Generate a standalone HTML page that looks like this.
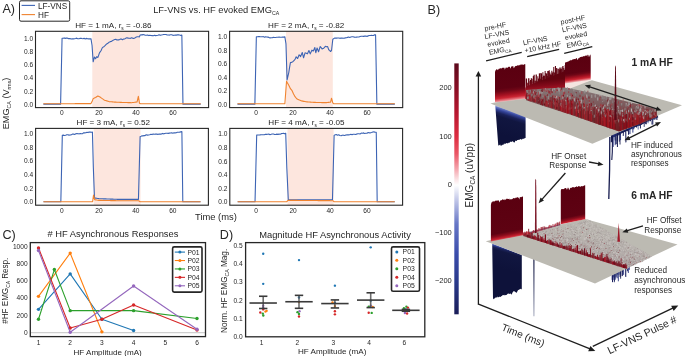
<!DOCTYPE html>
<html><head><meta charset="utf-8"><style>
html,body{margin:0;padding:0;background:#fff;width:685px;height:356px;overflow:hidden}
svg{display:block;font-family:"Liberation Sans",sans-serif;will-change:transform;filter:blur(0.3px)}
</style></head><body>
<svg width="685" height="356" viewBox="0 0 685 356">
<text x="2.4" y="12.9" font-size="12.6" fill="#262626">A)</text>
<rect x="19.5" y="0.8" width="50.2" height="20.4" rx="1.5" fill="#fff" stroke="#262626" stroke-width="1"/>
<line x1="21.6" y1="5.4" x2="35" y2="5.4" stroke="#3d64b4" stroke-width="1.1"/>
<line x1="21.6" y1="14.6" x2="35" y2="14.6" stroke="#f0832f" stroke-width="1.1"/>
<text x="38" y="9.4" font-size="8.2" fill="#262626">LF-VNS</text>
<text x="38" y="17.9" font-size="8.2" fill="#262626">HF</text>
<text x="153.2" y="12.8" font-size="9.3" fill="#262626">LF-VNS vs. HF evoked EMG<tspan font-size="5.2" dy="2.6">CA</tspan></text>
<rect x="92.3" y="31.3" width="47.7" height="76.3" fill="#fde6de"/>
<polyline points="43.37,104.13 44.44,104.13 45.52,104.13 46.6,104.13 47.67,104.13 48.75,104.13 49.82,104.13 50.9,104.13 51.98,104.13 53.05,104.13 54.13,104.13 55.21,104.13 56.28,104.13 57.36,104.13 58.43,104.13 59.51,104.13 60.59,104.13 62.07,38.18 63.14,38.31 64.21,37.92 65.29,38.38 66.36,38.01 67.44,38.15 68.67,38.61 69.9,38.47 71.14,39.06 72.25,38.68 73.36,38.9 74.47,38.82 75.58,38.49 76.69,38.11 77.75,38.71 78.81,38.68 79.87,38.41 80.92,38.2 81.98,38.54 83.04,38.73 84.1,38.32 85.24,39.03 86.38,38.37 87.52,38.79 88.66,38.89 89.81,38.89 90.95,38.71 92.06,45.51 93.17,61.78 94.47,56.95 95.58,58.67 96.69,56.66 97.8,57.44 98.63,55.33 99.46,52.85 101.13,50.51 102.24,47.84 103.35,46.93 104.18,46.46 105.02,45.69 106.68,43.97 107.89,43.3 109.09,42.13 110.2,41.65 111.31,41.45 112.42,40.63 113.53,40.11 114.64,39.51 115.76,39.3 116.87,39.97 117.98,39.76 119.09,39.88 120.2,39.09 121.31,39.05 122.42,39.75 123.62,39.03 124.83,38.93 125.94,38.07 127.05,37.64 128.16,38.15 129.27,38.27 130.38,38.35 131.49,37.69 132.6,38.13 133.71,38.5 134.82,38.04 135.94,37.18 137.14,36.74 138.34,36.75 139.45,36.86 140.01,35.31 141.04,34.83 142.08,34.9 143.12,34.66 144.15,34.82 145.19,35.26 146.35,35.23 147.51,35.04 148.66,35.59 149.82,35.29 150.98,35.56 152.13,35.64 153.29,35.73 154.45,35.21 155.61,35.63 156.76,35.46 157.92,35.26 159.08,34.8 160.23,35.34 161.39,34.97 162.55,34.81 163.71,34.47 164.86,34.56 166.02,34.56 167.18,35.06 168.33,35 169.49,35.08 170.65,34.71 171.8,34.7 172.96,35.37 174.07,35.28 175.18,35.17 176.29,35.11 177.4,34.85 178.52,34.7 179.63,35.06 180.74,35.38 181.85,35.16 182.96,104.13 184.07,104.13 185.18,104.13 186.29,104.13 187.4,104.13 188.51,104.13 189.62,104.13 190.73,104.13 191.85,104.13 192.96,104.13 194.07,104.13 195.18,104.13 196.29,104.13 197.4,104.13 198.51,104.13 199.62,104.13 200.73,104.13" fill="none" stroke="#3d64b4" stroke-width="1.1" stroke-linejoin="round"/>
<polyline points="43.37,103.8 44.47,103.8 45.58,103.8 46.69,103.79 47.79,103.79 48.9,103.78 50.01,103.78 51.11,103.77 52.22,103.77 53.33,103.76 54.43,103.76 55.54,103.75 56.65,103.75 57.75,103.75 58.86,103.74 59.97,103.74 61.07,103.73 62.18,103.73 63.29,103.72 64.39,103.72 65.5,103.71 66.6,103.71 67.71,103.7 68.82,103.7 69.92,103.7 71.03,103.69 72.14,103.69 73.24,103.68 74.35,103.68 75.46,103.67 76.56,103.67 77.67,103.66 78.78,103.66 79.88,103.65 80.99,103.65 82.1,103.64 83.2,103.64 84.31,103.64 85.42,103.63 86.52,103.63 87.63,103.62 88.73,103.62 89.84,103.61 90.95,103.61 92.06,101.58 93.17,98.64 94.37,98.08 95.58,97.52 96.69,96.74 97.8,95.95 98.91,96.51 100.02,97.06 101.13,97.85 102.24,98.64 103.35,99.42 104.46,100.21 105.62,100.55 106.78,100.89 107.93,101.24 109.09,101.58 110.2,101.69 111.31,101.81 112.42,101.92 113.53,102.04 114.64,102.09 115.76,102.14 116.87,102.19 117.98,102.23 119.09,102.28 120.2,102.33 121.31,102.38 122.42,102.43 123.55,102.46 124.69,102.5 125.82,102.53 126.96,102.56 128.09,102.59 129.22,102.63 130.36,102.66 131.49,102.69 132.6,102.56 133.71,102.43 134.82,102.3 135.94,102.17 137.05,102.04 138.34,96.41 139.45,103.15 140.56,103.74 141.68,103.74 142.79,103.74 143.91,103.74 145.02,103.74 146.13,103.75 147.25,103.75 148.36,103.75 149.48,103.75 150.59,103.75 151.71,103.75 152.82,103.75 153.93,103.75 155.05,103.75 156.16,103.76 157.28,103.76 158.39,103.76 159.51,103.76 160.62,103.76 161.73,103.76 162.85,103.76 163.96,103.76 165.08,103.77 166.19,103.77 167.3,103.77 168.42,103.77 169.53,103.77 170.65,103.77 171.76,103.77 172.88,103.77 173.99,103.78 175.1,103.78 176.22,103.78 177.33,103.78 178.45,103.78 179.56,103.78 180.68,103.78 181.79,103.78 182.9,103.79 184.02,103.79 185.13,103.79 186.25,103.79 187.36,103.79 188.48,103.79 189.59,103.79 190.7,103.79 191.82,103.79 192.93,103.8 194.05,103.8 195.16,103.8 196.27,103.8 197.39,103.8 198.5,103.8 199.62,103.8 200.73,103.8" fill="none" stroke="#f0832f" stroke-width="1.1" stroke-linejoin="round"/>
<rect x="35.5" y="31.3" width="173.1" height="76.3" fill="none" stroke="#262626" stroke-width="1.1"/>
<text x="33.1" y="106.63" font-size="6.6" text-anchor="end" fill="#262626">0.0</text>
<text x="33.1" y="93.54" font-size="6.6" text-anchor="end" fill="#262626">0.2</text>
<text x="33.1" y="80.46" font-size="6.6" text-anchor="end" fill="#262626">0.4</text>
<text x="33.1" y="67.37" font-size="6.6" text-anchor="end" fill="#262626">0.6</text>
<text x="33.1" y="54.28" font-size="6.6" text-anchor="end" fill="#262626">0.8</text>
<text x="33.1" y="41.19" font-size="6.6" text-anchor="end" fill="#262626">1.0</text>
<text x="61.88" y="115.2" font-size="6.6" text-anchor="middle" fill="#262626">0</text>
<text x="98.91" y="115.2" font-size="6.6" text-anchor="middle" fill="#262626">20</text>
<text x="135.94" y="115.2" font-size="6.6" text-anchor="middle" fill="#262626">40</text>
<text x="172.96" y="115.2" font-size="6.6" text-anchor="middle" fill="#262626">60</text>
<text x="113.35" y="27.9" font-size="8.1" text-anchor="middle" fill="#262626">HF = 1 mA, r<tspan font-size="4.8" dy="1.6">s</tspan><tspan dy="-1.6"> = -0.86</tspan></text>
<rect x="286" y="31.3" width="46.8" height="76.3" fill="#fde6de"/>
<polyline points="237.47,104.13 238.56,104.13 239.64,104.13 240.73,104.13 241.82,104.13 242.91,104.13 243.99,104.13 245.08,104.13 246.17,104.13 247.26,104.13 248.34,104.13 249.43,104.13 250.52,104.13 251.61,104.13 252.7,104.13 253.78,104.13 254.87,104.13 256.35,36.89 257.52,36.73 258.7,36.42 259.87,36.63 261.04,36.78 262.21,36.69 263.39,36.65 264.5,37.32 265.61,36.8 266.72,37.07 267.83,37.16 268.94,37.39 270.05,37.89 271.16,37.71 272.27,37.78 273.38,37.19 274.49,37.48 275.65,37.43 276.8,37.27 277.95,37.26 279.1,37.07 280.25,37.26 281.41,37.26 282.56,37.09 283.71,37.09 284.86,36.83 285.97,43.91 287.08,79.96 288.75,72.75 289.58,67.4 290.42,62.56 291.62,62.36 292.82,61.7 293.93,60.52 295.04,59.39 296.16,56.82 297.64,58.53 299.12,54.77 300.6,56.55 302.26,52.49 303.56,57.8 305.04,52.8 306.25,53.18 307.45,53.81 308.93,50.46 310.23,53.9 311.89,50.17 313.37,51.04 314.85,47.54 315.78,52.77 317.08,48 318.56,51.78 319.39,49.12 320.22,46.5 321.15,47.71 322.07,48.95 323.74,48.23 325.41,46.32 326.52,46.82 327.63,46.67 328.74,49.76 329.66,50.37 330.59,51.54 331.52,50.48 332.81,39.23 334.48,38.15 335.56,38.17 336.64,38.13 337.73,38.03 338.81,38.01 339.89,38.35 340.97,38.03 342.05,38.08 343.14,38.26 344.22,38.17 345.3,37.89 346.38,37.82 347.47,37.39 348.55,37.09 349.71,37.42 350.86,36.94 352.02,36.81 353.18,36.76 354.33,37.15 355.49,37.18 356.65,37.09 357.81,37.03 358.96,36.94 360.12,36.52 361.28,36.21 362.43,36.18 363.59,36.38 364.75,36.16 365.9,35.96 367.06,36.45 368.17,35.85 369.28,35.51 370.39,35.48 371.5,35.37 372.62,35.46 373.6,35.48 374.59,34.76 375.58,34.9 376.87,104.13 378,104.13 379.12,104.13 380.24,104.13 381.36,104.13 382.49,104.13 383.61,104.13 384.73,104.13 385.85,104.13 386.98,104.13 388.1,104.13 389.22,104.13 390.34,104.13 391.46,104.13 392.59,104.13 393.71,104.13 394.83,104.13" fill="none" stroke="#3d64b4" stroke-width="1.1" stroke-linejoin="round"/>
<polyline points="237.47,103.8 238.57,103.8 239.67,103.8 240.77,103.8 241.88,103.8 242.98,103.8 244.08,103.8 245.18,103.8 246.29,103.8 247.39,103.8 248.49,103.8 249.59,103.8 250.69,103.8 251.8,103.8 252.9,103.8 254,103.8 255.1,103.8 256.21,103.8 257.31,103.8 258.41,103.8 259.51,103.8 260.61,103.8 261.72,103.8 262.82,103.8 263.92,103.8 265.02,103.8 266.13,103.8 267.23,103.8 268.33,103.8 269.43,103.8 270.53,103.8 271.64,103.8 272.74,103.8 273.84,103.8 274.94,103.8 276.04,103.8 277.15,103.8 278.25,103.8 279.35,103.8 280.45,103.8 281.56,103.8 282.66,103.8 283.76,103.8 284.86,103.8 285.7,92.52 286.53,81.24 287.45,82.92 288.38,84.6 289.4,86.62 290.42,88.64 292.08,90.66 293.56,94.03 295.04,96.72 296.71,98.74 298.1,99.42 299.49,100.09 300.6,100.5 301.71,100.9 302.77,101.12 303.84,101.34 304.9,101.56 305.97,101.77 307.08,101.87 308.19,101.96 309.3,102.06 310.41,102.15 311.52,102.25 312.71,102.3 313.89,102.35 315.08,102.41 316.26,102.46 317.45,102.52 318.56,102.53 319.67,102.55 320.78,102.57 321.89,102.58 323,102.6 324.11,102.62 325.22,102.63 326.33,102.65 327.4,102.52 328.46,102.38 329.53,102.25 330.59,102.11 331.52,98.21 332.81,102.78 333.74,103.8 334.85,103.8 335.96,103.8 337.07,103.8 338.18,103.8 339.29,103.8 340.4,103.8 341.51,103.8 342.62,103.8 343.73,103.8 344.85,103.8 345.96,103.8 347.07,103.8 348.18,103.8 349.29,103.8 350.4,103.8 351.51,103.8 352.62,103.8 353.73,103.8 354.84,103.8 355.95,103.8 357.06,103.8 358.18,103.8 359.29,103.8 360.4,103.8 361.51,103.8 362.62,103.8 363.73,103.8 364.84,103.8 365.95,103.8 367.06,103.8 368.17,103.8 369.28,103.8 370.39,103.8 371.5,103.8 372.62,103.8 373.73,103.8 374.84,103.8 375.95,103.8 377.06,103.8 378.17,103.8 379.28,103.8 380.39,103.8 381.5,103.8 382.61,103.8 383.72,103.8 384.83,103.8 385.95,103.8 387.06,103.8 388.17,103.8 389.28,103.8 390.39,103.8 391.5,103.8 392.61,103.8 393.72,103.8 394.83,103.8" fill="none" stroke="#f0832f" stroke-width="1.1" stroke-linejoin="round"/>
<rect x="229.6" y="31.3" width="173.1" height="76.3" fill="none" stroke="#262626" stroke-width="1.1"/>
<text x="227.2" y="106.63" font-size="6.6" text-anchor="end" fill="#262626">0.0</text>
<text x="227.2" y="93.16" font-size="6.6" text-anchor="end" fill="#262626">0.2</text>
<text x="227.2" y="79.69" font-size="6.6" text-anchor="end" fill="#262626">0.4</text>
<text x="227.2" y="66.23" font-size="6.6" text-anchor="end" fill="#262626">0.6</text>
<text x="227.2" y="52.76" font-size="6.6" text-anchor="end" fill="#262626">0.8</text>
<text x="227.2" y="39.29" font-size="6.6" text-anchor="end" fill="#262626">1.0</text>
<text x="255.98" y="115.2" font-size="6.6" text-anchor="middle" fill="#262626">0</text>
<text x="293.01" y="115.2" font-size="6.6" text-anchor="middle" fill="#262626">20</text>
<text x="330.04" y="115.2" font-size="6.6" text-anchor="middle" fill="#262626">40</text>
<text x="367.06" y="115.2" font-size="6.6" text-anchor="middle" fill="#262626">60</text>
<text x="306.2" y="27.9" font-size="8.1" text-anchor="middle" fill="#262626">HF = 2 mA, r<tspan font-size="4.8" dy="1.6">s</tspan><tspan dy="-1.6"> = -0.82</tspan></text>
<rect x="93.7" y="128.4" width="46.8" height="76.8" fill="#fde6de"/>
<polyline points="43.45,201.72 44.54,201.72 45.63,201.72 46.71,201.72 47.8,201.72 48.88,201.72 49.97,201.72 51.05,201.72 52.14,201.72 53.23,201.72 54.31,201.72 55.4,201.72 56.48,201.72 57.57,201.72 58.66,201.72 59.74,201.72 60.83,201.72 62.31,135.38 63.41,135.11 64.52,135.45 65.63,135.32 66.74,134.75 67.85,134.8 68.96,135.13 70.07,135.03 71.18,134.89 72.33,134.14 73.49,134.1 74.64,134.51 75.8,133.82 76.95,133.57 78.11,133.71 79.26,133.83 80.42,133.54 81.51,133.73 82.6,133.68 83.69,132.75 84.79,132.86 85.88,132.81 86.97,132.33 88.06,132.59 89.15,132.09 90.25,131.97 91.34,132.33 92.43,132.15 93.35,167.65 94.46,197.98 95.57,198.15 96.68,198.32 97.79,198.49 98.9,198.66 100.05,198.7 101.21,198.74 102.36,198.79 103.52,198.83 104.67,198.87 105.83,198.91 106.98,198.96 108.14,199 109.29,199.04 110.45,199.08 111.6,199.13 112.76,199.17 113.91,199.21 115.07,199.25 116.22,199.3 117.38,199.34 118.53,199.34 119.69,199.34 120.84,199.34 122,199.34 123.16,199.34 124.31,199.34 125.47,199.34 126.62,199.34 127.7,199.34 128.77,199.34 129.85,199.34 130.92,199.34 132,199.34 133.07,199.34 134.15,199.34 135.22,199.34 136.3,199.34 137.37,199.34 138.45,199.34 140.11,136.47 141.11,136.31 142.11,135.83 143.11,135.89 144.1,135.55 145.1,135.58 146.26,134.82 147.41,135.15 148.57,134.93 149.72,134.7 150.88,134.31 152.03,134.58 153.19,134.05 154.34,134.26 155.5,134.15 156.65,134.07 157.81,134.4 158.96,133.97 160.12,134.09 161.27,134.16 162.43,133.42 163.58,133.85 164.74,133.52 165.89,133.22 167.05,133.28 168.2,133.38 169.36,133.14 170.51,133.02 171.67,132.75 172.82,133.22 173.96,132.73 175.09,132.86 176.22,132.72 177.35,132.2 178.48,132.3 179.62,132.13 180.75,131.85 181.88,131.61 182.8,201.72 183.91,201.72 185.02,201.72 186.13,201.72 187.24,201.72 188.35,201.72 189.46,201.72 190.57,201.72 191.67,201.72 192.78,201.72 193.89,201.72 195,201.72 196.11,201.72 197.22,201.72 198.33,201.72 199.44,201.72 200.55,201.72" fill="none" stroke="#3d64b4" stroke-width="1.1" stroke-linejoin="round"/>
<polyline points="43.45,201.72 44.57,201.72 45.69,201.72 46.81,201.72 47.92,201.72 49.04,201.72 50.16,201.72 51.28,201.72 52.39,201.72 53.51,201.72 54.63,201.72 55.74,201.72 56.86,201.72 57.98,201.72 59.1,201.72 60.21,201.72 61.33,201.72 62.45,201.72 63.57,201.72 64.68,201.72 65.8,201.72 66.92,201.72 68.03,201.72 69.15,201.72 70.27,201.72 71.39,201.72 72.5,201.72 73.62,201.72 74.74,201.72 75.86,201.72 76.97,201.72 78.09,201.72 79.21,201.72 80.32,201.72 81.44,201.72 82.56,201.72 83.68,201.72 84.79,201.72 85.91,201.72 87.03,201.72 88.15,201.72 89.26,201.72 90.38,201.72 91.5,201.72 92.61,201.72 93.54,195.11 94.65,199.68 95.71,199.85 96.77,200.02 97.84,200.19 98.9,200.36 99.99,200.38 101.07,200.4 102.16,200.42 103.25,200.44 104.33,200.46 105.42,200.48 106.51,200.5 107.6,200.52 108.68,200.54 109.77,200.56 110.86,200.58 111.94,200.6 113.03,200.62 114.12,200.64 115.21,200.66 116.29,200.68 117.38,200.7 118.5,200.7 119.62,200.7 120.74,200.7 121.85,200.7 122.97,200.7 124.09,200.7 125.21,200.7 126.33,200.7 127.45,200.7 128.57,200.7 129.68,200.7 130.8,200.7 131.92,200.7 133.04,200.7 134.16,200.7 135.28,200.7 136.4,200.7 137.51,200.7 138.63,200.7 140.11,201.72 141.21,201.72 142.31,201.72 143.41,201.72 144.51,201.72 145.61,201.72 146.7,201.72 147.8,201.72 148.9,201.72 150,201.72 151.1,201.72 152.2,201.72 153.3,201.72 154.4,201.72 155.49,201.72 156.59,201.72 157.69,201.72 158.79,201.72 159.89,201.72 160.99,201.72 162.09,201.72 163.19,201.72 164.29,201.72 165.38,201.72 166.48,201.72 167.58,201.72 168.68,201.72 169.78,201.72 170.88,201.72 171.98,201.72 173.08,201.72 174.17,201.72 175.27,201.72 176.37,201.72 177.47,201.72 178.57,201.72 179.67,201.72 180.77,201.72 181.87,201.72 182.96,201.72 184.06,201.72 185.16,201.72 186.26,201.72 187.36,201.72 188.46,201.72 189.56,201.72 190.66,201.72 191.76,201.72 192.85,201.72 193.95,201.72 195.05,201.72 196.15,201.72 197.25,201.72 198.35,201.72 199.45,201.72 200.55,201.72" fill="none" stroke="#f0832f" stroke-width="1.1" stroke-linejoin="round"/>
<rect x="35.6" y="128.4" width="172.8" height="76.8" fill="none" stroke="#262626" stroke-width="1.1"/>
<text x="33.2" y="204.22" font-size="6.6" text-anchor="end" fill="#262626">0.0</text>
<text x="33.2" y="190.6" font-size="6.6" text-anchor="end" fill="#262626">0.2</text>
<text x="33.2" y="176.97" font-size="6.6" text-anchor="end" fill="#262626">0.4</text>
<text x="33.2" y="163.34" font-size="6.6" text-anchor="end" fill="#262626">0.6</text>
<text x="33.2" y="149.71" font-size="6.6" text-anchor="end" fill="#262626">0.8</text>
<text x="33.2" y="136.08" font-size="6.6" text-anchor="end" fill="#262626">1.0</text>
<text x="61.94" y="212.8" font-size="6.6" text-anchor="middle" fill="#262626">0</text>
<text x="98.9" y="212.8" font-size="6.6" text-anchor="middle" fill="#262626">20</text>
<text x="135.86" y="212.8" font-size="6.6" text-anchor="middle" fill="#262626">40</text>
<text x="172.82" y="212.8" font-size="6.6" text-anchor="middle" fill="#262626">60</text>
<text x="113.3" y="125" font-size="8.1" text-anchor="middle" fill="#262626">HF = 3 mA, r<tspan font-size="4.8" dy="1.6">s</tspan><tspan dy="-1.6"> = 0.52</tspan></text>
<rect x="287.5" y="128.4" width="46.1" height="76.8" fill="#fde6de"/>
<polyline points="237.65,201.71 238.74,201.71 239.83,201.71 240.91,201.71 242,201.71 243.08,201.71 244.17,201.71 245.25,201.71 246.34,201.71 247.43,201.71 248.51,201.71 249.6,201.71 250.68,201.71 251.77,201.71 252.86,201.71 253.94,201.71 255.03,201.71 255.86,168.39 256.69,135.12 257.78,134.93 258.86,134.95 259.95,134.89 261.03,134.68 262.12,134.82 263.2,134.69 264.29,134.68 265.38,134.24 266.53,134.4 267.69,134.21 268.84,134.12 270,134.63 271.15,134.34 272.31,133.99 273.46,134.03 274.62,134.56 275.73,134.49 276.83,134.15 277.94,134.37 279.05,134.15 280.16,134.2 281.27,133.64 282.38,133.46 283.49,133.29 284.6,133.81 285.71,133.27 286.81,167.82 288.29,199.68 289.37,199.68 290.45,199.68 291.53,199.68 292.62,199.68 293.7,199.68 294.78,199.68 295.86,199.68 296.94,199.68 298.02,199.68 299.1,199.68 300.18,199.68 301.26,199.68 302.34,199.68 303.43,199.68 304.51,199.68 305.6,199.68 306.69,199.68 307.77,199.68 308.86,199.68 309.95,199.68 311.04,199.68 312.12,199.68 313.21,199.68 314.3,199.68 315.38,199.68 316.47,199.68 317.56,199.68 318.65,199.68 319.73,199.68 320.82,199.68 321.98,199.68 323.15,199.68 324.31,199.68 325.48,199.68 326.64,199.68 327.81,199.68 328.97,199.68 330.13,199.68 331.3,199.68 332.46,199.68 333.3,167.25 334.13,135.37 335.24,134.72 336.34,134.61 337.45,135.17 338.69,134.84 339.92,135.57 341.15,135.76 342.21,135.19 343.26,135.15 344.32,135.54 345.37,135.15 346.43,134.92 347.49,134.9 348.54,134.85 349.7,134.67 350.85,134.25 352.01,134.74 353.16,134.22 354.32,134.23 355.47,134.49 356.63,134.15 357.78,133.82 358.94,133.79 360.09,134.02 361.25,133.15 362.4,133.18 363.56,132.91 364.71,133.48 365.87,133.23 367.02,133.28 368.18,132.55 369.33,132.84 370.49,132.83 371.64,132.46 372.8,131.94 373.95,131.89 375.11,132.21 376.26,132.18 377.19,201.71 378.29,201.71 379.38,201.71 380.48,201.71 381.58,201.71 382.67,201.71 383.77,201.71 384.87,201.71 385.97,201.71 387.06,201.71 388.16,201.71 389.26,201.71 390.36,201.71 391.45,201.71 392.55,201.71 393.65,201.71 394.75,201.71" fill="none" stroke="#3d64b4" stroke-width="1.1" stroke-linejoin="round"/>
<polyline points="237.65,201.71 238.77,201.71 239.89,201.71 241.01,201.71 242.12,201.71 243.24,201.71 244.36,201.71 245.48,201.71 246.59,201.71 247.71,201.71 248.83,201.71 249.94,201.71 251.06,201.71 252.18,201.71 253.3,201.71 254.41,201.71 255.53,201.71 256.65,201.71 257.77,201.71 258.88,201.71 260,201.71 261.12,201.71 262.23,201.71 263.35,201.71 264.47,201.71 265.59,201.71 266.7,201.71 267.82,201.71 268.94,201.71 270.06,201.71 271.17,201.71 272.29,201.71 273.41,201.71 274.52,201.71 275.64,201.71 276.76,201.71 277.88,201.71 278.99,201.71 280.11,201.71 281.23,201.71 282.35,201.71 283.46,201.71 284.58,201.71 285.7,201.71 286.81,201.71 287.92,200.35 289.05,200.36 290.17,200.37 291.29,200.38 292.41,200.39 293.54,200.4 294.66,200.4 295.78,200.41 296.91,200.42 298.03,200.43 299.15,200.44 300.27,200.45 301.4,200.46 302.52,200.46 303.64,200.47 304.76,200.48 305.89,200.49 307.01,200.5 308.13,200.51 309.26,200.51 310.38,200.52 311.5,200.53 312.62,200.54 313.75,200.55 314.87,200.56 315.99,200.57 317.11,200.57 318.24,200.58 319.36,200.59 320.48,200.6 321.61,200.61 322.73,200.62 323.85,200.62 324.97,200.63 326.1,200.64 327.22,200.65 328.34,200.66 329.46,200.67 330.59,200.68 331.71,200.68 332.83,200.69 334.13,201.71 335.23,201.71 336.33,201.71 337.43,201.71 338.54,201.71 339.64,201.71 340.74,201.71 341.84,201.71 342.94,201.71 344.05,201.71 345.15,201.71 346.25,201.71 347.35,201.71 348.45,201.71 349.56,201.71 350.66,201.71 351.76,201.71 352.86,201.71 353.97,201.71 355.07,201.71 356.17,201.71 357.27,201.71 358.37,201.71 359.48,201.71 360.58,201.71 361.68,201.71 362.78,201.71 363.89,201.71 364.99,201.71 366.09,201.71 367.19,201.71 368.29,201.71 369.4,201.71 370.5,201.71 371.6,201.71 372.7,201.71 373.8,201.71 374.91,201.71 376.01,201.71 377.11,201.71 378.21,201.71 379.32,201.71 380.42,201.71 381.52,201.71 382.62,201.71 383.72,201.71 384.83,201.71 385.93,201.71 387.03,201.71 388.13,201.71 389.23,201.71 390.34,201.71 391.44,201.71 392.54,201.71 393.64,201.71 394.75,201.71" fill="none" stroke="#f0832f" stroke-width="1.1" stroke-linejoin="round"/>
<rect x="229.8" y="128.4" width="172.8" height="76.8" fill="none" stroke="#262626" stroke-width="1.1"/>
<text x="227.4" y="204.21" font-size="6.6" text-anchor="end" fill="#262626">0.0</text>
<text x="227.4" y="190.65" font-size="6.6" text-anchor="end" fill="#262626">0.2</text>
<text x="227.4" y="177.1" font-size="6.6" text-anchor="end" fill="#262626">0.4</text>
<text x="227.4" y="163.54" font-size="6.6" text-anchor="end" fill="#262626">0.6</text>
<text x="227.4" y="149.98" font-size="6.6" text-anchor="end" fill="#262626">0.8</text>
<text x="227.4" y="136.42" font-size="6.6" text-anchor="end" fill="#262626">1.0</text>
<text x="256.14" y="212.8" font-size="6.6" text-anchor="middle" fill="#262626">0</text>
<text x="293.1" y="212.8" font-size="6.6" text-anchor="middle" fill="#262626">20</text>
<text x="330.06" y="212.8" font-size="6.6" text-anchor="middle" fill="#262626">40</text>
<text x="367.02" y="212.8" font-size="6.6" text-anchor="middle" fill="#262626">60</text>
<text x="306.4" y="125" font-size="8.1" text-anchor="middle" fill="#262626">HF = 4 mA, r<tspan font-size="4.8" dy="1.6">s</tspan><tspan dy="-1.6"> = -0.05</tspan></text>
<text x="195" y="219.9" font-size="9.4" fill="#262626">Time (ms)</text>
<text transform="translate(9.0,129.2) rotate(-90)" font-size="8.6" fill="#262626" textLength="51.6" lengthAdjust="spacingAndGlyphs">EMG<tspan font-size="5" dy="2">CA</tspan><tspan dy="-2"> (V</tspan><tspan font-size="5" dy="2">rms</tspan><tspan dy="-2">)</tspan></text>
<text x="2.5" y="238.5" font-size="12.6" fill="#262626">C)</text>
<text x="47.5" y="236.7" font-size="9.35" fill="#262626"># HF Asynchronous Responses</text>
<line x1="30.3" y1="332.7" x2="205.5" y2="332.7" stroke="#cfcfcf" stroke-width="1.2"/>
<polyline points="38.5,309.34 70.2,273.88 101.9,319.29 133.6,330.54" fill="none" stroke="#1f77b4" stroke-width="1.1" stroke-linejoin="round"/>
<circle cx="38.5" cy="309.34" r="1.7" fill="#1f77b4"/>
<circle cx="70.2" cy="273.88" r="1.7" fill="#1f77b4"/>
<circle cx="101.9" cy="319.29" r="1.7" fill="#1f77b4"/>
<circle cx="133.6" cy="330.54" r="1.7" fill="#1f77b4"/>
<polyline points="38.5,296.37 70.2,253.12 101.9,331.83" fill="none" stroke="#ff7f0e" stroke-width="1.1" stroke-linejoin="round"/>
<circle cx="38.5" cy="296.37" r="1.7" fill="#ff7f0e"/>
<circle cx="70.2" cy="253.12" r="1.7" fill="#ff7f0e"/>
<circle cx="101.9" cy="331.83" r="1.7" fill="#ff7f0e"/>
<polyline points="38.5,319.29 54.35,269.56 70.2,310.64 133.6,310.64 197,318.43" fill="none" stroke="#2ca02c" stroke-width="1.1" stroke-linejoin="round"/>
<circle cx="38.5" cy="319.29" r="1.7" fill="#2ca02c"/>
<circle cx="54.35" cy="269.56" r="1.7" fill="#2ca02c"/>
<circle cx="70.2" cy="310.64" r="1.7" fill="#2ca02c"/>
<circle cx="133.6" cy="310.64" r="1.7" fill="#2ca02c"/>
<circle cx="197" cy="318.43" r="1.7" fill="#2ca02c"/>
<polyline points="38.5,247.93 70.2,327.94 101.9,319.29 133.6,305.02 197,330.1" fill="none" stroke="#d62728" stroke-width="1.1" stroke-linejoin="round"/>
<circle cx="38.5" cy="247.93" r="1.7" fill="#d62728"/>
<circle cx="70.2" cy="327.94" r="1.7" fill="#d62728"/>
<circle cx="101.9" cy="319.29" r="1.7" fill="#d62728"/>
<circle cx="133.6" cy="305.02" r="1.7" fill="#d62728"/>
<circle cx="197" cy="330.1" r="1.7" fill="#d62728"/>
<polyline points="38.5,250.52 70.2,332.27 133.6,285.99 197,329.24" fill="none" stroke="#9467bd" stroke-width="1.1" stroke-linejoin="round"/>
<circle cx="38.5" cy="250.52" r="1.7" fill="#9467bd"/>
<circle cx="70.2" cy="332.27" r="1.7" fill="#9467bd"/>
<circle cx="133.6" cy="285.99" r="1.7" fill="#9467bd"/>
<circle cx="197" cy="329.24" r="1.7" fill="#9467bd"/>
<rect x="30.3" y="242.6" width="175.2" height="94" fill="none" stroke="#262626" stroke-width="1.3"/>
<text x="27.6" y="335" font-size="6.6" text-anchor="end" fill="#262626">0</text>
<text x="27.6" y="317.7" font-size="6.6" text-anchor="end" fill="#262626">200</text>
<text x="27.6" y="300.4" font-size="6.6" text-anchor="end" fill="#262626">400</text>
<text x="27.6" y="283.1" font-size="6.6" text-anchor="end" fill="#262626">600</text>
<text x="27.6" y="265.8" font-size="6.6" text-anchor="end" fill="#262626">800</text>
<text x="27.6" y="248.5" font-size="6.6" text-anchor="end" fill="#262626">1000</text>
<text x="38.5" y="344.6" font-size="6.6" text-anchor="middle" fill="#262626">1</text>
<text x="70.2" y="344.6" font-size="6.6" text-anchor="middle" fill="#262626">2</text>
<text x="101.9" y="344.6" font-size="6.6" text-anchor="middle" fill="#262626">3</text>
<text x="133.6" y="344.6" font-size="6.6" text-anchor="middle" fill="#262626">4</text>
<text x="165.3" y="344.6" font-size="6.6" text-anchor="middle" fill="#262626">5</text>
<text x="197" y="344.6" font-size="6.6" text-anchor="middle" fill="#262626">6</text>
<text x="73.4" y="354.6" font-size="8.1" fill="#262626">HF Amplitude (mA)</text>
<text transform="translate(8.0,323.7) rotate(-90)" font-size="8.2" fill="#262626" textLength="66" lengthAdjust="spacingAndGlyphs">#HF EMG<tspan font-size="5" dy="1.8">CA</tspan><tspan dy="-1.8"> Resp.</tspan></text>
<rect x="172.6" y="246.9" width="29.4" height="45.2" rx="1.6" fill="#fff" stroke="#262626" stroke-width="1.6"/>
<line x1="174.8" y1="252.1" x2="185" y2="252.1" stroke="#1f77b4" stroke-width="1.1"/>
<circle cx="179.9" cy="252.1" r="1.5" fill="#1f77b4"/>
<text x="187.4" y="254.5" font-size="6.8" fill="#262626">P01</text>
<line x1="174.8" y1="260.52" x2="185" y2="260.52" stroke="#ff7f0e" stroke-width="1.1"/>
<circle cx="179.9" cy="260.52" r="1.5" fill="#ff7f0e"/>
<text x="187.4" y="262.92" font-size="6.8" fill="#262626">P02</text>
<line x1="174.8" y1="268.94" x2="185" y2="268.94" stroke="#2ca02c" stroke-width="1.1"/>
<circle cx="179.9" cy="268.94" r="1.5" fill="#2ca02c"/>
<text x="187.4" y="271.34" font-size="6.8" fill="#262626">P03</text>
<line x1="174.8" y1="277.36" x2="185" y2="277.36" stroke="#d62728" stroke-width="1.1"/>
<circle cx="179.9" cy="277.36" r="1.5" fill="#d62728"/>
<text x="187.4" y="279.76" font-size="6.8" fill="#262626">P04</text>
<line x1="174.8" y1="285.78" x2="185" y2="285.78" stroke="#9467bd" stroke-width="1.1"/>
<circle cx="179.9" cy="285.78" r="1.5" fill="#9467bd"/>
<text x="187.4" y="288.18" font-size="6.8" fill="#262626">P05</text>
<text x="219.8" y="239.2" font-size="12.6" fill="#262626">D)</text>
<text x="259.2" y="237.8" font-size="9.35" fill="#262626">Magnitude HF Asynchronous Activity</text>
<text x="242.6" y="339.1" font-size="6.6" text-anchor="end" fill="#262626">0.0</text>
<text x="242.6" y="320.84" font-size="6.6" text-anchor="end" fill="#262626">0.1</text>
<text x="242.6" y="302.58" font-size="6.6" text-anchor="end" fill="#262626">0.2</text>
<text x="242.6" y="284.32" font-size="6.6" text-anchor="end" fill="#262626">0.3</text>
<text x="242.6" y="266.06" font-size="6.6" text-anchor="end" fill="#262626">0.4</text>
<text x="242.6" y="247.8" font-size="6.6" text-anchor="end" fill="#262626">0.5</text>
<text x="261.6" y="344.6" font-size="6.6" text-anchor="middle" fill="#262626">1</text>
<text x="297.4" y="344.6" font-size="6.6" text-anchor="middle" fill="#262626">2</text>
<text x="333.3" y="344.6" font-size="6.6" text-anchor="middle" fill="#262626">3</text>
<text x="369.1" y="344.6" font-size="6.6" text-anchor="middle" fill="#262626">4</text>
<text x="404.3" y="344.6" font-size="6.6" text-anchor="middle" fill="#262626">6</text>
<text x="298" y="354.4" font-size="8.1" fill="#262626">HF Amplitude (mA)</text>
<text transform="translate(226.9,332.9) rotate(-90)" font-size="8.2" fill="#262626">Norm. HF EMG<tspan font-size="5.2" dy="1.8">CA</tspan><tspan dy="-1.8"> Mag.</tspan></text>
<circle cx="263.2" cy="253.72" r="1.2" fill="#1f77b4"/>
<circle cx="263.2" cy="283.85" r="1.2" fill="#1f77b4"/>
<circle cx="263.2" cy="305.76" r="1.2" fill="#9467bd"/>
<circle cx="263.2" cy="307.58" r="1.2" fill="#9467bd"/>
<circle cx="263.2" cy="309.41" r="1.2" fill="#d62728"/>
<circle cx="260.3" cy="312.51" r="1.2" fill="#d62728"/>
<circle cx="265.5" cy="311.6" r="1.2" fill="#ff7f0e"/>
<circle cx="266.6" cy="310.87" r="1.2" fill="#ff7f0e"/>
<circle cx="262.8" cy="313.61" r="1.2" fill="#2ca02c"/>
<circle cx="263.3" cy="315.44" r="1.2" fill="#2ca02c"/>
<circle cx="299" cy="260.11" r="1.2" fill="#1f77b4"/>
<circle cx="299" cy="297.54" r="1.2" fill="#1f77b4"/>
<circle cx="299" cy="302.11" r="1.2" fill="#ff7f0e"/>
<circle cx="299.5" cy="311.24" r="1.2" fill="#9467bd"/>
<circle cx="297.5" cy="312.15" r="1.2" fill="#2ca02c"/>
<circle cx="299" cy="313.98" r="1.2" fill="#2ca02c"/>
<circle cx="299" cy="316.53" r="1.2" fill="#d62728"/>
<circle cx="334.9" cy="285.67" r="1.2" fill="#1f77b4"/>
<circle cx="334.9" cy="302.84" r="1.2" fill="#1f77b4"/>
<circle cx="332.5" cy="302.47" r="1.2" fill="#ff7f0e"/>
<circle cx="334.9" cy="306.12" r="1.2" fill="#ff7f0e"/>
<circle cx="334.9" cy="311.24" r="1.2" fill="#d62728"/>
<circle cx="334.9" cy="314.34" r="1.2" fill="#d62728"/>
<circle cx="370.7" cy="247.33" r="1.2" fill="#1f77b4"/>
<circle cx="370.7" cy="300.65" r="1.2" fill="#1f77b4"/>
<circle cx="370.7" cy="305.76" r="1.2" fill="#9467bd"/>
<circle cx="368.7" cy="306.67" r="1.2" fill="#2ca02c"/>
<circle cx="372.7" cy="307.04" r="1.2" fill="#ff7f0e"/>
<circle cx="368.7" cy="312.7" r="1.2" fill="#d62728"/>
<circle cx="371.7" cy="312.88" r="1.2" fill="#2ca02c"/>
<circle cx="406.4" cy="306.67" r="1.2" fill="#2ca02c"/>
<circle cx="403.9" cy="308.13" r="1.2" fill="#2ca02c"/>
<circle cx="407.9" cy="307.58" r="1.2" fill="#d62728"/>
<circle cx="405.9" cy="309.41" r="1.2" fill="#1f77b4"/>
<circle cx="404.9" cy="311.24" r="1.2" fill="#ff7f0e"/>
<circle cx="407.4" cy="310.14" r="1.2" fill="#9467bd"/>
<circle cx="404.9" cy="313.06" r="1.2" fill="#9467bd"/>
<circle cx="407.1" cy="313.43" r="1.2" fill="#d62728"/>
<line x1="263.2" y1="296.26" x2="263.2" y2="308.5" stroke="#555" stroke-width="1.6" stroke-opacity="0.85"/>
<line x1="259" y1="296.26" x2="267.4" y2="296.26" stroke="#3a3a3a" stroke-width="1.6"/>
<line x1="259" y1="308.5" x2="267.4" y2="308.5" stroke="#3a3a3a" stroke-width="1.6"/>
<line x1="249.5" y1="303.02" x2="276.9" y2="303.02" stroke="#3a3a3a" stroke-width="1.6"/>
<line x1="299" y1="295.35" x2="299" y2="308.31" stroke="#555" stroke-width="1.6" stroke-opacity="0.85"/>
<line x1="294.8" y1="295.35" x2="303.2" y2="295.35" stroke="#3a3a3a" stroke-width="1.6"/>
<line x1="294.8" y1="308.31" x2="303.2" y2="308.31" stroke="#3a3a3a" stroke-width="1.6"/>
<line x1="285.3" y1="301.74" x2="312.7" y2="301.74" stroke="#3a3a3a" stroke-width="1.6"/>
<line x1="334.9" y1="299.91" x2="334.9" y2="307.95" stroke="#555" stroke-width="1.6" stroke-opacity="0.85"/>
<line x1="330.7" y1="299.91" x2="339.1" y2="299.91" stroke="#3a3a3a" stroke-width="1.6"/>
<line x1="330.7" y1="307.95" x2="339.1" y2="307.95" stroke="#3a3a3a" stroke-width="1.6"/>
<line x1="321.2" y1="303.57" x2="348.6" y2="303.57" stroke="#3a3a3a" stroke-width="1.6"/>
<line x1="370.7" y1="292.79" x2="370.7" y2="307.58" stroke="#555" stroke-width="1.6" stroke-opacity="0.85"/>
<line x1="366.5" y1="292.79" x2="374.9" y2="292.79" stroke="#3a3a3a" stroke-width="1.6"/>
<line x1="366.5" y1="307.58" x2="374.9" y2="307.58" stroke="#3a3a3a" stroke-width="1.6"/>
<line x1="357" y1="300.1" x2="384.4" y2="300.1" stroke="#3a3a3a" stroke-width="1.6"/>
<line x1="405.9" y1="309.41" x2="405.9" y2="311.24" stroke="#555" stroke-width="1.6" stroke-opacity="0.85"/>
<line x1="401.7" y1="309.41" x2="410.1" y2="309.41" stroke="#3a3a3a" stroke-width="1.6"/>
<line x1="401.7" y1="311.24" x2="410.1" y2="311.24" stroke="#3a3a3a" stroke-width="1.6"/>
<line x1="392.2" y1="310.32" x2="419.6" y2="310.32" stroke="#3a3a3a" stroke-width="1.6"/>
<rect x="245.6" y="242.6" width="179.2" height="94.2" fill="none" stroke="#262626" stroke-width="1.3"/>
<rect x="391.5" y="246.9" width="28" height="44.4" rx="1.6" fill="#fff" stroke="#262626" stroke-width="1.6"/>
<circle cx="396.8" cy="251.9" r="1.5" fill="#1f77b4"/>
<text x="402.6" y="254.3" font-size="6.8" fill="#262626">P01</text>
<circle cx="396.8" cy="260.37" r="1.5" fill="#ff7f0e"/>
<text x="402.6" y="262.77" font-size="6.8" fill="#262626">P02</text>
<circle cx="396.8" cy="268.84" r="1.5" fill="#2ca02c"/>
<text x="402.6" y="271.24" font-size="6.8" fill="#262626">P03</text>
<circle cx="396.8" cy="277.31" r="1.5" fill="#d62728"/>
<text x="402.6" y="279.71" font-size="6.8" fill="#262626">P04</text>
<circle cx="396.8" cy="285.78" r="1.5" fill="#9467bd"/>
<text x="402.6" y="288.18" font-size="6.8" fill="#262626">P05</text>
<defs>
<linearGradient id="cbar" x1="0" y1="0" x2="0" y2="1">
<stop offset="0" stop-color="#5c0a1c"/><stop offset="0.1" stop-color="#8a0e24"/>
<stop offset="0.2" stop-color="#b81830"/><stop offset="0.29" stop-color="#dc2c40"/>
<stop offset="0.36" stop-color="#ea5666"/><stop offset="0.42" stop-color="#f4a4ac"/>
<stop offset="0.465" stop-color="#fbe6e8"/><stop offset="0.485" stop-color="#ffffff"/><stop offset="0.54" stop-color="#c6cbea"/>
<stop offset="0.64" stop-color="#6676c6"/><stop offset="0.76" stop-color="#3a4cab"/>
<stop offset="0.88" stop-color="#283888"/><stop offset="1" stop-color="#1a1d58"/>
</linearGradient>
<linearGradient id="gw1" gradientUnits="userSpaceOnUse" x1="510" y1="66" x2="514.3" y2="101"><stop offset="0" stop-color="#5a0010"/><stop offset="0.6" stop-color="#5e0112"/><stop offset="0.68" stop-color="#6e0616"/><stop offset="0.8" stop-color="#a81222"/><stop offset="0.88" stop-color="#cc2634"/><stop offset="0.95" stop-color="#e88088"/><stop offset="1" stop-color="#f4e4e0"/></linearGradient>
<linearGradient id="gw2" gradientUnits="userSpaceOnUse" x1="578" y1="57.5" x2="581.5" y2="81.5"><stop offset="0" stop-color="#5a0010"/><stop offset="0.6" stop-color="#5e0112"/><stop offset="0.68" stop-color="#6e0616"/><stop offset="0.8" stop-color="#a81222"/><stop offset="0.88" stop-color="#cc2634"/><stop offset="0.95" stop-color="#e88088"/><stop offset="1" stop-color="#f4e4e0"/></linearGradient>
<linearGradient id="gw3" gradientUnits="userSpaceOnUse" x1="507" y1="198.5" x2="514.7" y2="238.5"><stop offset="0" stop-color="#5a0010"/><stop offset="0.8" stop-color="#5e0212"/><stop offset="0.87" stop-color="#8a0c1c"/><stop offset="0.93" stop-color="#c41e2e"/><stop offset="0.97" stop-color="#e06068"/><stop offset="1" stop-color="#eed0cc"/></linearGradient>
<linearGradient id="gw4" gradientUnits="userSpaceOnUse" x1="573" y1="187" x2="580.2" y2="222"><stop offset="0" stop-color="#5a0010"/><stop offset="0.8" stop-color="#5e0212"/><stop offset="0.87" stop-color="#8a0c1c"/><stop offset="0.93" stop-color="#c41e2e"/><stop offset="0.97" stop-color="#e06068"/><stop offset="1" stop-color="#eed0cc"/></linearGradient>
<linearGradient id="gb1" gradientUnits="userSpaceOnUse" x1="507" y1="109" x2="499" y2="134"><stop offset="0" stop-color="#c8cce8"/><stop offset="0.05" stop-color="#6474c0"/><stop offset="0.13" stop-color="#34449a"/><stop offset="0.24" stop-color="#1a2158"/><stop offset="0.36" stop-color="#111640"/><stop offset="1" stop-color="#0e123a"/></linearGradient>
<linearGradient id="gb2" gradientUnits="userSpaceOnUse" x1="506" y1="247" x2="500" y2="268"><stop offset="0" stop-color="#c8cce8"/><stop offset="0.03" stop-color="#6474c0"/><stop offset="0.08" stop-color="#34449a"/><stop offset="0.15" stop-color="#1a2158"/><stop offset="0.25" stop-color="#111640"/><stop offset="1" stop-color="#0e123a"/></linearGradient>
<linearGradient id="ghf1" gradientUnits="userSpaceOnUse" x1="545" y1="66" x2="548" y2="97"><stop offset="0" stop-color="#5a0010"/><stop offset="0.45" stop-color="#62030f"/><stop offset="0.62" stop-color="#820a1a"/><stop offset="0.8" stop-color="#b41626"/><stop offset="1" stop-color="#c42434"/></linearGradient>
<linearGradient id="ghfbg" gradientUnits="userSpaceOnUse" x1="545" y1="70" x2="548" y2="97"><stop offset="0" stop-color="#a04050"/><stop offset="0.5" stop-color="#a82838"/><stop offset="1" stop-color="#c03040"/></linearGradient>
</defs>
<text x="427.6" y="13.9" font-size="12.6" fill="#262626">B)</text>
<rect x="454.3" y="63.4" width="4.4" height="250.9" fill="url(#cbar)"/>
<text x="451.8" y="90.1" font-size="7.5" text-anchor="end" fill="#262626">200</text>
<text x="451.8" y="138.7" font-size="7.5" text-anchor="end" fill="#262626">100</text>
<text x="451.8" y="187.3" font-size="7.5" text-anchor="end" fill="#262626">0</text>
<text x="451.8" y="235.4" font-size="7.5" text-anchor="end" fill="#262626">−100</text>
<text x="451.8" y="283.4" font-size="7.5" text-anchor="end" fill="#262626">−200</text>
<text transform="translate(472.6,207.4) rotate(-90)" font-size="10" fill="#262626">EMG<tspan font-size="6.4" dy="2.4">CA</tspan><tspan dy="-2.4"> (uVpp)</tspan></text>
<line x1="478.4" y1="304.3" x2="478.4" y2="75" stroke="#1e1e1e" stroke-width="1.3"/>
<polygon points="478.4,71 481.2,76.5 475.6,76.5" fill="#1e1e1e"/>
<line x1="477.9" y1="303.8" x2="590.67" y2="349.22" stroke="#1e1e1e" stroke-width="1.3"/>
<polygon points="595.3,351.1 588.19,351.35 590.36,345.97" fill="#1e1e1e"/>
<line x1="592.8" y1="346.4" x2="673.79" y2="307.66" stroke="#1e1e1e" stroke-width="1.3"/>
<polygon points="678.3,305.5 673.69,310.92 671.18,305.69" fill="#1e1e1e"/>
<text transform="translate(500.8,330.0) rotate(22)" font-size="10.2" fill="#262626">Time (ms)</text>
<text transform="translate(609.6,354.2) rotate(-25.4)" font-size="10.5" fill="#262626">LF-VNS Pulse #</text>
<g transform="translate(495.8,28.8) rotate(-11)" font-size="7.0" fill="#262626" text-anchor="middle"><text x="0" y="0">pre-HF</text><text x="0" y="8.1">LF-VNS</text><text x="0" y="16.2">evoked</text><text x="0" y="24.3">EMG<tspan font-size="4.6" dy="1.6">CA</tspan></text></g>
<g transform="translate(523.5,45.3) rotate(-11)" font-size="7.0" fill="#262626"><text x="0" y="0">LF-VNS</text><text x="0" y="7.9">+10 kHz HF</text></g>
<g transform="translate(573.3,22) rotate(-11)" font-size="7.0" fill="#262626" text-anchor="middle"><text x="0" y="0">post-HF</text><text x="0" y="8.1">LF-VNS</text><text x="0" y="16.2">evoked</text><text x="0" y="24.3">EMG<tspan font-size="4.6" dy="1.6">CA</tspan></text></g>
<line x1="486.1" y1="60.8" x2="521.7" y2="52.4" stroke="#1e1e1e" stroke-width="1.3"/>
<line x1="527.2" y1="56.6" x2="559.1" y2="49.4" stroke="#1e1e1e" stroke-width="1.3"/>
<line x1="564.2" y1="53.4" x2="592.3" y2="46.6" stroke="#1e1e1e" stroke-width="1.3"/>
<polygon points="495.2,104.5 525.6,116.5 525.6,137.97 524.76,138.05 524.16,138.84 523.37,138.87 522.65,138.74 521.8,139.72 521.11,139.17 520.49,139.09 519.6,139.77 518.99,139.79 517.99,140 517.38,139.94 516.48,141.09 515.88,140.99 515.29,140.4 514.74,142.58 513.65,142.31 512.67,141.11 511.93,141.9 510.87,141.47 509.85,142.32 508.83,143.16 508.3,142.49 507.62,143.58 506.5,143.04 505.73,143.57 504.84,144.32 504.08,143.3 503.44,145.1 502.95,144.47 502.06,145.26 501.55,145.13 501.01,146.36 500.13,144.57 499.27,145.22 498.2,145.48 498.2,144.8" fill="url(#gb1)"/>
<polygon points="611,134.7 657.5,114.71 657.5,116.91 611,138.2" fill="#1a2058"/>
<line x1="619.83" y1="130.91" x2="620.06" y2="144.51" stroke="#151a4e" stroke-width="0.8685828895789431"/>
<line x1="615.83" y1="132.63" x2="615.68" y2="144.26" stroke="#283480" stroke-width="0.8173741385938949"/>
<line x1="619.16" y1="131.19" x2="619.37" y2="141.67" stroke="#151a4e" stroke-width="0.812087757028342"/>
<line x1="653.66" y1="116.36" x2="653.52" y2="117.9" stroke="#283480" stroke-width="0.7996256114854084"/>
<line x1="613.17" y1="133.77" x2="612.92" y2="136.6" stroke="#181e58" stroke-width="1.056376091987925"/>
<line x1="656.59" y1="115.1" x2="656.64" y2="118.33" stroke="#181e58" stroke-width="0.9359502525182979"/>
<line x1="653.95" y1="116.23" x2="653.83" y2="118.63" stroke="#151a4e" stroke-width="0.7085036712836406"/>
<line x1="640.58" y1="121.98" x2="640.47" y2="125.31" stroke="#151a4e" stroke-width="0.7301051600369535"/>
<line x1="636.39" y1="123.78" x2="636.54" y2="127.53" stroke="#181e58" stroke-width="1.0173066704373936"/>
<line x1="653.55" y1="116.41" x2="653.79" y2="119.62" stroke="#283480" stroke-width="1.0776957386449935"/>
<line x1="612.41" y1="134.1" x2="612.34" y2="135.63" stroke="#151a4e" stroke-width="0.943546760297564"/>
<line x1="614.73" y1="133.1" x2="614.87" y2="137.08" stroke="#283480" stroke-width="1.0737005941123907"/>
<line x1="643.28" y1="120.82" x2="643.3" y2="123.48" stroke="#151a4e" stroke-width="0.8240939962902226"/>
<line x1="615.08" y1="132.95" x2="615.18" y2="145.19" stroke="#283480" stroke-width="0.8023320880425526"/>
<line x1="611.53" y1="134.48" x2="611.77" y2="141.83" stroke="#283480" stroke-width="0.8993244167915788"/>
<line x1="622.23" y1="129.87" x2="622.41" y2="132" stroke="#181e58" stroke-width="1.0521075672334113"/>
<line x1="628.88" y1="127.02" x2="628.66" y2="129.31" stroke="#283480" stroke-width="0.840298056116985"/>
<line x1="652.65" y1="116.79" x2="652.94" y2="118.45" stroke="#181e58" stroke-width="0.7451317502577586"/>
<line x1="632.92" y1="125.28" x2="632.85" y2="132.6" stroke="#283480" stroke-width="0.968858919487511"/>
<line x1="644.31" y1="120.38" x2="644.2" y2="126.88" stroke="#151a4e" stroke-width="0.8112494852329166"/>
<line x1="639.25" y1="122.55" x2="639.16" y2="124.76" stroke="#151a4e" stroke-width="0.9563942168232238"/>
<line x1="629.84" y1="126.6" x2="629.7" y2="130.02" stroke="#181e58" stroke-width="1.0187389255969006"/>
<line x1="656.76" y1="115.03" x2="656.78" y2="116.8" stroke="#1c2260" stroke-width="1.083384260767604"/>
<line x1="642.83" y1="121.02" x2="642.64" y2="123.7" stroke="#151a4e" stroke-width="1.0020203842884288"/>
<line x1="635.87" y1="124.01" x2="636.04" y2="126.07" stroke="#181e58" stroke-width="0.8574064846299941"/>
<line x1="647.82" y1="118.87" x2="648.08" y2="123.22" stroke="#283480" stroke-width="0.751963968427488"/>
<line x1="632.09" y1="125.63" x2="632.02" y2="129.41" stroke="#1c2260" stroke-width="0.8854830930425742"/>
<line x1="641.29" y1="121.68" x2="641.48" y2="124.98" stroke="#151a4e" stroke-width="0.7853186316558477"/>
<line x1="652.85" y1="116.71" x2="652.87" y2="124.62" stroke="#1c2260" stroke-width="0.8047532615363291"/>
<line x1="644.4" y1="120.34" x2="644.12" y2="123.1" stroke="#1c2260" stroke-width="0.9201207709950717"/>
<line x1="646.72" y1="119.34" x2="646.91" y2="120.91" stroke="#151a4e" stroke-width="0.8715737217660542"/>
<line x1="612.63" y1="134" x2="612.61" y2="137.22" stroke="#283480" stroke-width="1.0782989587781988"/>
<line x1="633.91" y1="124.85" x2="633.74" y2="129.2" stroke="#1c2260" stroke-width="1.032463877585063"/>
<line x1="637.11" y1="123.47" x2="637.36" y2="126.26" stroke="#1c2260" stroke-width="0.8246790250280459"/>
<line x1="628.73" y1="127.08" x2="628.55" y2="134.68" stroke="#181e58" stroke-width="1.0873761461517573"/>
<line x1="635.38" y1="124.22" x2="635.4" y2="126.22" stroke="#151a4e" stroke-width="0.9420910995514101"/>
<line x1="612.29" y1="134.15" x2="612.47" y2="140.21" stroke="#151a4e" stroke-width="0.8964161786235035"/>
<line x1="643.13" y1="120.89" x2="643.08" y2="123.73" stroke="#283480" stroke-width="0.8076855160185022"/>
<line x1="633" y1="125.24" x2="633.19" y2="127.83" stroke="#283480" stroke-width="0.9099927136815031"/>
<line x1="616.05" y1="132.53" x2="616.34" y2="144.15" stroke="#151a4e" stroke-width="0.7776426409349712"/>
<line x1="621.57" y1="130.16" x2="621.64" y2="132.46" stroke="#151a4e" stroke-width="0.899870564731639"/>
<line x1="638.07" y1="123.06" x2="638.2" y2="129.55" stroke="#283480" stroke-width="0.7093000035754924"/>
<line x1="640.43" y1="122.05" x2="640.46" y2="128.51" stroke="#181e58" stroke-width="0.9118476069455486"/>
<line x1="650.58" y1="117.68" x2="650.42" y2="121.32" stroke="#1c2260" stroke-width="1.061071011963889"/>
<line x1="625.69" y1="128.39" x2="625.92" y2="142.37" stroke="#181e58" stroke-width="1.0555883533935173"/>
<line x1="617.16" y1="132.05" x2="617.43" y2="134.52" stroke="#181e58" stroke-width="0.780258331903156"/>
<line x1="640.2" y1="122.15" x2="640.24" y2="123.89" stroke="#1c2260" stroke-width="1.0645491892724457"/>
<line x1="656.03" y1="115.34" x2="656.18" y2="118.1" stroke="#181e58" stroke-width="1.0211374910788302"/>
<line x1="633.42" y1="125.06" x2="633.48" y2="128.47" stroke="#283480" stroke-width="0.7586219286607835"/>
<line x1="619.58" y1="131.01" x2="619.84" y2="134.61" stroke="#151a4e" stroke-width="0.9319115074334893"/>
<line x1="617.25" y1="132.01" x2="617.21" y2="141.14" stroke="#1c2260" stroke-width="0.872032499939457"/>
<line x1="638.94" y1="122.69" x2="639.15" y2="125.94" stroke="#181e58" stroke-width="0.8631823404251068"/>
<line x1="627.72" y1="127.51" x2="627.48" y2="131.32" stroke="#151a4e" stroke-width="0.8294786867296249"/>
<line x1="614.94" y1="133.01" x2="615.21" y2="140.51" stroke="#181e58" stroke-width="0.9017154711026396"/>
<line x1="656.69" y1="115.05" x2="656.94" y2="120.09" stroke="#181e58" stroke-width="1.0258566884213558"/>
<line x1="629.86" y1="126.59" x2="629.98" y2="134.11" stroke="#283480" stroke-width="1.0060916548417496"/>
<line x1="629.87" y1="126.59" x2="629.77" y2="128.27" stroke="#283480" stroke-width="0.7403452754336434"/>
<line x1="652.29" y1="116.95" x2="652.02" y2="124.56" stroke="#1c2260" stroke-width="1.0778702734751238"/>
<line x1="641.97" y1="121.38" x2="642.02" y2="124.53" stroke="#151a4e" stroke-width="0.8558376297792736"/>
<line x1="657.49" y1="114.71" x2="657.65" y2="117.96" stroke="#151a4e" stroke-width="0.7459074575167787"/>
<line x1="616.02" y1="132.54" x2="616.18" y2="135.15" stroke="#283480" stroke-width="0.7043120923592122"/>
<line x1="623.02" y1="129.53" x2="622.97" y2="131.88" stroke="#151a4e" stroke-width="0.9552050395141363"/>
<line x1="648.64" y1="118.52" x2="648.8" y2="121.51" stroke="#151a4e" stroke-width="0.8545692143742853"/>
<line x1="654.65" y1="115.93" x2="654.86" y2="119.86" stroke="#151a4e" stroke-width="0.8718313245334428"/>
<line x1="634" y1="124.81" x2="633.88" y2="127.31" stroke="#1c2260" stroke-width="0.8932970513555751"/>
<line x1="623.54" y1="129.31" x2="623.26" y2="135.96" stroke="#181e58" stroke-width="0.9343231858097732"/>
<line x1="640.43" y1="122.05" x2="640.17" y2="125.26" stroke="#1c2260" stroke-width="0.9993452471428248"/>
<line x1="613.33" y1="133.7" x2="613.29" y2="146.94" stroke="#283480" stroke-width="0.8003691434060576"/>
<line x1="646.13" y1="119.6" x2="646.32" y2="121.34" stroke="#283480" stroke-width="0.7577458202207707"/>
<line x1="655.64" y1="115.51" x2="655.37" y2="118.77" stroke="#283480" stroke-width="0.8822754744230654"/>
<line x1="620.47" y1="130.63" x2="620.57" y2="140.17" stroke="#283480" stroke-width="0.9404203929368538"/>
<line x1="640.74" y1="121.91" x2="640.89" y2="124.32" stroke="#181e58" stroke-width="1.0810539969507726"/>
<line x1="645.14" y1="120.02" x2="645.38" y2="121.8" stroke="#1c2260" stroke-width="0.8099020876631493"/>
<line x1="639.36" y1="122.51" x2="639.17" y2="125.76" stroke="#1c2260" stroke-width="1.0013398386223198"/>
<line x1="619.83" y1="130.91" x2="620.05" y2="134.86" stroke="#151a4e" stroke-width="0.9513638080978002"/>
<line x1="611.44" y1="134.51" x2="611.31" y2="142.29" stroke="#151a4e" stroke-width="1.0651545514949563"/>
<line x1="618.48" y1="131.49" x2="618.39" y2="135.44" stroke="#1c2260" stroke-width="0.8374802097511462"/>
<line x1="645.63" y1="119.81" x2="645.41" y2="124.11" stroke="#181e58" stroke-width="0.8777354521285305"/>
<line x1="645.75" y1="119.76" x2="645.54" y2="121.64" stroke="#1c2260" stroke-width="0.8163542704242869"/>
<line x1="646.29" y1="119.53" x2="646.39" y2="124.26" stroke="#151a4e" stroke-width="0.8848064985131567"/>
<polyline points="609.8,137 609.6,170 608.8,199" fill="none" stroke="#151a4e" stroke-width="1.3"/>
<polyline points="612.5,136 612.3,152 611.8,160" fill="none" stroke="#151a4e" stroke-width="1.1"/>
<polyline points="617.5,133.5 617.4,147" fill="none" stroke="#151a4e" stroke-width="1"/>
<polygon points="490.4,103.5 592,80.3 682,105.3 592.4,143.7" fill="#bcbab2"/>
<polygon points="495,102.6 495,72 495.6,70.2 496.5,69.19 497.16,69.22 497.84,70.37 498.77,68.68 499.47,68.75 500.38,67.94 500.99,68.66 501.65,68.17 502.46,67.66 503.43,67.7 504.39,67.86 504.86,69.76 505.61,67.74 506.24,67.14 506.99,68.16 507.89,67.36 508.34,66.5 508.77,67.25 509.52,66.48 510.12,67.46 510.56,68.85 511.21,66.67 512.14,66.06 512.76,66.52 513.26,66.05 513.72,68.14 514.69,66.9 515.16,65.7 515.59,66.22 516.53,66 517.04,65.58 517.64,65.18 518.21,65.68 519.04,64.84 519.98,65.41 520.41,64.82 521,64.37 521.75,64.73 522.46,64.42 523.1,64.87 523.87,64.78 524.77,64.07 525.3,64.19 525.3,98.8" fill="url(#gw1)"/>
<polygon points="525.3,98.8 525.3,90 527,86.31 530,85.11 540,81.08 550,77.05 560,73.02 565,71 565,88.5" fill="url(#ghf1)"/>
<line x1="525.8" y1="98.87" x2="525.8" y2="87.51" stroke="url(#ghf1)" stroke-width="1.0997127497557806"/>
<line x1="526.39" y1="98.71" x2="526.39" y2="78.5" stroke="url(#ghf1)" stroke-width="1.3880143796190105"/>
<line x1="527.2" y1="98.5" x2="527.2" y2="82.65" stroke="url(#ghf1)" stroke-width="0.9289687613306687"/>
<line x1="528.07" y1="98.27" x2="528.07" y2="83.13" stroke="url(#ghf1)" stroke-width="1.3526144130958637"/>
<line x1="528.75" y1="98.09" x2="528.75" y2="78.33" stroke="url(#ghf1)" stroke-width="1.3374142071503787"/>
<line x1="529.42" y1="97.91" x2="529.42" y2="86.28" stroke="url(#ghf1)" stroke-width="1.3050040897582669"/>
<line x1="529.97" y1="97.76" x2="529.97" y2="81.31" stroke="url(#ghf1)" stroke-width="1.157968256378831"/>
<line x1="530.49" y1="97.63" x2="530.49" y2="79.91" stroke="url(#ghf1)" stroke-width="1.002151225587048"/>
<line x1="531.36" y1="97.4" x2="531.36" y2="78.36" stroke="url(#ghf1)" stroke-width="1.2074315962065862"/>
<line x1="532.07" y1="97.21" x2="532.07" y2="81.5" stroke="url(#ghf1)" stroke-width="0.9414294598828779"/>
<line x1="532.87" y1="97" x2="532.87" y2="78.75" stroke="url(#ghf1)" stroke-width="0.9095156758625866"/>
<line x1="533.45" y1="96.85" x2="533.45" y2="76.07" stroke="url(#ghf1)" stroke-width="1.2907088630882133"/>
<line x1="534.12" y1="96.67" x2="534.12" y2="74.7" stroke="url(#ghf1)" stroke-width="1.1470915621427875"/>
<line x1="535" y1="96.43" x2="535" y2="80.84" stroke="url(#ghf1)" stroke-width="1.1027306932062846"/>
<line x1="535.72" y1="96.24" x2="535.72" y2="80.78" stroke="url(#ghf1)" stroke-width="0.933520182072034"/>
<line x1="536.25" y1="96.1" x2="536.25" y2="74.57" stroke="url(#ghf1)" stroke-width="1.237929325035806"/>
<line x1="537.05" y1="95.89" x2="537.05" y2="80.98" stroke="url(#ghf1)" stroke-width="1.3318394824010384"/>
<line x1="537.84" y1="95.68" x2="537.84" y2="76.27" stroke="url(#ghf1)" stroke-width="0.9566623600501113"/>
<line x1="538.65" y1="95.47" x2="538.65" y2="78.61" stroke="url(#ghf1)" stroke-width="1.2596147008490939"/>
<line x1="539.51" y1="95.24" x2="539.51" y2="73.34" stroke="url(#ghf1)" stroke-width="1.3687248115977928"/>
<line x1="540.31" y1="95.03" x2="540.31" y2="78.63" stroke="url(#ghf1)" stroke-width="1.177791714916709"/>
<line x1="540.84" y1="94.89" x2="540.84" y2="73.06" stroke="url(#ghf1)" stroke-width="0.9547919546417818"/>
<line x1="541.46" y1="94.72" x2="541.46" y2="73.4" stroke="url(#ghf1)" stroke-width="1.2201631431715878"/>
<line x1="542.14" y1="94.55" x2="542.14" y2="77" stroke="url(#ghf1)" stroke-width="0.9657196368191219"/>
<line x1="542.9" y1="94.35" x2="542.9" y2="72.16" stroke="url(#ghf1)" stroke-width="0.9182382123057534"/>
<line x1="543.58" y1="94.16" x2="543.58" y2="75.72" stroke="url(#ghf1)" stroke-width="1.393707102254436"/>
<line x1="544.25" y1="93.99" x2="544.25" y2="75.76" stroke="url(#ghf1)" stroke-width="1.311628646504181"/>
<line x1="545.13" y1="93.76" x2="545.13" y2="70.98" stroke="url(#ghf1)" stroke-width="0.9739867904078512"/>
<line x1="545.9" y1="93.55" x2="545.9" y2="73.08" stroke="url(#ghf1)" stroke-width="1.2115133755483682"/>
<line x1="546.69" y1="93.34" x2="546.69" y2="73.67" stroke="url(#ghf1)" stroke-width="1.294377696475651"/>
<line x1="547.29" y1="93.18" x2="547.29" y2="76.04" stroke="url(#ghf1)" stroke-width="1.0303571847491542"/>
<line x1="547.87" y1="93.03" x2="547.87" y2="71.05" stroke="url(#ghf1)" stroke-width="1.178601565873669"/>
<line x1="548.45" y1="92.88" x2="548.45" y2="71" stroke="url(#ghf1)" stroke-width="0.9513316005894438"/>
<line x1="549.23" y1="92.67" x2="549.23" y2="70.13" stroke="url(#ghf1)" stroke-width="1.049242663935772"/>
<line x1="549.83" y1="92.51" x2="549.83" y2="72.4" stroke="url(#ghf1)" stroke-width="1.1870779026799694"/>
<line x1="550.41" y1="92.36" x2="550.41" y2="74.42" stroke="url(#ghf1)" stroke-width="1.2534112827313049"/>
<line x1="551.28" y1="92.13" x2="551.28" y2="74.8" stroke="url(#ghf1)" stroke-width="1.288307165664577"/>
<line x1="551.84" y1="91.98" x2="551.84" y2="70.65" stroke="url(#ghf1)" stroke-width="1.0667890188440108"/>
<line x1="552.37" y1="91.84" x2="552.37" y2="73.2" stroke="url(#ghf1)" stroke-width="1.341491641566258"/>
<line x1="553.05" y1="91.66" x2="553.05" y2="71.92" stroke="url(#ghf1)" stroke-width="1.1846621481456816"/>
<line x1="553.77" y1="91.47" x2="553.77" y2="66.97" stroke="url(#ghf1)" stroke-width="0.9842673328121415"/>
<line x1="554.57" y1="91.26" x2="554.57" y2="72.48" stroke="url(#ghf1)" stroke-width="0.9728196469048148"/>
<line x1="555.44" y1="91.03" x2="555.44" y2="65.88" stroke="url(#ghf1)" stroke-width="1.081816928985944"/>
<line x1="556.25" y1="90.82" x2="556.25" y2="68.07" stroke="url(#ghf1)" stroke-width="1.198790967270198"/>
<line x1="557.07" y1="90.6" x2="557.07" y2="68.38" stroke="url(#ghf1)" stroke-width="1.2913576527945925"/>
<line x1="557.94" y1="90.37" x2="557.94" y2="75.62" stroke="url(#ghf1)" stroke-width="1.3236804944935405"/>
<line x1="558.81" y1="90.14" x2="558.81" y2="68.8" stroke="url(#ghf1)" stroke-width="1.2816629723323476"/>
<line x1="559.37" y1="89.99" x2="559.37" y2="69.79" stroke="url(#ghf1)" stroke-width="0.959138143694093"/>
<line x1="560.03" y1="89.81" x2="560.03" y2="67.58" stroke="url(#ghf1)" stroke-width="1.3658534874472683"/>
<line x1="560.55" y1="89.68" x2="560.55" y2="69.28" stroke="url(#ghf1)" stroke-width="1.2937541922358693"/>
<line x1="561.21" y1="89.5" x2="561.21" y2="68.74" stroke="url(#ghf1)" stroke-width="1.3483488635115424"/>
<line x1="562.08" y1="89.27" x2="562.08" y2="67.13" stroke="url(#ghf1)" stroke-width="1.040783516637196"/>
<line x1="562.93" y1="89.05" x2="562.93" y2="66.08" stroke="url(#ghf1)" stroke-width="1.2451413303949699"/>
<line x1="563.76" y1="88.83" x2="563.76" y2="68.01" stroke="url(#ghf1)" stroke-width="1.0651821901090486"/>
<line x1="564.47" y1="88.64" x2="564.47" y2="69.69" stroke="url(#ghf1)" stroke-width="1.0480228927939492"/>
<line x1="565.22" y1="88.44" x2="565.22" y2="64.94" stroke="url(#ghf1)" stroke-width="1.0609550593491102"/>
<polygon points="565,90.5 565,62.5 565.5,62.48 566.06,62.25 566.97,62.05 567.44,61.82 568.23,61.57 569.21,61.01 569.84,60.6 570.35,60.54 570.84,59.82 571.33,60.48 572.01,59.69 572.44,59.44 573.11,59.6 573.92,59.06 574.59,58.94 575.09,59.25 576.01,58.4 576.81,58.01 577.71,60.36 578.53,58 579.08,58.23 579.86,57.35 580.82,57.03 581.73,56.82 582.59,56.64 583.49,56.08 584.06,56.51 584.65,55.88 585.36,55.51 586.33,56 586.87,55.08 587.55,54.82 588.02,57.18 588.74,54.81 589.25,55.22 589.77,56.89 590.27,54.83 590.7,54.38 590.7,80.6" fill="url(#gw2)"/>
<linearGradient id="gband" x1="0" y1="0" x2="0" y2="1"><stop offset="0" stop-color="#867a7a"/><stop offset="0.5" stop-color="#7a5052"/><stop offset="1" stop-color="#7a2228"/></linearGradient>
<polygon points="526,90 545,88.5 565,87.5 590,92.5 620,99.8 645,106 657,109.5 657,117 640,124 619,131.5 600,125 570,114.5 545,106.5 526,100.2" fill="url(#gband)"/>
<line x1="526.5" y1="93.62" x2="526.5" y2="99.3" stroke="#700814" stroke-width="0.6719580264807551"/>
<line x1="526.36" y1="94.07" x2="526.36" y2="96.28" stroke="#7a1a24" stroke-width="0.7127813414237948"/>
<line x1="526.58" y1="91.87" x2="526.58" y2="94.79" stroke="#9a3a42" stroke-width="0.7448443520309896"/>
<line x1="526.73" y1="93.07" x2="526.73" y2="96.04" stroke="#7a1a24" stroke-width="0.7943753756871212"/>
<line x1="527.34" y1="94.85" x2="527.34" y2="99.95" stroke="#a81018" stroke-width="0.7045347274402778"/>
<line x1="527.4" y1="91.1" x2="527.4" y2="94.28" stroke="#8a2a32" stroke-width="0.7720148662479364"/>
<line x1="527.59" y1="90.66" x2="527.59" y2="92.92" stroke="#8a8484" stroke-width="0.9892553784338998"/>
<line x1="527.67" y1="96.72" x2="527.67" y2="99.15" stroke="#a49e9e" stroke-width="0.9172952460631432"/>
<line x1="528.34" y1="95.05" x2="528.34" y2="100.8" stroke="#9a0c1a" stroke-width="0.7701439232895333"/>
<line x1="528.55" y1="95.47" x2="528.55" y2="97.71" stroke="#7a1a24" stroke-width="0.960027032555829"/>
<line x1="528.07" y1="93.82" x2="528.07" y2="96.54" stroke="#9a3a42" stroke-width="1.0323701459046757"/>
<line x1="528.31" y1="96.28" x2="528.31" y2="99.03" stroke="#8a8484" stroke-width="0.9815058528498892"/>
<line x1="529.42" y1="94.54" x2="529.42" y2="100.43" stroke="#b01420" stroke-width="0.9944745157198333"/>
<line x1="529.02" y1="90.49" x2="529.02" y2="92.52" stroke="#8a2a32" stroke-width="0.9102328215287557"/>
<line x1="529.36" y1="90" x2="529.36" y2="91.19" stroke="#a8484e" stroke-width="0.7137071510549008"/>
<line x1="529.26" y1="98.4" x2="529.26" y2="99.69" stroke="#9a3a42" stroke-width="1.0421444751074382"/>
<line x1="530.23" y1="94.36" x2="530.23" y2="101.33" stroke="#9a0c1a" stroke-width="0.7348183660102279"/>
<line x1="529.96" y1="98.44" x2="529.96" y2="100.9" stroke="#8a2a32" stroke-width="1.0978953244045928"/>
<line x1="530.2" y1="96.11" x2="530.2" y2="98.09" stroke="#9a3a42" stroke-width="1.0372190988460788"/>
<line x1="530.16" y1="92.71" x2="530.16" y2="94.32" stroke="#9a3a42" stroke-width="1.0173111216710518"/>
<line x1="531.23" y1="96.87" x2="531.23" y2="101.45" stroke="#b01420" stroke-width="0.787084513186214"/>
<line x1="531.52" y1="92.02" x2="531.52" y2="93.53" stroke="#9a3a42" stroke-width="0.8531842750882453"/>
<line x1="531.59" y1="89.69" x2="531.59" y2="92.24" stroke="#7a1a24" stroke-width="0.907561153715994"/>
<line x1="531.05" y1="96.3" x2="531.05" y2="98.2" stroke="#9a3a42" stroke-width="0.7614075354578325"/>
<line x1="532.3" y1="96.28" x2="532.3" y2="101.37" stroke="#6a2024" stroke-width="0.9357320812555281"/>
<line x1="532.26" y1="90.08" x2="532.26" y2="93.22" stroke="#a8484e" stroke-width="0.8525489548601202"/>
<line x1="532.14" y1="91.48" x2="532.14" y2="94" stroke="#8a2a32" stroke-width="0.8953705222631203"/>
<line x1="531.92" y1="90.78" x2="531.92" y2="92.56" stroke="#9a3a42" stroke-width="0.8696214272934882"/>
<line x1="533.17" y1="94.93" x2="533.17" y2="101.73" stroke="#9a0c1a" stroke-width="0.7255445859595547"/>
<line x1="533.44" y1="93.53" x2="533.44" y2="95.86" stroke="#9a3a42" stroke-width="0.8797485780874184"/>
<line x1="532.95" y1="90.21" x2="532.95" y2="91.94" stroke="#7a1a24" stroke-width="0.8379826414922122"/>
<line x1="533.37" y1="91.05" x2="533.37" y2="93.25" stroke="#a49e9e" stroke-width="0.7045452559255589"/>
<line x1="534.15" y1="99.13" x2="534.15" y2="102.11" stroke="#700814" stroke-width="0.9676288302330671"/>
<line x1="534.52" y1="91.02" x2="534.52" y2="94.19" stroke="#8a2a32" stroke-width="0.7938401573398959"/>
<line x1="533.85" y1="95.53" x2="533.85" y2="97.77" stroke="#8a8484" stroke-width="0.8959647219877126"/>
<line x1="533.93" y1="98.76" x2="533.93" y2="102.08" stroke="#7a1a24" stroke-width="0.7807670786238378"/>
<line x1="535.14" y1="96.61" x2="535.14" y2="102.37" stroke="#b01420" stroke-width="0.6372190348588694"/>
<line x1="535.12" y1="92.4" x2="535.12" y2="94.04" stroke="#9a3a42" stroke-width="1.0411735342538044"/>
<line x1="534.83" y1="92.02" x2="534.83" y2="95.3" stroke="#a8484e" stroke-width="1.0649680686126999"/>
<line x1="535.11" y1="91.62" x2="535.11" y2="93.43" stroke="#7a1a24" stroke-width="0.801350254035805"/>
<line x1="535.75" y1="96.67" x2="535.75" y2="102.36" stroke="#b01420" stroke-width="0.7189246125873874"/>
<line x1="535.65" y1="97.78" x2="535.65" y2="99.64" stroke="#a8484e" stroke-width="1.059078926928716"/>
<line x1="535.96" y1="88.87" x2="535.96" y2="91.44" stroke="#9a3a42" stroke-width="0.9483255313124055"/>
<line x1="535.4" y1="93.19" x2="535.4" y2="95.35" stroke="#7a1a24" stroke-width="0.8798267942126891"/>
<line x1="536.83" y1="97.09" x2="536.83" y2="102.83" stroke="#6a2024" stroke-width="0.8028307893063378"/>
<line x1="536.55" y1="92.03" x2="536.55" y2="93.51" stroke="#8a2a32" stroke-width="0.7913984127585656"/>
<line x1="537.17" y1="96.38" x2="537.17" y2="99.83" stroke="#8a2a32" stroke-width="0.701398859141275"/>
<line x1="536.93" y1="94.82" x2="536.93" y2="97.22" stroke="#8a2a32" stroke-width="1.0324394991728856"/>
<line x1="537.91" y1="96.86" x2="537.91" y2="103.73" stroke="#700814" stroke-width="0.725342961566463"/>
<line x1="538.29" y1="96.95" x2="538.29" y2="100.01" stroke="#9a3a42" stroke-width="0.7637877980859987"/>
<line x1="537.81" y1="95.81" x2="537.81" y2="97.52" stroke="#7a1a24" stroke-width="0.9995865096688992"/>
<line x1="537.8" y1="94.75" x2="537.8" y2="97.52" stroke="#9a3a42" stroke-width="1.066974200349283"/>
<line x1="538.88" y1="101.2" x2="538.88" y2="103.28" stroke="#700814" stroke-width="0.9542458585047044"/>
<line x1="538.52" y1="92.05" x2="538.52" y2="94.61" stroke="#a8484e" stroke-width="0.8650825109178675"/>
<line x1="538.89" y1="94.18" x2="538.89" y2="97.17" stroke="#a8484e" stroke-width="0.8569101460365762"/>
<line x1="538.63" y1="97.08" x2="538.63" y2="100.22" stroke="#7a1a24" stroke-width="0.7819373781761867"/>
<line x1="539.77" y1="95.49" x2="539.77" y2="103.58" stroke="#6a2024" stroke-width="0.8827700320648166"/>
<line x1="539.47" y1="96.02" x2="539.47" y2="97.96" stroke="#9a3a42" stroke-width="0.9677440175174371"/>
<line x1="539.74" y1="91.05" x2="539.74" y2="93.79" stroke="#a49e9e" stroke-width="1.016304543526269"/>
<line x1="539.7" y1="99.88" x2="539.7" y2="102.46" stroke="#7a1a24" stroke-width="0.8586870085795604"/>
<line x1="540.83" y1="102.58" x2="540.83" y2="105.06" stroke="#6a2024" stroke-width="0.9989375356387811"/>
<line x1="541.02" y1="99.36" x2="541.02" y2="102.85" stroke="#7a1a24" stroke-width="0.7480582100289322"/>
<line x1="541.12" y1="92.32" x2="541.12" y2="93.74" stroke="#bab4b4" stroke-width="0.7269518950855751"/>
<line x1="540.61" y1="93.73" x2="540.61" y2="96.54" stroke="#7a1a24" stroke-width="0.8632744424503234"/>
<line x1="541.5" y1="99.35" x2="541.5" y2="104.53" stroke="#880a16" stroke-width="0.8183793016752314"/>
<line x1="541.77" y1="98.55" x2="541.77" y2="100.94" stroke="#9a3a42" stroke-width="1.058671591434993"/>
<line x1="541.36" y1="99.62" x2="541.36" y2="100.66" stroke="#9a3a42" stroke-width="0.9263680475021466"/>
<line x1="541.36" y1="89.85" x2="541.36" y2="91.05" stroke="#7a1a24" stroke-width="0.7804400067503591"/>
<line x1="542.38" y1="99.36" x2="542.38" y2="105.45" stroke="#700814" stroke-width="0.9570585809964104"/>
<line x1="542.25" y1="92.05" x2="542.25" y2="93.4" stroke="#969090" stroke-width="1.0156248337096119"/>
<line x1="542.31" y1="101.29" x2="542.31" y2="104.3" stroke="#8a2a32" stroke-width="0.858375214211252"/>
<line x1="542.2" y1="88.64" x2="542.2" y2="91.99" stroke="#7a1a24" stroke-width="1.045838809757177"/>
<line x1="543.48" y1="98.55" x2="543.48" y2="104.99" stroke="#6a2024" stroke-width="0.6187961076970349"/>
<line x1="543.62" y1="99.67" x2="543.62" y2="101.34" stroke="#8a2a32" stroke-width="0.7095965437697285"/>
<line x1="543.08" y1="95.48" x2="543.08" y2="97" stroke="#8a8484" stroke-width="1.0837055187359963"/>
<line x1="543.71" y1="87.9" x2="543.71" y2="90.74" stroke="#9a3a42" stroke-width="0.8597082713483223"/>
<line x1="544.48" y1="102.13" x2="544.48" y2="105.41" stroke="#700814" stroke-width="0.9744550018023823"/>
<line x1="544.28" y1="94.51" x2="544.28" y2="97.79" stroke="#a8484e" stroke-width="0.7093979120537232"/>
<line x1="544.66" y1="95.86" x2="544.66" y2="98.12" stroke="#a8484e" stroke-width="0.8107300991140536"/>
<line x1="544.36" y1="101.77" x2="544.36" y2="103.47" stroke="#a8484e" stroke-width="1.0620588500896733"/>
<line x1="545.24" y1="95.67" x2="545.24" y2="106.17" stroke="#6a2024" stroke-width="0.6720335221628514"/>
<line x1="545.38" y1="88.26" x2="545.38" y2="89.71" stroke="#b0aaaa" stroke-width="0.7423291658032323"/>
<line x1="544.86" y1="89.65" x2="544.86" y2="91.65" stroke="#a8484e" stroke-width="0.7208847892384315"/>
<line x1="544.86" y1="88.95" x2="544.86" y2="90.39" stroke="#9a3a42" stroke-width="0.7266018800560639"/>
<line x1="546.13" y1="100.22" x2="546.13" y2="106.48" stroke="#a81018" stroke-width="0.985066288526932"/>
<line x1="546.38" y1="90.76" x2="546.38" y2="91.93" stroke="#9a3a42" stroke-width="0.8560420571198666"/>
<line x1="546.15" y1="101.09" x2="546.15" y2="102.12" stroke="#7a1a24" stroke-width="0.99208111058094"/>
<line x1="545.9" y1="97.28" x2="545.9" y2="99.83" stroke="#8a2a32" stroke-width="1.0550524545892015"/>
<line x1="547.16" y1="100.88" x2="547.16" y2="106.59" stroke="#b01420" stroke-width="0.9699249747816847"/>
<line x1="547.11" y1="89.28" x2="547.11" y2="91.45" stroke="#a8484e" stroke-width="1.0346423428793075"/>
<line x1="547.17" y1="94.99" x2="547.17" y2="96.08" stroke="#8a2a32" stroke-width="0.9509327246298516"/>
<line x1="547.51" y1="94.17" x2="547.51" y2="95.55" stroke="#8a2a32" stroke-width="0.8874734858517007"/>
<line x1="548.26" y1="102.15" x2="548.26" y2="107.17" stroke="#6a2024" stroke-width="0.7875765978974633"/>
<line x1="548.46" y1="95.85" x2="548.46" y2="99.1" stroke="#969090" stroke-width="0.7444209821048985"/>
<line x1="548.52" y1="90.25" x2="548.52" y2="93.24" stroke="#9a3a42" stroke-width="0.9046409316413875"/>
<line x1="548.43" y1="102.64" x2="548.43" y2="104.27" stroke="#a49e9e" stroke-width="1.0228677581214087"/>
<line x1="549.08" y1="100.36" x2="549.08" y2="106.77" stroke="#880a16" stroke-width="0.7956248381126539"/>
<line x1="549.13" y1="102.33" x2="549.13" y2="105.3" stroke="#8a2a32" stroke-width="0.8963011648559345"/>
<line x1="549.3" y1="91.09" x2="549.3" y2="93.47" stroke="#8a2a32" stroke-width="1.0622758211664043"/>
<line x1="548.83" y1="99.76" x2="548.83" y2="101.59" stroke="#7a1a24" stroke-width="1.0715413103872167"/>
<line x1="550.16" y1="97.4" x2="550.16" y2="107.81" stroke="#a81018" stroke-width="0.6726814169120087"/>
<line x1="550.48" y1="93.44" x2="550.48" y2="94.62" stroke="#a8484e" stroke-width="1.0951450575857529"/>
<line x1="550.21" y1="90.54" x2="550.21" y2="94.03" stroke="#9a3a42" stroke-width="0.8512869209509147"/>
<line x1="550.29" y1="100.25" x2="550.29" y2="101.77" stroke="#7a1a24" stroke-width="0.7838333701511426"/>
<line x1="551.15" y1="97.03" x2="551.15" y2="107.77" stroke="#700814" stroke-width="0.6516415604300322"/>
<line x1="550.99" y1="89.06" x2="550.99" y2="90.08" stroke="#7a1a24" stroke-width="0.7276091447223882"/>
<line x1="551.36" y1="90.51" x2="551.36" y2="92.01" stroke="#7a1a24" stroke-width="0.7285805750823867"/>
<line x1="550.97" y1="91.49" x2="550.97" y2="92.83" stroke="#a8484e" stroke-width="0.7494317082812032"/>
<line x1="551.79" y1="100.61" x2="551.79" y2="108.17" stroke="#a81018" stroke-width="0.8317074659990058"/>
<line x1="552.15" y1="91.81" x2="552.15" y2="93.01" stroke="#7a1a24" stroke-width="0.9593396617619063"/>
<line x1="551.99" y1="90.84" x2="551.99" y2="93.34" stroke="#9a3a42" stroke-width="0.8793637622584642"/>
<line x1="551.86" y1="88.19" x2="551.86" y2="90.83" stroke="#7a1a24" stroke-width="0.8070584842352736"/>
<line x1="552.72" y1="95.55" x2="552.72" y2="108.24" stroke="#700814" stroke-width="0.7646119426930925"/>
<line x1="552.63" y1="89.28" x2="552.63" y2="90.97" stroke="#7a1a24" stroke-width="0.7408275122061875"/>
<line x1="552.76" y1="101.76" x2="552.76" y2="103.01" stroke="#8a2a32" stroke-width="1.05860738220583"/>
<line x1="552.35" y1="88.55" x2="552.35" y2="91.02" stroke="#b0aaaa" stroke-width="0.9789215723987544"/>
<line x1="553.82" y1="104.17" x2="553.82" y2="108.27" stroke="#6a2024" stroke-width="0.853198999630524"/>
<line x1="553.82" y1="94.98" x2="553.82" y2="97.18" stroke="#a8484e" stroke-width="0.9607682693169767"/>
<line x1="554.21" y1="88.03" x2="554.21" y2="90.02" stroke="#a49e9e" stroke-width="1.0314678675828979"/>
<line x1="553.47" y1="98.05" x2="553.47" y2="100.21" stroke="#8a2a32" stroke-width="0.8605159425444832"/>
<line x1="554.75" y1="97.93" x2="554.75" y2="108.43" stroke="#880a16" stroke-width="0.7989376228150936"/>
<line x1="554.94" y1="101.29" x2="554.94" y2="102.49" stroke="#8a2a32" stroke-width="0.7667405455063016"/>
<line x1="554.88" y1="98.15" x2="554.88" y2="101.57" stroke="#7a1a24" stroke-width="0.8895025038004147"/>
<line x1="554.36" y1="102.21" x2="554.36" y2="105.36" stroke="#9a3a42" stroke-width="1.0778142059811393"/>
<line x1="555.79" y1="95.92" x2="555.79" y2="109.53" stroke="#b01420" stroke-width="0.8244332389046801"/>
<line x1="555.64" y1="104.01" x2="555.64" y2="106.27" stroke="#8a2a32" stroke-width="0.7498362811438414"/>
<line x1="555.8" y1="96.85" x2="555.8" y2="98.62" stroke="#a49e9e" stroke-width="0.8411052250190879"/>
<line x1="555.44" y1="91.19" x2="555.44" y2="92.73" stroke="#a8484e" stroke-width="0.8806758289640982"/>
<line x1="556.67" y1="100.85" x2="556.67" y2="109.21" stroke="#700814" stroke-width="0.9238697643581288"/>
<line x1="556.69" y1="95.8" x2="556.69" y2="97.81" stroke="#bab4b4" stroke-width="0.9448816864592726"/>
<line x1="556.93" y1="102.22" x2="556.93" y2="103.8" stroke="#a8484e" stroke-width="1.0188525313688341"/>
<line x1="556.4" y1="88.76" x2="556.4" y2="91.08" stroke="#a8484e" stroke-width="0.7114150983242876"/>
<line x1="557.33" y1="99.17" x2="557.33" y2="109.29" stroke="#6a2024" stroke-width="0.9050024832715688"/>
<line x1="556.99" y1="100.75" x2="556.99" y2="102.41" stroke="#7a1a24" stroke-width="0.7446992297683722"/>
<line x1="557.09" y1="103.34" x2="557.09" y2="106.82" stroke="#a8484e" stroke-width="0.9240410654140953"/>
<line x1="557.24" y1="89.24" x2="557.24" y2="90.99" stroke="#8a2a32" stroke-width="0.9957303631298762"/>
<line x1="558.06" y1="100.04" x2="558.06" y2="110.16" stroke="#a81018" stroke-width="0.7538626204683756"/>
<line x1="557.7" y1="98.55" x2="557.7" y2="101.64" stroke="#8a2a32" stroke-width="0.7246945386029949"/>
<line x1="558.31" y1="96.35" x2="558.31" y2="99.03" stroke="#a8484e" stroke-width="0.9852476846335276"/>
<line x1="558.07" y1="87.3" x2="558.07" y2="89.61" stroke="#969090" stroke-width="0.9932541460065818"/>
<line x1="558.84" y1="102.76" x2="558.84" y2="110.8" stroke="#6a2024" stroke-width="0.8373447130835658"/>
<line x1="559.12" y1="104.42" x2="559.12" y2="105.95" stroke="#7a1a24" stroke-width="1.0050630855245424"/>
<line x1="558.86" y1="87.69" x2="558.86" y2="90.57" stroke="#a49e9e" stroke-width="0.7212177898162071"/>
<line x1="559.09" y1="88.37" x2="559.09" y2="91.73" stroke="#b0aaaa" stroke-width="0.958884140432036"/>
<line x1="559.63" y1="97.01" x2="559.63" y2="110.5" stroke="#700814" stroke-width="0.6341851574083709"/>
<line x1="559.26" y1="105.03" x2="559.26" y2="106.4" stroke="#7a1a24" stroke-width="0.7623592400202216"/>
<line x1="559.27" y1="91.95" x2="559.27" y2="94.51" stroke="#8a8484" stroke-width="0.9208361450985217"/>
<line x1="559.72" y1="103.97" x2="559.72" y2="106.67" stroke="#8a2a32" stroke-width="0.7846052008266154"/>
<line x1="560.5" y1="105.81" x2="560.5" y2="110.89" stroke="#9a0c1a" stroke-width="0.8718576479715652"/>
<line x1="560.24" y1="105.22" x2="560.24" y2="106.43" stroke="#8a2a32" stroke-width="0.9741358988033528"/>
<line x1="560.75" y1="89.2" x2="560.75" y2="91.31" stroke="#a8484e" stroke-width="1.0589125714739869"/>
<line x1="560.64" y1="100.36" x2="560.64" y2="102.73" stroke="#7a1a24" stroke-width="0.7452948114365016"/>
<line x1="561.16" y1="99.8" x2="561.16" y2="110.53" stroke="#b01420" stroke-width="0.6455508468218655"/>
<line x1="561.19" y1="103.14" x2="561.19" y2="106.24" stroke="#b0aaaa" stroke-width="0.7493441288324415"/>
<line x1="561.48" y1="103.25" x2="561.48" y2="106.58" stroke="#8a2a32" stroke-width="0.7801163306068347"/>
<line x1="561.32" y1="99.98" x2="561.32" y2="101.95" stroke="#a8484e" stroke-width="1.0114348694137298"/>
<line x1="561.82" y1="105.13" x2="561.82" y2="111.68" stroke="#b01420" stroke-width="0.7296292281214134"/>
<line x1="561.72" y1="86.73" x2="561.72" y2="89.74" stroke="#7a1a24" stroke-width="0.9734969895737049"/>
<line x1="561.7" y1="95.22" x2="561.7" y2="97.68" stroke="#a8484e" stroke-width="0.8921903333182228"/>
<line x1="561.6" y1="105.45" x2="561.6" y2="107.1" stroke="#a8484e" stroke-width="0.99216374579316"/>
<line x1="562.7" y1="99.36" x2="562.7" y2="112.09" stroke="#9a0c1a" stroke-width="0.7510286725855756"/>
<line x1="562.75" y1="100.46" x2="562.75" y2="103.9" stroke="#8a2a32" stroke-width="1.063853059801503"/>
<line x1="562.45" y1="95.34" x2="562.45" y2="97.89" stroke="#9a3a42" stroke-width="0.9717741111116092"/>
<line x1="562.76" y1="96.22" x2="562.76" y2="98.6" stroke="#b0aaaa" stroke-width="0.8332142665671548"/>
<line x1="563.38" y1="108.05" x2="563.38" y2="111.46" stroke="#9a0c1a" stroke-width="0.6390718467445916"/>
<line x1="563.67" y1="101.9" x2="563.67" y2="104.74" stroke="#9a3a42" stroke-width="0.8376691374802816"/>
<line x1="563.7" y1="89.58" x2="563.7" y2="92.89" stroke="#969090" stroke-width="0.9757112631930596"/>
<line x1="563.47" y1="93.56" x2="563.47" y2="96.64" stroke="#7a1a24" stroke-width="1.0927922435543551"/>
<line x1="564.04" y1="100.8" x2="564.04" y2="112.38" stroke="#9a0c1a" stroke-width="0.8671078899295239"/>
<line x1="564.02" y1="92.04" x2="564.02" y2="93.72" stroke="#7a1a24" stroke-width="0.8140193694639835"/>
<line x1="563.76" y1="91.86" x2="563.76" y2="95.01" stroke="#a8484e" stroke-width="1.0418945793238361"/>
<line x1="564.06" y1="98.5" x2="564.06" y2="101.15" stroke="#9a3a42" stroke-width="1.0677066075481176"/>
<line x1="565.02" y1="99.7" x2="565.02" y2="112.84" stroke="#9a0c1a" stroke-width="0.8607291483500092"/>
<line x1="564.9" y1="97.26" x2="564.9" y2="98.8" stroke="#7a1a24" stroke-width="0.9560277119447155"/>
<line x1="564.68" y1="91.74" x2="564.68" y2="94.11" stroke="#9a3a42" stroke-width="0.9299382774248471"/>
<line x1="565.34" y1="105.07" x2="565.34" y2="106.32" stroke="#7a1a24" stroke-width="0.9261726735863502"/>
<line x1="565.68" y1="109.15" x2="565.68" y2="112.75" stroke="#880a16" stroke-width="0.6245732037699225"/>
<line x1="565.61" y1="99.95" x2="565.61" y2="101.3" stroke="#a49e9e" stroke-width="1.0608024498377304"/>
<line x1="565.63" y1="106.22" x2="565.63" y2="108.92" stroke="#8a2a32" stroke-width="0.7344250158271332"/>
<line x1="565.99" y1="100.52" x2="565.99" y2="101.78" stroke="#9a3a42" stroke-width="0.7558052405294645"/>
<line x1="566.38" y1="105.59" x2="566.38" y2="113.31" stroke="#b01420" stroke-width="0.6356189672198719"/>
<line x1="566.54" y1="104.89" x2="566.54" y2="108.24" stroke="#9a3a42" stroke-width="1.09041008514529"/>
<line x1="566.73" y1="105.93" x2="566.73" y2="106.98" stroke="#a8484e" stroke-width="0.8958761149509321"/>
<line x1="566.73" y1="98.58" x2="566.73" y2="99.79" stroke="#7a1a24" stroke-width="0.9076984887037552"/>
<line x1="567.46" y1="97.39" x2="567.46" y2="113.55" stroke="#9a0c1a" stroke-width="0.9828648566821787"/>
<line x1="567.61" y1="87.2" x2="567.61" y2="89.5" stroke="#969090" stroke-width="0.93203026880821"/>
<line x1="567.36" y1="102.28" x2="567.36" y2="105.67" stroke="#8a2a32" stroke-width="0.7864726483088732"/>
<line x1="567.33" y1="94.84" x2="567.33" y2="96.7" stroke="#b0aaaa" stroke-width="0.7059803602055252"/>
<line x1="568.44" y1="100.61" x2="568.44" y2="113.3" stroke="#b01420" stroke-width="0.8891497383576057"/>
<line x1="568.79" y1="97.66" x2="568.79" y2="99.7" stroke="#9a3a42" stroke-width="0.7803237800299143"/>
<line x1="568.67" y1="91.26" x2="568.67" y2="93.1" stroke="#9a3a42" stroke-width="0.795300384396614"/>
<line x1="568.5" y1="100.41" x2="568.5" y2="101.47" stroke="#7a1a24" stroke-width="0.8243366695410509"/>
<line x1="569.08" y1="103.97" x2="569.08" y2="113.32" stroke="#880a16" stroke-width="0.8696511001421634"/>
<line x1="569.22" y1="103.39" x2="569.22" y2="105.65" stroke="#8a2a32" stroke-width="0.8766442782218403"/>
<line x1="568.97" y1="87.95" x2="568.97" y2="89.84" stroke="#9a3a42" stroke-width="1.0644015016351993"/>
<line x1="569.01" y1="107.53" x2="569.01" y2="110.21" stroke="#9a3a42" stroke-width="0.793003941590062"/>
<line x1="570.17" y1="100.34" x2="570.17" y2="113.47" stroke="#b01420" stroke-width="0.8373193143127677"/>
<line x1="569.81" y1="102.67" x2="569.81" y2="103.75" stroke="#8a2a32" stroke-width="1.0816869558844164"/>
<line x1="569.94" y1="96.08" x2="569.94" y2="99.27" stroke="#a49e9e" stroke-width="1.0841960049453756"/>
<line x1="569.89" y1="106.63" x2="569.89" y2="109.41" stroke="#9a3a42" stroke-width="1.0782407940709313"/>
<line x1="570.87" y1="99.59" x2="570.87" y2="113.99" stroke="#6a2024" stroke-width="0.9542557536043598"/>
<line x1="571.21" y1="101.34" x2="571.21" y2="102.7" stroke="#8a2a32" stroke-width="1.0482882591237268"/>
<line x1="570.57" y1="107.93" x2="570.57" y2="109.73" stroke="#8a2a32" stroke-width="0.9329835299336375"/>
<line x1="571.08" y1="93.09" x2="571.08" y2="95.41" stroke="#a8484e" stroke-width="1.0788506749037987"/>
<line x1="571.51" y1="100.9" x2="571.51" y2="114.94" stroke="#9a0c1a" stroke-width="0.9902112715264514"/>
<line x1="571.24" y1="107.09" x2="571.24" y2="108.92" stroke="#9a3a42" stroke-width="0.9273746463800491"/>
<line x1="571.39" y1="93.67" x2="571.39" y2="97.16" stroke="#a8484e" stroke-width="0.8953839047701533"/>
<line x1="571.89" y1="88.31" x2="571.89" y2="89.37" stroke="#8a8484" stroke-width="1.0050808447134987"/>
<line x1="572.31" y1="98.87" x2="572.31" y2="115.11" stroke="#880a16" stroke-width="0.7604769043218691"/>
<line x1="572.09" y1="104.98" x2="572.09" y2="107.98" stroke="#8a2a32" stroke-width="0.8996705043679356"/>
<line x1="572.18" y1="101.4" x2="572.18" y2="102.82" stroke="#9a3a42" stroke-width="1.0887645812080635"/>
<line x1="572.46" y1="94.74" x2="572.46" y2="96.37" stroke="#7a1a24" stroke-width="0.9971475402030414"/>
<line x1="572.99" y1="100.26" x2="572.99" y2="114.85" stroke="#b01420" stroke-width="0.7667849136281593"/>
<line x1="573.35" y1="99.2" x2="573.35" y2="101.43" stroke="#7a1a24" stroke-width="0.9710632441516309"/>
<line x1="572.97" y1="100.93" x2="572.97" y2="103.34" stroke="#9a3a42" stroke-width="1.0677633443136618"/>
<line x1="572.78" y1="103.97" x2="572.78" y2="106.43" stroke="#7a1a24" stroke-width="0.7630451133908805"/>
<line x1="574.07" y1="102.41" x2="574.07" y2="115.81" stroke="#6a2024" stroke-width="0.601281381687835"/>
<line x1="574.19" y1="98.19" x2="574.19" y2="100.9" stroke="#bab4b4" stroke-width="0.9650987490907307"/>
<line x1="573.71" y1="96.52" x2="573.71" y2="98.32" stroke="#a8484e" stroke-width="0.9556734844499567"/>
<line x1="573.89" y1="89.3" x2="573.89" y2="91.4" stroke="#a49e9e" stroke-width="0.7338499524600529"/>
<line x1="575.07" y1="102.02" x2="575.07" y2="115.28" stroke="#700814" stroke-width="0.7018590128269933"/>
<line x1="574.95" y1="107.5" x2="574.95" y2="108.65" stroke="#a8484e" stroke-width="0.7289854690130825"/>
<line x1="575.34" y1="106.57" x2="575.34" y2="108.83" stroke="#b0aaaa" stroke-width="0.8369933424184336"/>
<line x1="575.31" y1="92.38" x2="575.31" y2="95.83" stroke="#8a8484" stroke-width="1.0668430183170463"/>
<line x1="576.01" y1="109.84" x2="576.01" y2="115.75" stroke="#9a0c1a" stroke-width="0.9205108966856852"/>
<line x1="576.18" y1="92.15" x2="576.18" y2="93.26" stroke="#7a1a24" stroke-width="1.02347903258461"/>
<line x1="576.24" y1="108.93" x2="576.24" y2="111.46" stroke="#a8484e" stroke-width="1.0644188177580023"/>
<line x1="576.39" y1="108.43" x2="576.39" y2="109.82" stroke="#8a2a32" stroke-width="0.8038715123599274"/>
<line x1="576.75" y1="104.57" x2="576.75" y2="116.56" stroke="#b01420" stroke-width="0.8776963316644699"/>
<line x1="576.95" y1="104.88" x2="576.95" y2="107.56" stroke="#9a3a42" stroke-width="0.874474265777255"/>
<line x1="576.81" y1="97.31" x2="576.81" y2="100.67" stroke="#8a2a32" stroke-width="0.9556488332879648"/>
<line x1="576.39" y1="99.13" x2="576.39" y2="102.34" stroke="#7a1a24" stroke-width="0.8999614620079393"/>
<line x1="577.84" y1="102.72" x2="577.84" y2="116.5" stroke="#700814" stroke-width="0.8777796481647995"/>
<line x1="578" y1="99.92" x2="578" y2="100.99" stroke="#b0aaaa" stroke-width="0.8067486336418448"/>
<line x1="578.19" y1="105.49" x2="578.19" y2="108.77" stroke="#b0aaaa" stroke-width="0.8162160203840104"/>
<line x1="578.06" y1="109.41" x2="578.06" y2="111.24" stroke="#a8484e" stroke-width="0.8117188460156379"/>
<line x1="578.7" y1="106.46" x2="578.7" y2="117.5" stroke="#6a2024" stroke-width="0.8141830088205981"/>
<line x1="578.54" y1="99.21" x2="578.54" y2="102.54" stroke="#9a3a42" stroke-width="0.8456968135873201"/>
<line x1="578.35" y1="98.36" x2="578.35" y2="100.25" stroke="#7a1a24" stroke-width="0.9107652779217658"/>
<line x1="578.48" y1="109.6" x2="578.48" y2="112.9" stroke="#a8484e" stroke-width="1.0158627822217587"/>
<line x1="579.76" y1="101.15" x2="579.76" y2="117.4" stroke="#a81018" stroke-width="0.8742544335601877"/>
<line x1="579.83" y1="105.83" x2="579.83" y2="107.88" stroke="#7a1a24" stroke-width="0.7048959956399222"/>
<line x1="579.86" y1="91" x2="579.86" y2="92.46" stroke="#a49e9e" stroke-width="1.087582282044209"/>
<line x1="579.58" y1="106.37" x2="579.58" y2="109.37" stroke="#7a1a24" stroke-width="0.7165976157962471"/>
<line x1="580.39" y1="101.06" x2="580.39" y2="116.97" stroke="#a81018" stroke-width="0.6775380222639068"/>
<line x1="579.99" y1="94.77" x2="579.99" y2="96.93" stroke="#8a2a32" stroke-width="0.9459980590272067"/>
<line x1="580.45" y1="108.35" x2="580.45" y2="111.21" stroke="#a8484e" stroke-width="0.8612087721076522"/>
<line x1="580.03" y1="103.52" x2="580.03" y2="106.3" stroke="#a8484e" stroke-width="0.751428181663817"/>
<line x1="581.02" y1="106.93" x2="581.02" y2="118.34" stroke="#700814" stroke-width="0.8971958827703967"/>
<line x1="581.38" y1="105.48" x2="581.38" y2="108.61" stroke="#9a3a42" stroke-width="0.8946605026324939"/>
<line x1="580.89" y1="102.32" x2="580.89" y2="103.38" stroke="#a49e9e" stroke-width="1.0341155346204867"/>
<line x1="581.32" y1="105.27" x2="581.32" y2="106.75" stroke="#a8484e" stroke-width="0.7135537558534645"/>
<line x1="581.67" y1="104.26" x2="581.67" y2="118.33" stroke="#6a2024" stroke-width="0.7747410184285248"/>
<line x1="581.28" y1="99.5" x2="581.28" y2="102.68" stroke="#bab4b4" stroke-width="0.9488137506626582"/>
<line x1="581.79" y1="91.42" x2="581.79" y2="94.12" stroke="#a8484e" stroke-width="0.9018097131740517"/>
<line x1="581.86" y1="107.22" x2="581.86" y2="108.96" stroke="#8a2a32" stroke-width="0.9896015542870167"/>
<line x1="582.74" y1="109.97" x2="582.74" y2="118.16" stroke="#a81018" stroke-width="0.6850809802216528"/>
<line x1="582.77" y1="96.32" x2="582.77" y2="99.77" stroke="#8a2a32" stroke-width="0.8366789089538922"/>
<line x1="582.62" y1="105.54" x2="582.62" y2="107.61" stroke="#8a8484" stroke-width="0.7361285585568104"/>
<line x1="583.14" y1="98.13" x2="583.14" y2="99.62" stroke="#7a1a24" stroke-width="1.0650994224358565"/>
<line x1="583.37" y1="109.14" x2="583.37" y2="118.19" stroke="#6a2024" stroke-width="0.7565002532797631"/>
<line x1="583.57" y1="103" x2="583.57" y2="105.45" stroke="#7a1a24" stroke-width="0.8006264545208529"/>
<line x1="583.76" y1="105.57" x2="583.76" y2="106.92" stroke="#9a3a42" stroke-width="1.0122612851399402"/>
<line x1="583.19" y1="97.05" x2="583.19" y2="99.47" stroke="#8a2a32" stroke-width="0.9113203315532862"/>
<line x1="584.22" y1="103.54" x2="584.22" y2="118.73" stroke="#a81018" stroke-width="0.865309460423348"/>
<line x1="584.36" y1="96.44" x2="584.36" y2="97.69" stroke="#a8484e" stroke-width="0.7192814512859641"/>
<line x1="584.27" y1="100.35" x2="584.27" y2="103.74" stroke="#a8484e" stroke-width="0.8410522444027543"/>
<line x1="584.25" y1="107.02" x2="584.25" y2="108.44" stroke="#b0aaaa" stroke-width="0.8453783387793018"/>
<line x1="584.93" y1="111.33" x2="584.93" y2="119.55" stroke="#b01420" stroke-width="0.8149308547784415"/>
<line x1="584.64" y1="90.62" x2="584.64" y2="92.4" stroke="#8a8484" stroke-width="1.0490485275816734"/>
<line x1="584.55" y1="111.16" x2="584.55" y2="114.44" stroke="#9a3a42" stroke-width="0.9548024827065081"/>
<line x1="584.92" y1="90.68" x2="584.92" y2="93.42" stroke="#a49e9e" stroke-width="0.711236058668953"/>
<line x1="585.94" y1="113.82" x2="585.94" y2="119.82" stroke="#6a2024" stroke-width="0.7449256023743487"/>
<line x1="586.21" y1="97.57" x2="586.21" y2="100.33" stroke="#9a3a42" stroke-width="0.7110579056795256"/>
<line x1="586.02" y1="111.1" x2="586.02" y2="114.57" stroke="#7a1a24" stroke-width="0.7893609331511938"/>
<line x1="586.05" y1="95.33" x2="586.05" y2="98.63" stroke="#9a3a42" stroke-width="1.015185819387579"/>
<line x1="586.98" y1="104.39" x2="586.98" y2="120.22" stroke="#b01420" stroke-width="0.8708042286748005"/>
<line x1="586.75" y1="94.38" x2="586.75" y2="97.59" stroke="#b0aaaa" stroke-width="1.0489108587921994"/>
<line x1="586.97" y1="95.64" x2="586.97" y2="98.31" stroke="#969090" stroke-width="1.0400457194319344"/>
<line x1="586.65" y1="107.49" x2="586.65" y2="108.6" stroke="#8a2a32" stroke-width="0.8412332497885455"/>
<line x1="588.07" y1="110.78" x2="588.07" y2="119.79" stroke="#700814" stroke-width="0.9172055485899588"/>
<line x1="588.11" y1="100.27" x2="588.11" y2="101.38" stroke="#9a3a42" stroke-width="0.761072280095514"/>
<line x1="587.85" y1="106.27" x2="587.85" y2="107.32" stroke="#b0aaaa" stroke-width="0.7998613696098328"/>
<line x1="587.88" y1="90.76" x2="587.88" y2="91.8" stroke="#7a1a24" stroke-width="0.824161611248479"/>
<line x1="588.97" y1="106.26" x2="588.97" y2="121" stroke="#700814" stroke-width="0.7876325985116105"/>
<line x1="589.21" y1="102.66" x2="589.21" y2="104.77" stroke="#bab4b4" stroke-width="0.9871905460967825"/>
<line x1="588.97" y1="96.49" x2="588.97" y2="98.66" stroke="#7a1a24" stroke-width="0.911566378400668"/>
<line x1="588.8" y1="103.15" x2="588.8" y2="104.89" stroke="#9a3a42" stroke-width="0.8566553236003374"/>
<line x1="589.89" y1="103.19" x2="589.89" y2="120.91" stroke="#b01420" stroke-width="0.6765029351934564"/>
<line x1="590.04" y1="111.17" x2="590.04" y2="114.03" stroke="#a8484e" stroke-width="0.8818507674053575"/>
<line x1="589.55" y1="100.24" x2="589.55" y2="101.86" stroke="#9a3a42" stroke-width="1.0884001533266179"/>
<line x1="589.52" y1="103.63" x2="589.52" y2="105.35" stroke="#7a1a24" stroke-width="0.8427090495537198"/>
<line x1="590.97" y1="110.66" x2="590.97" y2="121.7" stroke="#880a16" stroke-width="0.9194273334429115"/>
<line x1="591.02" y1="107.92" x2="591.02" y2="111.27" stroke="#a8484e" stroke-width="0.8742046403632532"/>
<line x1="590.62" y1="109.03" x2="590.62" y2="111.89" stroke="#9a3a42" stroke-width="0.796904914600208"/>
<line x1="591.36" y1="102.91" x2="591.36" y2="106.21" stroke="#7a1a24" stroke-width="0.9458511204059347"/>
<line x1="591.57" y1="113.61" x2="591.57" y2="120.94" stroke="#b01420" stroke-width="0.6291111923538728"/>
<line x1="591.96" y1="109.2" x2="591.96" y2="110.66" stroke="#8a2a32" stroke-width="0.7753011489344426"/>
<line x1="591.22" y1="110.01" x2="591.22" y2="111.1" stroke="#969090" stroke-width="1.019148652898145"/>
<line x1="591.77" y1="94.7" x2="591.77" y2="97.92" stroke="#a49e9e" stroke-width="0.9579858868064136"/>
<line x1="592.67" y1="115.19" x2="592.67" y2="121.35" stroke="#6a2024" stroke-width="0.6737735757815214"/>
<line x1="592.96" y1="106.56" x2="592.96" y2="108.32" stroke="#8a2a32" stroke-width="1.0515804643143665"/>
<line x1="592.6" y1="107.07" x2="592.6" y2="109.7" stroke="#9a3a42" stroke-width="0.7140794641969492"/>
<line x1="592.81" y1="105.53" x2="592.81" y2="106.69" stroke="#969090" stroke-width="0.7745891263932845"/>
<line x1="593.39" y1="107.86" x2="593.39" y2="121.67" stroke="#6a2024" stroke-width="0.6480430423609745"/>
<line x1="593.73" y1="106.74" x2="593.73" y2="108.54" stroke="#a8484e" stroke-width="0.7028303088512451"/>
<line x1="593.41" y1="101.5" x2="593.41" y2="102.62" stroke="#8a2a32" stroke-width="0.7111701171391108"/>
<line x1="593.3" y1="114.94" x2="593.3" y2="118.3" stroke="#7a1a24" stroke-width="0.9573357937178237"/>
<line x1="594.29" y1="106.86" x2="594.29" y2="122.99" stroke="#6a2024" stroke-width="0.9063299853927922"/>
<line x1="594.28" y1="105.39" x2="594.28" y2="106.49" stroke="#969090" stroke-width="0.9170485909721506"/>
<line x1="594.26" y1="114.71" x2="594.26" y2="117.82" stroke="#8a8484" stroke-width="0.9478500913849137"/>
<line x1="594.17" y1="109.65" x2="594.17" y2="110.81" stroke="#8a2a32" stroke-width="0.8107085828850157"/>
<line x1="595.2" y1="117.35" x2="595.2" y2="123.03" stroke="#6a2024" stroke-width="0.7523898427039243"/>
<line x1="595.28" y1="94.33" x2="595.28" y2="97.62" stroke="#b0aaaa" stroke-width="0.7149504202383314"/>
<line x1="595.16" y1="94.95" x2="595.16" y2="97.04" stroke="#969090" stroke-width="0.7294658262740432"/>
<line x1="595.43" y1="104.64" x2="595.43" y2="106.66" stroke="#bab4b4" stroke-width="0.8512690978292599"/>
<line x1="596.17" y1="105.81" x2="596.17" y2="123.65" stroke="#9a0c1a" stroke-width="0.6159023969997556"/>
<line x1="596.52" y1="107.11" x2="596.52" y2="109.17" stroke="#b0aaaa" stroke-width="1.0154950844872923"/>
<line x1="596.52" y1="112.73" x2="596.52" y2="114.06" stroke="#7a1a24" stroke-width="0.8533704930544908"/>
<line x1="596.5" y1="109.32" x2="596.5" y2="110.42" stroke="#8a2a32" stroke-width="0.813802231243138"/>
<line x1="596.92" y1="115.75" x2="596.92" y2="122.98" stroke="#6a2024" stroke-width="0.8934094069145697"/>
<line x1="597.13" y1="107.99" x2="597.13" y2="109.27" stroke="#7a1a24" stroke-width="1.0919013891241356"/>
<line x1="596.99" y1="110.31" x2="596.99" y2="113" stroke="#7a1a24" stroke-width="0.9307678189812122"/>
<line x1="597.32" y1="113.64" x2="597.32" y2="116.74" stroke="#7a1a24" stroke-width="0.9623399384903472"/>
<line x1="598" y1="107.04" x2="598" y2="123.81" stroke="#b01420" stroke-width="0.6359510187256912"/>
<line x1="598.1" y1="111.51" x2="598.1" y2="113.21" stroke="#a8484e" stroke-width="0.8291311173296472"/>
<line x1="598.13" y1="107.45" x2="598.13" y2="110.6" stroke="#8a8484" stroke-width="0.7120740093665066"/>
<line x1="597.75" y1="97.42" x2="597.75" y2="100.54" stroke="#bab4b4" stroke-width="0.7794769477257778"/>
<line x1="598.88" y1="110.22" x2="598.88" y2="124.61" stroke="#700814" stroke-width="0.8750496238528388"/>
<line x1="599.27" y1="108.19" x2="599.27" y2="110.78" stroke="#a8484e" stroke-width="0.7260995162464521"/>
<line x1="598.62" y1="110.32" x2="598.62" y2="112.47" stroke="#8a8484" stroke-width="0.8896719572999423"/>
<line x1="598.79" y1="109.27" x2="598.79" y2="111.05" stroke="#bab4b4" stroke-width="0.9966619634074552"/>
<line x1="599.71" y1="115.67" x2="599.71" y2="124.72" stroke="#6a2024" stroke-width="0.9867026476815233"/>
<line x1="599.86" y1="98.24" x2="599.86" y2="100.29" stroke="#9a3a42" stroke-width="1.037826797912299"/>
<line x1="600.08" y1="106.47" x2="600.08" y2="107.61" stroke="#b0aaaa" stroke-width="0.7393436668316983"/>
<line x1="599.85" y1="94.22" x2="599.85" y2="96.59" stroke="#b0aaaa" stroke-width="1.042468118180264"/>
<line x1="600.49" y1="107.29" x2="600.49" y2="124.4" stroke="#700814" stroke-width="0.7904124594609783"/>
<line x1="600.22" y1="95.98" x2="600.22" y2="97.85" stroke="#8a2a32" stroke-width="0.7372761058909423"/>
<line x1="600.39" y1="110.43" x2="600.39" y2="113.05" stroke="#8a2a32" stroke-width="0.8485478695750202"/>
<line x1="600.78" y1="103.81" x2="600.78" y2="106.51" stroke="#9a3a42" stroke-width="1.089952136059685"/>
<line x1="601.24" y1="117.49" x2="601.24" y2="124.66" stroke="#a81018" stroke-width="0.6845480114542357"/>
<line x1="601.32" y1="104.38" x2="601.32" y2="106.66" stroke="#a8484e" stroke-width="0.9041661061828625"/>
<line x1="601.13" y1="95.14" x2="601.13" y2="96.39" stroke="#bab4b4" stroke-width="1.0835647815249314"/>
<line x1="601.24" y1="111.33" x2="601.24" y2="114.34" stroke="#bab4b4" stroke-width="0.8578090279126946"/>
<line x1="602.3" y1="113.43" x2="602.3" y2="125.31" stroke="#a81018" stroke-width="0.9419141571442788"/>
<line x1="602.32" y1="95.93" x2="602.32" y2="99.34" stroke="#8a8484" stroke-width="1.081253847928831"/>
<line x1="602.38" y1="104.74" x2="602.38" y2="107.65" stroke="#8a2a32" stroke-width="0.8777996022990786"/>
<line x1="602.48" y1="101.13" x2="602.48" y2="102.14" stroke="#969090" stroke-width="0.7675220682708581"/>
<line x1="602.97" y1="108.75" x2="602.97" y2="125.88" stroke="#6a2024" stroke-width="0.8934854032528656"/>
<line x1="602.92" y1="107.9" x2="602.92" y2="110.41" stroke="#b0aaaa" stroke-width="0.7203629382887506"/>
<line x1="602.91" y1="116.86" x2="602.91" y2="118.05" stroke="#9a3a42" stroke-width="0.9211182804023548"/>
<line x1="603.29" y1="117.84" x2="603.29" y2="120.81" stroke="#a8484e" stroke-width="0.7825937236204985"/>
<line x1="603.59" y1="115.63" x2="603.59" y2="125.66" stroke="#9a0c1a" stroke-width="0.7227447686101938"/>
<line x1="603.53" y1="104.46" x2="603.53" y2="105.85" stroke="#8a2a32" stroke-width="0.8831267256082581"/>
<line x1="603.91" y1="98.68" x2="603.91" y2="101.67" stroke="#8a8484" stroke-width="0.7162977749601669"/>
<line x1="603.6" y1="106.55" x2="603.6" y2="108.92" stroke="#bab4b4" stroke-width="0.8134068854117618"/>
<line x1="604.28" y1="114.53" x2="604.28" y2="125.41" stroke="#b01420" stroke-width="0.8974949635939165"/>
<line x1="604.57" y1="112.97" x2="604.57" y2="116.31" stroke="#8a8484" stroke-width="0.7895659937368411"/>
<line x1="604.01" y1="95.98" x2="604.01" y2="99.04" stroke="#969090" stroke-width="0.8985186393451228"/>
<line x1="603.94" y1="110.17" x2="603.94" y2="111.73" stroke="#b0aaaa" stroke-width="0.9426240551636467"/>
<line x1="605" y1="108.22" x2="605" y2="126.1" stroke="#b01420" stroke-width="0.8453077166641563"/>
<line x1="604.93" y1="113.45" x2="604.93" y2="116.07" stroke="#a8484e" stroke-width="0.8497443881962681"/>
<line x1="604.88" y1="104.66" x2="604.88" y2="106.54" stroke="#b0aaaa" stroke-width="1.0387135275254216"/>
<line x1="604.91" y1="114.17" x2="604.91" y2="116.78" stroke="#7a1a24" stroke-width="0.800494877649781"/>
<line x1="605.76" y1="108.6" x2="605.76" y2="126.01" stroke="#9a0c1a" stroke-width="0.836651827032331"/>
<line x1="605.79" y1="110.4" x2="605.79" y2="113.34" stroke="#8a2a32" stroke-width="0.8958538062151764"/>
<line x1="606.11" y1="97.12" x2="606.11" y2="100.12" stroke="#8a8484" stroke-width="1.0730524284378884"/>
<line x1="605.38" y1="114.56" x2="605.38" y2="117.15" stroke="#8a8484" stroke-width="1.0210257613027793"/>
<line x1="606.52" y1="110.21" x2="606.52" y2="127.09" stroke="#700814" stroke-width="0.6330999308590712"/>
<line x1="606.48" y1="113.38" x2="606.48" y2="115.88" stroke="#9a3a42" stroke-width="0.8277499864059935"/>
<line x1="606.33" y1="95.84" x2="606.33" y2="97.17" stroke="#b0aaaa" stroke-width="0.9488545296267655"/>
<line x1="606.22" y1="113.58" x2="606.22" y2="116.6" stroke="#8a2a32" stroke-width="0.7360645835884162"/>
<line x1="607.4" y1="109.01" x2="607.4" y2="127.42" stroke="#a81018" stroke-width="0.8467553053984195"/>
<line x1="607.72" y1="102.57" x2="607.72" y2="105.96" stroke="#b0aaaa" stroke-width="1.0031708969281936"/>
<line x1="607.54" y1="111.1" x2="607.54" y2="112.5" stroke="#7a1a24" stroke-width="0.9120183374622959"/>
<line x1="607.07" y1="105.38" x2="607.07" y2="106.74" stroke="#a8484e" stroke-width="0.7188700016188131"/>
<line x1="608.08" y1="122.5" x2="608.08" y2="127.39" stroke="#a81018" stroke-width="0.6560534818927756"/>
<line x1="607.76" y1="99.53" x2="607.76" y2="101.36" stroke="#7a1a24" stroke-width="0.8675028562579824"/>
<line x1="607.74" y1="107.51" x2="607.74" y2="109.18" stroke="#969090" stroke-width="1.0075023581600988"/>
<line x1="607.94" y1="109.95" x2="607.94" y2="112.58" stroke="#a8484e" stroke-width="0.8712005658816556"/>
<line x1="608.7" y1="108.79" x2="608.7" y2="127.42" stroke="#b01420" stroke-width="0.6550184655081709"/>
<line x1="608.69" y1="100.39" x2="608.69" y2="103.79" stroke="#bab4b4" stroke-width="0.7854687059980228"/>
<line x1="608.96" y1="111.61" x2="608.96" y2="115.06" stroke="#a8484e" stroke-width="0.7712486705272338"/>
<line x1="608.82" y1="114.21" x2="608.82" y2="116.12" stroke="#9a3a42" stroke-width="0.8710215009190385"/>
<line x1="609.76" y1="109.58" x2="609.76" y2="128.33" stroke="#880a16" stroke-width="0.9632363955752341"/>
<line x1="609.98" y1="98.01" x2="609.98" y2="100.1" stroke="#bab4b4" stroke-width="0.8827423185922754"/>
<line x1="609.76" y1="107.37" x2="609.76" y2="110.75" stroke="#8a8484" stroke-width="1.0503767500114038"/>
<line x1="609.39" y1="119.88" x2="609.39" y2="121.84" stroke="#9a3a42" stroke-width="0.8437075165766194"/>
<line x1="610.37" y1="109.57" x2="610.37" y2="128.04" stroke="#880a16" stroke-width="0.9350054930172648"/>
<line x1="610.06" y1="96.65" x2="610.06" y2="99.62" stroke="#b0aaaa" stroke-width="0.7235545682620047"/>
<line x1="610.11" y1="112.98" x2="610.11" y2="114.24" stroke="#7a1a24" stroke-width="0.7060637099864274"/>
<line x1="610.13" y1="114.94" x2="610.13" y2="116.88" stroke="#a49e9e" stroke-width="0.8880310170915465"/>
<line x1="611.02" y1="121.62" x2="611.02" y2="128.72" stroke="#a81018" stroke-width="0.7420371535095736"/>
<line x1="611.36" y1="107.81" x2="611.36" y2="108.97" stroke="#7a1a24" stroke-width="0.819171335104097"/>
<line x1="610.75" y1="104.61" x2="610.75" y2="108.09" stroke="#8a2a32" stroke-width="0.7802226571138642"/>
<line x1="611.34" y1="116.11" x2="611.34" y2="117.3" stroke="#b0aaaa" stroke-width="0.9348929902336898"/>
<line x1="611.78" y1="110.1" x2="611.78" y2="128.53" stroke="#b01420" stroke-width="0.6134518386442425"/>
<line x1="611.7" y1="103.63" x2="611.7" y2="104.82" stroke="#a8484e" stroke-width="1.0424696231472745"/>
<line x1="611.96" y1="106.62" x2="611.96" y2="108.47" stroke="#8a8484" stroke-width="0.7909847334023798"/>
<line x1="611.59" y1="97.81" x2="611.59" y2="99.54" stroke="#8a8484" stroke-width="1.0700381027609827"/>
<line x1="612.65" y1="114.75" x2="612.65" y2="128.78" stroke="#700814" stroke-width="0.7342834102557925"/>
<line x1="612.74" y1="108.76" x2="612.74" y2="109.78" stroke="#b0aaaa" stroke-width="1.0033282884895944"/>
<line x1="612.72" y1="100.38" x2="612.72" y2="103.22" stroke="#8a8484" stroke-width="0.7114041666992754"/>
<line x1="612.27" y1="96.63" x2="612.27" y2="97.89" stroke="#969090" stroke-width="1.014137029153826"/>
<line x1="613.52" y1="116.96" x2="613.52" y2="129.21" stroke="#9a0c1a" stroke-width="0.8012572776985718"/>
<line x1="613.66" y1="116.56" x2="613.66" y2="118.71" stroke="#9a3a42" stroke-width="0.9133561190883319"/>
<line x1="613.79" y1="111.2" x2="613.79" y2="114.27" stroke="#8a2a32" stroke-width="0.9148080038975707"/>
<line x1="613.23" y1="110.69" x2="613.23" y2="111.71" stroke="#a8484e" stroke-width="0.932360756887854"/>
<line x1="614.57" y1="113.76" x2="614.57" y2="128.91" stroke="#a81018" stroke-width="0.6449950567943038"/>
<line x1="614.18" y1="112.88" x2="614.18" y2="114.44" stroke="#a8484e" stroke-width="0.9933561455567487"/>
<line x1="614.94" y1="119.06" x2="614.94" y2="121.08" stroke="#7a1a24" stroke-width="0.884656345043953"/>
<line x1="614.2" y1="120.36" x2="614.2" y2="122.55" stroke="#8a2a32" stroke-width="0.8352694129071937"/>
<line x1="615.23" y1="123.66" x2="615.23" y2="129.09" stroke="#700814" stroke-width="0.9226614250112362"/>
<line x1="614.91" y1="100.23" x2="614.91" y2="102.07" stroke="#bab4b4" stroke-width="0.8641240701527375"/>
<line x1="615.07" y1="109" x2="615.07" y2="110.05" stroke="#bab4b4" stroke-width="0.994287141881514"/>
<line x1="614.98" y1="118.71" x2="614.98" y2="121.99" stroke="#9a3a42" stroke-width="0.8928838688323172"/>
<line x1="616.18" y1="120.35" x2="616.18" y2="130.18" stroke="#6a2024" stroke-width="0.6077555392072056"/>
<line x1="616.3" y1="99.59" x2="616.3" y2="100.84" stroke="#a49e9e" stroke-width="0.747343271334585"/>
<line x1="616.13" y1="99.34" x2="616.13" y2="101.04" stroke="#8a2a32" stroke-width="1.0625284216303181"/>
<line x1="616.39" y1="111.99" x2="616.39" y2="114.27" stroke="#b0aaaa" stroke-width="0.8085182605854406"/>
<line x1="617.04" y1="120.71" x2="617.04" y2="130.44" stroke="#6a2024" stroke-width="0.654513001879242"/>
<line x1="616.82" y1="104.03" x2="616.82" y2="107.43" stroke="#9a3a42" stroke-width="1.0800147445122128"/>
<line x1="617.09" y1="120.99" x2="617.09" y2="122.18" stroke="#7a1a24" stroke-width="0.9926972387277546"/>
<line x1="616.95" y1="118.72" x2="616.95" y2="121" stroke="#8a2a32" stroke-width="1.0005774929759597"/>
<line x1="617.66" y1="119.67" x2="617.66" y2="130.22" stroke="#6a2024" stroke-width="0.6797450621875941"/>
<line x1="617.78" y1="105.71" x2="617.78" y2="106.88" stroke="#a49e9e" stroke-width="1.060026149090476"/>
<line x1="618.02" y1="116.05" x2="618.02" y2="117.43" stroke="#a8484e" stroke-width="0.876898418905072"/>
<line x1="617.27" y1="118.56" x2="617.27" y2="120.56" stroke="#9a3a42" stroke-width="0.7979444558483081"/>
<line x1="618.38" y1="114.09" x2="618.38" y2="130.79" stroke="#6a2024" stroke-width="0.8363605377466659"/>
<line x1="618.56" y1="101.23" x2="618.56" y2="103.76" stroke="#9a3a42" stroke-width="0.841709572324771"/>
<line x1="618.66" y1="106.46" x2="618.66" y2="108.84" stroke="#a49e9e" stroke-width="0.7210325857040196"/>
<line x1="618.74" y1="109.72" x2="618.74" y2="112.75" stroke="#a49e9e" stroke-width="1.0960169031071116"/>
<line x1="619.21" y1="110.98" x2="619.21" y2="130.69" stroke="#6a2024" stroke-width="0.6679786558838334"/>
<line x1="618.81" y1="119.32" x2="618.81" y2="122.4" stroke="#a49e9e" stroke-width="0.9498784765346795"/>
<line x1="619.42" y1="123.1" x2="619.42" y2="126.57" stroke="#8a2a32" stroke-width="0.8849172022945684"/>
<line x1="619.25" y1="120.85" x2="619.25" y2="124.15" stroke="#8a2a32" stroke-width="0.7242386966715173"/>
<line x1="620.09" y1="115.72" x2="620.09" y2="131.03" stroke="#700814" stroke-width="0.8303048053547855"/>
<line x1="620.17" y1="116.89" x2="620.17" y2="118.94" stroke="#8a2a32" stroke-width="1.0208221466711918"/>
<line x1="620.15" y1="106.76" x2="620.15" y2="108.51" stroke="#9a3a42" stroke-width="0.8297796488232975"/>
<line x1="619.96" y1="111.36" x2="619.96" y2="114.5" stroke="#b0aaaa" stroke-width="0.9445784576715086"/>
<line x1="621.04" y1="116.3" x2="621.04" y2="130.28" stroke="#9a0c1a" stroke-width="0.9808113331062941"/>
<line x1="621.33" y1="117.59" x2="621.33" y2="120.44" stroke="#9a3a42" stroke-width="0.7221031139691152"/>
<line x1="621.3" y1="101.73" x2="621.3" y2="103" stroke="#9a3a42" stroke-width="0.8753134060045531"/>
<line x1="621.05" y1="109.91" x2="621.05" y2="111.58" stroke="#b0aaaa" stroke-width="1.0923808617600987"/>
<line x1="621.83" y1="111.89" x2="621.83" y2="129.69" stroke="#9a0c1a" stroke-width="0.6380672193114131"/>
<line x1="621.69" y1="102.87" x2="621.69" y2="105.53" stroke="#8a8484" stroke-width="1.0621266471210964"/>
<line x1="622.15" y1="122.71" x2="622.15" y2="124.6" stroke="#7a1a24" stroke-width="0.9401272940092495"/>
<line x1="621.61" y1="118.34" x2="621.61" y2="121.15" stroke="#9a3a42" stroke-width="0.9339138120449101"/>
<line x1="622.85" y1="112.82" x2="622.85" y2="129.11" stroke="#6a2024" stroke-width="0.7985088433541229"/>
<line x1="622.48" y1="109.6" x2="622.48" y2="111.92" stroke="#b0aaaa" stroke-width="1.0701509996277536"/>
<line x1="623.01" y1="115.09" x2="623.01" y2="116.92" stroke="#969090" stroke-width="1.0086233491928143"/>
<line x1="623.11" y1="112.74" x2="623.11" y2="115.9" stroke="#bab4b4" stroke-width="0.9752608683373092"/>
<line x1="623.59" y1="112.15" x2="623.59" y2="129.39" stroke="#880a16" stroke-width="0.6761221793857343"/>
<line x1="623.24" y1="99.27" x2="623.24" y2="100.67" stroke="#a8484e" stroke-width="0.7196850946720607"/>
<line x1="623.41" y1="113.52" x2="623.41" y2="114.73" stroke="#7a1a24" stroke-width="0.7072332774018761"/>
<line x1="623.53" y1="119.01" x2="623.53" y2="120.93" stroke="#bab4b4" stroke-width="1.0804699983619568"/>
<line x1="624.35" y1="122.8" x2="624.35" y2="128.95" stroke="#700814" stroke-width="0.7853498757767612"/>
<line x1="624.14" y1="107.61" x2="624.14" y2="108.92" stroke="#8a2a32" stroke-width="0.8289425244544146"/>
<line x1="624.14" y1="118.98" x2="624.14" y2="120.37" stroke="#9a3a42" stroke-width="1.0868608012687726"/>
<line x1="623.99" y1="120.48" x2="623.99" y2="122.4" stroke="#a8484e" stroke-width="1.064010847258943"/>
<line x1="624.98" y1="115.13" x2="624.98" y2="129.31" stroke="#9a0c1a" stroke-width="0.9471867444582617"/>
<line x1="624.77" y1="119.26" x2="624.77" y2="122.4" stroke="#8a8484" stroke-width="0.790184104730052"/>
<line x1="624.94" y1="107.76" x2="624.94" y2="110.78" stroke="#969090" stroke-width="0.8049883766180822"/>
<line x1="625.24" y1="118.26" x2="625.24" y2="119.92" stroke="#8a8484" stroke-width="0.9178119437517291"/>
<line x1="625.77" y1="114.34" x2="625.77" y2="128.54" stroke="#880a16" stroke-width="0.8777996465136224"/>
<line x1="626.05" y1="104.82" x2="626.05" y2="106.38" stroke="#8a8484" stroke-width="1.095326534180705"/>
<line x1="625.79" y1="111.19" x2="625.79" y2="112.32" stroke="#a49e9e" stroke-width="0.9524559850965196"/>
<line x1="625.51" y1="110.15" x2="625.51" y2="112.96" stroke="#9a3a42" stroke-width="1.0767446922101345"/>
<line x1="626.47" y1="111.06" x2="626.47" y2="128.68" stroke="#700814" stroke-width="0.7385531032191505"/>
<line x1="626.17" y1="118.63" x2="626.17" y2="121.23" stroke="#a8484e" stroke-width="0.7547587581975038"/>
<line x1="626.18" y1="102.97" x2="626.18" y2="104.73" stroke="#bab4b4" stroke-width="0.7575645577901928"/>
<line x1="626.62" y1="110.81" x2="626.62" y2="113.83" stroke="#969090" stroke-width="0.8953452792364693"/>
<line x1="627.53" y1="122.22" x2="627.53" y2="127.46" stroke="#880a16" stroke-width="0.7268270175021019"/>
<line x1="627.51" y1="104.65" x2="627.51" y2="108.11" stroke="#8a8484" stroke-width="0.8158197589924809"/>
<line x1="627.74" y1="109.57" x2="627.74" y2="112.77" stroke="#7a1a24" stroke-width="1.0694701757529312"/>
<line x1="627.92" y1="106.15" x2="627.92" y2="109.37" stroke="#8a2a32" stroke-width="0.9280354961925645"/>
<line x1="628.44" y1="118.36" x2="628.44" y2="127.49" stroke="#9a0c1a" stroke-width="0.7846224367395466"/>
<line x1="628.63" y1="102.26" x2="628.63" y2="105.4" stroke="#969090" stroke-width="0.8829557731889037"/>
<line x1="628.5" y1="109.84" x2="628.5" y2="111.86" stroke="#a49e9e" stroke-width="0.758072843193272"/>
<line x1="628.45" y1="110.21" x2="628.45" y2="112.84" stroke="#a49e9e" stroke-width="0.7433925215519954"/>
<line x1="629.09" y1="112.1" x2="629.09" y2="127.81" stroke="#a81018" stroke-width="0.8213921060575531"/>
<line x1="629.16" y1="104.06" x2="629.16" y2="106.68" stroke="#bab4b4" stroke-width="0.9530053721217447"/>
<line x1="628.77" y1="101.76" x2="628.77" y2="104.63" stroke="#8a8484" stroke-width="0.7543182062838477"/>
<line x1="629.14" y1="102.14" x2="629.14" y2="104.16" stroke="#969090" stroke-width="1.0723029896979739"/>
<line x1="629.8" y1="113.73" x2="629.8" y2="127.62" stroke="#700814" stroke-width="0.6371051424963284"/>
<line x1="629.68" y1="117.79" x2="629.68" y2="119.65" stroke="#a49e9e" stroke-width="0.7743404525951539"/>
<line x1="629.98" y1="105.03" x2="629.98" y2="107.43" stroke="#7a1a24" stroke-width="0.8050881825672604"/>
<line x1="630.11" y1="104.97" x2="630.11" y2="106.83" stroke="#9a3a42" stroke-width="1.0816636668343405"/>
<line x1="630.69" y1="114.36" x2="630.69" y2="126.55" stroke="#9a0c1a" stroke-width="0.8935847852031572"/>
<line x1="630.48" y1="116.55" x2="630.48" y2="117.8" stroke="#9a3a42" stroke-width="1.0106653054713535"/>
<line x1="630.44" y1="104.03" x2="630.44" y2="107.25" stroke="#7a1a24" stroke-width="0.7004259044785062"/>
<line x1="630.77" y1="113.7" x2="630.77" y2="117.04" stroke="#9a3a42" stroke-width="0.9490004516600721"/>
<line x1="631.58" y1="115.13" x2="631.58" y2="126.55" stroke="#b01420" stroke-width="0.7135589100333913"/>
<line x1="631.76" y1="120.72" x2="631.76" y2="122.29" stroke="#9a3a42" stroke-width="0.711091870793199"/>
<line x1="631.42" y1="108.6" x2="631.42" y2="111.82" stroke="#bab4b4" stroke-width="1.0281672255784913"/>
<line x1="631.66" y1="102.14" x2="631.66" y2="103.87" stroke="#bab4b4" stroke-width="0.9301944954384695"/>
<line x1="632.34" y1="112.49" x2="632.34" y2="125.61" stroke="#700814" stroke-width="0.8298857670917124"/>
<line x1="632.7" y1="111.57" x2="632.7" y2="114.1" stroke="#969090" stroke-width="0.9775793887017759"/>
<line x1="632.09" y1="114.7" x2="632.09" y2="115.9" stroke="#8a2a32" stroke-width="0.9094127586973196"/>
<line x1="632.31" y1="104.95" x2="632.31" y2="106.3" stroke="#a8484e" stroke-width="0.9026811196326208"/>
<line x1="633.2" y1="117.39" x2="633.2" y2="126.1" stroke="#700814" stroke-width="0.8341806320310081"/>
<line x1="633.03" y1="120.12" x2="633.03" y2="122.05" stroke="#9a3a42" stroke-width="0.8729600593234668"/>
<line x1="633.08" y1="115.63" x2="633.08" y2="117" stroke="#9a3a42" stroke-width="0.9016021713479512"/>
<line x1="633.11" y1="111.6" x2="633.11" y2="112.81" stroke="#969090" stroke-width="0.7069442758470853"/>
<line x1="634.09" y1="119.48" x2="634.09" y2="125.37" stroke="#a81018" stroke-width="0.9971037111939607"/>
<line x1="634.23" y1="111.03" x2="634.23" y2="113.43" stroke="#7a1a24" stroke-width="0.7362233604794134"/>
<line x1="634.08" y1="114.47" x2="634.08" y2="117.29" stroke="#a8484e" stroke-width="0.9977110390852302"/>
<line x1="633.83" y1="109.3" x2="633.83" y2="112.52" stroke="#7a1a24" stroke-width="0.7708884471974405"/>
<line x1="635.05" y1="113.21" x2="635.05" y2="125.15" stroke="#9a0c1a" stroke-width="0.6355035711863087"/>
<line x1="635.38" y1="117.7" x2="635.38" y2="119.82" stroke="#969090" stroke-width="0.9550720208445167"/>
<line x1="634.94" y1="110.6" x2="634.94" y2="112.32" stroke="#b0aaaa" stroke-width="1.0141053858819276"/>
<line x1="635.28" y1="113.33" x2="635.28" y2="115.83" stroke="#8a2a32" stroke-width="0.8293496226919442"/>
<line x1="636.13" y1="117.82" x2="636.13" y2="125.06" stroke="#b01420" stroke-width="0.8059148784499092"/>
<line x1="636.12" y1="112.9" x2="636.12" y2="114.62" stroke="#9a3a42" stroke-width="0.7637628628108113"/>
<line x1="636.01" y1="106.72" x2="636.01" y2="109.94" stroke="#8a8484" stroke-width="0.8864746648669717"/>
<line x1="635.92" y1="113.74" x2="635.92" y2="117.18" stroke="#9a3a42" stroke-width="0.918562393508386"/>
<line x1="636.89" y1="114.07" x2="636.89" y2="124.25" stroke="#a81018" stroke-width="0.7987077465169274"/>
<line x1="636.8" y1="119.71" x2="636.8" y2="123.21" stroke="#7a1a24" stroke-width="0.8574402910501061"/>
<line x1="636.84" y1="110.08" x2="636.84" y2="111.66" stroke="#bab4b4" stroke-width="0.7608502201522257"/>
<line x1="636.51" y1="106.22" x2="636.51" y2="107.35" stroke="#a49e9e" stroke-width="1.0273822364445286"/>
<line x1="637.63" y1="111.71" x2="637.63" y2="124.63" stroke="#a81018" stroke-width="0.6421229894272836"/>
<line x1="637.24" y1="110.77" x2="637.24" y2="111.9" stroke="#7a1a24" stroke-width="0.8260553523118708"/>
<line x1="637.7" y1="111.26" x2="637.7" y2="114.54" stroke="#9a3a42" stroke-width="0.9693053382596708"/>
<line x1="637.81" y1="107.11" x2="637.81" y2="109.14" stroke="#8a8484" stroke-width="0.8710695042696107"/>
<line x1="638.34" y1="113.04" x2="638.34" y2="123.69" stroke="#a81018" stroke-width="0.7093615956076181"/>
<line x1="637.99" y1="112.85" x2="637.99" y2="114.68" stroke="#969090" stroke-width="0.859070180915801"/>
<line x1="638.15" y1="104.99" x2="638.15" y2="108.19" stroke="#bab4b4" stroke-width="0.7128791938226803"/>
<line x1="638.35" y1="107.24" x2="638.35" y2="108.69" stroke="#969090" stroke-width="0.7339649043770289"/>
<line x1="639.27" y1="112.48" x2="639.27" y2="124.22" stroke="#700814" stroke-width="0.6174480335190937"/>
<line x1="639.13" y1="104.06" x2="639.13" y2="106.21" stroke="#a8484e" stroke-width="1.0452130645357702"/>
<line x1="639.03" y1="112.32" x2="639.03" y2="115.2" stroke="#bab4b4" stroke-width="0.871999641614038"/>
<line x1="639.55" y1="111.92" x2="639.55" y2="113.13" stroke="#a49e9e" stroke-width="0.7891522025602197"/>
<line x1="640.18" y1="113.92" x2="640.18" y2="123.92" stroke="#9a0c1a" stroke-width="0.7733135817061538"/>
<line x1="639.99" y1="116.33" x2="639.99" y2="117.35" stroke="#a8484e" stroke-width="1.0931444448213727"/>
<line x1="640.33" y1="107.88" x2="640.33" y2="109.68" stroke="#b0aaaa" stroke-width="0.9100509310882178"/>
<line x1="639.78" y1="109.3" x2="639.78" y2="111.51" stroke="#b0aaaa" stroke-width="0.9047524774940827"/>
<line x1="640.85" y1="118.35" x2="640.85" y2="123.34" stroke="#a81018" stroke-width="0.6070353068346719"/>
<line x1="640.79" y1="108.81" x2="640.79" y2="111.77" stroke="#bab4b4" stroke-width="0.9204390725916579"/>
<line x1="641.06" y1="105.61" x2="641.06" y2="107.68" stroke="#b0aaaa" stroke-width="0.9382617279289387"/>
<line x1="640.96" y1="105.21" x2="640.96" y2="106.51" stroke="#bab4b4" stroke-width="0.7886289740968461"/>
<line x1="641.52" y1="111.75" x2="641.52" y2="122.29" stroke="#9a0c1a" stroke-width="0.7471539936305136"/>
<line x1="641.15" y1="104.41" x2="641.15" y2="107.33" stroke="#9a3a42" stroke-width="0.7269997967804013"/>
<line x1="641.49" y1="107.63" x2="641.49" y2="108.67" stroke="#9a3a42" stroke-width="0.9278929162133597"/>
<line x1="641.17" y1="106.93" x2="641.17" y2="108.4" stroke="#969090" stroke-width="0.9097732895264757"/>
<line x1="642.41" y1="115.6" x2="642.41" y2="122.24" stroke="#b01420" stroke-width="0.8314717312025222"/>
<line x1="642.31" y1="111.23" x2="642.31" y2="112.73" stroke="#bab4b4" stroke-width="0.7333517218465074"/>
<line x1="642.48" y1="116.67" x2="642.48" y2="117.84" stroke="#9a3a42" stroke-width="0.8150093294625969"/>
<line x1="642.5" y1="113.46" x2="642.5" y2="115.54" stroke="#8a8484" stroke-width="0.7957777564890985"/>
<line x1="643.17" y1="117.52" x2="643.17" y2="121.63" stroke="#9a0c1a" stroke-width="0.7869603553823981"/>
<line x1="643.27" y1="111.64" x2="643.27" y2="114.53" stroke="#bab4b4" stroke-width="1.0070829020542529"/>
<line x1="643.12" y1="115.79" x2="643.12" y2="117.91" stroke="#a8484e" stroke-width="0.9605740794042763"/>
<line x1="642.95" y1="108.99" x2="642.95" y2="112" stroke="#a8484e" stroke-width="0.8716250847701759"/>
<line x1="643.91" y1="118.31" x2="643.91" y2="121.61" stroke="#b01420" stroke-width="0.9804880076227219"/>
<line x1="644.14" y1="106.72" x2="644.14" y2="108.42" stroke="#8a2a32" stroke-width="0.7076821644739935"/>
<line x1="643.78" y1="116.63" x2="643.78" y2="119.24" stroke="#b0aaaa" stroke-width="0.9092981571666431"/>
<line x1="644.11" y1="113.15" x2="644.11" y2="114.72" stroke="#8a2a32" stroke-width="0.8332485223328784"/>
<line x1="644.88" y1="116.89" x2="644.88" y2="120.88" stroke="#a81018" stroke-width="0.702620517513092"/>
<line x1="645" y1="105.92" x2="645" y2="108.39" stroke="#bab4b4" stroke-width="0.8918054340387027"/>
<line x1="645.17" y1="110.03" x2="645.17" y2="111.48" stroke="#bab4b4" stroke-width="0.8168693087967794"/>
<line x1="645.02" y1="112.24" x2="645.02" y2="113.35" stroke="#7a1a24" stroke-width="1.0777178744752305"/>
<line x1="645.71" y1="113.2" x2="645.71" y2="120.73" stroke="#6a2024" stroke-width="0.6541173543173684"/>
<line x1="645.69" y1="112.83" x2="645.69" y2="114.99" stroke="#bab4b4" stroke-width="0.8407826678502316"/>
<line x1="645.46" y1="112.61" x2="645.46" y2="114.58" stroke="#b0aaaa" stroke-width="0.9559734211126036"/>
<line x1="645.8" y1="111.05" x2="645.8" y2="113.7" stroke="#9a3a42" stroke-width="0.8144774189018071"/>
<line x1="646.76" y1="114.22" x2="646.76" y2="120.2" stroke="#880a16" stroke-width="0.6781821577309484"/>
<line x1="646.94" y1="110.87" x2="646.94" y2="112.26" stroke="#a49e9e" stroke-width="0.8541629653230299"/>
<line x1="646.55" y1="110.23" x2="646.55" y2="111.62" stroke="#b0aaaa" stroke-width="0.9642146500749456"/>
<line x1="646.93" y1="109.19" x2="646.93" y2="111.26" stroke="#7a1a24" stroke-width="1.0898242807594258"/>
<line x1="647.8" y1="116.64" x2="647.8" y2="119.78" stroke="#a81018" stroke-width="0.972131423512012"/>
<line x1="647.42" y1="110.74" x2="647.42" y2="113.15" stroke="#a49e9e" stroke-width="0.8599894363349158"/>
<line x1="647.46" y1="110.14" x2="647.46" y2="112.19" stroke="#a8484e" stroke-width="0.8939954391861349"/>
<line x1="648.15" y1="115.53" x2="648.15" y2="117.33" stroke="#9a3a42" stroke-width="0.97489964847892"/>
<line x1="648.48" y1="115.63" x2="648.48" y2="119.61" stroke="#880a16" stroke-width="0.7086975858442602"/>
<line x1="648.34" y1="109.69" x2="648.34" y2="110.84" stroke="#7a1a24" stroke-width="0.9966195513904803"/>
<line x1="648.58" y1="113.44" x2="648.58" y2="116.39" stroke="#7a1a24" stroke-width="1.0289579561088225"/>
<line x1="648.58" y1="114.04" x2="648.58" y2="115.98" stroke="#8a2a32" stroke-width="0.7932550584739955"/>
<line x1="649.29" y1="116.27" x2="649.29" y2="119.73" stroke="#6a2024" stroke-width="0.809796433910722"/>
<line x1="649.62" y1="114.44" x2="649.62" y2="116.65" stroke="#a49e9e" stroke-width="0.9131771956088485"/>
<line x1="649.51" y1="113.6" x2="649.51" y2="115.86" stroke="#8a8484" stroke-width="0.9093360641862805"/>
<line x1="649.2" y1="110.47" x2="649.2" y2="113.54" stroke="#a49e9e" stroke-width="0.7423741807181534"/>
<line x1="650.1" y1="115.14" x2="650.1" y2="119.65" stroke="#700814" stroke-width="0.7822120187743195"/>
<line x1="650.14" y1="115.24" x2="650.14" y2="118.07" stroke="#8a8484" stroke-width="0.9405368511328052"/>
<line x1="650.06" y1="111.59" x2="650.06" y2="114.29" stroke="#8a8484" stroke-width="0.7168006360760489"/>
<line x1="650.09" y1="109.78" x2="650.09" y2="111.49" stroke="#8a8484" stroke-width="1.0125835457905132"/>
<line x1="650.96" y1="113.56" x2="650.96" y2="119.02" stroke="#700814" stroke-width="0.7462897689952046"/>
<line x1="651" y1="113.74" x2="651" y2="117.1" stroke="#b0aaaa" stroke-width="0.9157649928428758"/>
<line x1="651.2" y1="113.56" x2="651.2" y2="116.13" stroke="#8a8484" stroke-width="0.7389021773717779"/>
<line x1="651.22" y1="115.64" x2="651.22" y2="117.86" stroke="#969090" stroke-width="0.7931314454260886"/>
<line x1="651.98" y1="115.78" x2="651.98" y2="118.18" stroke="#b01420" stroke-width="0.6664385943867357"/>
<line x1="652.17" y1="111.69" x2="652.17" y2="114.62" stroke="#7a1a24" stroke-width="1.0873422048895895"/>
<line x1="651.6" y1="110.91" x2="651.6" y2="113.08" stroke="#8a8484" stroke-width="0.8085931923977497"/>
<line x1="651.99" y1="112.4" x2="651.99" y2="115.13" stroke="#8a2a32" stroke-width="0.7316749032765079"/>
<line x1="652.91" y1="116.76" x2="652.91" y2="117.95" stroke="#a81018" stroke-width="0.7150776192872255"/>
<line x1="652.67" y1="108.19" x2="652.67" y2="111.18" stroke="#7a1a24" stroke-width="0.9062956659691542"/>
<line x1="653.03" y1="108.11" x2="653.03" y2="109.56" stroke="#8a8484" stroke-width="1.0807524058483535"/>
<line x1="652.68" y1="109.3" x2="652.68" y2="111.44" stroke="#8a8484" stroke-width="0.8975208139012611"/>
<line x1="653.95" y1="113.51" x2="653.95" y2="117.17" stroke="#700814" stroke-width="0.8665474391328125"/>
<line x1="654.29" y1="110.07" x2="654.29" y2="111.43" stroke="#a8484e" stroke-width="0.7477195997508842"/>
<line x1="654.31" y1="112.32" x2="654.31" y2="114.03" stroke="#7a1a24" stroke-width="0.7342589043019696"/>
<line x1="654.14" y1="113.42" x2="654.14" y2="114.86" stroke="#969090" stroke-width="1.019098769672866"/>
<line x1="654.86" y1="114.89" x2="654.86" y2="117.79" stroke="#9a0c1a" stroke-width="0.8915640882638511"/>
<line x1="654.79" y1="112.49" x2="654.79" y2="115.63" stroke="#a8484e" stroke-width="0.9518922618019744"/>
<line x1="655.02" y1="110.08" x2="655.02" y2="111.6" stroke="#8a8484" stroke-width="1.0003154470947426"/>
<line x1="655.24" y1="108.5" x2="655.24" y2="111.6" stroke="#b0aaaa" stroke-width="0.9956819539094277"/>
<line x1="655.65" y1="113.01" x2="655.65" y2="117.03" stroke="#880a16" stroke-width="0.6305019690310344"/>
<line x1="655.7" y1="114.46" x2="655.7" y2="115.67" stroke="#8a2a32" stroke-width="0.9960504107164663"/>
<line x1="655.65" y1="113.07" x2="655.65" y2="116.52" stroke="#a8484e" stroke-width="0.8847267252558342"/>
<line x1="655.72" y1="111.7" x2="655.72" y2="115.05" stroke="#7a1a24" stroke-width="0.8086300684171498"/>
<polygon points="614.3,120 615.1,67 615.5,65.2 615.9,67 616.7,120" fill="#5a0a18"/>
<polygon points="492.2,243.5 521.8,255 521.8,288.76 521.13,289.4 520.51,288.84 519.95,288.95 518.86,289.96 518.33,289.74 517.49,291.02 516.68,292.97 515.62,291.72 515.08,292.39 514.38,290.94 513.49,291.36 512.39,292.87 511.67,294.83 510.63,293.51 509.93,293.81 508.86,293.91 508.32,293.25 507.44,293.9 506.45,295.11 505.63,295.09 504.77,295.38 504.13,294.84 503.22,295.28 502.43,295.31 501.75,296.07 501.23,296.31 500.36,296.9 499.87,297.1 499.2,296.44 498.68,297.5 497.72,296.56 497.03,297.87 496.32,297.27 495.56,297.44 494.59,298.38 493.5,298.8 493,299.41 493,298.4" fill="url(#gb2)"/>
<line x1="614.53" y1="273.66" x2="614.53" y2="281.23" stroke="#1c2260" stroke-width="0.7049326854969753"/>
<line x1="620.63" y1="270.78" x2="620.63" y2="278.73" stroke="#151a4e" stroke-width="0.8693485517100913"/>
<line x1="618.35" y1="271.85" x2="618.35" y2="281.31" stroke="#283480" stroke-width="0.8763052022367523"/>
<line x1="618.95" y1="271.57" x2="618.95" y2="274.73" stroke="#283480" stroke-width="0.9056644539732159"/>
<line x1="613.26" y1="274.26" x2="613.26" y2="277.37" stroke="#283480" stroke-width="0.9803104059040704"/>
<line x1="622.54" y1="269.87" x2="622.54" y2="275.83" stroke="#1c2260" stroke-width="0.8570347508868494"/>
<line x1="628.36" y1="267.12" x2="628.36" y2="272.97" stroke="#283480" stroke-width="0.8795474235530863"/>
<line x1="615.11" y1="273.39" x2="615.11" y2="277.71" stroke="#283480" stroke-width="0.7146842005699926"/>
<line x1="623.59" y1="269.38" x2="623.59" y2="274.82" stroke="#283480" stroke-width="0.8642477540667114"/>
<line x1="613.31" y1="274.24" x2="613.31" y2="279.89" stroke="#283480" stroke-width="0.7747255697349947"/>
<line x1="615.21" y1="273.34" x2="615.21" y2="279.72" stroke="#283480" stroke-width="0.9519952033251654"/>
<line x1="622.33" y1="269.97" x2="622.33" y2="271.98" stroke="#151a4e" stroke-width="0.7957626300996755"/>
<line x1="612.5" y1="274.62" x2="612.5" y2="282.18" stroke="#1c2260" stroke-width="1.0224750986732876"/>
<line x1="627.39" y1="267.58" x2="627.39" y2="271.28" stroke="#1c2260" stroke-width="0.9723876345158636"/>
<line x1="622.1" y1="270.08" x2="622.1" y2="276.13" stroke="#1c2260" stroke-width="0.9212299881673681"/>
<line x1="616.21" y1="272.87" x2="616.21" y2="276.78" stroke="#151a4e" stroke-width="0.8016561927124526"/>
<line x1="617.12" y1="272.44" x2="617.12" y2="278.17" stroke="#283480" stroke-width="1.0506288741422742"/>
<line x1="629.26" y1="266.69" x2="629.26" y2="269.86" stroke="#283480" stroke-width="0.9495721745133152"/>
<line x1="612.1" y1="274.81" x2="612.1" y2="279.88" stroke="#1c2260" stroke-width="0.7722528884085819"/>
<line x1="625.85" y1="268.31" x2="625.85" y2="277.01" stroke="#1c2260" stroke-width="0.7069238782076639"/>
<line x1="620.07" y1="271.04" x2="620.07" y2="276.9" stroke="#151a4e" stroke-width="0.9932585535176051"/>
<line x1="620.42" y1="270.88" x2="620.42" y2="274.48" stroke="#1c2260" stroke-width="0.8413497594446344"/>
<line x1="625.55" y1="268.45" x2="625.55" y2="276.67" stroke="#1c2260" stroke-width="0.7565098277934623"/>
<line x1="614.32" y1="273.76" x2="614.32" y2="282.22" stroke="#1c2260" stroke-width="0.8709189686586245"/>
<line x1="617.26" y1="272.37" x2="617.26" y2="274.62" stroke="#1c2260" stroke-width="0.8990401440757563"/>
<linearGradient id="gsp" gradientUnits="userSpaceOnUse" x1="0" y1="258" x2="0" y2="316"><stop offset="0" stop-color="#262a52"/><stop offset="0.5" stop-color="#6a6e8c"/><stop offset="1" stop-color="#b8bccc"/></linearGradient>
<line x1="533.9" y1="255" x2="533.9" y2="316.2" stroke="url(#gsp)" stroke-width="1.3"/>
<polygon points="485.7,241.2 585.2,219 677.5,244.4 595,283.4" fill="#bcbab2"/>
<linearGradient id="glb" gradientUnits="userSpaceOnUse" x1="600" y1="237" x2="596" y2="262"><stop offset="0" stop-color="#bab6b0"/><stop offset="0.6" stop-color="#b2aaa8"/><stop offset="1" stop-color="#a89c9c"/></linearGradient>
<polygon points="523.3,235.6 588,219.6 652,256.4 626.3,268.3" fill="url(#glb)"/>
<rect x="626.44" y="254.46" width="0.8" height="0.8" fill="#ccc6c4"/>
<rect x="624.33" y="250.87" width="0.8" height="0.8" fill="#9c9290"/>
<rect x="587.5" y="245.35" width="0.8" height="0.8" fill="#a89e9c"/>
<rect x="588.99" y="247.64" width="0.8" height="0.8" fill="#a89e9c"/>
<rect x="565.46" y="243.45" width="0.8" height="0.8" fill="#ccc6c4"/>
<rect x="606.65" y="233.35" width="0.8" height="0.8" fill="#cac6c2"/>
<rect x="570.41" y="228.98" width="0.8" height="0.8" fill="#9c9290"/>
<rect x="598.49" y="252.61" width="0.8" height="0.8" fill="#968a8a"/>
<rect x="629.07" y="253.74" width="0.8" height="0.8" fill="#c8c2c0"/>
<rect x="625.96" y="267.44" width="0.8" height="0.8" fill="#b8b0ae"/>
<rect x="621.8" y="242.85" width="0.8" height="0.8" fill="#b4aeaa"/>
<rect x="621.1" y="242.65" width="0.8" height="0.8" fill="#a89e9c"/>
<rect x="586.08" y="236.03" width="0.8" height="0.8" fill="#968a8a"/>
<rect x="562.85" y="243.33" width="0.8" height="0.8" fill="#968a8a"/>
<rect x="633.77" y="247.38" width="0.8" height="0.8" fill="#c8c2c0"/>
<rect x="629.33" y="263.31" width="0.8" height="0.8" fill="#c0b8b6"/>
<rect x="543.71" y="239.12" width="0.8" height="0.8" fill="#c8c2c0"/>
<rect x="613.59" y="263.52" width="0.8" height="0.8" fill="#8e5a5e"/>
<rect x="581.42" y="222.49" width="0.8" height="0.8" fill="#c0b8b6"/>
<rect x="592.17" y="226.44" width="0.8" height="0.8" fill="#c4beba"/>
<rect x="636.84" y="249.69" width="0.8" height="0.8" fill="#ccc6c4"/>
<rect x="542.16" y="233" width="0.8" height="0.8" fill="#b4aeac"/>
<rect x="577.17" y="233.23" width="0.8" height="0.8" fill="#c8c2c0"/>
<rect x="540.99" y="234.74" width="0.8" height="0.8" fill="#b4aeac"/>
<rect x="570.82" y="227.89" width="0.8" height="0.8" fill="#d2ccca"/>
<rect x="607.51" y="242.72" width="0.8" height="0.8" fill="#b4aeaa"/>
<rect x="625.5" y="265.19" width="0.8" height="0.8" fill="#7e3a40"/>
<rect x="579.06" y="222.61" width="0.8" height="0.8" fill="#b4aeac"/>
<rect x="552.36" y="235.57" width="0.8" height="0.8" fill="#8e5a5e"/>
<rect x="636.15" y="263.3" width="0.8" height="0.8" fill="#c4beba"/>
<rect x="585.3" y="223.23" width="0.8" height="0.8" fill="#aca6a2"/>
<rect x="626.99" y="244.64" width="0.8" height="0.8" fill="#cac6c2"/>
<rect x="585.91" y="248.7" width="0.8" height="0.8" fill="#8e5a5e"/>
<rect x="567.16" y="235.49" width="0.8" height="0.8" fill="#b8b0ae"/>
<rect x="598.79" y="242.84" width="0.8" height="0.8" fill="#aca6a2"/>
<rect x="581.24" y="246.64" width="0.8" height="0.8" fill="#c8c2c0"/>
<rect x="571.29" y="240.1" width="0.8" height="0.8" fill="#aca6a2"/>
<rect x="542.5" y="233.15" width="0.8" height="0.8" fill="#d2ccca"/>
<rect x="627.67" y="246.34" width="0.8" height="0.8" fill="#b4aeaa"/>
<rect x="560.57" y="226.78" width="0.8" height="0.8" fill="#c8c2c0"/>
<rect x="526.84" y="235.73" width="0.8" height="0.8" fill="#a89e9c"/>
<rect x="588.35" y="237.13" width="0.8" height="0.8" fill="#b4aeaa"/>
<rect x="568.55" y="248.2" width="0.8" height="0.8" fill="#968a8a"/>
<rect x="579.06" y="246.84" width="0.8" height="0.8" fill="#c0b8b6"/>
<rect x="611.93" y="255.07" width="0.8" height="0.8" fill="#b8b0ae"/>
<rect x="595.51" y="247.27" width="0.8" height="0.8" fill="#cac6c2"/>
<rect x="643.17" y="251.37" width="0.8" height="0.8" fill="#a89e9c"/>
<rect x="587.95" y="255.12" width="0.8" height="0.8" fill="#968a8a"/>
<rect x="592.38" y="256.94" width="0.8" height="0.8" fill="#9c9290"/>
<rect x="578.64" y="250.66" width="0.8" height="0.8" fill="#a89e9c"/>
<rect x="605.97" y="236.24" width="0.8" height="0.8" fill="#cac6c2"/>
<rect x="624.87" y="249.91" width="0.8" height="0.8" fill="#a49a98"/>
<rect x="623.24" y="256.28" width="0.8" height="0.8" fill="#cac6c2"/>
<rect x="632.39" y="249.44" width="0.8" height="0.8" fill="#b4aeac"/>
<rect x="607.7" y="249.19" width="0.8" height="0.8" fill="#a49a98"/>
<rect x="609.96" y="237.65" width="0.8" height="0.8" fill="#968a8a"/>
<rect x="586.95" y="251.04" width="0.8" height="0.8" fill="#d2ccca"/>
<rect x="603.72" y="242.03" width="0.8" height="0.8" fill="#ccc6c4"/>
<rect x="618.24" y="251.76" width="0.8" height="0.8" fill="#c0b8b6"/>
<rect x="636.22" y="249.1" width="0.8" height="0.8" fill="#b4aeaa"/>
<rect x="604.07" y="255.82" width="0.8" height="0.8" fill="#cac6c2"/>
<rect x="628.14" y="252.01" width="0.8" height="0.8" fill="#aca6a2"/>
<rect x="643.56" y="257.28" width="0.8" height="0.8" fill="#aca6a2"/>
<rect x="613.33" y="252.66" width="0.8" height="0.8" fill="#ccc6c4"/>
<rect x="566.62" y="235.75" width="0.8" height="0.8" fill="#b4aeac"/>
<rect x="649.11" y="257.15" width="0.8" height="0.8" fill="#a49a98"/>
<rect x="602.49" y="258.53" width="0.8" height="0.8" fill="#c8c2c0"/>
<rect x="621.56" y="263.73" width="0.8" height="0.8" fill="#a89e9c"/>
<rect x="593.34" y="248.51" width="0.8" height="0.8" fill="#a49a98"/>
<rect x="630.31" y="260.05" width="0.8" height="0.8" fill="#cac6c2"/>
<rect x="606.55" y="248.94" width="0.8" height="0.8" fill="#b4aeac"/>
<rect x="543.48" y="233.77" width="0.8" height="0.8" fill="#c0b8b6"/>
<rect x="575.78" y="227.21" width="0.8" height="0.8" fill="#968a8a"/>
<rect x="611.27" y="243.96" width="0.8" height="0.8" fill="#b4aeaa"/>
<rect x="591.53" y="238.15" width="0.8" height="0.8" fill="#cac6c2"/>
<rect x="562.56" y="235.16" width="0.8" height="0.8" fill="#a49a98"/>
<rect x="616.63" y="241.3" width="0.8" height="0.8" fill="#b4aeaa"/>
<rect x="622.76" y="240.15" width="0.8" height="0.8" fill="#b4aeac"/>
<rect x="612.11" y="252.02" width="0.8" height="0.8" fill="#968a8a"/>
<rect x="590.2" y="254.61" width="0.8" height="0.8" fill="#c0b8b6"/>
<rect x="601.93" y="251.61" width="0.8" height="0.8" fill="#cac6c2"/>
<rect x="567.13" y="228.22" width="0.8" height="0.8" fill="#968a8a"/>
<rect x="617.16" y="265.38" width="0.8" height="0.8" fill="#9a4a50"/>
<rect x="585.13" y="228.83" width="0.8" height="0.8" fill="#c0b8b6"/>
<rect x="589.93" y="226.98" width="0.8" height="0.8" fill="#cac6c2"/>
<rect x="612.12" y="246.32" width="0.8" height="0.8" fill="#cac6c2"/>
<rect x="559.84" y="228.43" width="0.8" height="0.8" fill="#b4aeac"/>
<rect x="611.71" y="260.79" width="0.8" height="0.8" fill="#968a8a"/>
<rect x="567.33" y="240.26" width="0.8" height="0.8" fill="#c8c2c0"/>
<rect x="614.41" y="239.3" width="0.8" height="0.8" fill="#b4aeaa"/>
<rect x="607.07" y="257.18" width="0.8" height="0.8" fill="#8e5a5e"/>
<rect x="623.52" y="256.98" width="0.8" height="0.8" fill="#aca6a2"/>
<rect x="564.39" y="229.73" width="0.8" height="0.8" fill="#c4beba"/>
<rect x="648.38" y="254.74" width="0.8" height="0.8" fill="#b8b0ae"/>
<rect x="539.49" y="231.8" width="0.8" height="0.8" fill="#a49a98"/>
<rect x="647.7" y="255.98" width="0.8" height="0.8" fill="#9c9290"/>
<rect x="645.12" y="255.29" width="0.8" height="0.8" fill="#a89e9c"/>
<rect x="594.48" y="241.25" width="0.8" height="0.8" fill="#a89e9c"/>
<rect x="582.84" y="233.11" width="0.8" height="0.8" fill="#ccc6c4"/>
<rect x="640.89" y="256.94" width="0.8" height="0.8" fill="#c4beba"/>
<rect x="572.79" y="248.84" width="0.8" height="0.8" fill="#8e5a5e"/>
<rect x="572.11" y="241.6" width="0.8" height="0.8" fill="#a89e9c"/>
<rect x="620.35" y="263.96" width="0.8" height="0.8" fill="#a49a98"/>
<rect x="648.09" y="257.58" width="0.8" height="0.8" fill="#9c9290"/>
<rect x="598.26" y="257.7" width="0.8" height="0.8" fill="#a89e9c"/>
<rect x="641.21" y="257.34" width="0.8" height="0.8" fill="#b4aeaa"/>
<rect x="634.79" y="253.95" width="0.8" height="0.8" fill="#b4aeaa"/>
<rect x="635.42" y="263.65" width="0.8" height="0.8" fill="#b8b0ae"/>
<rect x="603.56" y="242.77" width="0.8" height="0.8" fill="#aca6a2"/>
<rect x="616.03" y="251.3" width="0.8" height="0.8" fill="#a49a98"/>
<rect x="636.73" y="250.01" width="0.8" height="0.8" fill="#c4beba"/>
<rect x="610.64" y="262" width="0.8" height="0.8" fill="#a89e9c"/>
<rect x="587.24" y="237.44" width="0.8" height="0.8" fill="#6e2a30"/>
<rect x="610.58" y="240.54" width="0.8" height="0.8" fill="#b4aeaa"/>
<rect x="531.99" y="237.33" width="0.8" height="0.8" fill="#ccc6c4"/>
<rect x="581.53" y="242.37" width="0.8" height="0.8" fill="#b8b0ae"/>
<rect x="616.92" y="250.92" width="0.8" height="0.8" fill="#c8c2c0"/>
<rect x="571.22" y="228.97" width="0.8" height="0.8" fill="#ccc6c4"/>
<rect x="609.63" y="252.89" width="0.8" height="0.8" fill="#a49a98"/>
<rect x="551.09" y="239.82" width="0.8" height="0.8" fill="#a49a98"/>
<rect x="605.18" y="248.9" width="0.8" height="0.8" fill="#d2ccca"/>
<rect x="617.93" y="253.46" width="0.8" height="0.8" fill="#d2ccca"/>
<rect x="618.34" y="261.14" width="0.8" height="0.8" fill="#b8b0ae"/>
<rect x="605.25" y="260.96" width="0.8" height="0.8" fill="#968a8a"/>
<rect x="615.13" y="236.66" width="0.8" height="0.8" fill="#9c9290"/>
<rect x="577.49" y="238.35" width="0.8" height="0.8" fill="#a89e9c"/>
<rect x="592.34" y="243.56" width="0.8" height="0.8" fill="#d2ccca"/>
<rect x="594.87" y="236.22" width="0.8" height="0.8" fill="#ccc6c4"/>
<rect x="633.16" y="259.76" width="0.8" height="0.8" fill="#c4beba"/>
<rect x="559.44" y="229.36" width="0.8" height="0.8" fill="#b4aeaa"/>
<rect x="606.48" y="240.01" width="0.8" height="0.8" fill="#b4aeac"/>
<rect x="566.39" y="245.09" width="0.8" height="0.8" fill="#a49a98"/>
<rect x="566.1" y="249.04" width="0.8" height="0.8" fill="#c4beba"/>
<rect x="578.87" y="237.53" width="0.8" height="0.8" fill="#b4aeac"/>
<rect x="606.32" y="240.06" width="0.8" height="0.8" fill="#cac6c2"/>
<rect x="629.88" y="244.17" width="0.8" height="0.8" fill="#aca6a2"/>
<rect x="618.52" y="240.63" width="0.8" height="0.8" fill="#b4aeac"/>
<rect x="638.85" y="258.05" width="0.8" height="0.8" fill="#c0b8b6"/>
<rect x="626.96" y="255.87" width="0.8" height="0.8" fill="#9c9290"/>
<rect x="585.61" y="237.47" width="0.8" height="0.8" fill="#d2ccca"/>
<rect x="632.69" y="249.78" width="0.8" height="0.8" fill="#cac6c2"/>
<rect x="600.19" y="239.48" width="0.8" height="0.8" fill="#968a8a"/>
<rect x="629.41" y="258.79" width="0.8" height="0.8" fill="#c8c2c0"/>
<rect x="564.18" y="230.76" width="0.8" height="0.8" fill="#c4beba"/>
<rect x="557.85" y="236.5" width="0.8" height="0.8" fill="#b4aeac"/>
<rect x="614.82" y="255.73" width="0.8" height="0.8" fill="#b4aeaa"/>
<rect x="584.72" y="242.22" width="0.8" height="0.8" fill="#b4aeac"/>
<rect x="643.52" y="254.95" width="0.8" height="0.8" fill="#b4aeaa"/>
<rect x="620.59" y="249.55" width="0.8" height="0.8" fill="#c8c2c0"/>
<rect x="607.92" y="248.24" width="0.8" height="0.8" fill="#b4aeac"/>
<rect x="615.44" y="237.87" width="0.8" height="0.8" fill="#aca6a2"/>
<rect x="568.78" y="241.45" width="0.8" height="0.8" fill="#8e5a5e"/>
<rect x="602.38" y="254.76" width="0.8" height="0.8" fill="#ccc6c4"/>
<rect x="637.65" y="261.67" width="0.8" height="0.8" fill="#cac6c2"/>
<rect x="584.02" y="234.33" width="0.8" height="0.8" fill="#cac6c2"/>
<rect x="609.73" y="239.36" width="0.8" height="0.8" fill="#a89e9c"/>
<rect x="600.15" y="229.59" width="0.8" height="0.8" fill="#c4beba"/>
<rect x="544.36" y="233.52" width="0.8" height="0.8" fill="#a89e9c"/>
<rect x="625.78" y="257.1" width="0.8" height="0.8" fill="#c0b8b6"/>
<rect x="569.83" y="238.67" width="0.8" height="0.8" fill="#968a8a"/>
<rect x="581.05" y="222.02" width="0.8" height="0.8" fill="#cac6c2"/>
<rect x="602.33" y="244.54" width="0.8" height="0.8" fill="#ccc6c4"/>
<rect x="573.36" y="229" width="0.8" height="0.8" fill="#a49a98"/>
<rect x="622.19" y="263.26" width="0.8" height="0.8" fill="#9c9290"/>
<rect x="591.79" y="221.79" width="0.8" height="0.8" fill="#b4aeaa"/>
<rect x="569.25" y="231.56" width="0.8" height="0.8" fill="#c8c2c0"/>
<rect x="621.12" y="266.05" width="0.8" height="0.8" fill="#ccc6c4"/>
<rect x="613.72" y="239.62" width="0.8" height="0.8" fill="#aca6a2"/>
<rect x="618.39" y="261.33" width="0.8" height="0.8" fill="#cac6c2"/>
<rect x="616.06" y="255.12" width="0.8" height="0.8" fill="#c8c2c0"/>
<rect x="583.02" y="240.89" width="0.8" height="0.8" fill="#b4aeaa"/>
<rect x="578.09" y="235.33" width="0.8" height="0.8" fill="#cac6c2"/>
<rect x="646.3" y="255.46" width="0.8" height="0.8" fill="#c4beba"/>
<rect x="604.25" y="238.99" width="0.8" height="0.8" fill="#b8b0ae"/>
<rect x="604.74" y="240.52" width="0.8" height="0.8" fill="#c8c2c0"/>
<rect x="636.34" y="247.98" width="0.8" height="0.8" fill="#cac6c2"/>
<rect x="600.79" y="237.5" width="0.8" height="0.8" fill="#ccc6c4"/>
<rect x="608.86" y="247.06" width="0.8" height="0.8" fill="#968a8a"/>
<rect x="590.5" y="238.32" width="0.8" height="0.8" fill="#cac6c2"/>
<rect x="625.86" y="250.13" width="0.8" height="0.8" fill="#cac6c2"/>
<rect x="553.42" y="237.43" width="0.8" height="0.8" fill="#968a8a"/>
<rect x="608.8" y="244.74" width="0.8" height="0.8" fill="#b8b0ae"/>
<rect x="585.05" y="247.16" width="0.8" height="0.8" fill="#968a8a"/>
<rect x="568.47" y="241.92" width="0.8" height="0.8" fill="#d2ccca"/>
<rect x="586.01" y="255.21" width="0.8" height="0.8" fill="#7e3a40"/>
<rect x="601.86" y="246.64" width="0.8" height="0.8" fill="#ccc6c4"/>
<rect x="615.74" y="245.03" width="0.8" height="0.8" fill="#9c9290"/>
<rect x="580.54" y="250.96" width="0.8" height="0.8" fill="#c8c2c0"/>
<rect x="595.75" y="225.96" width="0.8" height="0.8" fill="#aca6a2"/>
<rect x="601.02" y="231.45" width="0.8" height="0.8" fill="#b4aeaa"/>
<rect x="598.49" y="230.84" width="0.8" height="0.8" fill="#a49a98"/>
<rect x="582.74" y="253.1" width="0.8" height="0.8" fill="#ccc6c4"/>
<rect x="583.08" y="246.74" width="0.8" height="0.8" fill="#c8c2c0"/>
<rect x="587.18" y="234.12" width="0.8" height="0.8" fill="#b4aeac"/>
<rect x="625.85" y="261.3" width="0.8" height="0.8" fill="#968a8a"/>
<rect x="554.74" y="244.55" width="0.8" height="0.8" fill="#b8b0ae"/>
<rect x="584.27" y="223.53" width="0.8" height="0.8" fill="#c0b8b6"/>
<rect x="581.51" y="250.7" width="0.8" height="0.8" fill="#b8b0ae"/>
<rect x="618.58" y="260.06" width="0.8" height="0.8" fill="#c8c2c0"/>
<rect x="612.5" y="239.17" width="0.8" height="0.8" fill="#a49a98"/>
<rect x="611.31" y="249.68" width="0.8" height="0.8" fill="#b4aeac"/>
<rect x="603.98" y="238.6" width="0.8" height="0.8" fill="#c4beba"/>
<rect x="562.66" y="247.83" width="0.8" height="0.8" fill="#c8c2c0"/>
<rect x="606.67" y="258.47" width="0.8" height="0.8" fill="#d2ccca"/>
<rect x="612.27" y="244.13" width="0.8" height="0.8" fill="#9c9290"/>
<rect x="590.78" y="230.43" width="0.8" height="0.8" fill="#aca6a2"/>
<rect x="550.05" y="229.73" width="0.8" height="0.8" fill="#c4beba"/>
<rect x="597.35" y="259.05" width="0.8" height="0.8" fill="#c8c2c0"/>
<rect x="621.46" y="253.37" width="0.8" height="0.8" fill="#b4aeaa"/>
<rect x="624.65" y="247.18" width="0.8" height="0.8" fill="#c0b8b6"/>
<rect x="572.86" y="246.79" width="0.8" height="0.8" fill="#b8b0ae"/>
<rect x="602.74" y="235.52" width="0.8" height="0.8" fill="#9c9290"/>
<rect x="566.69" y="226.97" width="0.8" height="0.8" fill="#c4beba"/>
<rect x="589.94" y="237.85" width="0.8" height="0.8" fill="#b4aeaa"/>
<rect x="642.38" y="259.46" width="0.8" height="0.8" fill="#b4aeaa"/>
<rect x="593.55" y="244.26" width="0.8" height="0.8" fill="#b4aeaa"/>
<rect x="589.73" y="226.28" width="0.8" height="0.8" fill="#aca6a2"/>
<rect x="613" y="243.28" width="0.8" height="0.8" fill="#968a8a"/>
<rect x="579.77" y="245.66" width="0.8" height="0.8" fill="#a49a98"/>
<rect x="552.21" y="229.39" width="0.8" height="0.8" fill="#a89e9c"/>
<rect x="621.79" y="256.38" width="0.8" height="0.8" fill="#9a4a50"/>
<rect x="582.26" y="234.48" width="0.8" height="0.8" fill="#c4beba"/>
<rect x="626.21" y="246.22" width="0.8" height="0.8" fill="#c4beba"/>
<rect x="591.54" y="232.37" width="0.8" height="0.8" fill="#cac6c2"/>
<rect x="642.97" y="258.5" width="0.8" height="0.8" fill="#968a8a"/>
<rect x="630.09" y="259.76" width="0.8" height="0.8" fill="#c0b8b6"/>
<rect x="576.97" y="245.96" width="0.8" height="0.8" fill="#6e2a30"/>
<rect x="584.68" y="225.32" width="0.8" height="0.8" fill="#ccc6c4"/>
<rect x="608.52" y="236.23" width="0.8" height="0.8" fill="#a49a98"/>
<rect x="601.46" y="238.34" width="0.8" height="0.8" fill="#c0b8b6"/>
<rect x="578.69" y="249.75" width="0.8" height="0.8" fill="#d2ccca"/>
<rect x="619.94" y="264.08" width="0.8" height="0.8" fill="#b4aeac"/>
<rect x="577.99" y="241.79" width="0.8" height="0.8" fill="#968a8a"/>
<rect x="629.55" y="247.09" width="0.8" height="0.8" fill="#a89e9c"/>
<rect x="622.79" y="249.99" width="0.8" height="0.8" fill="#d2ccca"/>
<rect x="550.5" y="239.02" width="0.8" height="0.8" fill="#a49a98"/>
<rect x="636.39" y="257.87" width="0.8" height="0.8" fill="#c8c2c0"/>
<rect x="597.5" y="243.29" width="0.8" height="0.8" fill="#a89e9c"/>
<rect x="554.36" y="229.23" width="0.8" height="0.8" fill="#a89e9c"/>
<rect x="595.88" y="227.11" width="0.8" height="0.8" fill="#c0b8b6"/>
<rect x="610.76" y="262.96" width="0.8" height="0.8" fill="#b8b0ae"/>
<rect x="592" y="224.8" width="0.8" height="0.8" fill="#cac6c2"/>
<rect x="619.89" y="245.07" width="0.8" height="0.8" fill="#968a8a"/>
<rect x="580.4" y="231.32" width="0.8" height="0.8" fill="#9a4a50"/>
<rect x="600.04" y="259.44" width="0.8" height="0.8" fill="#a89e9c"/>
<rect x="552.67" y="237.78" width="0.8" height="0.8" fill="#b8b0ae"/>
<rect x="629.89" y="257.97" width="0.8" height="0.8" fill="#b4aeaa"/>
<rect x="633.8" y="255.11" width="0.8" height="0.8" fill="#d2ccca"/>
<rect x="615.01" y="235.56" width="0.8" height="0.8" fill="#b4aeaa"/>
<rect x="577.19" y="230.96" width="0.8" height="0.8" fill="#cac6c2"/>
<rect x="606.75" y="243.59" width="0.8" height="0.8" fill="#c8c2c0"/>
<rect x="615.78" y="237.57" width="0.8" height="0.8" fill="#cac6c2"/>
<rect x="638.86" y="249.81" width="0.8" height="0.8" fill="#cac6c2"/>
<rect x="637.13" y="252.54" width="0.8" height="0.8" fill="#b4aeaa"/>
<rect x="595.33" y="247.19" width="0.8" height="0.8" fill="#c4beba"/>
<rect x="551.56" y="233.28" width="0.8" height="0.8" fill="#6e2a30"/>
<rect x="583.28" y="235.46" width="0.8" height="0.8" fill="#b4aeaa"/>
<rect x="593.56" y="225.21" width="0.8" height="0.8" fill="#b4aeaa"/>
<rect x="598.24" y="240.83" width="0.8" height="0.8" fill="#c4beba"/>
<rect x="584.57" y="230.02" width="0.8" height="0.8" fill="#d2ccca"/>
<rect x="601.47" y="245.96" width="0.8" height="0.8" fill="#c8c2c0"/>
<rect x="635.5" y="249.7" width="0.8" height="0.8" fill="#b4aeaa"/>
<rect x="579.59" y="223.82" width="0.8" height="0.8" fill="#aca6a2"/>
<rect x="558.91" y="236.82" width="0.8" height="0.8" fill="#b8b0ae"/>
<rect x="629.67" y="258.26" width="0.8" height="0.8" fill="#c4beba"/>
<rect x="539.08" y="235.56" width="0.8" height="0.8" fill="#d2ccca"/>
<rect x="569.13" y="234.7" width="0.8" height="0.8" fill="#c4beba"/>
<rect x="610.26" y="258.95" width="0.8" height="0.8" fill="#6e2a30"/>
<rect x="639.6" y="253.69" width="0.8" height="0.8" fill="#cac6c2"/>
<rect x="597.47" y="245.08" width="0.8" height="0.8" fill="#a49a98"/>
<rect x="649.49" y="256.01" width="0.8" height="0.8" fill="#b8b0ae"/>
<rect x="554.58" y="238.94" width="0.8" height="0.8" fill="#a89e9c"/>
<rect x="623.05" y="260.38" width="0.8" height="0.8" fill="#b8b0ae"/>
<rect x="580.92" y="225.32" width="0.8" height="0.8" fill="#c0b8b6"/>
<rect x="610.45" y="244.62" width="0.8" height="0.8" fill="#c0b8b6"/>
<rect x="554.66" y="237.28" width="0.8" height="0.8" fill="#6e2a30"/>
<rect x="630.8" y="261.35" width="0.8" height="0.8" fill="#b8b0ae"/>
<rect x="635.93" y="262.27" width="0.8" height="0.8" fill="#9a4a50"/>
<rect x="589.45" y="242.82" width="0.8" height="0.8" fill="#8e5a5e"/>
<rect x="581.83" y="228.87" width="0.8" height="0.8" fill="#c0b8b6"/>
<rect x="626.8" y="260.03" width="0.8" height="0.8" fill="#d2ccca"/>
<rect x="614.6" y="254.92" width="0.8" height="0.8" fill="#c8c2c0"/>
<rect x="581.84" y="241.86" width="0.8" height="0.8" fill="#c0b8b6"/>
<rect x="592.07" y="238.06" width="0.8" height="0.8" fill="#b4aeaa"/>
<rect x="557.73" y="227.36" width="0.8" height="0.8" fill="#9c9290"/>
<rect x="618.32" y="263.44" width="0.8" height="0.8" fill="#a49a98"/>
<rect x="590" y="256.18" width="0.8" height="0.8" fill="#968a8a"/>
<rect x="601.37" y="230.59" width="0.8" height="0.8" fill="#a89e9c"/>
<rect x="598.54" y="251.65" width="0.8" height="0.8" fill="#b8b0ae"/>
<rect x="588.77" y="221.83" width="0.8" height="0.8" fill="#cac6c2"/>
<rect x="602.42" y="258.34" width="0.8" height="0.8" fill="#c8c2c0"/>
<rect x="600.48" y="247.81" width="0.8" height="0.8" fill="#aca6a2"/>
<rect x="573.19" y="230.45" width="0.8" height="0.8" fill="#c0b8b6"/>
<rect x="632.43" y="252.3" width="0.8" height="0.8" fill="#a89e9c"/>
<rect x="618.18" y="247.09" width="0.8" height="0.8" fill="#aca6a2"/>
<rect x="593.26" y="256.92" width="0.8" height="0.8" fill="#9a4a50"/>
<rect x="572.32" y="233.55" width="0.8" height="0.8" fill="#968a8a"/>
<rect x="620.21" y="258.24" width="0.8" height="0.8" fill="#ccc6c4"/>
<rect x="574.37" y="247.91" width="0.8" height="0.8" fill="#7e3a40"/>
<rect x="584.78" y="250.2" width="0.8" height="0.8" fill="#c8c2c0"/>
<rect x="637.31" y="248.18" width="0.8" height="0.8" fill="#b8b0ae"/>
<rect x="601.66" y="253.41" width="0.8" height="0.8" fill="#9c9290"/>
<rect x="630.83" y="245.36" width="0.8" height="0.8" fill="#cac6c2"/>
<rect x="615.98" y="252.45" width="0.8" height="0.8" fill="#aca6a2"/>
<rect x="596.21" y="241.3" width="0.8" height="0.8" fill="#968a8a"/>
<rect x="563.82" y="237.14" width="0.8" height="0.8" fill="#a49a98"/>
<rect x="599.45" y="230.01" width="0.8" height="0.8" fill="#c4beba"/>
<rect x="578.53" y="246.33" width="0.8" height="0.8" fill="#9a4a50"/>
<rect x="557.94" y="241.99" width="0.8" height="0.8" fill="#ccc6c4"/>
<rect x="607.84" y="253.57" width="0.8" height="0.8" fill="#9a4a50"/>
<rect x="589.28" y="249.11" width="0.8" height="0.8" fill="#b4aeaa"/>
<rect x="582.27" y="224.73" width="0.8" height="0.8" fill="#9a4a50"/>
<rect x="591.75" y="248.31" width="0.8" height="0.8" fill="#b4aeac"/>
<rect x="555.34" y="239.81" width="0.8" height="0.8" fill="#a89e9c"/>
<rect x="576.71" y="238.69" width="0.8" height="0.8" fill="#8e5a5e"/>
<rect x="629.14" y="254.07" width="0.8" height="0.8" fill="#cac6c2"/>
<rect x="608.55" y="248.01" width="0.8" height="0.8" fill="#a89e9c"/>
<rect x="643.29" y="259.39" width="0.8" height="0.8" fill="#aca6a2"/>
<rect x="615.55" y="248.22" width="0.8" height="0.8" fill="#c0b8b6"/>
<rect x="613.16" y="252.51" width="0.8" height="0.8" fill="#c4beba"/>
<rect x="622.34" y="259.63" width="0.8" height="0.8" fill="#a89e9c"/>
<rect x="626.57" y="267.07" width="0.8" height="0.8" fill="#7e3a40"/>
<rect x="604.37" y="257.81" width="0.8" height="0.8" fill="#8e5a5e"/>
<rect x="596.86" y="234.38" width="0.8" height="0.8" fill="#aca6a2"/>
<rect x="538.64" y="236.18" width="0.8" height="0.8" fill="#b8b0ae"/>
<rect x="567.52" y="245.01" width="0.8" height="0.8" fill="#9c9290"/>
<rect x="547.96" y="241.35" width="0.8" height="0.8" fill="#b8b0ae"/>
<rect x="577.47" y="231.21" width="0.8" height="0.8" fill="#aca6a2"/>
<rect x="629.35" y="248.62" width="0.8" height="0.8" fill="#aca6a2"/>
<rect x="605.67" y="260.56" width="0.8" height="0.8" fill="#c8c2c0"/>
<rect x="625.39" y="257.29" width="0.8" height="0.8" fill="#aca6a2"/>
<rect x="622.61" y="262.03" width="0.8" height="0.8" fill="#7e3a40"/>
<rect x="581.22" y="241.54" width="0.8" height="0.8" fill="#d2ccca"/>
<rect x="616.79" y="257.44" width="0.8" height="0.8" fill="#cac6c2"/>
<rect x="608.94" y="244.85" width="0.8" height="0.8" fill="#a49a98"/>
<rect x="592.6" y="255.62" width="0.8" height="0.8" fill="#b8b0ae"/>
<rect x="575.67" y="225.03" width="0.8" height="0.8" fill="#cac6c2"/>
<rect x="574.65" y="246.54" width="0.8" height="0.8" fill="#a89e9c"/>
<rect x="607.16" y="261.67" width="0.8" height="0.8" fill="#aca6a2"/>
<rect x="616.95" y="238.32" width="0.8" height="0.8" fill="#968a8a"/>
<rect x="635.43" y="261.75" width="0.8" height="0.8" fill="#b8b0ae"/>
<rect x="600.94" y="247.09" width="0.8" height="0.8" fill="#cac6c2"/>
<rect x="627.09" y="256.63" width="0.8" height="0.8" fill="#c4beba"/>
<rect x="589.99" y="243.52" width="0.8" height="0.8" fill="#c4beba"/>
<rect x="578.66" y="243.87" width="0.8" height="0.8" fill="#c0b8b6"/>
<rect x="603.26" y="240.54" width="0.8" height="0.8" fill="#c8c2c0"/>
<rect x="630.15" y="266.01" width="0.8" height="0.8" fill="#c8c2c0"/>
<rect x="614.38" y="239.47" width="0.8" height="0.8" fill="#a49a98"/>
<rect x="638.66" y="259.96" width="0.8" height="0.8" fill="#aca6a2"/>
<rect x="587.14" y="247.83" width="0.8" height="0.8" fill="#968a8a"/>
<rect x="600.45" y="241.09" width="0.8" height="0.8" fill="#d2ccca"/>
<rect x="616.16" y="253.07" width="0.8" height="0.8" fill="#cac6c2"/>
<rect x="581.98" y="221.65" width="0.8" height="0.8" fill="#c4beba"/>
<rect x="603.06" y="259.25" width="0.8" height="0.8" fill="#c8c2c0"/>
<rect x="642.59" y="254.69" width="0.8" height="0.8" fill="#968a8a"/>
<rect x="623.84" y="255.72" width="0.8" height="0.8" fill="#b4aeaa"/>
<rect x="580.29" y="224.82" width="0.8" height="0.8" fill="#d2ccca"/>
<rect x="567.92" y="244.42" width="0.8" height="0.8" fill="#8e5a5e"/>
<rect x="622" y="255.94" width="0.8" height="0.8" fill="#c0b8b6"/>
<rect x="589.5" y="227.72" width="0.8" height="0.8" fill="#aca6a2"/>
<rect x="560.66" y="230.83" width="0.8" height="0.8" fill="#c4beba"/>
<rect x="615.88" y="249.11" width="0.8" height="0.8" fill="#a89e9c"/>
<rect x="600.47" y="236.54" width="0.8" height="0.8" fill="#cac6c2"/>
<rect x="614.66" y="259.39" width="0.8" height="0.8" fill="#b4aeac"/>
<rect x="589.05" y="222.17" width="0.8" height="0.8" fill="#cac6c2"/>
<rect x="575.7" y="234.65" width="0.8" height="0.8" fill="#968a8a"/>
<rect x="610.29" y="262.2" width="0.8" height="0.8" fill="#ccc6c4"/>
<rect x="611.54" y="256.69" width="0.8" height="0.8" fill="#a49a98"/>
<rect x="533" y="236.42" width="0.8" height="0.8" fill="#c8c2c0"/>
<rect x="642.3" y="259.32" width="0.8" height="0.8" fill="#b4aeaa"/>
<rect x="581.07" y="244.57" width="0.8" height="0.8" fill="#6e2a30"/>
<rect x="554.21" y="240.57" width="0.8" height="0.8" fill="#ccc6c4"/>
<rect x="600.57" y="249.04" width="0.8" height="0.8" fill="#968a8a"/>
<rect x="626.53" y="263.41" width="0.8" height="0.8" fill="#a89e9c"/>
<rect x="620.27" y="263.54" width="0.8" height="0.8" fill="#c4beba"/>
<rect x="592.13" y="231.12" width="0.8" height="0.8" fill="#b4aeaa"/>
<rect x="619.91" y="247.17" width="0.8" height="0.8" fill="#c8c2c0"/>
<rect x="592.88" y="227.04" width="0.8" height="0.8" fill="#9c9290"/>
<rect x="545.73" y="237.48" width="0.8" height="0.8" fill="#c8c2c0"/>
<rect x="599.77" y="244.33" width="0.8" height="0.8" fill="#c8c2c0"/>
<rect x="620.19" y="258.93" width="0.8" height="0.8" fill="#b8b0ae"/>
<rect x="590.43" y="234.12" width="0.8" height="0.8" fill="#c0b8b6"/>
<rect x="588.55" y="241.34" width="0.8" height="0.8" fill="#7e3a40"/>
<rect x="628.98" y="260.78" width="0.8" height="0.8" fill="#7e3a40"/>
<rect x="563.03" y="236.5" width="0.8" height="0.8" fill="#aca6a2"/>
<rect x="639.32" y="261.03" width="0.8" height="0.8" fill="#968a8a"/>
<rect x="630.79" y="265.33" width="0.8" height="0.8" fill="#a49a98"/>
<rect x="606.92" y="231.08" width="0.8" height="0.8" fill="#c4beba"/>
<rect x="634.8" y="260.05" width="0.8" height="0.8" fill="#c4beba"/>
<rect x="600.42" y="249.65" width="0.8" height="0.8" fill="#a89e9c"/>
<rect x="626.35" y="251.75" width="0.8" height="0.8" fill="#c4beba"/>
<rect x="562.14" y="241.42" width="0.8" height="0.8" fill="#c0b8b6"/>
<rect x="619.18" y="249.29" width="0.8" height="0.8" fill="#9c9290"/>
<rect x="639" y="250.63" width="0.8" height="0.8" fill="#cac6c2"/>
<rect x="565.25" y="229" width="0.8" height="0.8" fill="#6e2a30"/>
<rect x="612.76" y="248.44" width="0.8" height="0.8" fill="#b4aeac"/>
<rect x="537.57" y="233.18" width="0.8" height="0.8" fill="#968a8a"/>
<rect x="608" y="242.6" width="0.8" height="0.8" fill="#b8b0ae"/>
<rect x="597.38" y="257.93" width="0.8" height="0.8" fill="#9a4a50"/>
<rect x="560.45" y="230.7" width="0.8" height="0.8" fill="#a49a98"/>
<rect x="584.9" y="240.32" width="0.8" height="0.8" fill="#b4aeaa"/>
<rect x="608.8" y="243.03" width="0.8" height="0.8" fill="#c8c2c0"/>
<rect x="629.88" y="265" width="0.8" height="0.8" fill="#b4aeac"/>
<rect x="613.97" y="264.07" width="0.8" height="0.8" fill="#d2ccca"/>
<rect x="615.31" y="264.75" width="0.8" height="0.8" fill="#b8b0ae"/>
<rect x="553.24" y="231.6" width="0.8" height="0.8" fill="#c0b8b6"/>
<rect x="586.7" y="224.49" width="0.8" height="0.8" fill="#b4aeaa"/>
<rect x="574.68" y="228.84" width="0.8" height="0.8" fill="#a89e9c"/>
<rect x="593.06" y="224.77" width="0.8" height="0.8" fill="#b4aeac"/>
<rect x="622.27" y="245.7" width="0.8" height="0.8" fill="#c0b8b6"/>
<rect x="561.25" y="229.08" width="0.8" height="0.8" fill="#968a8a"/>
<rect x="629.71" y="244.42" width="0.8" height="0.8" fill="#aca6a2"/>
<rect x="578.38" y="236.29" width="0.8" height="0.8" fill="#c0b8b6"/>
<rect x="611.81" y="263.09" width="0.8" height="0.8" fill="#b8b0ae"/>
<rect x="642.15" y="256.25" width="0.8" height="0.8" fill="#968a8a"/>
<rect x="558.55" y="243.56" width="0.8" height="0.8" fill="#9c9290"/>
<rect x="630.25" y="264.37" width="0.8" height="0.8" fill="#b8b0ae"/>
<rect x="560.19" y="237.43" width="0.8" height="0.8" fill="#6e2a30"/>
<rect x="586.89" y="235.34" width="0.8" height="0.8" fill="#b4aeaa"/>
<rect x="576" y="251.5" width="0.8" height="0.8" fill="#cac6c2"/>
<rect x="610.97" y="245.46" width="0.8" height="0.8" fill="#9c9290"/>
<rect x="610.17" y="247.54" width="0.8" height="0.8" fill="#9c9290"/>
<rect x="555.59" y="239.3" width="0.8" height="0.8" fill="#9c9290"/>
<rect x="607.97" y="261.14" width="0.8" height="0.8" fill="#ccc6c4"/>
<rect x="589.08" y="242.51" width="0.8" height="0.8" fill="#ccc6c4"/>
<rect x="626.96" y="265.7" width="0.8" height="0.8" fill="#b8b0ae"/>
<rect x="616.59" y="251.2" width="0.8" height="0.8" fill="#968a8a"/>
<rect x="570.12" y="249.86" width="0.8" height="0.8" fill="#b8b0ae"/>
<rect x="586.96" y="234.69" width="0.8" height="0.8" fill="#cac6c2"/>
<rect x="575.04" y="228.62" width="0.8" height="0.8" fill="#b4aeac"/>
<rect x="593.48" y="249.72" width="0.8" height="0.8" fill="#a49a98"/>
<rect x="626.35" y="255.47" width="0.8" height="0.8" fill="#c8c2c0"/>
<rect x="590.75" y="227.3" width="0.8" height="0.8" fill="#d2ccca"/>
<rect x="637.29" y="250.6" width="0.8" height="0.8" fill="#d2ccca"/>
<rect x="634.87" y="252.41" width="0.8" height="0.8" fill="#c8c2c0"/>
<rect x="621.73" y="257.72" width="0.8" height="0.8" fill="#c8c2c0"/>
<rect x="571.32" y="243.44" width="0.8" height="0.8" fill="#b8b0ae"/>
<rect x="621.79" y="241.03" width="0.8" height="0.8" fill="#968a8a"/>
<rect x="566.4" y="248.83" width="0.8" height="0.8" fill="#9c9290"/>
<rect x="590.03" y="227.67" width="0.8" height="0.8" fill="#c4beba"/>
<rect x="566.6" y="228.93" width="0.8" height="0.8" fill="#b4aeac"/>
<rect x="613.51" y="257.68" width="0.8" height="0.8" fill="#b4aeac"/>
<rect x="553.22" y="241.37" width="0.8" height="0.8" fill="#ccc6c4"/>
<rect x="635.74" y="255.6" width="0.8" height="0.8" fill="#b4aeaa"/>
<rect x="548.55" y="239.1" width="0.8" height="0.8" fill="#c8c2c0"/>
<rect x="612.89" y="235.91" width="0.8" height="0.8" fill="#b4aeaa"/>
<rect x="636.9" y="248.21" width="0.8" height="0.8" fill="#968a8a"/>
<rect x="618.4" y="253.69" width="0.8" height="0.8" fill="#ccc6c4"/>
<rect x="632.22" y="245.68" width="0.8" height="0.8" fill="#c4beba"/>
<rect x="648.46" y="256.36" width="0.8" height="0.8" fill="#9c9290"/>
<rect x="627.05" y="249.45" width="0.8" height="0.8" fill="#ccc6c4"/>
<rect x="580.3" y="222.06" width="0.8" height="0.8" fill="#b4aeac"/>
<rect x="561.26" y="242.09" width="0.8" height="0.8" fill="#9c9290"/>
<rect x="585.83" y="240.36" width="0.8" height="0.8" fill="#9c9290"/>
<rect x="578.54" y="250.02" width="0.8" height="0.8" fill="#c8c2c0"/>
<rect x="603.63" y="236.42" width="0.8" height="0.8" fill="#aca6a2"/>
<rect x="612.04" y="245.09" width="0.8" height="0.8" fill="#aca6a2"/>
<rect x="571.62" y="246.37" width="0.8" height="0.8" fill="#ccc6c4"/>
<rect x="614.14" y="242.19" width="0.8" height="0.8" fill="#a49a98"/>
<rect x="617.15" y="242.19" width="0.8" height="0.8" fill="#c4beba"/>
<rect x="614.45" y="246.81" width="0.8" height="0.8" fill="#a89e9c"/>
<rect x="605.63" y="230.31" width="0.8" height="0.8" fill="#aca6a2"/>
<rect x="635.26" y="250.11" width="0.8" height="0.8" fill="#b4aeac"/>
<rect x="557.41" y="229.73" width="0.8" height="0.8" fill="#7e3a40"/>
<rect x="604.81" y="246.49" width="0.8" height="0.8" fill="#968a8a"/>
<rect x="600.54" y="259.32" width="0.8" height="0.8" fill="#9a4a50"/>
<rect x="616.35" y="261.83" width="0.8" height="0.8" fill="#c0b8b6"/>
<rect x="620.45" y="255.79" width="0.8" height="0.8" fill="#aca6a2"/>
<rect x="595.32" y="231.91" width="0.8" height="0.8" fill="#b4aeaa"/>
<rect x="564.35" y="246.69" width="0.8" height="0.8" fill="#8e5a5e"/>
<rect x="640.03" y="250.71" width="0.8" height="0.8" fill="#c4beba"/>
<rect x="598.35" y="242.68" width="0.8" height="0.8" fill="#aca6a2"/>
<rect x="609.66" y="257.08" width="0.8" height="0.8" fill="#6e2a30"/>
<rect x="634.78" y="251.81" width="0.8" height="0.8" fill="#968a8a"/>
<rect x="582.85" y="248.09" width="0.8" height="0.8" fill="#aca6a2"/>
<rect x="593.6" y="242.97" width="0.8" height="0.8" fill="#b8b0ae"/>
<rect x="564.96" y="237.92" width="0.8" height="0.8" fill="#a89e9c"/>
<rect x="596.29" y="252.01" width="0.8" height="0.8" fill="#a89e9c"/>
<rect x="590.44" y="239.29" width="0.8" height="0.8" fill="#968a8a"/>
<rect x="593.77" y="232.82" width="0.8" height="0.8" fill="#b4aeaa"/>
<rect x="561.93" y="234.07" width="0.8" height="0.8" fill="#7e3a40"/>
<rect x="634.25" y="260.94" width="0.8" height="0.8" fill="#b4aeac"/>
<rect x="591.7" y="253.23" width="0.8" height="0.8" fill="#a89e9c"/>
<rect x="603.53" y="256.04" width="0.8" height="0.8" fill="#a89e9c"/>
<rect x="589" y="255.48" width="0.8" height="0.8" fill="#968a8a"/>
<rect x="604.69" y="254.12" width="0.8" height="0.8" fill="#b4aeac"/>
<rect x="646.37" y="254.71" width="0.8" height="0.8" fill="#b8b0ae"/>
<rect x="595.52" y="224.46" width="0.8" height="0.8" fill="#aca6a2"/>
<rect x="606.81" y="253.56" width="0.8" height="0.8" fill="#b8b0ae"/>
<rect x="616.11" y="262.73" width="0.8" height="0.8" fill="#b4aeac"/>
<rect x="607.22" y="257.73" width="0.8" height="0.8" fill="#8e5a5e"/>
<rect x="569.99" y="235.79" width="0.8" height="0.8" fill="#c4beba"/>
<rect x="639.18" y="253.33" width="0.8" height="0.8" fill="#968a8a"/>
<rect x="621.59" y="261.92" width="0.8" height="0.8" fill="#6e2a30"/>
<rect x="572.12" y="248.67" width="0.8" height="0.8" fill="#d2ccca"/>
<rect x="591.67" y="247.75" width="0.8" height="0.8" fill="#b4aeac"/>
<rect x="613.88" y="247.81" width="0.8" height="0.8" fill="#b4aeaa"/>
<rect x="601.88" y="239.18" width="0.8" height="0.8" fill="#968a8a"/>
<rect x="557.93" y="239.63" width="0.8" height="0.8" fill="#ccc6c4"/>
<rect x="582.46" y="233.63" width="0.8" height="0.8" fill="#cac6c2"/>
<rect x="614.32" y="255.07" width="0.8" height="0.8" fill="#c8c2c0"/>
<rect x="604.3" y="248.96" width="0.8" height="0.8" fill="#aca6a2"/>
<rect x="561.03" y="239.9" width="0.8" height="0.8" fill="#cac6c2"/>
<rect x="570.9" y="242.71" width="0.8" height="0.8" fill="#b8b0ae"/>
<rect x="565.98" y="230.27" width="0.8" height="0.8" fill="#ccc6c4"/>
<rect x="630.79" y="251.05" width="0.8" height="0.8" fill="#c8c2c0"/>
<rect x="602.06" y="251.72" width="0.8" height="0.8" fill="#c0b8b6"/>
<rect x="563.74" y="235.84" width="0.8" height="0.8" fill="#c8c2c0"/>
<rect x="622.53" y="261.35" width="0.8" height="0.8" fill="#ccc6c4"/>
<rect x="613.08" y="251.55" width="0.8" height="0.8" fill="#b4aeaa"/>
<rect x="606.02" y="235.18" width="0.8" height="0.8" fill="#a89e9c"/>
<rect x="624.12" y="267.41" width="0.8" height="0.8" fill="#968a8a"/>
<rect x="569.58" y="239.57" width="0.8" height="0.8" fill="#b4aeac"/>
<rect x="579.71" y="228.18" width="0.8" height="0.8" fill="#d2ccca"/>
<rect x="585.22" y="245.47" width="0.8" height="0.8" fill="#ccc6c4"/>
<rect x="524.61" y="235.33" width="0.8" height="0.8" fill="#b8b0ae"/>
<rect x="567.19" y="236.58" width="0.8" height="0.8" fill="#b4aeaa"/>
<rect x="602.57" y="245.94" width="0.8" height="0.8" fill="#cac6c2"/>
<rect x="585.17" y="225.73" width="0.8" height="0.8" fill="#b4aeaa"/>
<rect x="599.59" y="236.97" width="0.8" height="0.8" fill="#968a8a"/>
<rect x="595.8" y="227.12" width="0.8" height="0.8" fill="#aca6a2"/>
<rect x="543.79" y="231.09" width="0.8" height="0.8" fill="#cac6c2"/>
<rect x="636.58" y="257.34" width="0.8" height="0.8" fill="#a89e9c"/>
<rect x="619.89" y="259.95" width="0.8" height="0.8" fill="#968a8a"/>
<rect x="549.49" y="240.81" width="0.8" height="0.8" fill="#9c9290"/>
<rect x="612.22" y="257.87" width="0.8" height="0.8" fill="#d2ccca"/>
<rect x="568.96" y="238.61" width="0.8" height="0.8" fill="#9c9290"/>
<rect x="639.33" y="252.14" width="0.8" height="0.8" fill="#ccc6c4"/>
<rect x="589.69" y="246.67" width="0.8" height="0.8" fill="#cac6c2"/>
<rect x="622.42" y="258.43" width="0.8" height="0.8" fill="#d2ccca"/>
<rect x="600.65" y="235.77" width="0.8" height="0.8" fill="#cac6c2"/>
<rect x="616.27" y="264.66" width="0.8" height="0.8" fill="#a49a98"/>
<rect x="631.76" y="251.99" width="0.8" height="0.8" fill="#cac6c2"/>
<rect x="590.15" y="225.42" width="0.8" height="0.8" fill="#aca6a2"/>
<rect x="601.75" y="245.8" width="0.8" height="0.8" fill="#cac6c2"/>
<rect x="583.19" y="239.66" width="0.8" height="0.8" fill="#cac6c2"/>
<rect x="620.92" y="263.14" width="0.8" height="0.8" fill="#ccc6c4"/>
<rect x="632.46" y="247.62" width="0.8" height="0.8" fill="#b4aeaa"/>
<rect x="564.8" y="228.59" width="0.8" height="0.8" fill="#b4aeac"/>
<rect x="574.17" y="244.56" width="0.8" height="0.8" fill="#d2ccca"/>
<rect x="608.34" y="233.11" width="0.8" height="0.8" fill="#b4aeaa"/>
<rect x="607.37" y="250.76" width="0.8" height="0.8" fill="#a49a98"/>
<rect x="571.8" y="244.42" width="0.8" height="0.8" fill="#ccc6c4"/>
<rect x="600.75" y="252.66" width="0.8" height="0.8" fill="#b4aeaa"/>
<rect x="604.64" y="229.5" width="0.8" height="0.8" fill="#aca6a2"/>
<rect x="564.74" y="240.65" width="0.8" height="0.8" fill="#7e3a40"/>
<rect x="602.24" y="251.92" width="0.8" height="0.8" fill="#d2ccca"/>
<rect x="614.09" y="261.46" width="0.8" height="0.8" fill="#b8b0ae"/>
<rect x="617.49" y="259.91" width="0.8" height="0.8" fill="#6e2a30"/>
<rect x="608.79" y="262.36" width="0.8" height="0.8" fill="#c0b8b6"/>
<rect x="592.97" y="233.05" width="0.8" height="0.8" fill="#b4aeaa"/>
<rect x="540.88" y="241.09" width="0.8" height="0.8" fill="#8e5a5e"/>
<rect x="593.67" y="246.29" width="0.8" height="0.8" fill="#9a4a50"/>
<rect x="611.11" y="262.62" width="0.8" height="0.8" fill="#b8b0ae"/>
<rect x="559.27" y="246.49" width="0.8" height="0.8" fill="#b8b0ae"/>
<rect x="550.84" y="239.93" width="0.8" height="0.8" fill="#c4beba"/>
<rect x="622.53" y="255.37" width="0.8" height="0.8" fill="#a49a98"/>
<rect x="576.76" y="232.7" width="0.8" height="0.8" fill="#968a8a"/>
<rect x="556.16" y="244.85" width="0.8" height="0.8" fill="#ccc6c4"/>
<rect x="643.26" y="251.93" width="0.8" height="0.8" fill="#c8c2c0"/>
<rect x="645.65" y="253.99" width="0.8" height="0.8" fill="#cac6c2"/>
<rect x="638.78" y="251.95" width="0.8" height="0.8" fill="#a49a98"/>
<rect x="587.96" y="233.2" width="0.8" height="0.8" fill="#aca6a2"/>
<rect x="606.51" y="246.65" width="0.8" height="0.8" fill="#cac6c2"/>
<rect x="622.95" y="248.93" width="0.8" height="0.8" fill="#c0b8b6"/>
<rect x="589" y="250.61" width="0.8" height="0.8" fill="#c0b8b6"/>
<rect x="606.44" y="258.55" width="0.8" height="0.8" fill="#9a4a50"/>
<rect x="597.25" y="228.24" width="0.8" height="0.8" fill="#aca6a2"/>
<rect x="572.47" y="234.05" width="0.8" height="0.8" fill="#a89e9c"/>
<rect x="607.56" y="233.25" width="0.8" height="0.8" fill="#cac6c2"/>
<rect x="589.53" y="227.6" width="0.8" height="0.8" fill="#b4aeaa"/>
<rect x="564.62" y="231.11" width="0.8" height="0.8" fill="#a89e9c"/>
<rect x="602.03" y="251.07" width="0.8" height="0.8" fill="#c8c2c0"/>
<rect x="623.63" y="258.72" width="0.8" height="0.8" fill="#a89e9c"/>
<rect x="598.29" y="251.45" width="0.8" height="0.8" fill="#9c9290"/>
<rect x="561.72" y="242.13" width="0.8" height="0.8" fill="#9c9290"/>
<rect x="611.55" y="260.92" width="0.8" height="0.8" fill="#aca6a2"/>
<rect x="555.76" y="239.53" width="0.8" height="0.8" fill="#968a8a"/>
<rect x="595.07" y="254.6" width="0.8" height="0.8" fill="#c4beba"/>
<rect x="610.55" y="234.28" width="0.8" height="0.8" fill="#cac6c2"/>
<rect x="621.43" y="249.95" width="0.8" height="0.8" fill="#a49a98"/>
<rect x="611.9" y="242.28" width="0.8" height="0.8" fill="#c8c2c0"/>
<rect x="584.68" y="229.57" width="0.8" height="0.8" fill="#ccc6c4"/>
<rect x="568.33" y="232.12" width="0.8" height="0.8" fill="#a49a98"/>
<rect x="613.39" y="252.45" width="0.8" height="0.8" fill="#c0b8b6"/>
<rect x="625.18" y="249.18" width="0.8" height="0.8" fill="#b4aeaa"/>
<rect x="606.5" y="257.7" width="0.8" height="0.8" fill="#6e2a30"/>
<rect x="599.75" y="253.52" width="0.8" height="0.8" fill="#9c9290"/>
<rect x="606.01" y="246.97" width="0.8" height="0.8" fill="#b4aeaa"/>
<rect x="612.17" y="250" width="0.8" height="0.8" fill="#a89e9c"/>
<rect x="600.77" y="244.29" width="0.8" height="0.8" fill="#b8b0ae"/>
<rect x="623.94" y="252.84" width="0.8" height="0.8" fill="#6e2a30"/>
<rect x="600.73" y="256.49" width="0.8" height="0.8" fill="#b8b0ae"/>
<rect x="627.75" y="246.51" width="0.8" height="0.8" fill="#d2ccca"/>
<rect x="551.86" y="237.47" width="0.8" height="0.8" fill="#aca6a2"/>
<rect x="561.18" y="235.94" width="0.8" height="0.8" fill="#7e3a40"/>
<rect x="549" y="233.26" width="0.8" height="0.8" fill="#c4beba"/>
<rect x="580.4" y="250.01" width="0.8" height="0.8" fill="#9c9290"/>
<rect x="599.04" y="257.51" width="0.8" height="0.8" fill="#8e5a5e"/>
<rect x="608.66" y="243.9" width="0.8" height="0.8" fill="#a49a98"/>
<rect x="624.07" y="247.7" width="0.8" height="0.8" fill="#ccc6c4"/>
<rect x="639.47" y="258.05" width="0.8" height="0.8" fill="#b8b0ae"/>
<rect x="595.4" y="246.26" width="0.8" height="0.8" fill="#9c9290"/>
<rect x="589.99" y="254.03" width="0.8" height="0.8" fill="#9a4a50"/>
<rect x="621.87" y="247.58" width="0.8" height="0.8" fill="#c4beba"/>
<rect x="641.06" y="257.29" width="0.8" height="0.8" fill="#b4aeac"/>
<rect x="599.04" y="247.38" width="0.8" height="0.8" fill="#d2ccca"/>
<rect x="578.73" y="247.94" width="0.8" height="0.8" fill="#7e3a40"/>
<rect x="576.07" y="233.82" width="0.8" height="0.8" fill="#cac6c2"/>
<rect x="578.22" y="243.23" width="0.8" height="0.8" fill="#c8c2c0"/>
<rect x="572.6" y="226.21" width="0.8" height="0.8" fill="#c0b8b6"/>
<rect x="555.72" y="239.57" width="0.8" height="0.8" fill="#c0b8b6"/>
<rect x="640.18" y="255.82" width="0.8" height="0.8" fill="#d2ccca"/>
<rect x="644.95" y="254.73" width="0.8" height="0.8" fill="#cac6c2"/>
<rect x="622.13" y="250.81" width="0.8" height="0.8" fill="#b4aeaa"/>
<rect x="636.48" y="260.27" width="0.8" height="0.8" fill="#c4beba"/>
<rect x="538.25" y="240.06" width="0.8" height="0.8" fill="#9c9290"/>
<rect x="545.87" y="231.56" width="0.8" height="0.8" fill="#aca6a2"/>
<rect x="611.35" y="260.01" width="0.8" height="0.8" fill="#b4aeac"/>
<rect x="609.12" y="246.19" width="0.8" height="0.8" fill="#cac6c2"/>
<rect x="539.47" y="235.14" width="0.8" height="0.8" fill="#8e5a5e"/>
<rect x="554.11" y="244.97" width="0.8" height="0.8" fill="#ccc6c4"/>
<rect x="624.87" y="256.15" width="0.8" height="0.8" fill="#c0b8b6"/>
<rect x="574.77" y="238.14" width="0.8" height="0.8" fill="#c4beba"/>
<rect x="586.11" y="241.65" width="0.8" height="0.8" fill="#b4aeac"/>
<rect x="587.29" y="228.41" width="0.8" height="0.8" fill="#7e3a40"/>
<rect x="639.13" y="250.83" width="0.8" height="0.8" fill="#c8c2c0"/>
<rect x="603.45" y="246.94" width="0.8" height="0.8" fill="#cac6c2"/>
<rect x="604.99" y="237.27" width="0.8" height="0.8" fill="#c8c2c0"/>
<rect x="606.38" y="253.35" width="0.8" height="0.8" fill="#b4aeac"/>
<rect x="644.93" y="254.89" width="0.8" height="0.8" fill="#c4beba"/>
<rect x="604.77" y="234.91" width="0.8" height="0.8" fill="#aca6a2"/>
<rect x="645.24" y="255.9" width="0.8" height="0.8" fill="#c4beba"/>
<rect x="581.6" y="232.3" width="0.8" height="0.8" fill="#b4aeaa"/>
<rect x="597.27" y="249.32" width="0.8" height="0.8" fill="#c8c2c0"/>
<rect x="593.76" y="239.24" width="0.8" height="0.8" fill="#968a8a"/>
<rect x="562.73" y="238.23" width="0.8" height="0.8" fill="#b4aeac"/>
<rect x="602.15" y="245.77" width="0.8" height="0.8" fill="#b4aeac"/>
<rect x="601.87" y="242.07" width="0.8" height="0.8" fill="#a89e9c"/>
<rect x="556.97" y="231.45" width="0.8" height="0.8" fill="#a49a98"/>
<rect x="615.77" y="261.28" width="0.8" height="0.8" fill="#b4aeac"/>
<rect x="584.08" y="245.97" width="0.8" height="0.8" fill="#c4beba"/>
<rect x="627.91" y="247.47" width="0.8" height="0.8" fill="#7e3a40"/>
<rect x="572.84" y="235.09" width="0.8" height="0.8" fill="#c0b8b6"/>
<rect x="588.78" y="251.99" width="0.8" height="0.8" fill="#9c9290"/>
<rect x="578.57" y="226.38" width="0.8" height="0.8" fill="#ccc6c4"/>
<rect x="610.13" y="254.53" width="0.8" height="0.8" fill="#a89e9c"/>
<rect x="623.22" y="246.5" width="0.8" height="0.8" fill="#b4aeaa"/>
<rect x="582.55" y="232.2" width="0.8" height="0.8" fill="#b4aeaa"/>
<rect x="598.65" y="232.15" width="0.8" height="0.8" fill="#968a8a"/>
<rect x="543.71" y="237.23" width="0.8" height="0.8" fill="#cac6c2"/>
<rect x="597.18" y="254.77" width="0.8" height="0.8" fill="#a89e9c"/>
<rect x="650.5" y="255.59" width="0.8" height="0.8" fill="#d2ccca"/>
<rect x="632.55" y="247.83" width="0.8" height="0.8" fill="#b4aeac"/>
<rect x="644.17" y="254.04" width="0.8" height="0.8" fill="#aca6a2"/>
<rect x="579.23" y="249.82" width="0.8" height="0.8" fill="#9c9290"/>
<rect x="584.38" y="248.1" width="0.8" height="0.8" fill="#b4aeac"/>
<rect x="601.22" y="234.36" width="0.8" height="0.8" fill="#b4aeaa"/>
<rect x="545.69" y="236.72" width="0.8" height="0.8" fill="#c8c2c0"/>
<rect x="583.48" y="248.26" width="0.8" height="0.8" fill="#ccc6c4"/>
<rect x="621.4" y="259.66" width="0.8" height="0.8" fill="#8e5a5e"/>
<rect x="585.51" y="223.2" width="0.8" height="0.8" fill="#c4beba"/>
<rect x="618.13" y="247.39" width="0.8" height="0.8" fill="#b4aeaa"/>
<rect x="637.87" y="254.32" width="0.8" height="0.8" fill="#d2ccca"/>
<rect x="606.1" y="255.43" width="0.8" height="0.8" fill="#ccc6c4"/>
<rect x="601.06" y="241.51" width="0.8" height="0.8" fill="#ccc6c4"/>
<rect x="615.38" y="243.51" width="0.8" height="0.8" fill="#b8b0ae"/>
<rect x="564.71" y="233.58" width="0.8" height="0.8" fill="#b8b0ae"/>
<rect x="616.27" y="235.95" width="0.8" height="0.8" fill="#b4aeaa"/>
<rect x="618.58" y="255.91" width="0.8" height="0.8" fill="#a49a98"/>
<rect x="593.49" y="247.72" width="0.8" height="0.8" fill="#8e5a5e"/>
<rect x="625.78" y="243.77" width="0.8" height="0.8" fill="#aca6a2"/>
<rect x="593.33" y="252.71" width="0.8" height="0.8" fill="#ccc6c4"/>
<rect x="603.14" y="242.98" width="0.8" height="0.8" fill="#a49a98"/>
<rect x="603.25" y="236.72" width="0.8" height="0.8" fill="#ccc6c4"/>
<rect x="564.91" y="229.21" width="0.8" height="0.8" fill="#c0b8b6"/>
<rect x="616.88" y="236.87" width="0.8" height="0.8" fill="#a49a98"/>
<rect x="618.47" y="258.87" width="0.8" height="0.8" fill="#a89e9c"/>
<rect x="592.53" y="243.54" width="0.8" height="0.8" fill="#6e2a30"/>
<rect x="639.23" y="259.89" width="0.8" height="0.8" fill="#b8b0ae"/>
<rect x="599.05" y="248.18" width="0.8" height="0.8" fill="#c8c2c0"/>
<rect x="576.84" y="230.39" width="0.8" height="0.8" fill="#b4aeac"/>
<rect x="615.33" y="248.44" width="0.8" height="0.8" fill="#c8c2c0"/>
<rect x="590.47" y="241.58" width="0.8" height="0.8" fill="#c4beba"/>
<rect x="599.97" y="242.89" width="0.8" height="0.8" fill="#c0b8b6"/>
<rect x="641.21" y="257.38" width="0.8" height="0.8" fill="#c8c2c0"/>
<rect x="587.27" y="225.79" width="0.8" height="0.8" fill="#c4beba"/>
<rect x="586.92" y="245.62" width="0.8" height="0.8" fill="#aca6a2"/>
<rect x="574.2" y="248.07" width="0.8" height="0.8" fill="#b4aeac"/>
<rect x="574.04" y="228" width="0.8" height="0.8" fill="#c0b8b6"/>
<rect x="601.05" y="237.4" width="0.8" height="0.8" fill="#c0b8b6"/>
<rect x="640.14" y="256.7" width="0.8" height="0.8" fill="#aca6a2"/>
<rect x="578.98" y="235.25" width="0.8" height="0.8" fill="#b4aeac"/>
<rect x="618.86" y="245.98" width="0.8" height="0.8" fill="#cac6c2"/>
<rect x="642.49" y="260.5" width="0.8" height="0.8" fill="#aca6a2"/>
<rect x="615.43" y="239.27" width="0.8" height="0.8" fill="#cac6c2"/>
<rect x="611.49" y="262.44" width="0.8" height="0.8" fill="#c0b8b6"/>
<rect x="550.62" y="235.82" width="0.8" height="0.8" fill="#ccc6c4"/>
<rect x="603.59" y="252.77" width="0.8" height="0.8" fill="#b4aeac"/>
<rect x="612.04" y="257.07" width="0.8" height="0.8" fill="#b4aeac"/>
<rect x="547.5" y="234.04" width="0.8" height="0.8" fill="#968a8a"/>
<rect x="623.99" y="254.01" width="0.8" height="0.8" fill="#aca6a2"/>
<rect x="634" y="249.36" width="0.8" height="0.8" fill="#a89e9c"/>
<rect x="554.28" y="230.99" width="0.8" height="0.8" fill="#b4aeaa"/>
<rect x="607.92" y="257.62" width="0.8" height="0.8" fill="#7e3a40"/>
<rect x="577.05" y="239.58" width="0.8" height="0.8" fill="#9c9290"/>
<rect x="590.34" y="244.44" width="0.8" height="0.8" fill="#c0b8b6"/>
<rect x="610.8" y="242.02" width="0.8" height="0.8" fill="#968a8a"/>
<rect x="579.25" y="235.23" width="0.8" height="0.8" fill="#c0b8b6"/>
<rect x="580.9" y="224.96" width="0.8" height="0.8" fill="#b4aeaa"/>
<rect x="622.33" y="240.85" width="0.8" height="0.8" fill="#c4beba"/>
<rect x="620.62" y="258.51" width="0.8" height="0.8" fill="#a49a98"/>
<rect x="623.29" y="242.48" width="0.8" height="0.8" fill="#b4aeaa"/>
<rect x="570.08" y="247.02" width="0.8" height="0.8" fill="#c8c2c0"/>
<rect x="613.33" y="241" width="0.8" height="0.8" fill="#d2ccca"/>
<rect x="618.46" y="261.05" width="0.8" height="0.8" fill="#c8c2c0"/>
<rect x="609.75" y="239.68" width="0.8" height="0.8" fill="#b4aeaa"/>
<rect x="559.54" y="229.71" width="0.8" height="0.8" fill="#9c9290"/>
<rect x="582.13" y="222.97" width="0.8" height="0.8" fill="#aca6a2"/>
<rect x="586.33" y="232.73" width="0.8" height="0.8" fill="#9c9290"/>
<rect x="556.94" y="241.44" width="0.8" height="0.8" fill="#b4aeac"/>
<rect x="561.87" y="241.25" width="0.8" height="0.8" fill="#c4beba"/>
<rect x="629.36" y="261.24" width="0.8" height="0.8" fill="#b4aeaa"/>
<rect x="566.78" y="236.76" width="0.8" height="0.8" fill="#c8c2c0"/>
<rect x="630.47" y="260.91" width="0.8" height="0.8" fill="#b8b0ae"/>
<rect x="562.92" y="237.63" width="0.8" height="0.8" fill="#9a4a50"/>
<rect x="624.01" y="246.07" width="0.8" height="0.8" fill="#cac6c2"/>
<rect x="563.41" y="237.61" width="0.8" height="0.8" fill="#b8b0ae"/>
<rect x="566.85" y="236.55" width="0.8" height="0.8" fill="#ccc6c4"/>
<rect x="605.66" y="255.98" width="0.8" height="0.8" fill="#a49a98"/>
<rect x="579.25" y="251.73" width="0.8" height="0.8" fill="#8e5a5e"/>
<rect x="620.06" y="261.24" width="0.8" height="0.8" fill="#b4aeac"/>
<rect x="609.36" y="234.29" width="0.8" height="0.8" fill="#a89e9c"/>
<rect x="609.59" y="242.33" width="0.8" height="0.8" fill="#d2ccca"/>
<rect x="592" y="241.73" width="0.8" height="0.8" fill="#b4aeaa"/>
<rect x="530.77" y="236.06" width="0.8" height="0.8" fill="#aca6a2"/>
<rect x="613.08" y="253.76" width="0.8" height="0.8" fill="#9c9290"/>
<rect x="608.54" y="234.67" width="0.8" height="0.8" fill="#b8b0ae"/>
<rect x="579.83" y="249.15" width="0.8" height="0.8" fill="#c0b8b6"/>
<rect x="550.68" y="243.27" width="0.8" height="0.8" fill="#b8b0ae"/>
<rect x="586.04" y="237.5" width="0.8" height="0.8" fill="#c8c2c0"/>
<rect x="577.84" y="223.28" width="0.8" height="0.8" fill="#a89e9c"/>
<rect x="623.76" y="253.18" width="0.8" height="0.8" fill="#d2ccca"/>
<rect x="611.18" y="245.81" width="0.8" height="0.8" fill="#ccc6c4"/>
<rect x="640.92" y="258.18" width="0.8" height="0.8" fill="#aca6a2"/>
<rect x="593.04" y="245.94" width="0.8" height="0.8" fill="#b8b0ae"/>
<rect x="616.95" y="257.23" width="0.8" height="0.8" fill="#c4beba"/>
<rect x="551.36" y="234.46" width="0.8" height="0.8" fill="#d2ccca"/>
<rect x="610.93" y="258.07" width="0.8" height="0.8" fill="#9a4a50"/>
<rect x="619.4" y="260.47" width="0.8" height="0.8" fill="#ccc6c4"/>
<rect x="635.31" y="253.54" width="0.8" height="0.8" fill="#ccc6c4"/>
<rect x="554.08" y="237.75" width="0.8" height="0.8" fill="#c0b8b6"/>
<rect x="628.18" y="264.98" width="0.8" height="0.8" fill="#c8c2c0"/>
<rect x="640.12" y="261.12" width="0.8" height="0.8" fill="#b8b0ae"/>
<rect x="580.51" y="227.56" width="0.8" height="0.8" fill="#b8b0ae"/>
<rect x="590.31" y="231.66" width="0.8" height="0.8" fill="#aca6a2"/>
<rect x="587.29" y="241.44" width="0.8" height="0.8" fill="#8e5a5e"/>
<rect x="597.19" y="258.27" width="0.8" height="0.8" fill="#b4aeac"/>
<rect x="614.37" y="249.84" width="0.8" height="0.8" fill="#b4aeaa"/>
<rect x="601.87" y="253.97" width="0.8" height="0.8" fill="#6e2a30"/>
<rect x="580.83" y="251.24" width="0.8" height="0.8" fill="#a89e9c"/>
<rect x="597.05" y="232.92" width="0.8" height="0.8" fill="#a49a98"/>
<rect x="614.65" y="245.89" width="0.8" height="0.8" fill="#aca6a2"/>
<rect x="578.83" y="236.75" width="0.8" height="0.8" fill="#b4aeac"/>
<rect x="617.84" y="260.99" width="0.8" height="0.8" fill="#aca6a2"/>
<rect x="636.05" y="257.98" width="0.8" height="0.8" fill="#b4aeac"/>
<rect x="572.16" y="234.35" width="0.8" height="0.8" fill="#ccc6c4"/>
<rect x="624.58" y="254.3" width="0.8" height="0.8" fill="#aca6a2"/>
<rect x="562.99" y="246.63" width="0.8" height="0.8" fill="#6e2a30"/>
<rect x="568.13" y="238.21" width="0.8" height="0.8" fill="#968a8a"/>
<rect x="587.72" y="252.98" width="0.8" height="0.8" fill="#a49a98"/>
<rect x="582.02" y="246.36" width="0.8" height="0.8" fill="#a49a98"/>
<rect x="630.03" y="256.72" width="0.8" height="0.8" fill="#9a4a50"/>
<rect x="625.66" y="253.21" width="0.8" height="0.8" fill="#c4beba"/>
<rect x="567.32" y="237.3" width="0.8" height="0.8" fill="#9c9290"/>
<rect x="641.5" y="260.31" width="0.8" height="0.8" fill="#a49a98"/>
<rect x="586.97" y="221.29" width="0.8" height="0.8" fill="#a89e9c"/>
<rect x="554.7" y="240.63" width="0.8" height="0.8" fill="#a89e9c"/>
<rect x="593.36" y="235.73" width="0.8" height="0.8" fill="#b4aeaa"/>
<rect x="590.82" y="222.06" width="0.8" height="0.8" fill="#cac6c2"/>
<rect x="624.08" y="258.51" width="0.8" height="0.8" fill="#b4aeac"/>
<rect x="548.22" y="241.87" width="0.8" height="0.8" fill="#968a8a"/>
<rect x="598.66" y="258.27" width="0.8" height="0.8" fill="#d2ccca"/>
<rect x="542.65" y="231.15" width="0.8" height="0.8" fill="#968a8a"/>
<rect x="545.35" y="239.11" width="0.8" height="0.8" fill="#a49a98"/>
<rect x="606.34" y="240.21" width="0.8" height="0.8" fill="#b4aeaa"/>
<rect x="629.38" y="246.77" width="0.8" height="0.8" fill="#b8b0ae"/>
<rect x="634.08" y="257" width="0.8" height="0.8" fill="#b4aeac"/>
<rect x="637.81" y="259.61" width="0.8" height="0.8" fill="#c0b8b6"/>
<rect x="643.57" y="252.17" width="0.8" height="0.8" fill="#c8c2c0"/>
<rect x="564.66" y="233.57" width="0.8" height="0.8" fill="#cac6c2"/>
<rect x="634.06" y="258.32" width="0.8" height="0.8" fill="#a49a98"/>
<rect x="647.93" y="257.26" width="0.8" height="0.8" fill="#b4aeaa"/>
<rect x="579.1" y="236.69" width="0.8" height="0.8" fill="#a89e9c"/>
<rect x="622.1" y="245.75" width="0.8" height="0.8" fill="#aca6a2"/>
<rect x="620.95" y="261.44" width="0.8" height="0.8" fill="#c8c2c0"/>
<rect x="611.89" y="261.55" width="0.8" height="0.8" fill="#b8b0ae"/>
<rect x="537.95" y="232.77" width="0.8" height="0.8" fill="#968a8a"/>
<rect x="585.88" y="229.16" width="0.8" height="0.8" fill="#7e3a40"/>
<rect x="571.83" y="238.38" width="0.8" height="0.8" fill="#6e2a30"/>
<rect x="622.49" y="241.6" width="0.8" height="0.8" fill="#ccc6c4"/>
<rect x="631.02" y="261.38" width="0.8" height="0.8" fill="#c0b8b6"/>
<rect x="619.58" y="243.76" width="0.8" height="0.8" fill="#b8b0ae"/>
<rect x="618.94" y="261.85" width="0.8" height="0.8" fill="#a89e9c"/>
<rect x="590.35" y="245.08" width="0.8" height="0.8" fill="#a49a98"/>
<rect x="581.51" y="250.95" width="0.8" height="0.8" fill="#968a8a"/>
<rect x="537.46" y="240.08" width="0.8" height="0.8" fill="#9a4a50"/>
<rect x="603.34" y="256.61" width="0.8" height="0.8" fill="#c8c2c0"/>
<rect x="630.81" y="252.79" width="0.8" height="0.8" fill="#c8c2c0"/>
<rect x="605.73" y="234.73" width="0.8" height="0.8" fill="#cac6c2"/>
<rect x="632.2" y="254.88" width="0.8" height="0.8" fill="#ccc6c4"/>
<rect x="605.65" y="233.02" width="0.8" height="0.8" fill="#c4beba"/>
<rect x="599.95" y="258.41" width="0.8" height="0.8" fill="#c8c2c0"/>
<rect x="571.11" y="229.17" width="0.8" height="0.8" fill="#a89e9c"/>
<rect x="619.11" y="262.11" width="0.8" height="0.8" fill="#c4beba"/>
<rect x="596.97" y="230.52" width="0.8" height="0.8" fill="#b8b0ae"/>
<rect x="551.27" y="238.19" width="0.8" height="0.8" fill="#c8c2c0"/>
<rect x="568.31" y="249.17" width="0.8" height="0.8" fill="#c0b8b6"/>
<rect x="608.99" y="233.24" width="0.8" height="0.8" fill="#c4beba"/>
<rect x="583.39" y="253.54" width="0.8" height="0.8" fill="#c0b8b6"/>
<rect x="547.13" y="241.53" width="0.8" height="0.8" fill="#a89e9c"/>
<rect x="555.02" y="240.86" width="0.8" height="0.8" fill="#a89e9c"/>
<rect x="611.56" y="244.62" width="0.8" height="0.8" fill="#aca6a2"/>
<rect x="631.99" y="263.12" width="0.8" height="0.8" fill="#9c9290"/>
<rect x="581.4" y="249.28" width="0.8" height="0.8" fill="#968a8a"/>
<rect x="559.16" y="244.68" width="0.8" height="0.8" fill="#c8c2c0"/>
<rect x="608" y="252.55" width="0.8" height="0.8" fill="#968a8a"/>
<rect x="638.8" y="258.1" width="0.8" height="0.8" fill="#c8c2c0"/>
<rect x="573.99" y="235.17" width="0.8" height="0.8" fill="#ccc6c4"/>
<rect x="635.15" y="254.19" width="0.8" height="0.8" fill="#c4beba"/>
<rect x="625.67" y="256.66" width="0.8" height="0.8" fill="#aca6a2"/>
<rect x="634.1" y="263.13" width="0.8" height="0.8" fill="#b8b0ae"/>
<rect x="620.5" y="246.54" width="0.8" height="0.8" fill="#cac6c2"/>
<rect x="594.8" y="234.43" width="0.8" height="0.8" fill="#d2ccca"/>
<rect x="640.72" y="255.95" width="0.8" height="0.8" fill="#aca6a2"/>
<rect x="584.56" y="227.69" width="0.8" height="0.8" fill="#b4aeaa"/>
<rect x="616.05" y="240.91" width="0.8" height="0.8" fill="#a89e9c"/>
<rect x="641.71" y="250.83" width="0.8" height="0.8" fill="#aca6a2"/>
<rect x="614.85" y="264.5" width="0.8" height="0.8" fill="#a89e9c"/>
<rect x="547.55" y="235.07" width="0.8" height="0.8" fill="#a89e9c"/>
<rect x="607.76" y="239.95" width="0.8" height="0.8" fill="#c0b8b6"/>
<rect x="603.66" y="229.86" width="0.8" height="0.8" fill="#c0b8b6"/>
<rect x="582.67" y="229.78" width="0.8" height="0.8" fill="#ccc6c4"/>
<rect x="622.77" y="244.08" width="0.8" height="0.8" fill="#aca6a2"/>
<rect x="558.43" y="235.69" width="0.8" height="0.8" fill="#9a4a50"/>
<rect x="546.93" y="231.93" width="0.8" height="0.8" fill="#c4beba"/>
<rect x="557.56" y="232.84" width="0.8" height="0.8" fill="#9a4a50"/>
<rect x="630.31" y="250.43" width="0.8" height="0.8" fill="#c4beba"/>
<rect x="563.37" y="241.4" width="0.8" height="0.8" fill="#c0b8b6"/>
<rect x="576.35" y="238.31" width="0.8" height="0.8" fill="#6e2a30"/>
<rect x="611.06" y="244.88" width="0.8" height="0.8" fill="#ccc6c4"/>
<rect x="560.04" y="238.42" width="0.8" height="0.8" fill="#aca6a2"/>
<rect x="562.41" y="233.52" width="0.8" height="0.8" fill="#a89e9c"/>
<rect x="558.01" y="231.98" width="0.8" height="0.8" fill="#c8c2c0"/>
<rect x="593.1" y="240.72" width="0.8" height="0.8" fill="#c8c2c0"/>
<rect x="575.36" y="248.69" width="0.8" height="0.8" fill="#a89e9c"/>
<rect x="560.03" y="240.39" width="0.8" height="0.8" fill="#a89e9c"/>
<rect x="628.67" y="257.59" width="0.8" height="0.8" fill="#9c9290"/>
<rect x="605.74" y="234.93" width="0.8" height="0.8" fill="#aca6a2"/>
<rect x="596.15" y="251.5" width="0.8" height="0.8" fill="#c8c2c0"/>
<rect x="617.26" y="255.51" width="0.8" height="0.8" fill="#c4beba"/>
<rect x="587.35" y="220.15" width="0.8" height="0.8" fill="#d2ccca"/>
<rect x="602.23" y="251.86" width="0.8" height="0.8" fill="#d2ccca"/>
<rect x="600.08" y="247.49" width="0.8" height="0.8" fill="#b4aeac"/>
<rect x="598.85" y="245.24" width="0.8" height="0.8" fill="#c0b8b6"/>
<rect x="642.42" y="259.11" width="0.8" height="0.8" fill="#ccc6c4"/>
<rect x="603.2" y="254.38" width="0.8" height="0.8" fill="#a49a98"/>
<rect x="608.22" y="241.34" width="0.8" height="0.8" fill="#b4aeaa"/>
<rect x="601.53" y="244.65" width="0.8" height="0.8" fill="#9c9290"/>
<rect x="645.03" y="256.01" width="0.8" height="0.8" fill="#c8c2c0"/>
<rect x="624.61" y="252.5" width="0.8" height="0.8" fill="#b4aeaa"/>
<rect x="619.68" y="240.62" width="0.8" height="0.8" fill="#9c9290"/>
<rect x="611.01" y="237.9" width="0.8" height="0.8" fill="#b4aeaa"/>
<rect x="558.57" y="231.23" width="0.8" height="0.8" fill="#b8b0ae"/>
<rect x="530.56" y="235.87" width="0.8" height="0.8" fill="#d2ccca"/>
<rect x="616.94" y="260.52" width="0.8" height="0.8" fill="#a89e9c"/>
<rect x="592.07" y="232.79" width="0.8" height="0.8" fill="#d2ccca"/>
<rect x="603.52" y="229.31" width="0.8" height="0.8" fill="#cac6c2"/>
<rect x="644.52" y="258.97" width="0.8" height="0.8" fill="#a49a98"/>
<rect x="623.52" y="246.39" width="0.8" height="0.8" fill="#b4aeac"/>
<rect x="576.38" y="230.1" width="0.8" height="0.8" fill="#9c9290"/>
<rect x="614.58" y="236.98" width="0.8" height="0.8" fill="#b8b0ae"/>
<rect x="559.84" y="229.32" width="0.8" height="0.8" fill="#ccc6c4"/>
<rect x="559.57" y="228.35" width="0.8" height="0.8" fill="#c4beba"/>
<rect x="630.57" y="251.64" width="0.8" height="0.8" fill="#b4aeaa"/>
<rect x="543.69" y="231.35" width="0.8" height="0.8" fill="#aca6a2"/>
<rect x="598.81" y="244.37" width="0.8" height="0.8" fill="#ccc6c4"/>
<rect x="626.35" y="244.53" width="0.8" height="0.8" fill="#aca6a2"/>
<rect x="542.98" y="238.2" width="0.8" height="0.8" fill="#c0b8b6"/>
<rect x="630.68" y="265.03" width="0.8" height="0.8" fill="#ccc6c4"/>
<rect x="579.37" y="222.11" width="0.8" height="0.8" fill="#b4aeac"/>
<rect x="578.53" y="242.31" width="0.8" height="0.8" fill="#8e5a5e"/>
<rect x="610.5" y="263.05" width="0.8" height="0.8" fill="#a89e9c"/>
<rect x="638.92" y="259.98" width="0.8" height="0.8" fill="#a49a98"/>
<rect x="630.68" y="263.84" width="0.8" height="0.8" fill="#a89e9c"/>
<rect x="597.33" y="232.53" width="0.8" height="0.8" fill="#cac6c2"/>
<rect x="572.72" y="227.68" width="0.8" height="0.8" fill="#aca6a2"/>
<rect x="590.06" y="229.66" width="0.8" height="0.8" fill="#cac6c2"/>
<rect x="609.39" y="253.5" width="0.8" height="0.8" fill="#d2ccca"/>
<rect x="641.37" y="259.61" width="0.8" height="0.8" fill="#aca6a2"/>
<rect x="617.51" y="240.59" width="0.8" height="0.8" fill="#aca6a2"/>
<rect x="578.74" y="228.34" width="0.8" height="0.8" fill="#cac6c2"/>
<rect x="551.89" y="241.73" width="0.8" height="0.8" fill="#d2ccca"/>
<rect x="580.72" y="243.77" width="0.8" height="0.8" fill="#b8b0ae"/>
<rect x="589.45" y="248.38" width="0.8" height="0.8" fill="#8e5a5e"/>
<rect x="631.57" y="260.77" width="0.8" height="0.8" fill="#aca6a2"/>
<rect x="641.28" y="260.22" width="0.8" height="0.8" fill="#ccc6c4"/>
<rect x="592.62" y="257.31" width="0.8" height="0.8" fill="#6e2a30"/>
<rect x="579.77" y="238.68" width="0.8" height="0.8" fill="#aca6a2"/>
<rect x="625.71" y="254.98" width="0.8" height="0.8" fill="#ccc6c4"/>
<rect x="611.93" y="260.59" width="0.8" height="0.8" fill="#d2ccca"/>
<rect x="638.95" y="261.58" width="0.8" height="0.8" fill="#ccc6c4"/>
<rect x="573.57" y="241.02" width="0.8" height="0.8" fill="#b4aeac"/>
<rect x="632.18" y="256.61" width="0.8" height="0.8" fill="#cac6c2"/>
<rect x="608.95" y="254.85" width="0.8" height="0.8" fill="#8e5a5e"/>
<rect x="577.63" y="244.12" width="0.8" height="0.8" fill="#d2ccca"/>
<rect x="626.03" y="264.25" width="0.8" height="0.8" fill="#b8b0ae"/>
<rect x="606.18" y="242.46" width="0.8" height="0.8" fill="#9c9290"/>
<rect x="615.76" y="254.69" width="0.8" height="0.8" fill="#c8c2c0"/>
<rect x="640.03" y="252.36" width="0.8" height="0.8" fill="#b4aeac"/>
<rect x="620.06" y="263.94" width="0.8" height="0.8" fill="#ccc6c4"/>
<rect x="578.61" y="237.17" width="0.8" height="0.8" fill="#b8b0ae"/>
<rect x="613.93" y="252.25" width="0.8" height="0.8" fill="#c4beba"/>
<rect x="628.5" y="264.15" width="0.8" height="0.8" fill="#968a8a"/>
<rect x="607.69" y="255.73" width="0.8" height="0.8" fill="#c8c2c0"/>
<rect x="609.77" y="238.76" width="0.8" height="0.8" fill="#d2ccca"/>
<rect x="618.6" y="252.5" width="0.8" height="0.8" fill="#a49a98"/>
<rect x="563.62" y="245.34" width="0.8" height="0.8" fill="#9c9290"/>
<rect x="556.07" y="237.48" width="0.8" height="0.8" fill="#aca6a2"/>
<rect x="630.04" y="256.69" width="0.8" height="0.8" fill="#b4aeaa"/>
<rect x="609.89" y="237.83" width="0.8" height="0.8" fill="#aca6a2"/>
<rect x="564.51" y="243.49" width="0.8" height="0.8" fill="#b8b0ae"/>
<rect x="569.85" y="249.9" width="0.8" height="0.8" fill="#7e3a40"/>
<rect x="643.82" y="254.76" width="0.8" height="0.8" fill="#a49a98"/>
<rect x="566.72" y="248.82" width="0.8" height="0.8" fill="#c0b8b6"/>
<rect x="572.44" y="226.28" width="0.8" height="0.8" fill="#b4aeaa"/>
<rect x="572.89" y="223.97" width="0.8" height="0.8" fill="#c8c2c0"/>
<rect x="580.55" y="238.57" width="0.8" height="0.8" fill="#b4aeaa"/>
<rect x="607.46" y="236.98" width="0.8" height="0.8" fill="#c4beba"/>
<rect x="592.31" y="229.46" width="0.8" height="0.8" fill="#b4aeaa"/>
<rect x="587.07" y="227.12" width="0.8" height="0.8" fill="#c4beba"/>
<rect x="560.22" y="239.89" width="0.8" height="0.8" fill="#d2ccca"/>
<rect x="623.9" y="257.36" width="0.8" height="0.8" fill="#a89e9c"/>
<rect x="639.85" y="255.24" width="0.8" height="0.8" fill="#b8b0ae"/>
<rect x="636.83" y="252.37" width="0.8" height="0.8" fill="#6e2a30"/>
<rect x="559.77" y="243.37" width="0.8" height="0.8" fill="#b4aeac"/>
<rect x="609.11" y="254.59" width="0.8" height="0.8" fill="#ccc6c4"/>
<rect x="605.31" y="247.55" width="0.8" height="0.8" fill="#c4beba"/>
<rect x="621.83" y="263.9" width="0.8" height="0.8" fill="#b4aeaa"/>
<rect x="568.24" y="242.12" width="0.8" height="0.8" fill="#ccc6c4"/>
<rect x="593.94" y="249.47" width="0.8" height="0.8" fill="#b4aeaa"/>
<rect x="633.62" y="255.87" width="0.8" height="0.8" fill="#a89e9c"/>
<rect x="589.19" y="234.59" width="0.8" height="0.8" fill="#c4beba"/>
<rect x="578.56" y="238.68" width="0.8" height="0.8" fill="#9c9290"/>
<rect x="643.94" y="254.03" width="0.8" height="0.8" fill="#b4aeaa"/>
<rect x="572.63" y="244.41" width="0.8" height="0.8" fill="#ccc6c4"/>
<rect x="634.18" y="257.45" width="0.8" height="0.8" fill="#c8c2c0"/>
<rect x="595.57" y="234.38" width="0.8" height="0.8" fill="#c4beba"/>
<rect x="586.57" y="234.09" width="0.8" height="0.8" fill="#9c9290"/>
<rect x="592.31" y="223.5" width="0.8" height="0.8" fill="#cac6c2"/>
<rect x="548.77" y="233.12" width="0.8" height="0.8" fill="#9c9290"/>
<rect x="576.45" y="228.89" width="0.8" height="0.8" fill="#b4aeaa"/>
<rect x="610.92" y="241.89" width="0.8" height="0.8" fill="#c4beba"/>
<rect x="607.1" y="233.21" width="0.8" height="0.8" fill="#c8c2c0"/>
<rect x="613.19" y="234.62" width="0.8" height="0.8" fill="#cac6c2"/>
<rect x="582.49" y="246.46" width="0.8" height="0.8" fill="#8e5a5e"/>
<rect x="565.64" y="237.72" width="0.8" height="0.8" fill="#b4aeaa"/>
<rect x="637.66" y="250.86" width="0.8" height="0.8" fill="#968a8a"/>
<rect x="585.25" y="252.7" width="0.8" height="0.8" fill="#c0b8b6"/>
<rect x="634.33" y="256.35" width="0.8" height="0.8" fill="#aca6a2"/>
<rect x="561.1" y="243.54" width="0.8" height="0.8" fill="#b4aeaa"/>
<rect x="635.01" y="250.28" width="0.8" height="0.8" fill="#c0b8b6"/>
<rect x="598.99" y="249.41" width="0.8" height="0.8" fill="#a49a98"/>
<rect x="605.44" y="238.98" width="0.8" height="0.8" fill="#aca6a2"/>
<rect x="609.57" y="244.4" width="0.8" height="0.8" fill="#ccc6c4"/>
<rect x="601.64" y="251.08" width="0.8" height="0.8" fill="#b4aeaa"/>
<rect x="548.65" y="230.25" width="0.8" height="0.8" fill="#ccc6c4"/>
<rect x="535.15" y="235.71" width="0.8" height="0.8" fill="#9a4a50"/>
<rect x="547.3" y="236.2" width="0.8" height="0.8" fill="#d2ccca"/>
<rect x="583.37" y="233.35" width="0.8" height="0.8" fill="#aca6a2"/>
<rect x="637.06" y="256.2" width="0.8" height="0.8" fill="#cac6c2"/>
<rect x="598.02" y="239.57" width="0.8" height="0.8" fill="#c4beba"/>
<rect x="630.67" y="261.75" width="0.8" height="0.8" fill="#d2ccca"/>
<rect x="596.05" y="234.23" width="0.8" height="0.8" fill="#cac6c2"/>
<rect x="627.45" y="259.17" width="0.8" height="0.8" fill="#ccc6c4"/>
<rect x="573.44" y="227.51" width="0.8" height="0.8" fill="#c8c2c0"/>
<rect x="542.84" y="240.55" width="0.8" height="0.8" fill="#8e5a5e"/>
<rect x="567.52" y="231.18" width="0.8" height="0.8" fill="#cac6c2"/>
<rect x="629.94" y="262.43" width="0.8" height="0.8" fill="#9a4a50"/>
<rect x="609.18" y="251.37" width="0.8" height="0.8" fill="#c8c2c0"/>
<rect x="635.59" y="250.58" width="0.8" height="0.8" fill="#aca6a2"/>
<rect x="616.83" y="244.2" width="0.8" height="0.8" fill="#cac6c2"/>
<rect x="626.81" y="258.34" width="0.8" height="0.8" fill="#c0b8b6"/>
<rect x="613.81" y="263.53" width="0.8" height="0.8" fill="#b4aeac"/>
<rect x="554.8" y="237.9" width="0.8" height="0.8" fill="#ccc6c4"/>
<rect x="580.91" y="228.13" width="0.8" height="0.8" fill="#a49a98"/>
<rect x="574.44" y="234.57" width="0.8" height="0.8" fill="#968a8a"/>
<rect x="648.41" y="255.34" width="0.8" height="0.8" fill="#b4aeaa"/>
<rect x="565.24" y="242.42" width="0.8" height="0.8" fill="#968a8a"/>
<rect x="572.8" y="238.3" width="0.8" height="0.8" fill="#b4aeaa"/>
<rect x="625.77" y="250.31" width="0.8" height="0.8" fill="#968a8a"/>
<rect x="612.3" y="263.13" width="0.8" height="0.8" fill="#c8c2c0"/>
<rect x="549.74" y="235.95" width="0.8" height="0.8" fill="#d2ccca"/>
<rect x="583.75" y="239.11" width="0.8" height="0.8" fill="#d2ccca"/>
<rect x="581.85" y="228.87" width="0.8" height="0.8" fill="#b4aeaa"/>
<rect x="629.52" y="258.33" width="0.8" height="0.8" fill="#cac6c2"/>
<rect x="565.77" y="238.16" width="0.8" height="0.8" fill="#9c9290"/>
<rect x="585.56" y="245.6" width="0.8" height="0.8" fill="#7e3a40"/>
<rect x="532.47" y="236.47" width="0.8" height="0.8" fill="#968a8a"/>
<rect x="584.12" y="254.62" width="0.8" height="0.8" fill="#9a4a50"/>
<rect x="592.57" y="250.7" width="0.8" height="0.8" fill="#cac6c2"/>
<rect x="567.39" y="245.07" width="0.8" height="0.8" fill="#a89e9c"/>
<rect x="569.27" y="243.35" width="0.8" height="0.8" fill="#968a8a"/>
<rect x="632.93" y="252.06" width="0.8" height="0.8" fill="#b4aeaa"/>
<rect x="575.03" y="237.29" width="0.8" height="0.8" fill="#9c9290"/>
<rect x="631.94" y="259.11" width="0.8" height="0.8" fill="#a89e9c"/>
<rect x="630.95" y="264.46" width="0.8" height="0.8" fill="#d2ccca"/>
<rect x="598.13" y="228.91" width="0.8" height="0.8" fill="#aca6a2"/>
<rect x="574.38" y="230.84" width="0.8" height="0.8" fill="#a49a98"/>
<rect x="594.33" y="254.85" width="0.8" height="0.8" fill="#d2ccca"/>
<rect x="627.17" y="264.98" width="0.8" height="0.8" fill="#968a8a"/>
<rect x="650.65" y="255.99" width="0.8" height="0.8" fill="#c0b8b6"/>
<rect x="551.23" y="231.19" width="0.8" height="0.8" fill="#ccc6c4"/>
<rect x="551.81" y="238.29" width="0.8" height="0.8" fill="#6e2a30"/>
<rect x="563.58" y="247.97" width="0.8" height="0.8" fill="#a89e9c"/>
<rect x="593.52" y="251.26" width="0.8" height="0.8" fill="#a49a98"/>
<rect x="599.58" y="227.38" width="0.8" height="0.8" fill="#b4aeac"/>
<rect x="564.96" y="243.28" width="0.8" height="0.8" fill="#b4aeac"/>
<rect x="577.98" y="245.52" width="0.8" height="0.8" fill="#b8b0ae"/>
<rect x="561.7" y="243.7" width="0.8" height="0.8" fill="#9a4a50"/>
<rect x="630.28" y="255.77" width="0.8" height="0.8" fill="#aca6a2"/>
<rect x="585.19" y="238.61" width="0.8" height="0.8" fill="#ccc6c4"/>
<rect x="615.52" y="255.81" width="0.8" height="0.8" fill="#9c9290"/>
<rect x="630.97" y="260.95" width="0.8" height="0.8" fill="#968a8a"/>
<rect x="570.68" y="238.64" width="0.8" height="0.8" fill="#c0b8b6"/>
<rect x="630.13" y="248.9" width="0.8" height="0.8" fill="#968a8a"/>
<rect x="622.16" y="264.4" width="0.8" height="0.8" fill="#c8c2c0"/>
<rect x="615.36" y="260.32" width="0.8" height="0.8" fill="#ccc6c4"/>
<rect x="590.49" y="249.34" width="0.8" height="0.8" fill="#ccc6c4"/>
<rect x="640.34" y="249.87" width="0.8" height="0.8" fill="#a89e9c"/>
<rect x="563.29" y="232.9" width="0.8" height="0.8" fill="#968a8a"/>
<rect x="619.31" y="245.64" width="0.8" height="0.8" fill="#c4beba"/>
<rect x="595.86" y="249.7" width="0.8" height="0.8" fill="#b4aeac"/>
<rect x="584.42" y="244.26" width="0.8" height="0.8" fill="#b4aeaa"/>
<rect x="602.64" y="230.56" width="0.8" height="0.8" fill="#a49a98"/>
<rect x="634.65" y="259.9" width="0.8" height="0.8" fill="#968a8a"/>
<rect x="623.39" y="257.89" width="0.8" height="0.8" fill="#b4aeac"/>
<rect x="594.17" y="225.75" width="0.8" height="0.8" fill="#c8c2c0"/>
<rect x="619.31" y="264.88" width="0.8" height="0.8" fill="#9c9290"/>
<rect x="576.15" y="222.71" width="0.8" height="0.8" fill="#c0b8b6"/>
<rect x="634.25" y="262.32" width="0.8" height="0.8" fill="#cac6c2"/>
<rect x="566.48" y="247.82" width="0.8" height="0.8" fill="#968a8a"/>
<rect x="631.66" y="259.31" width="0.8" height="0.8" fill="#b8b0ae"/>
<rect x="589.15" y="243.48" width="0.8" height="0.8" fill="#b8b0ae"/>
<rect x="628.25" y="243.2" width="0.8" height="0.8" fill="#c4beba"/>
<rect x="649.26" y="256.01" width="0.8" height="0.8" fill="#a49a98"/>
<rect x="606.97" y="260.94" width="0.8" height="0.8" fill="#d2ccca"/>
<rect x="568.91" y="241.31" width="0.8" height="0.8" fill="#ccc6c4"/>
<rect x="577.75" y="242.17" width="0.8" height="0.8" fill="#ccc6c4"/>
<rect x="533.82" y="237.82" width="0.8" height="0.8" fill="#a89e9c"/>
<rect x="588.73" y="241" width="0.8" height="0.8" fill="#aca6a2"/>
<rect x="640.79" y="252.53" width="0.8" height="0.8" fill="#8e5a5e"/>
<rect x="555.5" y="245.17" width="0.8" height="0.8" fill="#b4aeac"/>
<rect x="617.14" y="236.94" width="0.8" height="0.8" fill="#aca6a2"/>
<rect x="567.58" y="226.13" width="0.8" height="0.8" fill="#c4beba"/>
<rect x="611.4" y="237.63" width="0.8" height="0.8" fill="#b4aeac"/>
<rect x="597.58" y="225.76" width="0.8" height="0.8" fill="#ccc6c4"/>
<rect x="618.09" y="265.06" width="0.8" height="0.8" fill="#b4aeac"/>
<rect x="596.65" y="233.93" width="0.8" height="0.8" fill="#c4beba"/>
<rect x="588.78" y="229.37" width="0.8" height="0.8" fill="#c4beba"/>
<rect x="584.31" y="231.72" width="0.8" height="0.8" fill="#c8c2c0"/>
<rect x="541.99" y="239.21" width="0.8" height="0.8" fill="#6e2a30"/>
<rect x="567.34" y="239.91" width="0.8" height="0.8" fill="#cac6c2"/>
<rect x="597.54" y="256.18" width="0.8" height="0.8" fill="#cac6c2"/>
<rect x="600.18" y="257.13" width="0.8" height="0.8" fill="#a89e9c"/>
<rect x="591.16" y="227.6" width="0.8" height="0.8" fill="#a49a98"/>
<rect x="579.2" y="232.34" width="0.8" height="0.8" fill="#a89e9c"/>
<rect x="630.49" y="258.61" width="0.8" height="0.8" fill="#d2ccca"/>
<rect x="641.2" y="252.22" width="0.8" height="0.8" fill="#cac6c2"/>
<rect x="578.6" y="246.83" width="0.8" height="0.8" fill="#b4aeac"/>
<rect x="586.02" y="254.22" width="0.8" height="0.8" fill="#b8b0ae"/>
<rect x="626.47" y="259.76" width="0.8" height="0.8" fill="#6e2a30"/>
<rect x="535.39" y="236.69" width="0.8" height="0.8" fill="#9a4a50"/>
<rect x="584.34" y="226.49" width="0.8" height="0.8" fill="#cac6c2"/>
<rect x="582.65" y="248.08" width="0.8" height="0.8" fill="#a49a98"/>
<rect x="603.69" y="255.44" width="0.8" height="0.8" fill="#ccc6c4"/>
<rect x="605.44" y="233.33" width="0.8" height="0.8" fill="#b4aeaa"/>
<rect x="636.05" y="255.45" width="0.8" height="0.8" fill="#c0b8b6"/>
<rect x="584.65" y="228.92" width="0.8" height="0.8" fill="#cac6c2"/>
<rect x="627.19" y="260.72" width="0.8" height="0.8" fill="#b4aeac"/>
<rect x="612.78" y="259.04" width="0.8" height="0.8" fill="#9c9290"/>
<rect x="589.84" y="256.71" width="0.8" height="0.8" fill="#ccc6c4"/>
<rect x="537.08" y="232.45" width="0.8" height="0.8" fill="#968a8a"/>
<rect x="629.5" y="258.76" width="0.8" height="0.8" fill="#6e2a30"/>
<rect x="589.75" y="244.53" width="0.8" height="0.8" fill="#a89e9c"/>
<rect x="573.88" y="227.99" width="0.8" height="0.8" fill="#a89e9c"/>
<rect x="630.1" y="263.35" width="0.8" height="0.8" fill="#d2ccca"/>
<rect x="632.15" y="257.81" width="0.8" height="0.8" fill="#ccc6c4"/>
<rect x="625.23" y="254.37" width="0.8" height="0.8" fill="#ccc6c4"/>
<rect x="619.14" y="260.66" width="0.8" height="0.8" fill="#9c9290"/>
<rect x="593.57" y="252.63" width="0.8" height="0.8" fill="#a89e9c"/>
<rect x="642.33" y="259.01" width="0.8" height="0.8" fill="#9c9290"/>
<rect x="616.97" y="254.34" width="0.8" height="0.8" fill="#a49a98"/>
<rect x="630.13" y="261.68" width="0.8" height="0.8" fill="#6e2a30"/>
<rect x="609.8" y="248.15" width="0.8" height="0.8" fill="#c4beba"/>
<rect x="562.65" y="230.63" width="0.8" height="0.8" fill="#7e3a40"/>
<rect x="533.79" y="236.48" width="0.8" height="0.8" fill="#7e3a40"/>
<rect x="631.08" y="255.55" width="0.8" height="0.8" fill="#c4beba"/>
<rect x="614.54" y="240.31" width="0.8" height="0.8" fill="#aca6a2"/>
<rect x="568.97" y="237.64" width="0.8" height="0.8" fill="#aca6a2"/>
<rect x="633.78" y="257.72" width="0.8" height="0.8" fill="#b8b0ae"/>
<rect x="591.77" y="234.01" width="0.8" height="0.8" fill="#a49a98"/>
<rect x="586.1" y="223.96" width="0.8" height="0.8" fill="#cac6c2"/>
<rect x="595.6" y="226.73" width="0.8" height="0.8" fill="#b4aeaa"/>
<rect x="572.13" y="235.29" width="0.8" height="0.8" fill="#b4aeaa"/>
<rect x="625.76" y="267.05" width="0.8" height="0.8" fill="#7e3a40"/>
<rect x="592.09" y="248.41" width="0.8" height="0.8" fill="#b8b0ae"/>
<rect x="530.51" y="236.42" width="0.8" height="0.8" fill="#d2ccca"/>
<rect x="604.42" y="233.64" width="0.8" height="0.8" fill="#cac6c2"/>
<rect x="595.67" y="249.41" width="0.8" height="0.8" fill="#aca6a2"/>
<rect x="620.4" y="265.01" width="0.8" height="0.8" fill="#9c9290"/>
<rect x="556.12" y="228.38" width="0.8" height="0.8" fill="#a89e9c"/>
<rect x="608.93" y="247.87" width="0.8" height="0.8" fill="#a49a98"/>
<rect x="633.14" y="262.96" width="0.8" height="0.8" fill="#c8c2c0"/>
<rect x="560.49" y="243.24" width="0.8" height="0.8" fill="#c4beba"/>
<rect x="620.91" y="242.81" width="0.8" height="0.8" fill="#b8b0ae"/>
<rect x="609.18" y="245.41" width="0.8" height="0.8" fill="#a49a98"/>
<rect x="560.85" y="231.27" width="0.8" height="0.8" fill="#9c9290"/>
<rect x="616.54" y="264.78" width="0.8" height="0.8" fill="#a89e9c"/>
<rect x="594.27" y="252.24" width="0.8" height="0.8" fill="#d2ccca"/>
<rect x="565.56" y="237.17" width="0.8" height="0.8" fill="#ccc6c4"/>
<rect x="600.8" y="228.7" width="0.8" height="0.8" fill="#c4beba"/>
<rect x="631.82" y="265.13" width="0.8" height="0.8" fill="#c0b8b6"/>
<rect x="633.5" y="260.06" width="0.8" height="0.8" fill="#c4beba"/>
<rect x="637.04" y="252.54" width="0.8" height="0.8" fill="#b8b0ae"/>
<rect x="608.03" y="233.81" width="0.8" height="0.8" fill="#c4beba"/>
<rect x="625.74" y="265.75" width="0.8" height="0.8" fill="#d2ccca"/>
<rect x="650.36" y="256.28" width="0.8" height="0.8" fill="#b4aeaa"/>
<rect x="592.44" y="239.53" width="0.8" height="0.8" fill="#b4aeac"/>
<rect x="578.4" y="249.48" width="0.8" height="0.8" fill="#9a4a50"/>
<rect x="554.66" y="240.92" width="0.8" height="0.8" fill="#6e2a30"/>
<rect x="621.78" y="255.45" width="0.8" height="0.8" fill="#b4aeac"/>
<rect x="634.72" y="246.99" width="0.8" height="0.8" fill="#aca6a2"/>
<rect x="580.93" y="252.9" width="0.8" height="0.8" fill="#8e5a5e"/>
<rect x="622.08" y="250.23" width="0.8" height="0.8" fill="#b8b0ae"/>
<rect x="613.87" y="254.17" width="0.8" height="0.8" fill="#a89e9c"/>
<rect x="540.34" y="236.44" width="0.8" height="0.8" fill="#c4beba"/>
<rect x="585.8" y="251.63" width="0.8" height="0.8" fill="#d2ccca"/>
<rect x="613.09" y="261.68" width="0.8" height="0.8" fill="#a49a98"/>
<rect x="602.89" y="234.08" width="0.8" height="0.8" fill="#b4aeaa"/>
<rect x="603.78" y="250.31" width="0.8" height="0.8" fill="#b8b0ae"/>
<rect x="552.16" y="232.61" width="0.8" height="0.8" fill="#a89e9c"/>
<rect x="570.09" y="244.34" width="0.8" height="0.8" fill="#9c9290"/>
<rect x="618.92" y="261.65" width="0.8" height="0.8" fill="#aca6a2"/>
<rect x="555.7" y="229.55" width="0.8" height="0.8" fill="#c0b8b6"/>
<rect x="605.55" y="261.3" width="0.8" height="0.8" fill="#c0b8b6"/>
<rect x="643.79" y="255.81" width="0.8" height="0.8" fill="#c4beba"/>
<rect x="560.92" y="227.25" width="0.8" height="0.8" fill="#aca6a2"/>
<rect x="589.2" y="235.13" width="0.8" height="0.8" fill="#7e3a40"/>
<rect x="580.61" y="229.01" width="0.8" height="0.8" fill="#c0b8b6"/>
<rect x="641.53" y="255.68" width="0.8" height="0.8" fill="#b4aeaa"/>
<rect x="628.08" y="252.45" width="0.8" height="0.8" fill="#8e5a5e"/>
<rect x="587.56" y="221.6" width="0.8" height="0.8" fill="#cac6c2"/>
<rect x="568.23" y="240.56" width="0.8" height="0.8" fill="#aca6a2"/>
<rect x="593.8" y="243.43" width="0.8" height="0.8" fill="#a89e9c"/>
<rect x="567.62" y="229.72" width="0.8" height="0.8" fill="#d2ccca"/>
<rect x="622.93" y="245.81" width="0.8" height="0.8" fill="#cac6c2"/>
<rect x="625.83" y="243.89" width="0.8" height="0.8" fill="#cac6c2"/>
<rect x="544.41" y="232.16" width="0.8" height="0.8" fill="#b4aeac"/>
<rect x="604.08" y="256.33" width="0.8" height="0.8" fill="#a49a98"/>
<rect x="580.09" y="237.32" width="0.8" height="0.8" fill="#d2ccca"/>
<rect x="610.85" y="235.61" width="0.8" height="0.8" fill="#b4aeac"/>
<rect x="612.35" y="236" width="0.8" height="0.8" fill="#c8c2c0"/>
<rect x="593.59" y="247.12" width="0.8" height="0.8" fill="#b4aeaa"/>
<rect x="590.5" y="246.06" width="0.8" height="0.8" fill="#d2ccca"/>
<rect x="566.8" y="237.05" width="0.8" height="0.8" fill="#aca6a2"/>
<rect x="638.67" y="251.78" width="0.8" height="0.8" fill="#b4aeac"/>
<rect x="551.37" y="240.42" width="0.8" height="0.8" fill="#9a4a50"/>
<rect x="560.46" y="228" width="0.8" height="0.8" fill="#c8c2c0"/>
<rect x="575.76" y="251.82" width="0.8" height="0.8" fill="#a89e9c"/>
<rect x="588.81" y="225.1" width="0.8" height="0.8" fill="#b4aeaa"/>
<rect x="539.79" y="231.52" width="0.8" height="0.8" fill="#aca6a2"/>
<rect x="605.91" y="256.81" width="0.8" height="0.8" fill="#a89e9c"/>
<rect x="550.09" y="230.06" width="0.8" height="0.8" fill="#c0b8b6"/>
<rect x="637.8" y="259.81" width="0.8" height="0.8" fill="#a49a98"/>
<rect x="573.12" y="238.7" width="0.8" height="0.8" fill="#d2ccca"/>
<rect x="571.65" y="238.72" width="0.8" height="0.8" fill="#8e5a5e"/>
<rect x="588.55" y="228.85" width="0.8" height="0.8" fill="#c8c2c0"/>
<rect x="602.54" y="247.82" width="0.8" height="0.8" fill="#b8b0ae"/>
<rect x="547.61" y="231.49" width="0.8" height="0.8" fill="#c4beba"/>
<rect x="563.56" y="227.46" width="0.8" height="0.8" fill="#b8b0ae"/>
<rect x="596.11" y="244.5" width="0.8" height="0.8" fill="#d2ccca"/>
<rect x="638.25" y="260.77" width="0.8" height="0.8" fill="#b4aeac"/>
<rect x="578.1" y="232.94" width="0.8" height="0.8" fill="#b4aeaa"/>
<rect x="578.75" y="237.06" width="0.8" height="0.8" fill="#b4aeac"/>
<rect x="561.02" y="243.6" width="0.8" height="0.8" fill="#a49a98"/>
<rect x="546.54" y="230.71" width="0.8" height="0.8" fill="#aca6a2"/>
<rect x="595.76" y="230.94" width="0.8" height="0.8" fill="#aca6a2"/>
<rect x="594.47" y="257.66" width="0.8" height="0.8" fill="#d2ccca"/>
<rect x="615.42" y="247.93" width="0.8" height="0.8" fill="#ccc6c4"/>
<rect x="624.6" y="247.92" width="0.8" height="0.8" fill="#a49a98"/>
<rect x="580.23" y="253.23" width="0.8" height="0.8" fill="#a49a98"/>
<rect x="559.91" y="231.63" width="0.8" height="0.8" fill="#a89e9c"/>
<rect x="575.26" y="232" width="0.8" height="0.8" fill="#968a8a"/>
<rect x="590.14" y="232.53" width="0.8" height="0.8" fill="#aca6a2"/>
<rect x="578.35" y="237.7" width="0.8" height="0.8" fill="#d2ccca"/>
<rect x="549.26" y="239.12" width="0.8" height="0.8" fill="#968a8a"/>
<rect x="573.43" y="230.42" width="0.8" height="0.8" fill="#a89e9c"/>
<rect x="604" y="239.22" width="0.8" height="0.8" fill="#b8b0ae"/>
<rect x="571.03" y="240.58" width="0.8" height="0.8" fill="#a49a98"/>
<rect x="608.94" y="236.48" width="0.8" height="0.8" fill="#c4beba"/>
<rect x="552.36" y="229.45" width="0.8" height="0.8" fill="#8e5a5e"/>
<rect x="611.23" y="250.43" width="0.8" height="0.8" fill="#c8c2c0"/>
<rect x="617.3" y="243.66" width="0.8" height="0.8" fill="#cac6c2"/>
<rect x="584.39" y="253.88" width="0.8" height="0.8" fill="#968a8a"/>
<rect x="543.51" y="236.99" width="0.8" height="0.8" fill="#a89e9c"/>
<rect x="603.47" y="242.77" width="0.8" height="0.8" fill="#aca6a2"/>
<rect x="569.8" y="227.5" width="0.8" height="0.8" fill="#aca6a2"/>
<rect x="613.2" y="243.82" width="0.8" height="0.8" fill="#9c9290"/>
<rect x="596.16" y="229.96" width="0.8" height="0.8" fill="#c0b8b6"/>
<rect x="562.04" y="234.54" width="0.8" height="0.8" fill="#cac6c2"/>
<rect x="590.87" y="226.52" width="0.8" height="0.8" fill="#cac6c2"/>
<rect x="601.82" y="260.01" width="0.8" height="0.8" fill="#b4aeac"/>
<rect x="618.26" y="243.14" width="0.8" height="0.8" fill="#b4aeaa"/>
<rect x="572.05" y="232.69" width="0.8" height="0.8" fill="#c0b8b6"/>
<rect x="637.21" y="259.27" width="0.8" height="0.8" fill="#c0b8b6"/>
<rect x="562.28" y="236.11" width="0.8" height="0.8" fill="#968a8a"/>
<rect x="622.77" y="248.68" width="0.8" height="0.8" fill="#b4aeac"/>
<rect x="537.4" y="233.48" width="0.8" height="0.8" fill="#c8c2c0"/>
<rect x="600.24" y="246.7" width="0.8" height="0.8" fill="#b4aeaa"/>
<rect x="639.72" y="252.56" width="0.8" height="0.8" fill="#b4aeac"/>
<rect x="551.48" y="244.27" width="0.8" height="0.8" fill="#9a4a50"/>
<rect x="606.56" y="245.24" width="0.8" height="0.8" fill="#a49a98"/>
<rect x="630.48" y="251.23" width="0.8" height="0.8" fill="#968a8a"/>
<rect x="603.77" y="256.86" width="0.8" height="0.8" fill="#a49a98"/>
<rect x="556.63" y="243.81" width="0.8" height="0.8" fill="#a89e9c"/>
<rect x="557.83" y="235.14" width="0.8" height="0.8" fill="#c0b8b6"/>
<rect x="593.63" y="233.68" width="0.8" height="0.8" fill="#c4beba"/>
<rect x="617.8" y="265.55" width="0.8" height="0.8" fill="#b8b0ae"/>
<rect x="600.73" y="229.08" width="0.8" height="0.8" fill="#c0b8b6"/>
<rect x="602.18" y="243.54" width="0.8" height="0.8" fill="#968a8a"/>
<rect x="539.66" y="233.08" width="0.8" height="0.8" fill="#c4beba"/>
<rect x="597.4" y="225.33" width="0.8" height="0.8" fill="#c8c2c0"/>
<rect x="569.9" y="237.57" width="0.8" height="0.8" fill="#aca6a2"/>
<rect x="597.28" y="230.85" width="0.8" height="0.8" fill="#b4aeaa"/>
<rect x="571.48" y="244.16" width="0.8" height="0.8" fill="#a49a98"/>
<rect x="634.21" y="260.14" width="0.8" height="0.8" fill="#ccc6c4"/>
<rect x="565.47" y="228.65" width="0.8" height="0.8" fill="#b4aeac"/>
<rect x="617.46" y="257.07" width="0.8" height="0.8" fill="#c8c2c0"/>
<rect x="550.66" y="231.25" width="0.8" height="0.8" fill="#a49a98"/>
<rect x="617.15" y="255.52" width="0.8" height="0.8" fill="#b4aeac"/>
<rect x="555.15" y="237.54" width="0.8" height="0.8" fill="#b4aeaa"/>
<rect x="605.88" y="251.95" width="0.8" height="0.8" fill="#c4beba"/>
<rect x="581.85" y="236.13" width="0.8" height="0.8" fill="#b4aeaa"/>
<rect x="626.9" y="246.91" width="0.8" height="0.8" fill="#c4beba"/>
<rect x="565.57" y="234.04" width="0.8" height="0.8" fill="#b4aeac"/>
<rect x="562.17" y="238.35" width="0.8" height="0.8" fill="#b4aeac"/>
<rect x="596.5" y="227.14" width="0.8" height="0.8" fill="#b4aeac"/>
<rect x="555.26" y="244.67" width="0.8" height="0.8" fill="#6e2a30"/>
<rect x="556.92" y="238.19" width="0.8" height="0.8" fill="#aca6a2"/>
<rect x="610.95" y="260.5" width="0.8" height="0.8" fill="#b4aeac"/>
<rect x="554.9" y="236.76" width="0.8" height="0.8" fill="#a49a98"/>
<rect x="614.62" y="252.28" width="0.8" height="0.8" fill="#c0b8b6"/>
<rect x="565.99" y="231.86" width="0.8" height="0.8" fill="#968a8a"/>
<rect x="627.8" y="244.67" width="0.8" height="0.8" fill="#aca6a2"/>
<rect x="566.53" y="239.39" width="0.8" height="0.8" fill="#d2ccca"/>
<rect x="607.85" y="245.03" width="0.8" height="0.8" fill="#a89e9c"/>
<rect x="603.18" y="234.99" width="0.8" height="0.8" fill="#d2ccca"/>
<rect x="603.02" y="247.39" width="0.8" height="0.8" fill="#968a8a"/>
<rect x="599" y="258.55" width="0.8" height="0.8" fill="#a89e9c"/>
<rect x="575.38" y="229.66" width="0.8" height="0.8" fill="#aca6a2"/>
<rect x="644.87" y="257.83" width="0.8" height="0.8" fill="#968a8a"/>
<rect x="577.35" y="250.79" width="0.8" height="0.8" fill="#ccc6c4"/>
<rect x="596.4" y="255.23" width="0.8" height="0.8" fill="#b4aeac"/>
<rect x="609.03" y="262.55" width="0.8" height="0.8" fill="#a49a98"/>
<rect x="601.28" y="241.36" width="0.8" height="0.8" fill="#8e5a5e"/>
<rect x="592.77" y="257.06" width="0.8" height="0.8" fill="#ccc6c4"/>
<rect x="572.79" y="231.69" width="0.8" height="0.8" fill="#cac6c2"/>
<rect x="631.83" y="252.01" width="0.8" height="0.8" fill="#b4aeaa"/>
<rect x="606.16" y="231.96" width="0.8" height="0.8" fill="#cac6c2"/>
<rect x="604.62" y="247.78" width="0.8" height="0.8" fill="#c4beba"/>
<rect x="633.87" y="257.76" width="0.8" height="0.8" fill="#8e5a5e"/>
<rect x="583.93" y="233.55" width="0.8" height="0.8" fill="#968a8a"/>
<rect x="641.13" y="258.35" width="0.8" height="0.8" fill="#c8c2c0"/>
<rect x="565.72" y="241.62" width="0.8" height="0.8" fill="#d2ccca"/>
<rect x="570.25" y="244.18" width="0.8" height="0.8" fill="#7e3a40"/>
<rect x="642.08" y="257" width="0.8" height="0.8" fill="#c4beba"/>
<rect x="603.09" y="244.44" width="0.8" height="0.8" fill="#b8b0ae"/>
<rect x="588.58" y="224.92" width="0.8" height="0.8" fill="#c4beba"/>
<rect x="566.2" y="237.11" width="0.8" height="0.8" fill="#968a8a"/>
<rect x="608.37" y="254.93" width="0.8" height="0.8" fill="#a49a98"/>
<rect x="595.61" y="239.27" width="0.8" height="0.8" fill="#aca6a2"/>
<rect x="604.69" y="237.08" width="0.8" height="0.8" fill="#c0b8b6"/>
<rect x="613.03" y="251.76" width="0.8" height="0.8" fill="#c8c2c0"/>
<rect x="595.37" y="237.17" width="0.8" height="0.8" fill="#aca6a2"/>
<rect x="599.55" y="231.7" width="0.8" height="0.8" fill="#a89e9c"/>
<rect x="609.8" y="257.62" width="0.8" height="0.8" fill="#c0b8b6"/>
<rect x="624.99" y="255.37" width="0.8" height="0.8" fill="#aca6a2"/>
<rect x="636.4" y="254.41" width="0.8" height="0.8" fill="#cac6c2"/>
<rect x="588.73" y="226.78" width="0.8" height="0.8" fill="#c8c2c0"/>
<rect x="611.39" y="262.72" width="0.8" height="0.8" fill="#968a8a"/>
<rect x="587.02" y="241.18" width="0.8" height="0.8" fill="#aca6a2"/>
<rect x="577.95" y="230.92" width="0.8" height="0.8" fill="#ccc6c4"/>
<rect x="606.73" y="254.88" width="0.8" height="0.8" fill="#d2ccca"/>
<rect x="584.19" y="243.36" width="0.8" height="0.8" fill="#a49a98"/>
<rect x="643.56" y="255.83" width="0.8" height="0.8" fill="#6e2a30"/>
<rect x="559.76" y="246.13" width="0.8" height="0.8" fill="#b8b0ae"/>
<rect x="581.99" y="223.86" width="0.8" height="0.8" fill="#cac6c2"/>
<rect x="639.32" y="258.37" width="0.8" height="0.8" fill="#9c9290"/>
<rect x="584.41" y="243.17" width="0.8" height="0.8" fill="#b4aeac"/>
<rect x="608.38" y="240.11" width="0.8" height="0.8" fill="#a89e9c"/>
<rect x="626.01" y="264.1" width="0.8" height="0.8" fill="#968a8a"/>
<rect x="597.31" y="239.25" width="0.8" height="0.8" fill="#a49a98"/>
<rect x="533.81" y="234.89" width="0.8" height="0.8" fill="#968a8a"/>
<rect x="580.69" y="222.45" width="0.8" height="0.8" fill="#b4aeaa"/>
<rect x="634.13" y="261.33" width="0.8" height="0.8" fill="#c0b8b6"/>
<rect x="600.12" y="244.64" width="0.8" height="0.8" fill="#968a8a"/>
<rect x="574.34" y="224.99" width="0.8" height="0.8" fill="#b4aeac"/>
<rect x="580.99" y="222.67" width="0.8" height="0.8" fill="#a49a98"/>
<rect x="571.46" y="238.37" width="0.8" height="0.8" fill="#cac6c2"/>
<rect x="566.77" y="228.66" width="0.8" height="0.8" fill="#c4beba"/>
<rect x="587.85" y="223.56" width="0.8" height="0.8" fill="#9c9290"/>
<rect x="590.43" y="250.13" width="0.8" height="0.8" fill="#9c9290"/>
<rect x="577.5" y="245.26" width="0.8" height="0.8" fill="#c0b8b6"/>
<rect x="591.51" y="239.36" width="0.8" height="0.8" fill="#cac6c2"/>
<rect x="585.35" y="228.35" width="0.8" height="0.8" fill="#aca6a2"/>
<rect x="625.7" y="261.51" width="0.8" height="0.8" fill="#aca6a2"/>
<rect x="633.53" y="262.37" width="0.8" height="0.8" fill="#a49a98"/>
<rect x="556.5" y="230.69" width="0.8" height="0.8" fill="#cac6c2"/>
<rect x="604.96" y="258.78" width="0.8" height="0.8" fill="#c0b8b6"/>
<rect x="589.65" y="239.28" width="0.8" height="0.8" fill="#ccc6c4"/>
<rect x="644.51" y="255.36" width="0.8" height="0.8" fill="#b4aeaa"/>
<rect x="590.7" y="232.31" width="0.8" height="0.8" fill="#a89e9c"/>
<rect x="635.98" y="254.82" width="0.8" height="0.8" fill="#c4beba"/>
<rect x="592.86" y="253.88" width="0.8" height="0.8" fill="#c4beba"/>
<rect x="593.25" y="238.36" width="0.8" height="0.8" fill="#cac6c2"/>
<rect x="619.75" y="244.8" width="0.8" height="0.8" fill="#c4beba"/>
<rect x="556.55" y="245.08" width="0.8" height="0.8" fill="#b8b0ae"/>
<rect x="579.42" y="227.56" width="0.8" height="0.8" fill="#c4beba"/>
<rect x="631.87" y="264.92" width="0.8" height="0.8" fill="#968a8a"/>
<rect x="581.05" y="239.13" width="0.8" height="0.8" fill="#b4aeaa"/>
<rect x="617.32" y="249.92" width="0.8" height="0.8" fill="#968a8a"/>
<rect x="595.15" y="242.95" width="0.8" height="0.8" fill="#b4aeaa"/>
<rect x="565.83" y="229.9" width="0.8" height="0.8" fill="#ccc6c4"/>
<rect x="604.15" y="242.98" width="0.8" height="0.8" fill="#9a4a50"/>
<rect x="613.58" y="259.91" width="0.8" height="0.8" fill="#b8b0ae"/>
<rect x="601.89" y="251.53" width="0.8" height="0.8" fill="#9c9290"/>
<rect x="639.26" y="260.16" width="0.8" height="0.8" fill="#b8b0ae"/>
<rect x="598.79" y="228.36" width="0.8" height="0.8" fill="#cac6c2"/>
<rect x="572.32" y="230.18" width="0.8" height="0.8" fill="#ccc6c4"/>
<rect x="604.41" y="239.52" width="0.8" height="0.8" fill="#b8b0ae"/>
<rect x="582.58" y="228.81" width="0.8" height="0.8" fill="#b4aeaa"/>
<rect x="560.66" y="240.39" width="0.8" height="0.8" fill="#7e3a40"/>
<rect x="562.34" y="234.12" width="0.8" height="0.8" fill="#9a4a50"/>
<rect x="585.05" y="252.13" width="0.8" height="0.8" fill="#968a8a"/>
<rect x="613.27" y="235.43" width="0.8" height="0.8" fill="#c0b8b6"/>
<rect x="639.72" y="258.75" width="0.8" height="0.8" fill="#aca6a2"/>
<rect x="570.18" y="237.78" width="0.8" height="0.8" fill="#a49a98"/>
<rect x="578.27" y="232.63" width="0.8" height="0.8" fill="#c8c2c0"/>
<rect x="601.81" y="254.22" width="0.8" height="0.8" fill="#a89e9c"/>
<rect x="587.86" y="221.76" width="0.8" height="0.8" fill="#c4beba"/>
<rect x="620.64" y="263.25" width="0.8" height="0.8" fill="#ccc6c4"/>
<rect x="630.3" y="246.37" width="0.8" height="0.8" fill="#c4beba"/>
<rect x="561.92" y="236.63" width="0.8" height="0.8" fill="#b4aeac"/>
<rect x="620.39" y="261.33" width="0.8" height="0.8" fill="#968a8a"/>
<rect x="611.83" y="242.59" width="0.8" height="0.8" fill="#c8c2c0"/>
<rect x="639.27" y="255.3" width="0.8" height="0.8" fill="#c8c2c0"/>
<rect x="542.74" y="232.48" width="0.8" height="0.8" fill="#c0b8b6"/>
<rect x="586.68" y="242.48" width="0.8" height="0.8" fill="#b8b0ae"/>
<rect x="559.45" y="231.09" width="0.8" height="0.8" fill="#c8c2c0"/>
<rect x="594.48" y="232.96" width="0.8" height="0.8" fill="#cac6c2"/>
<rect x="593.64" y="228.24" width="0.8" height="0.8" fill="#d2ccca"/>
<rect x="590.88" y="250.73" width="0.8" height="0.8" fill="#c8c2c0"/>
<rect x="580.87" y="224.25" width="0.8" height="0.8" fill="#cac6c2"/>
<rect x="563.78" y="242.85" width="0.8" height="0.8" fill="#9c9290"/>
<rect x="542.33" y="240.65" width="0.8" height="0.8" fill="#b4aeac"/>
<rect x="604.5" y="231.63" width="0.8" height="0.8" fill="#aca6a2"/>
<rect x="622.29" y="239.57" width="0.8" height="0.8" fill="#cac6c2"/>
<rect x="595.27" y="255.22" width="0.8" height="0.8" fill="#c0b8b6"/>
<rect x="547.71" y="235.88" width="0.8" height="0.8" fill="#c8c2c0"/>
<rect x="597.46" y="237.56" width="0.8" height="0.8" fill="#968a8a"/>
<rect x="559.25" y="243.41" width="0.8" height="0.8" fill="#a89e9c"/>
<rect x="640.92" y="251.06" width="0.8" height="0.8" fill="#a89e9c"/>
<rect x="633.67" y="255.63" width="0.8" height="0.8" fill="#b4aeac"/>
<rect x="585.65" y="253.86" width="0.8" height="0.8" fill="#b4aeac"/>
<rect x="577.36" y="243.67" width="0.8" height="0.8" fill="#ccc6c4"/>
<rect x="646.01" y="257.32" width="0.8" height="0.8" fill="#9a4a50"/>
<rect x="599.8" y="249.76" width="0.8" height="0.8" fill="#c8c2c0"/>
<rect x="617.28" y="237.29" width="0.8" height="0.8" fill="#aca6a2"/>
<rect x="617.04" y="263.43" width="0.8" height="0.8" fill="#7e3a40"/>
<rect x="636.06" y="255.11" width="0.8" height="0.8" fill="#9c9290"/>
<rect x="588.36" y="228.27" width="0.8" height="0.8" fill="#c0b8b6"/>
<rect x="578.83" y="239.04" width="0.8" height="0.8" fill="#aca6a2"/>
<rect x="598.77" y="235.8" width="0.8" height="0.8" fill="#d2ccca"/>
<rect x="609.52" y="244.11" width="0.8" height="0.8" fill="#b8b0ae"/>
<rect x="606.27" y="250.41" width="0.8" height="0.8" fill="#b4aeac"/>
<rect x="611.2" y="248.95" width="0.8" height="0.8" fill="#cac6c2"/>
<rect x="634.84" y="252.8" width="0.8" height="0.8" fill="#cac6c2"/>
<rect x="597.53" y="232.31" width="0.8" height="0.8" fill="#a49a98"/>
<rect x="593.31" y="237.09" width="0.8" height="0.8" fill="#c4beba"/>
<rect x="578.71" y="252.39" width="0.8" height="0.8" fill="#a49a98"/>
<rect x="580.45" y="244.4" width="0.8" height="0.8" fill="#9a4a50"/>
<rect x="620.15" y="257.58" width="0.8" height="0.8" fill="#d2ccca"/>
<rect x="574.85" y="232.14" width="0.8" height="0.8" fill="#968a8a"/>
<rect x="606.68" y="260.62" width="0.8" height="0.8" fill="#9c9290"/>
<rect x="606.31" y="256.77" width="0.8" height="0.8" fill="#b4aeac"/>
<rect x="627.8" y="246.62" width="0.8" height="0.8" fill="#aca6a2"/>
<rect x="635.34" y="256.89" width="0.8" height="0.8" fill="#b8b0ae"/>
<rect x="583.28" y="230.14" width="0.8" height="0.8" fill="#cac6c2"/>
<rect x="593.14" y="228.64" width="0.8" height="0.8" fill="#c0b8b6"/>
<rect x="596.28" y="229.71" width="0.8" height="0.8" fill="#d2ccca"/>
<rect x="632.56" y="251.61" width="0.8" height="0.8" fill="#cac6c2"/>
<rect x="600.46" y="236.97" width="0.8" height="0.8" fill="#d2ccca"/>
<rect x="621.01" y="250.02" width="0.8" height="0.8" fill="#ccc6c4"/>
<rect x="605.66" y="242.12" width="0.8" height="0.8" fill="#968a8a"/>
<rect x="581.46" y="226.97" width="0.8" height="0.8" fill="#c0b8b6"/>
<rect x="612.51" y="234.58" width="0.8" height="0.8" fill="#aca6a2"/>
<rect x="628.95" y="264.92" width="0.8" height="0.8" fill="#b8b0ae"/>
<rect x="607.94" y="239.08" width="0.8" height="0.8" fill="#9c9290"/>
<rect x="634.59" y="264.34" width="0.8" height="0.8" fill="#b8b0ae"/>
<rect x="629.52" y="244.64" width="0.8" height="0.8" fill="#a49a98"/>
<rect x="634.46" y="262.53" width="0.8" height="0.8" fill="#968a8a"/>
<rect x="627.39" y="262.48" width="0.8" height="0.8" fill="#b4aeac"/>
<rect x="607.21" y="242.68" width="0.8" height="0.8" fill="#d2ccca"/>
<rect x="626.08" y="259.62" width="0.8" height="0.8" fill="#9c9290"/>
<rect x="580.92" y="225.78" width="0.8" height="0.8" fill="#b4aeaa"/>
<rect x="569.47" y="227.05" width="0.8" height="0.8" fill="#b8b0ae"/>
<rect x="617.11" y="260.1" width="0.8" height="0.8" fill="#a49a98"/>
<rect x="581.58" y="229.55" width="0.8" height="0.8" fill="#aca6a2"/>
<rect x="556.73" y="245.05" width="0.8" height="0.8" fill="#b4aeac"/>
<rect x="626.36" y="244.73" width="0.8" height="0.8" fill="#ccc6c4"/>
<rect x="632.6" y="265.17" width="0.8" height="0.8" fill="#9c9290"/>
<rect x="566.15" y="237.4" width="0.8" height="0.8" fill="#b4aeaa"/>
<rect x="593.94" y="238.26" width="0.8" height="0.8" fill="#b4aeac"/>
<rect x="623.72" y="262.72" width="0.8" height="0.8" fill="#a49a98"/>
<rect x="560.21" y="235.99" width="0.8" height="0.8" fill="#b4aeac"/>
<rect x="633.24" y="252.45" width="0.8" height="0.8" fill="#b4aeaa"/>
<rect x="632.6" y="260.58" width="0.8" height="0.8" fill="#9c9290"/>
<rect x="579.23" y="239.76" width="0.8" height="0.8" fill="#aca6a2"/>
<rect x="611.49" y="243.27" width="0.8" height="0.8" fill="#a49a98"/>
<rect x="567.26" y="238.78" width="0.8" height="0.8" fill="#d2ccca"/>
<rect x="569.15" y="248.49" width="0.8" height="0.8" fill="#a49a98"/>
<rect x="618.75" y="248.3" width="0.8" height="0.8" fill="#d2ccca"/>
<rect x="645.53" y="256.48" width="0.8" height="0.8" fill="#c0b8b6"/>
<rect x="609.56" y="259.35" width="0.8" height="0.8" fill="#ccc6c4"/>
<rect x="587.84" y="240.47" width="0.8" height="0.8" fill="#6e2a30"/>
<rect x="565.21" y="248.27" width="0.8" height="0.8" fill="#c8c2c0"/>
<rect x="642.23" y="253.66" width="0.8" height="0.8" fill="#c4beba"/>
<rect x="538.12" y="236.03" width="0.8" height="0.8" fill="#a49a98"/>
<rect x="605.9" y="249.3" width="0.8" height="0.8" fill="#c0b8b6"/>
<rect x="631.91" y="263.53" width="0.8" height="0.8" fill="#c0b8b6"/>
<rect x="599.52" y="237.82" width="0.8" height="0.8" fill="#d2ccca"/>
<rect x="582.8" y="253.28" width="0.8" height="0.8" fill="#c0b8b6"/>
<rect x="599.83" y="231.87" width="0.8" height="0.8" fill="#b4aeaa"/>
<rect x="586.03" y="225.97" width="0.8" height="0.8" fill="#cac6c2"/>
<rect x="620.01" y="258.55" width="0.8" height="0.8" fill="#d2ccca"/>
<rect x="620.52" y="242.04" width="0.8" height="0.8" fill="#968a8a"/>
<rect x="603.78" y="255.79" width="0.8" height="0.8" fill="#b4aeac"/>
<rect x="587.58" y="251.2" width="0.8" height="0.8" fill="#c0b8b6"/>
<rect x="602.03" y="241.24" width="0.8" height="0.8" fill="#ccc6c4"/>
<rect x="630.3" y="247.59" width="0.8" height="0.8" fill="#b8b0ae"/>
<rect x="604.78" y="261.21" width="0.8" height="0.8" fill="#a89e9c"/>
<rect x="580.38" y="223.31" width="0.8" height="0.8" fill="#9c9290"/>
<rect x="545.19" y="240.95" width="0.8" height="0.8" fill="#a49a98"/>
<rect x="580.25" y="231.07" width="0.8" height="0.8" fill="#cac6c2"/>
<rect x="590.88" y="245.2" width="0.8" height="0.8" fill="#b4aeaa"/>
<rect x="628.32" y="248.66" width="0.8" height="0.8" fill="#c4beba"/>
<rect x="608" y="259.02" width="0.8" height="0.8" fill="#ccc6c4"/>
<rect x="577.5" y="244.26" width="0.8" height="0.8" fill="#d2ccca"/>
<rect x="594.48" y="236.12" width="0.8" height="0.8" fill="#9c9290"/>
<rect x="606.03" y="256.33" width="0.8" height="0.8" fill="#9a4a50"/>
<rect x="622.8" y="262.85" width="0.8" height="0.8" fill="#a89e9c"/>
<rect x="605.2" y="244.31" width="0.8" height="0.8" fill="#b4aeaa"/>
<rect x="575.18" y="228.94" width="0.8" height="0.8" fill="#aca6a2"/>
<rect x="649.31" y="257.47" width="0.8" height="0.8" fill="#cac6c2"/>
<rect x="643.03" y="252.21" width="0.8" height="0.8" fill="#b4aeaa"/>
<rect x="626.14" y="245.49" width="0.8" height="0.8" fill="#a89e9c"/>
<rect x="575.7" y="250.59" width="0.8" height="0.8" fill="#c0b8b6"/>
<rect x="619.96" y="265.43" width="0.8" height="0.8" fill="#b4aeac"/>
<rect x="606.85" y="257.67" width="0.8" height="0.8" fill="#a49a98"/>
<rect x="621.06" y="252.17" width="0.8" height="0.8" fill="#968a8a"/>
<rect x="598.28" y="257.47" width="0.8" height="0.8" fill="#b8b0ae"/>
<rect x="612.67" y="250.43" width="0.8" height="0.8" fill="#a89e9c"/>
<rect x="601.54" y="256.35" width="0.8" height="0.8" fill="#6e2a30"/>
<rect x="648.42" y="255.11" width="0.8" height="0.8" fill="#cac6c2"/>
<rect x="612.1" y="262.18" width="0.8" height="0.8" fill="#c0b8b6"/>
<rect x="642.81" y="257.46" width="0.8" height="0.8" fill="#c4beba"/>
<rect x="624.73" y="249.59" width="0.8" height="0.8" fill="#cac6c2"/>
<rect x="620.5" y="251.92" width="0.8" height="0.8" fill="#aca6a2"/>
<rect x="609.18" y="251.02" width="0.8" height="0.8" fill="#ccc6c4"/>
<rect x="567.42" y="249.13" width="0.8" height="0.8" fill="#968a8a"/>
<rect x="573.3" y="250.52" width="0.8" height="0.8" fill="#a89e9c"/>
<rect x="570.57" y="231.27" width="0.8" height="0.8" fill="#c4beba"/>
<rect x="615.14" y="251.93" width="0.8" height="0.8" fill="#b4aeac"/>
<rect x="604.86" y="247.14" width="0.8" height="0.8" fill="#aca6a2"/>
<rect x="605.05" y="231.3" width="0.8" height="0.8" fill="#b4aeaa"/>
<rect x="566.23" y="233.46" width="0.8" height="0.8" fill="#b8b0ae"/>
<rect x="592.88" y="249.98" width="0.8" height="0.8" fill="#cac6c2"/>
<rect x="588.41" y="228.29" width="0.8" height="0.8" fill="#b4aeac"/>
<rect x="626.15" y="255.03" width="0.8" height="0.8" fill="#968a8a"/>
<rect x="607.42" y="260.5" width="0.8" height="0.8" fill="#b4aeac"/>
<rect x="555.02" y="245.32" width="0.8" height="0.8" fill="#b8b0ae"/>
<rect x="587.89" y="230.65" width="0.8" height="0.8" fill="#aca6a2"/>
<rect x="623.07" y="246.44" width="0.8" height="0.8" fill="#aca6a2"/>
<rect x="627.72" y="261.91" width="0.8" height="0.8" fill="#9c9290"/>
<rect x="587.29" y="255.58" width="0.8" height="0.8" fill="#ccc6c4"/>
<rect x="580.92" y="224.12" width="0.8" height="0.8" fill="#c0b8b6"/>
<rect x="583.7" y="245.63" width="0.8" height="0.8" fill="#6e2a30"/>
<rect x="536.71" y="238.28" width="0.8" height="0.8" fill="#d2ccca"/>
<rect x="564.3" y="231.7" width="0.8" height="0.8" fill="#cac6c2"/>
<rect x="609.7" y="251.29" width="0.8" height="0.8" fill="#a49a98"/>
<rect x="607.87" y="232.57" width="0.8" height="0.8" fill="#cac6c2"/>
<rect x="627.24" y="246.82" width="0.8" height="0.8" fill="#c4beba"/>
<rect x="581.93" y="241.98" width="0.8" height="0.8" fill="#a89e9c"/>
<rect x="629.23" y="247.64" width="0.8" height="0.8" fill="#c4beba"/>
<rect x="596.67" y="230.61" width="0.8" height="0.8" fill="#cac6c2"/>
<rect x="596.19" y="229.55" width="0.8" height="0.8" fill="#d2ccca"/>
<rect x="636.49" y="255.51" width="0.8" height="0.8" fill="#ccc6c4"/>
<rect x="596.35" y="245.83" width="0.8" height="0.8" fill="#b4aeaa"/>
<rect x="634.77" y="261.9" width="0.8" height="0.8" fill="#d2ccca"/>
<rect x="610.99" y="261.97" width="0.8" height="0.8" fill="#9c9290"/>
<rect x="565.99" y="230.68" width="0.8" height="0.8" fill="#a49a98"/>
<rect x="600.92" y="235.7" width="0.8" height="0.8" fill="#b4aeaa"/>
<rect x="585.16" y="221.64" width="0.8" height="0.8" fill="#a49a98"/>
<rect x="576.95" y="240.29" width="0.8" height="0.8" fill="#aca6a2"/>
<rect x="557.24" y="237.29" width="0.8" height="0.8" fill="#b4aeac"/>
<rect x="573.73" y="237.78" width="0.8" height="0.8" fill="#a49a98"/>
<rect x="581.57" y="245.94" width="0.8" height="0.8" fill="#cac6c2"/>
<rect x="641.26" y="261.05" width="0.8" height="0.8" fill="#c0b8b6"/>
<rect x="587.04" y="254.52" width="0.8" height="0.8" fill="#b8b0ae"/>
<rect x="573.66" y="234.27" width="0.8" height="0.8" fill="#968a8a"/>
<rect x="604.2" y="238.07" width="0.8" height="0.8" fill="#a89e9c"/>
<rect x="636.79" y="250.5" width="0.8" height="0.8" fill="#d2ccca"/>
<rect x="647.7" y="256.97" width="0.8" height="0.8" fill="#aca6a2"/>
<rect x="557.5" y="233.53" width="0.8" height="0.8" fill="#9c9290"/>
<rect x="557.43" y="241.72" width="0.8" height="0.8" fill="#a89e9c"/>
<rect x="637.61" y="250.07" width="0.8" height="0.8" fill="#cac6c2"/>
<rect x="596.52" y="230.9" width="0.8" height="0.8" fill="#b8b0ae"/>
<rect x="601.78" y="244.2" width="0.8" height="0.8" fill="#c0b8b6"/>
<rect x="594.33" y="252.75" width="0.8" height="0.8" fill="#b4aeac"/>
<rect x="615.82" y="248.87" width="0.8" height="0.8" fill="#aca6a2"/>
<rect x="611.11" y="233.99" width="0.8" height="0.8" fill="#c0b8b6"/>
<rect x="564.08" y="227.71" width="0.8" height="0.8" fill="#b8b0ae"/>
<rect x="618.35" y="260.25" width="0.8" height="0.8" fill="#968a8a"/>
<rect x="591.98" y="234.06" width="0.8" height="0.8" fill="#b4aeac"/>
<rect x="597.22" y="237.37" width="0.8" height="0.8" fill="#d2ccca"/>
<rect x="556.49" y="239.04" width="0.8" height="0.8" fill="#d2ccca"/>
<rect x="536.23" y="234.32" width="0.8" height="0.8" fill="#b4aeaa"/>
<rect x="637.76" y="253.19" width="0.8" height="0.8" fill="#9c9290"/>
<rect x="594.04" y="253.32" width="0.8" height="0.8" fill="#c0b8b6"/>
<rect x="638.01" y="255.87" width="0.8" height="0.8" fill="#aca6a2"/>
<rect x="562.95" y="246.96" width="0.8" height="0.8" fill="#b4aeac"/>
<rect x="645.08" y="252.42" width="0.8" height="0.8" fill="#a89e9c"/>
<rect x="591.35" y="251.32" width="0.8" height="0.8" fill="#a89e9c"/>
<rect x="582.09" y="231.85" width="0.8" height="0.8" fill="#9a4a50"/>
<rect x="554.11" y="239.77" width="0.8" height="0.8" fill="#c0b8b6"/>
<rect x="592.19" y="238.34" width="0.8" height="0.8" fill="#b4aeaa"/>
<rect x="579.04" y="224.17" width="0.8" height="0.8" fill="#b8b0ae"/>
<rect x="558.16" y="238.93" width="0.8" height="0.8" fill="#c0b8b6"/>
<rect x="550.67" y="243.69" width="0.8" height="0.8" fill="#c8c2c0"/>
<rect x="560.01" y="247.2" width="0.8" height="0.8" fill="#6e2a30"/>
<rect x="604.21" y="253.04" width="0.8" height="0.8" fill="#ccc6c4"/>
<rect x="602.19" y="242.96" width="0.8" height="0.8" fill="#d2ccca"/>
<rect x="632.97" y="264.09" width="0.8" height="0.8" fill="#6e2a30"/>
<rect x="623.93" y="240.65" width="0.8" height="0.8" fill="#cac6c2"/>
<rect x="562.99" y="236.91" width="0.8" height="0.8" fill="#aca6a2"/>
<rect x="640.59" y="252.03" width="0.8" height="0.8" fill="#c0b8b6"/>
<rect x="627.69" y="255.2" width="0.8" height="0.8" fill="#b4aeaa"/>
<rect x="588.07" y="228.49" width="0.8" height="0.8" fill="#9c9290"/>
<rect x="621.76" y="256.41" width="0.8" height="0.8" fill="#c8c2c0"/>
<rect x="629.98" y="244.97" width="0.8" height="0.8" fill="#c0b8b6"/>
<rect x="631.89" y="264.84" width="0.8" height="0.8" fill="#c4beba"/>
<rect x="540.58" y="236.4" width="0.8" height="0.8" fill="#ccc6c4"/>
<rect x="542.71" y="236.39" width="0.8" height="0.8" fill="#7e3a40"/>
<rect x="569.72" y="235.84" width="0.8" height="0.8" fill="#b4aeac"/>
<rect x="590.43" y="239.64" width="0.8" height="0.8" fill="#aca6a2"/>
<rect x="615.32" y="263.43" width="0.8" height="0.8" fill="#9a4a50"/>
<rect x="569.7" y="230.3" width="0.8" height="0.8" fill="#a89e9c"/>
<rect x="639.33" y="261.94" width="0.8" height="0.8" fill="#cac6c2"/>
<rect x="578.53" y="242.32" width="0.8" height="0.8" fill="#ccc6c4"/>
<rect x="626.57" y="242.41" width="0.8" height="0.8" fill="#cac6c2"/>
<rect x="607.19" y="261.84" width="0.8" height="0.8" fill="#b8b0ae"/>
<rect x="634.22" y="252.11" width="0.8" height="0.8" fill="#b4aeaa"/>
<rect x="596.31" y="250.17" width="0.8" height="0.8" fill="#b4aeaa"/>
<rect x="592.59" y="252.38" width="0.8" height="0.8" fill="#b8b0ae"/>
<rect x="565.06" y="236.57" width="0.8" height="0.8" fill="#d2ccca"/>
<rect x="568.9" y="241.82" width="0.8" height="0.8" fill="#9c9290"/>
<rect x="596.65" y="244.04" width="0.8" height="0.8" fill="#c0b8b6"/>
<rect x="646.28" y="256.02" width="0.8" height="0.8" fill="#c4beba"/>
<rect x="639.18" y="255.67" width="0.8" height="0.8" fill="#7e3a40"/>
<rect x="613.06" y="246.33" width="0.8" height="0.8" fill="#7e3a40"/>
<rect x="618.76" y="243.37" width="0.8" height="0.8" fill="#9c9290"/>
<rect x="581.97" y="243.29" width="0.8" height="0.8" fill="#9c9290"/>
<rect x="600.81" y="236.5" width="0.8" height="0.8" fill="#968a8a"/>
<rect x="590.94" y="242.38" width="0.8" height="0.8" fill="#8e5a5e"/>
<rect x="599.52" y="234.16" width="0.8" height="0.8" fill="#ccc6c4"/>
<rect x="593.86" y="225.42" width="0.8" height="0.8" fill="#aca6a2"/>
<rect x="626.65" y="250.91" width="0.8" height="0.8" fill="#b4aeaa"/>
<rect x="559.39" y="238.29" width="0.8" height="0.8" fill="#b8b0ae"/>
<rect x="609.73" y="244.93" width="0.8" height="0.8" fill="#a49a98"/>
<rect x="589.46" y="253.03" width="0.8" height="0.8" fill="#a89e9c"/>
<rect x="618.37" y="242.81" width="0.8" height="0.8" fill="#a49a98"/>
<rect x="612.35" y="236.98" width="0.8" height="0.8" fill="#a49a98"/>
<rect x="601.57" y="258.25" width="0.8" height="0.8" fill="#c0b8b6"/>
<rect x="598.84" y="248.11" width="0.8" height="0.8" fill="#7e3a40"/>
<rect x="623.95" y="256.52" width="0.8" height="0.8" fill="#d2ccca"/>
<rect x="645.95" y="253.16" width="0.8" height="0.8" fill="#b4aeaa"/>
<rect x="605.36" y="241.27" width="0.8" height="0.8" fill="#b4aeac"/>
<rect x="552.22" y="240.66" width="0.8" height="0.8" fill="#968a8a"/>
<rect x="600.34" y="258.36" width="0.8" height="0.8" fill="#a49a98"/>
<rect x="574.39" y="236.85" width="0.8" height="0.8" fill="#9c9290"/>
<rect x="599.75" y="245.98" width="0.8" height="0.8" fill="#d2ccca"/>
<rect x="568.38" y="246.58" width="0.8" height="0.8" fill="#9c9290"/>
<rect x="614.04" y="264.16" width="0.8" height="0.8" fill="#a49a98"/>
<rect x="577.57" y="248.64" width="0.8" height="0.8" fill="#b8b0ae"/>
<rect x="549.56" y="238.56" width="0.8" height="0.8" fill="#a89e9c"/>
<rect x="591.77" y="238.53" width="0.8" height="0.8" fill="#a89e9c"/>
<rect x="610.37" y="235.67" width="0.8" height="0.8" fill="#cac6c2"/>
<rect x="621.17" y="241.5" width="0.8" height="0.8" fill="#aca6a2"/>
<rect x="622.66" y="241.26" width="0.8" height="0.8" fill="#b4aeac"/>
<rect x="632.78" y="263.35" width="0.8" height="0.8" fill="#a49a98"/>
<rect x="637.25" y="252.44" width="0.8" height="0.8" fill="#b4aeaa"/>
<rect x="624.01" y="253.04" width="0.8" height="0.8" fill="#b4aeaa"/>
<rect x="594.42" y="256.24" width="0.8" height="0.8" fill="#ccc6c4"/>
<rect x="594.28" y="229.95" width="0.8" height="0.8" fill="#a89e9c"/>
<rect x="638.47" y="261.43" width="0.8" height="0.8" fill="#b8b0ae"/>
<rect x="583.2" y="250.5" width="0.8" height="0.8" fill="#8e5a5e"/>
<rect x="595.96" y="232.92" width="0.8" height="0.8" fill="#a89e9c"/>
<rect x="551.68" y="240.06" width="0.8" height="0.8" fill="#cac6c2"/>
<rect x="593.16" y="234.17" width="0.8" height="0.8" fill="#968a8a"/>
<rect x="626.11" y="257.38" width="0.8" height="0.8" fill="#b4aeaa"/>
<rect x="621.21" y="250.12" width="0.8" height="0.8" fill="#c4beba"/>
<rect x="610.66" y="259.39" width="0.8" height="0.8" fill="#c0b8b6"/>
<rect x="603.68" y="255.63" width="0.8" height="0.8" fill="#8e5a5e"/>
<rect x="566.12" y="243.75" width="0.8" height="0.8" fill="#d2ccca"/>
<rect x="620.64" y="252.3" width="0.8" height="0.8" fill="#d2ccca"/>
<rect x="634.15" y="257.75" width="0.8" height="0.8" fill="#b4aeaa"/>
<rect x="588.85" y="249.79" width="0.8" height="0.8" fill="#a89e9c"/>
<rect x="585.34" y="235.8" width="0.8" height="0.8" fill="#968a8a"/>
<rect x="601.92" y="245.47" width="0.8" height="0.8" fill="#a89e9c"/>
<rect x="617.37" y="265.4" width="0.8" height="0.8" fill="#8e5a5e"/>
<rect x="627.8" y="254.96" width="0.8" height="0.8" fill="#a49a98"/>
<rect x="626.08" y="246.88" width="0.8" height="0.8" fill="#b4aeaa"/>
<rect x="628.42" y="266.84" width="0.8" height="0.8" fill="#d2ccca"/>
<rect x="636.27" y="261.8" width="0.8" height="0.8" fill="#b8b0ae"/>
<rect x="548.9" y="240.37" width="0.8" height="0.8" fill="#c0b8b6"/>
<rect x="575.18" y="238.88" width="0.8" height="0.8" fill="#b4aeaa"/>
<rect x="600.7" y="241.44" width="0.8" height="0.8" fill="#c0b8b6"/>
<rect x="590.47" y="225.78" width="0.8" height="0.8" fill="#c4beba"/>
<rect x="591.55" y="242.27" width="0.8" height="0.8" fill="#c0b8b6"/>
<rect x="581.41" y="233.92" width="0.8" height="0.8" fill="#ccc6c4"/>
<rect x="641.95" y="258.99" width="0.8" height="0.8" fill="#aca6a2"/>
<rect x="595.63" y="230.51" width="0.8" height="0.8" fill="#cac6c2"/>
<rect x="582.8" y="251.89" width="0.8" height="0.8" fill="#a89e9c"/>
<rect x="572.77" y="249.41" width="0.8" height="0.8" fill="#b8b0ae"/>
<rect x="571.45" y="244.49" width="0.8" height="0.8" fill="#ccc6c4"/>
<rect x="643.8" y="259.23" width="0.8" height="0.8" fill="#cac6c2"/>
<rect x="647.05" y="255.29" width="0.8" height="0.8" fill="#c4beba"/>
<rect x="552.83" y="233.7" width="0.8" height="0.8" fill="#d2ccca"/>
<rect x="622.36" y="240.6" width="0.8" height="0.8" fill="#c4beba"/>
<rect x="593.96" y="250.72" width="0.8" height="0.8" fill="#b8b0ae"/>
<rect x="581.76" y="247.31" width="0.8" height="0.8" fill="#c0b8b6"/>
<rect x="571.54" y="238.36" width="0.8" height="0.8" fill="#968a8a"/>
<rect x="584.85" y="221" width="0.8" height="0.8" fill="#a49a98"/>
<rect x="562.91" y="247.55" width="0.8" height="0.8" fill="#968a8a"/>
<rect x="563.24" y="237.8" width="0.8" height="0.8" fill="#9c9290"/>
<rect x="570.37" y="224.53" width="0.8" height="0.8" fill="#a89e9c"/>
<rect x="551.21" y="238.14" width="0.8" height="0.8" fill="#b8b0ae"/>
<rect x="564.89" y="229.76" width="0.8" height="0.8" fill="#c0b8b6"/>
<rect x="647.73" y="255.57" width="0.8" height="0.8" fill="#cac6c2"/>
<rect x="565.9" y="243.96" width="0.8" height="0.8" fill="#c0b8b6"/>
<rect x="574.27" y="234.71" width="0.8" height="0.8" fill="#a89e9c"/>
<rect x="623.08" y="265.33" width="0.8" height="0.8" fill="#c0b8b6"/>
<rect x="577.48" y="227.22" width="0.8" height="0.8" fill="#c8c2c0"/>
<rect x="585.43" y="252.59" width="0.8" height="0.8" fill="#c0b8b6"/>
<rect x="628.63" y="256.17" width="0.8" height="0.8" fill="#cac6c2"/>
<rect x="624.4" y="260.96" width="0.8" height="0.8" fill="#968a8a"/>
<rect x="632.65" y="247.75" width="0.8" height="0.8" fill="#cac6c2"/>
<rect x="598.1" y="255.29" width="0.8" height="0.8" fill="#c0b8b6"/>
<rect x="633.82" y="251.51" width="0.8" height="0.8" fill="#b8b0ae"/>
<rect x="625.65" y="265.62" width="0.8" height="0.8" fill="#9c9290"/>
<rect x="608.76" y="239.12" width="0.8" height="0.8" fill="#c8c2c0"/>
<rect x="595.36" y="255.21" width="0.8" height="0.8" fill="#b4aeaa"/>
<rect x="582.93" y="227.38" width="0.8" height="0.8" fill="#7e3a40"/>
<rect x="596.64" y="257.63" width="0.8" height="0.8" fill="#a49a98"/>
<rect x="582.29" y="230.09" width="0.8" height="0.8" fill="#a49a98"/>
<rect x="538.33" y="236.53" width="0.8" height="0.8" fill="#b4aeac"/>
<rect x="627.18" y="242.76" width="0.8" height="0.8" fill="#c4beba"/>
<rect x="620.29" y="248.48" width="0.8" height="0.8" fill="#b8b0ae"/>
<rect x="605.51" y="248.07" width="0.8" height="0.8" fill="#7e3a40"/>
<rect x="564.31" y="235.23" width="0.8" height="0.8" fill="#c8c2c0"/>
<rect x="590.56" y="247.13" width="0.8" height="0.8" fill="#9a4a50"/>
<rect x="572.62" y="226.54" width="0.8" height="0.8" fill="#b4aeac"/>
<rect x="537.74" y="239.85" width="0.8" height="0.8" fill="#ccc6c4"/>
<rect x="611.6" y="234.82" width="0.8" height="0.8" fill="#c4beba"/>
<rect x="617.62" y="256.03" width="0.8" height="0.8" fill="#968a8a"/>
<rect x="599.62" y="252.1" width="0.8" height="0.8" fill="#7e3a40"/>
<rect x="636.41" y="259.4" width="0.8" height="0.8" fill="#b4aeac"/>
<rect x="636.85" y="250.19" width="0.8" height="0.8" fill="#b4aeac"/>
<rect x="544.33" y="241.43" width="0.8" height="0.8" fill="#6e2a30"/>
<rect x="615.24" y="262.06" width="0.8" height="0.8" fill="#6e2a30"/>
<rect x="599.96" y="257.63" width="0.8" height="0.8" fill="#6e2a30"/>
<rect x="633.75" y="261.33" width="0.8" height="0.8" fill="#9c9290"/>
<rect x="618.71" y="250.37" width="0.8" height="0.8" fill="#b8b0ae"/>
<rect x="570.04" y="247.67" width="0.8" height="0.8" fill="#c4beba"/>
<rect x="611.71" y="255.37" width="0.8" height="0.8" fill="#c8c2c0"/>
<rect x="623.07" y="242.44" width="0.8" height="0.8" fill="#9c9290"/>
<rect x="590.52" y="241.76" width="0.8" height="0.8" fill="#968a8a"/>
<rect x="567.83" y="248.58" width="0.8" height="0.8" fill="#c8c2c0"/>
<rect x="613.76" y="260.4" width="0.8" height="0.8" fill="#d2ccca"/>
<rect x="632.34" y="263.29" width="0.8" height="0.8" fill="#b4aeac"/>
<rect x="605.47" y="242.95" width="0.8" height="0.8" fill="#aca6a2"/>
<rect x="548.96" y="235.65" width="0.8" height="0.8" fill="#b4aeaa"/>
<rect x="614.08" y="244.99" width="0.8" height="0.8" fill="#a89e9c"/>
<rect x="639.61" y="250.11" width="0.8" height="0.8" fill="#c4beba"/>
<rect x="591.49" y="228.72" width="0.8" height="0.8" fill="#b8b0ae"/>
<rect x="534.8" y="233.91" width="0.8" height="0.8" fill="#c8c2c0"/>
<rect x="642.66" y="260.14" width="0.8" height="0.8" fill="#b8b0ae"/>
<rect x="591.28" y="241.14" width="0.8" height="0.8" fill="#a49a98"/>
<rect x="626.03" y="248.45" width="0.8" height="0.8" fill="#c8c2c0"/>
<rect x="610.84" y="249.97" width="0.8" height="0.8" fill="#7e3a40"/>
<rect x="643.64" y="259.03" width="0.8" height="0.8" fill="#ccc6c4"/>
<rect x="552.9" y="240.41" width="0.8" height="0.8" fill="#b4aeac"/>
<rect x="589.72" y="220.61" width="0.8" height="0.8" fill="#968a8a"/>
<rect x="620.89" y="247.83" width="0.8" height="0.8" fill="#b4aeaa"/>
<rect x="584.14" y="241.5" width="0.8" height="0.8" fill="#b8b0ae"/>
<rect x="636.24" y="249.77" width="0.8" height="0.8" fill="#ccc6c4"/>
<rect x="577.12" y="250.65" width="0.8" height="0.8" fill="#8e5a5e"/>
<rect x="621.54" y="246.04" width="0.8" height="0.8" fill="#a49a98"/>
<rect x="580.67" y="249.6" width="0.8" height="0.8" fill="#c4beba"/>
<rect x="593.24" y="242.89" width="0.8" height="0.8" fill="#968a8a"/>
<rect x="640.39" y="253.84" width="0.8" height="0.8" fill="#a49a98"/>
<rect x="641.89" y="261.06" width="0.8" height="0.8" fill="#9c9290"/>
<rect x="604.6" y="234.17" width="0.8" height="0.8" fill="#9c9290"/>
<rect x="591.56" y="241.31" width="0.8" height="0.8" fill="#b4aeac"/>
<rect x="567.42" y="243.47" width="0.8" height="0.8" fill="#a89e9c"/>
<rect x="595.05" y="253.28" width="0.8" height="0.8" fill="#c0b8b6"/>
<rect x="576.02" y="223.25" width="0.8" height="0.8" fill="#c0b8b6"/>
<rect x="630.18" y="258.49" width="0.8" height="0.8" fill="#d2ccca"/>
<rect x="570.77" y="240.96" width="0.8" height="0.8" fill="#d2ccca"/>
<rect x="568.08" y="224.83" width="0.8" height="0.8" fill="#b4aeac"/>
<rect x="582.13" y="248.64" width="0.8" height="0.8" fill="#9c9290"/>
<rect x="591.89" y="223.56" width="0.8" height="0.8" fill="#cac6c2"/>
<rect x="557.13" y="228.19" width="0.8" height="0.8" fill="#968a8a"/>
<rect x="574.89" y="233.1" width="0.8" height="0.8" fill="#c8c2c0"/>
<rect x="566.51" y="225.11" width="0.8" height="0.8" fill="#c4beba"/>
<rect x="544.1" y="240.56" width="0.8" height="0.8" fill="#ccc6c4"/>
<rect x="630.49" y="265.69" width="0.8" height="0.8" fill="#c8c2c0"/>
<rect x="596.95" y="246.94" width="0.8" height="0.8" fill="#6e2a30"/>
<rect x="647.32" y="255.19" width="0.8" height="0.8" fill="#aca6a2"/>
<rect x="553.71" y="239.25" width="0.8" height="0.8" fill="#a89e9c"/>
<rect x="564.56" y="243.72" width="0.8" height="0.8" fill="#b4aeac"/>
<rect x="583.87" y="233.47" width="0.8" height="0.8" fill="#cac6c2"/>
<rect x="612.28" y="255.13" width="0.8" height="0.8" fill="#d2ccca"/>
<rect x="610.44" y="255.45" width="0.8" height="0.8" fill="#b4aeaa"/>
<rect x="608.2" y="261.76" width="0.8" height="0.8" fill="#b4aeac"/>
<rect x="564.43" y="242.35" width="0.8" height="0.8" fill="#9c9290"/>
<rect x="632.23" y="258.82" width="0.8" height="0.8" fill="#cac6c2"/>
<rect x="592.83" y="254.33" width="0.8" height="0.8" fill="#b8b0ae"/>
<rect x="624.86" y="264.58" width="0.8" height="0.8" fill="#b4aeac"/>
<rect x="559.08" y="241.99" width="0.8" height="0.8" fill="#c4beba"/>
<rect x="623.46" y="255.1" width="0.8" height="0.8" fill="#cac6c2"/>
<rect x="623.83" y="255.84" width="0.8" height="0.8" fill="#c0b8b6"/>
<rect x="636.55" y="254.99" width="0.8" height="0.8" fill="#cac6c2"/>
<rect x="586.62" y="224.43" width="0.8" height="0.8" fill="#c8c2c0"/>
<rect x="550.21" y="229.77" width="0.8" height="0.8" fill="#968a8a"/>
<rect x="585.42" y="242.18" width="0.8" height="0.8" fill="#c4beba"/>
<rect x="574.06" y="234.06" width="0.8" height="0.8" fill="#968a8a"/>
<rect x="621.98" y="248.4" width="0.8" height="0.8" fill="#cac6c2"/>
<rect x="599.33" y="254.11" width="0.8" height="0.8" fill="#a49a98"/>
<rect x="547.68" y="241.48" width="0.8" height="0.8" fill="#9c9290"/>
<rect x="640.34" y="261.67" width="0.8" height="0.8" fill="#a89e9c"/>
<rect x="616.55" y="257.23" width="0.8" height="0.8" fill="#968a8a"/>
<rect x="592.79" y="227.34" width="0.8" height="0.8" fill="#b4aeaa"/>
<rect x="630.03" y="260.21" width="0.8" height="0.8" fill="#c8c2c0"/>
<rect x="596.61" y="228.25" width="0.8" height="0.8" fill="#d2ccca"/>
<rect x="617.19" y="248.05" width="0.8" height="0.8" fill="#aca6a2"/>
<rect x="590.43" y="233.13" width="0.8" height="0.8" fill="#a49a98"/>
<rect x="566.18" y="243.97" width="0.8" height="0.8" fill="#968a8a"/>
<rect x="622.86" y="264.81" width="0.8" height="0.8" fill="#b8b0ae"/>
<rect x="614.92" y="257.4" width="0.8" height="0.8" fill="#c8c2c0"/>
<rect x="599.55" y="238.8" width="0.8" height="0.8" fill="#d2ccca"/>
<rect x="584.65" y="232.45" width="0.8" height="0.8" fill="#cac6c2"/>
<rect x="602.29" y="230.13" width="0.8" height="0.8" fill="#ccc6c4"/>
<rect x="577.52" y="236.13" width="0.8" height="0.8" fill="#a49a98"/>
<rect x="578.14" y="251.73" width="0.8" height="0.8" fill="#b4aeac"/>
<rect x="589.94" y="249.37" width="0.8" height="0.8" fill="#c0b8b6"/>
<rect x="578.52" y="241.4" width="0.8" height="0.8" fill="#8e5a5e"/>
<rect x="580.24" y="243.55" width="0.8" height="0.8" fill="#b4aeac"/>
<rect x="643.64" y="258.88" width="0.8" height="0.8" fill="#c0b8b6"/>
<rect x="545.15" y="232.03" width="0.8" height="0.8" fill="#a49a98"/>
<rect x="589.74" y="249.15" width="0.8" height="0.8" fill="#968a8a"/>
<rect x="589.72" y="237.37" width="0.8" height="0.8" fill="#8e5a5e"/>
<rect x="575.21" y="234.14" width="0.8" height="0.8" fill="#b4aeaa"/>
<rect x="580.86" y="250.6" width="0.8" height="0.8" fill="#a89e9c"/>
<rect x="626.97" y="262.42" width="0.8" height="0.8" fill="#c0b8b6"/>
<rect x="612.08" y="262.91" width="0.8" height="0.8" fill="#8e5a5e"/>
<rect x="543.16" y="236.5" width="0.8" height="0.8" fill="#aca6a2"/>
<rect x="588.45" y="222.02" width="0.8" height="0.8" fill="#b4aeaa"/>
<rect x="567.41" y="241.53" width="0.8" height="0.8" fill="#b8b0ae"/>
<rect x="586.93" y="237.87" width="0.8" height="0.8" fill="#cac6c2"/>
<rect x="618.44" y="244.83" width="0.8" height="0.8" fill="#aca6a2"/>
<rect x="555.24" y="241.79" width="0.8" height="0.8" fill="#a89e9c"/>
<rect x="625.92" y="241.64" width="0.8" height="0.8" fill="#a49a98"/>
<rect x="555.24" y="229.39" width="0.8" height="0.8" fill="#d2ccca"/>
<rect x="600.17" y="227.86" width="0.8" height="0.8" fill="#c4beba"/>
<rect x="545.72" y="240.54" width="0.8" height="0.8" fill="#b4aeac"/>
<rect x="624.73" y="262.7" width="0.8" height="0.8" fill="#b4aeaa"/>
<rect x="605.33" y="255.34" width="0.8" height="0.8" fill="#9c9290"/>
<rect x="625.2" y="263.12" width="0.8" height="0.8" fill="#a89e9c"/>
<rect x="575.76" y="227.75" width="0.8" height="0.8" fill="#aca6a2"/>
<rect x="628.19" y="244.47" width="0.8" height="0.8" fill="#b4aeaa"/>
<rect x="599.44" y="229.62" width="0.8" height="0.8" fill="#b8b0ae"/>
<rect x="611.24" y="260.93" width="0.8" height="0.8" fill="#b4aeaa"/>
<rect x="615.46" y="252.43" width="0.8" height="0.8" fill="#ccc6c4"/>
<rect x="607.9" y="261.52" width="0.8" height="0.8" fill="#a89e9c"/>
<rect x="583.83" y="230.46" width="0.8" height="0.8" fill="#aca6a2"/>
<rect x="567.29" y="225.72" width="0.8" height="0.8" fill="#968a8a"/>
<rect x="620.61" y="252.12" width="0.8" height="0.8" fill="#c4beba"/>
<rect x="565.37" y="243.95" width="0.8" height="0.8" fill="#b8b0ae"/>
<rect x="600.81" y="245.31" width="0.8" height="0.8" fill="#cac6c2"/>
<rect x="613.59" y="259.01" width="0.8" height="0.8" fill="#7e3a40"/>
<rect x="582.77" y="221.77" width="0.8" height="0.8" fill="#ccc6c4"/>
<rect x="582.6" y="246.29" width="0.8" height="0.8" fill="#b4aeaa"/>
<rect x="627.03" y="267.94" width="0.8" height="0.8" fill="#b4aeac"/>
<rect x="595.78" y="249.44" width="0.8" height="0.8" fill="#c8c2c0"/>
<rect x="580.44" y="245.63" width="0.8" height="0.8" fill="#968a8a"/>
<rect x="582.09" y="252.67" width="0.8" height="0.8" fill="#d2ccca"/>
<rect x="586.11" y="236.65" width="0.8" height="0.8" fill="#b4aeac"/>
<rect x="617.48" y="256.13" width="0.8" height="0.8" fill="#cac6c2"/>
<rect x="633.81" y="260.99" width="0.8" height="0.8" fill="#a89e9c"/>
<rect x="576.95" y="248.46" width="0.8" height="0.8" fill="#b4aeac"/>
<rect x="591.1" y="233.3" width="0.8" height="0.8" fill="#b4aeaa"/>
<rect x="628.83" y="263.31" width="0.8" height="0.8" fill="#a89e9c"/>
<rect x="584.53" y="247.43" width="0.8" height="0.8" fill="#968a8a"/>
<rect x="607" y="248.99" width="0.8" height="0.8" fill="#b8b0ae"/>
<rect x="595.75" y="253.97" width="0.8" height="0.8" fill="#c8c2c0"/>
<rect x="579.77" y="245.52" width="0.8" height="0.8" fill="#aca6a2"/>
<rect x="547.66" y="241.42" width="0.8" height="0.8" fill="#7e3a40"/>
<rect x="602.25" y="237.2" width="0.8" height="0.8" fill="#a89e9c"/>
<rect x="598.58" y="235.33" width="0.8" height="0.8" fill="#b4aeaa"/>
<rect x="623.75" y="240.72" width="0.8" height="0.8" fill="#9c9290"/>
<rect x="625.22" y="250" width="0.8" height="0.8" fill="#c4beba"/>
<rect x="558.81" y="246.87" width="0.8" height="0.8" fill="#7e3a40"/>
<rect x="615.91" y="240.74" width="0.8" height="0.8" fill="#b4aeaa"/>
<rect x="558.99" y="239.52" width="0.8" height="0.8" fill="#8e5a5e"/>
<rect x="581.76" y="245.88" width="0.8" height="0.8" fill="#ccc6c4"/>
<rect x="588.83" y="244.32" width="0.8" height="0.8" fill="#b8b0ae"/>
<rect x="577.12" y="229.27" width="0.8" height="0.8" fill="#a49a98"/>
<rect x="586.07" y="236.67" width="0.8" height="0.8" fill="#d2ccca"/>
<rect x="594.92" y="237.04" width="0.8" height="0.8" fill="#aca6a2"/>
<rect x="580.13" y="249.51" width="0.8" height="0.8" fill="#ccc6c4"/>
<rect x="548.55" y="229.63" width="0.8" height="0.8" fill="#9c9290"/>
<rect x="637.79" y="255.1" width="0.8" height="0.8" fill="#aca6a2"/>
<rect x="581.28" y="232.95" width="0.8" height="0.8" fill="#a89e9c"/>
<rect x="634.29" y="259.32" width="0.8" height="0.8" fill="#968a8a"/>
<rect x="591" y="223.17" width="0.8" height="0.8" fill="#c4beba"/>
<rect x="595.42" y="237.69" width="0.8" height="0.8" fill="#c8c2c0"/>
<rect x="599.04" y="246.81" width="0.8" height="0.8" fill="#9c9290"/>
<rect x="574.73" y="243.15" width="0.8" height="0.8" fill="#c4beba"/>
<rect x="581.58" y="221.95" width="0.8" height="0.8" fill="#a49a98"/>
<rect x="641.47" y="260.51" width="0.8" height="0.8" fill="#aca6a2"/>
<rect x="629.92" y="259.96" width="0.8" height="0.8" fill="#a89e9c"/>
<rect x="613.78" y="262.38" width="0.8" height="0.8" fill="#a49a98"/>
<rect x="560.82" y="240.66" width="0.8" height="0.8" fill="#b8b0ae"/>
<rect x="548.69" y="238.35" width="0.8" height="0.8" fill="#9c9290"/>
<rect x="637.93" y="255.66" width="0.8" height="0.8" fill="#cac6c2"/>
<rect x="594.86" y="246.5" width="0.8" height="0.8" fill="#ccc6c4"/>
<rect x="589.95" y="248.67" width="0.8" height="0.8" fill="#c8c2c0"/>
<rect x="595.57" y="248.81" width="0.8" height="0.8" fill="#ccc6c4"/>
<rect x="561.75" y="229.3" width="0.8" height="0.8" fill="#c8c2c0"/>
<rect x="547.62" y="230.17" width="0.8" height="0.8" fill="#c4beba"/>
<rect x="591.95" y="256.3" width="0.8" height="0.8" fill="#9a4a50"/>
<rect x="602.07" y="244.68" width="0.8" height="0.8" fill="#ccc6c4"/>
<rect x="609.11" y="234.38" width="0.8" height="0.8" fill="#b4aeac"/>
<rect x="608.43" y="237.55" width="0.8" height="0.8" fill="#ccc6c4"/>
<rect x="599.11" y="252.27" width="0.8" height="0.8" fill="#ccc6c4"/>
<rect x="641.95" y="250.96" width="0.8" height="0.8" fill="#c0b8b6"/>
<rect x="603.17" y="249.92" width="0.8" height="0.8" fill="#b4aeaa"/>
<rect x="628.97" y="261.91" width="0.8" height="0.8" fill="#c0b8b6"/>
<rect x="609.38" y="244.12" width="0.8" height="0.8" fill="#c8c2c0"/>
<rect x="554.79" y="229.32" width="0.8" height="0.8" fill="#cac6c2"/>
<rect x="587.62" y="241.92" width="0.8" height="0.8" fill="#9c9290"/>
<rect x="548.75" y="238.25" width="0.8" height="0.8" fill="#a49a98"/>
<rect x="634.39" y="249.04" width="0.8" height="0.8" fill="#aca6a2"/>
<rect x="546.92" y="239.27" width="0.8" height="0.8" fill="#d2ccca"/>
<rect x="576.12" y="250.92" width="0.8" height="0.8" fill="#a49a98"/>
<rect x="567.01" y="244.26" width="0.8" height="0.8" fill="#b4aeac"/>
<rect x="586.12" y="230.75" width="0.8" height="0.8" fill="#b8b0ae"/>
<rect x="624.54" y="249.39" width="0.8" height="0.8" fill="#b8b0ae"/>
<rect x="583.86" y="226.58" width="0.8" height="0.8" fill="#aca6a2"/>
<rect x="624.81" y="260.5" width="0.8" height="0.8" fill="#a49a98"/>
<rect x="615.74" y="236.91" width="0.8" height="0.8" fill="#a89e9c"/>
<rect x="592.99" y="248.95" width="0.8" height="0.8" fill="#9c9290"/>
<rect x="569.32" y="249.53" width="0.8" height="0.8" fill="#9a4a50"/>
<rect x="632.25" y="250.48" width="0.8" height="0.8" fill="#aca6a2"/>
<rect x="624.88" y="243.47" width="0.8" height="0.8" fill="#a89e9c"/>
<rect x="619.16" y="239.53" width="0.8" height="0.8" fill="#b4aeac"/>
<rect x="580.55" y="245.48" width="0.8" height="0.8" fill="#968a8a"/>
<rect x="572.99" y="240.1" width="0.8" height="0.8" fill="#7e3a40"/>
<rect x="587.75" y="253.82" width="0.8" height="0.8" fill="#c0b8b6"/>
<rect x="627.88" y="266.78" width="0.8" height="0.8" fill="#b8b0ae"/>
<rect x="558.67" y="233.37" width="0.8" height="0.8" fill="#b4aeaa"/>
<rect x="542.65" y="239.28" width="0.8" height="0.8" fill="#968a8a"/>
<rect x="567.51" y="245.84" width="0.8" height="0.8" fill="#a89e9c"/>
<rect x="606.31" y="238.42" width="0.8" height="0.8" fill="#b8b0ae"/>
<rect x="596.28" y="241.72" width="0.8" height="0.8" fill="#cac6c2"/>
<rect x="563.37" y="234.89" width="0.8" height="0.8" fill="#a49a98"/>
<rect x="635.2" y="254.01" width="0.8" height="0.8" fill="#c4beba"/>
<rect x="583.96" y="226.6" width="0.8" height="0.8" fill="#a89e9c"/>
<rect x="579.32" y="232.67" width="0.8" height="0.8" fill="#b8b0ae"/>
<rect x="612.43" y="259.98" width="0.8" height="0.8" fill="#b8b0ae"/>
<rect x="581.38" y="244.95" width="0.8" height="0.8" fill="#b4aeac"/>
<rect x="594.88" y="237.87" width="0.8" height="0.8" fill="#b4aeaa"/>
<rect x="542.61" y="234.59" width="0.8" height="0.8" fill="#a89e9c"/>
<rect x="568.28" y="242.96" width="0.8" height="0.8" fill="#9a4a50"/>
<rect x="573.56" y="226.67" width="0.8" height="0.8" fill="#a89e9c"/>
<rect x="566.84" y="225.92" width="0.8" height="0.8" fill="#cac6c2"/>
<rect x="612.78" y="239.21" width="0.8" height="0.8" fill="#a49a98"/>
<rect x="637.24" y="260.95" width="0.8" height="0.8" fill="#d2ccca"/>
<rect x="578.24" y="249.06" width="0.8" height="0.8" fill="#c8c2c0"/>
<rect x="614.06" y="246.31" width="0.8" height="0.8" fill="#cac6c2"/>
<rect x="597.11" y="240.43" width="0.8" height="0.8" fill="#b4aeaa"/>
<rect x="571.7" y="229.13" width="0.8" height="0.8" fill="#c0b8b6"/>
<rect x="548.4" y="237.89" width="0.8" height="0.8" fill="#b8b0ae"/>
<rect x="640.64" y="260.45" width="0.8" height="0.8" fill="#d2ccca"/>
<rect x="601.21" y="247.95" width="0.8" height="0.8" fill="#a49a98"/>
<rect x="612.8" y="252.05" width="0.8" height="0.8" fill="#c4beba"/>
<rect x="601.14" y="235.29" width="0.8" height="0.8" fill="#c8c2c0"/>
<rect x="631.57" y="257.68" width="0.8" height="0.8" fill="#8e5a5e"/>
<rect x="582.95" y="223.14" width="0.8" height="0.8" fill="#ccc6c4"/>
<rect x="591.1" y="239.24" width="0.8" height="0.8" fill="#c0b8b6"/>
<rect x="581.11" y="236.38" width="0.8" height="0.8" fill="#ccc6c4"/>
<rect x="632.96" y="258.04" width="0.8" height="0.8" fill="#a49a98"/>
<rect x="612.71" y="241.47" width="0.8" height="0.8" fill="#b8b0ae"/>
<rect x="634.84" y="248.76" width="0.8" height="0.8" fill="#c4beba"/>
<rect x="612.79" y="257.43" width="0.8" height="0.8" fill="#b8b0ae"/>
<rect x="615.78" y="263.51" width="0.8" height="0.8" fill="#a49a98"/>
<rect x="567.34" y="236.28" width="0.8" height="0.8" fill="#c0b8b6"/>
<rect x="588.7" y="244.82" width="0.8" height="0.8" fill="#c8c2c0"/>
<rect x="608.56" y="231.95" width="0.8" height="0.8" fill="#b8b0ae"/>
<rect x="592.61" y="224.63" width="0.8" height="0.8" fill="#cac6c2"/>
<rect x="600.79" y="233.32" width="0.8" height="0.8" fill="#a49a98"/>
<rect x="576.82" y="229.14" width="0.8" height="0.8" fill="#ccc6c4"/>
<rect x="614.67" y="261.85" width="0.8" height="0.8" fill="#aca6a2"/>
<rect x="564.6" y="246.31" width="0.8" height="0.8" fill="#7e3a40"/>
<rect x="608.84" y="252.68" width="0.8" height="0.8" fill="#a49a98"/>
<rect x="578.72" y="244.49" width="0.8" height="0.8" fill="#c8c2c0"/>
<rect x="625.94" y="258.95" width="0.8" height="0.8" fill="#b4aeaa"/>
<rect x="613.96" y="262.33" width="0.8" height="0.8" fill="#c8c2c0"/>
<rect x="630.94" y="265.21" width="0.8" height="0.8" fill="#9c9290"/>
<rect x="625.78" y="267.72" width="0.8" height="0.8" fill="#9c9290"/>
<rect x="562.26" y="246.23" width="0.8" height="0.8" fill="#a49a98"/>
<rect x="647.99" y="255.56" width="0.8" height="0.8" fill="#cac6c2"/>
<rect x="631.62" y="264.88" width="0.8" height="0.8" fill="#968a8a"/>
<rect x="601.48" y="232.41" width="0.8" height="0.8" fill="#cac6c2"/>
<rect x="609.55" y="239.8" width="0.8" height="0.8" fill="#9c9290"/>
<rect x="594.27" y="252.87" width="0.8" height="0.8" fill="#6e2a30"/>
<rect x="552.76" y="242.73" width="0.8" height="0.8" fill="#a49a98"/>
<rect x="613.2" y="237.61" width="0.8" height="0.8" fill="#a89e9c"/>
<rect x="570.82" y="249.46" width="0.8" height="0.8" fill="#c8c2c0"/>
<rect x="624.84" y="252.89" width="0.8" height="0.8" fill="#cac6c2"/>
<rect x="628.4" y="246.06" width="0.8" height="0.8" fill="#c4beba"/>
<rect x="596.53" y="250.87" width="0.8" height="0.8" fill="#a49a98"/>
<rect x="601.77" y="233.53" width="0.8" height="0.8" fill="#b8b0ae"/>
<rect x="616.8" y="253.08" width="0.8" height="0.8" fill="#d2ccca"/>
<rect x="613.16" y="249.42" width="0.8" height="0.8" fill="#a89e9c"/>
<rect x="605.07" y="254.14" width="0.8" height="0.8" fill="#a49a98"/>
<rect x="611.93" y="257.11" width="0.8" height="0.8" fill="#cac6c2"/>
<rect x="565.14" y="227.32" width="0.8" height="0.8" fill="#a49a98"/>
<rect x="616.01" y="245.47" width="0.8" height="0.8" fill="#a49a98"/>
<rect x="626.01" y="243.25" width="0.8" height="0.8" fill="#c4beba"/>
<rect x="612.56" y="254.76" width="0.8" height="0.8" fill="#b4aeac"/>
<rect x="578.21" y="250.44" width="0.8" height="0.8" fill="#9c9290"/>
<rect x="634.31" y="251.86" width="0.8" height="0.8" fill="#b4aeac"/>
<rect x="531.7" y="236.02" width="0.8" height="0.8" fill="#b4aeac"/>
<rect x="603.77" y="239.11" width="0.8" height="0.8" fill="#c4beba"/>
<rect x="610.78" y="238.53" width="0.8" height="0.8" fill="#b4aeaa"/>
<rect x="628.6" y="252.31" width="0.8" height="0.8" fill="#d2ccca"/>
<rect x="559.66" y="234.38" width="0.8" height="0.8" fill="#b4aeac"/>
<rect x="607.36" y="261.17" width="0.8" height="0.8" fill="#a49a98"/>
<rect x="625.14" y="257.44" width="0.8" height="0.8" fill="#b4aeac"/>
<rect x="618.51" y="257.29" width="0.8" height="0.8" fill="#6e2a30"/>
<rect x="600.24" y="239.04" width="0.8" height="0.8" fill="#a89e9c"/>
<rect x="609.46" y="234.84" width="0.8" height="0.8" fill="#b8b0ae"/>
<rect x="646.09" y="258.68" width="0.8" height="0.8" fill="#cac6c2"/>
<rect x="629.87" y="246.16" width="0.8" height="0.8" fill="#cac6c2"/>
<rect x="603.66" y="257.52" width="0.8" height="0.8" fill="#d2ccca"/>
<rect x="624.66" y="262.77" width="0.8" height="0.8" fill="#ccc6c4"/>
<rect x="623.16" y="261.82" width="0.8" height="0.8" fill="#ccc6c4"/>
<rect x="631.72" y="253.75" width="0.8" height="0.8" fill="#a49a98"/>
<rect x="612.21" y="260.01" width="0.8" height="0.8" fill="#8e5a5e"/>
<rect x="642.89" y="252.6" width="0.8" height="0.8" fill="#9c9290"/>
<rect x="640.32" y="261.03" width="0.8" height="0.8" fill="#9a4a50"/>
<rect x="601.76" y="235.98" width="0.8" height="0.8" fill="#d2ccca"/>
<rect x="634.45" y="252.2" width="0.8" height="0.8" fill="#9c9290"/>
<rect x="539.14" y="239.49" width="0.8" height="0.8" fill="#b4aeac"/>
<rect x="588.95" y="237.44" width="0.8" height="0.8" fill="#7e3a40"/>
<rect x="631.92" y="258.76" width="0.8" height="0.8" fill="#b4aeac"/>
<rect x="595.68" y="230.34" width="0.8" height="0.8" fill="#b4aeaa"/>
<rect x="575.77" y="247.82" width="0.8" height="0.8" fill="#ccc6c4"/>
<rect x="602.73" y="240.82" width="0.8" height="0.8" fill="#c4beba"/>
<rect x="628.72" y="254.87" width="0.8" height="0.8" fill="#c0b8b6"/>
<rect x="626.6" y="254.72" width="0.8" height="0.8" fill="#8e5a5e"/>
<rect x="619.25" y="247.27" width="0.8" height="0.8" fill="#c0b8b6"/>
<rect x="627.6" y="263.11" width="0.8" height="0.8" fill="#b4aeac"/>
<rect x="610.5" y="240.63" width="0.8" height="0.8" fill="#aca6a2"/>
<rect x="571.76" y="235.85" width="0.8" height="0.8" fill="#b4aeaa"/>
<rect x="602.27" y="253.35" width="0.8" height="0.8" fill="#c4beba"/>
<rect x="575.93" y="241.98" width="0.8" height="0.8" fill="#968a8a"/>
<rect x="612.66" y="261.05" width="0.8" height="0.8" fill="#d2ccca"/>
<rect x="603.33" y="247.14" width="0.8" height="0.8" fill="#cac6c2"/>
<rect x="644.26" y="259.06" width="0.8" height="0.8" fill="#b8b0ae"/>
<rect x="559.48" y="238" width="0.8" height="0.8" fill="#c4beba"/>
<rect x="632.62" y="254.44" width="0.8" height="0.8" fill="#9c9290"/>
<rect x="595.99" y="224.74" width="0.8" height="0.8" fill="#b4aeaa"/>
<rect x="573.23" y="233.39" width="0.8" height="0.8" fill="#aca6a2"/>
<rect x="578.11" y="250.12" width="0.8" height="0.8" fill="#c0b8b6"/>
<rect x="534.62" y="234.85" width="0.8" height="0.8" fill="#d2ccca"/>
<rect x="595.41" y="239.72" width="0.8" height="0.8" fill="#a49a98"/>
<rect x="629.79" y="244.2" width="0.8" height="0.8" fill="#ccc6c4"/>
<rect x="572.56" y="246.27" width="0.8" height="0.8" fill="#8e5a5e"/>
<rect x="535.2" y="239.24" width="0.8" height="0.8" fill="#9c9290"/>
<rect x="616.07" y="246.43" width="0.8" height="0.8" fill="#c0b8b6"/>
<rect x="608.58" y="252.73" width="0.8" height="0.8" fill="#a49a98"/>
<rect x="602.82" y="251.13" width="0.8" height="0.8" fill="#cac6c2"/>
<rect x="583.02" y="237.58" width="0.8" height="0.8" fill="#c0b8b6"/>
<rect x="579.64" y="240.81" width="0.8" height="0.8" fill="#c4beba"/>
<rect x="542.27" y="240.08" width="0.8" height="0.8" fill="#b4aeac"/>
<rect x="614.95" y="249.82" width="0.8" height="0.8" fill="#aca6a2"/>
<rect x="589.16" y="225.7" width="0.8" height="0.8" fill="#9c9290"/>
<rect x="603.24" y="254.08" width="0.8" height="0.8" fill="#9a4a50"/>
<rect x="612.28" y="244.5" width="0.8" height="0.8" fill="#c4beba"/>
<rect x="592.63" y="242.71" width="0.8" height="0.8" fill="#968a8a"/>
<rect x="640.79" y="250.69" width="0.8" height="0.8" fill="#c4beba"/>
<rect x="608.5" y="256.94" width="0.8" height="0.8" fill="#cac6c2"/>
<rect x="581.03" y="248.41" width="0.8" height="0.8" fill="#c4beba"/>
<rect x="558.91" y="232.91" width="0.8" height="0.8" fill="#9c9290"/>
<rect x="613.41" y="261.04" width="0.8" height="0.8" fill="#9a4a50"/>
<rect x="547.78" y="231.25" width="0.8" height="0.8" fill="#c0b8b6"/>
<rect x="635.44" y="249.57" width="0.8" height="0.8" fill="#a49a98"/>
<rect x="620.73" y="257.6" width="0.8" height="0.8" fill="#968a8a"/>
<rect x="578.15" y="252.75" width="0.8" height="0.8" fill="#a49a98"/>
<rect x="618.64" y="255.11" width="0.8" height="0.8" fill="#ccc6c4"/>
<rect x="553.41" y="241.81" width="0.8" height="0.8" fill="#d2ccca"/>
<rect x="559.34" y="229.74" width="0.8" height="0.8" fill="#c4beba"/>
<rect x="632.35" y="256.77" width="0.8" height="0.8" fill="#7e3a40"/>
<rect x="629.78" y="263.56" width="0.8" height="0.8" fill="#8e5a5e"/>
<rect x="560.13" y="242.02" width="0.8" height="0.8" fill="#9a4a50"/>
<rect x="565.96" y="243.96" width="0.8" height="0.8" fill="#a89e9c"/>
<rect x="599.15" y="230.99" width="0.8" height="0.8" fill="#c8c2c0"/>
<rect x="633" y="258.13" width="0.8" height="0.8" fill="#aca6a2"/>
<rect x="550.24" y="242.33" width="0.8" height="0.8" fill="#d2ccca"/>
<rect x="635.47" y="261.23" width="0.8" height="0.8" fill="#cac6c2"/>
<rect x="571.48" y="244.19" width="0.8" height="0.8" fill="#cac6c2"/>
<rect x="605.16" y="246.08" width="0.8" height="0.8" fill="#b4aeaa"/>
<rect x="593.62" y="232.98" width="0.8" height="0.8" fill="#aca6a2"/>
<rect x="552.69" y="237.79" width="0.8" height="0.8" fill="#cac6c2"/>
<rect x="557.23" y="242.12" width="0.8" height="0.8" fill="#a49a98"/>
<rect x="643.02" y="256.33" width="0.8" height="0.8" fill="#a89e9c"/>
<rect x="603.8" y="257.66" width="0.8" height="0.8" fill="#aca6a2"/>
<rect x="544.97" y="232.93" width="0.8" height="0.8" fill="#b8b0ae"/>
<rect x="606.37" y="238.47" width="0.8" height="0.8" fill="#c8c2c0"/>
<rect x="543.61" y="233.16" width="0.8" height="0.8" fill="#9a4a50"/>
<rect x="585.12" y="243.95" width="0.8" height="0.8" fill="#c4beba"/>
<rect x="633.63" y="255.07" width="0.8" height="0.8" fill="#c0b8b6"/>
<rect x="618.2" y="247.09" width="0.8" height="0.8" fill="#968a8a"/>
<rect x="629.96" y="249.46" width="0.8" height="0.8" fill="#c0b8b6"/>
<rect x="562.23" y="243.21" width="0.8" height="0.8" fill="#968a8a"/>
<rect x="608.71" y="240.34" width="0.8" height="0.8" fill="#968a8a"/>
<rect x="563.81" y="236.22" width="0.8" height="0.8" fill="#a49a98"/>
<rect x="566.33" y="246.22" width="0.8" height="0.8" fill="#b4aeac"/>
<rect x="571.78" y="231.17" width="0.8" height="0.8" fill="#aca6a2"/>
<rect x="576.81" y="247.52" width="0.8" height="0.8" fill="#ccc6c4"/>
<rect x="571.1" y="226.68" width="0.8" height="0.8" fill="#9c9290"/>
<rect x="588.07" y="223.03" width="0.8" height="0.8" fill="#cac6c2"/>
<rect x="623.51" y="262.97" width="0.8" height="0.8" fill="#c4beba"/>
<rect x="564.09" y="246.71" width="0.8" height="0.8" fill="#b8b0ae"/>
<rect x="579.97" y="232.67" width="0.8" height="0.8" fill="#b4aeaa"/>
<rect x="549.95" y="238.6" width="0.8" height="0.8" fill="#c4beba"/>
<rect x="609.85" y="244.5" width="0.8" height="0.8" fill="#ccc6c4"/>
<rect x="601.45" y="232.1" width="0.8" height="0.8" fill="#b4aeac"/>
<rect x="638.61" y="260.36" width="0.8" height="0.8" fill="#b4aeaa"/>
<rect x="636.76" y="259.31" width="0.8" height="0.8" fill="#aca6a2"/>
<rect x="593.19" y="242.67" width="0.8" height="0.8" fill="#7e3a40"/>
<rect x="571.6" y="234.22" width="0.8" height="0.8" fill="#aca6a2"/>
<rect x="567.17" y="241.44" width="0.8" height="0.8" fill="#b8b0ae"/>
<rect x="566.31" y="226.93" width="0.8" height="0.8" fill="#ccc6c4"/>
<rect x="586.39" y="237.08" width="0.8" height="0.8" fill="#d2ccca"/>
<rect x="554.2" y="242.6" width="0.8" height="0.8" fill="#b8b0ae"/>
<rect x="603.71" y="246.57" width="0.8" height="0.8" fill="#b8b0ae"/>
<rect x="579.68" y="235.68" width="0.8" height="0.8" fill="#b4aeaa"/>
<rect x="549.51" y="231.75" width="0.8" height="0.8" fill="#b8b0ae"/>
<rect x="545.33" y="234.2" width="0.8" height="0.8" fill="#9a4a50"/>
<rect x="608.8" y="258.68" width="0.8" height="0.8" fill="#b8b0ae"/>
<rect x="606.46" y="232.58" width="0.8" height="0.8" fill="#a89e9c"/>
<rect x="586.06" y="244.84" width="0.8" height="0.8" fill="#c0b8b6"/>
<rect x="591.32" y="255.45" width="0.8" height="0.8" fill="#c0b8b6"/>
<rect x="623.56" y="254.96" width="0.8" height="0.8" fill="#9c9290"/>
<rect x="549.46" y="236.14" width="0.8" height="0.8" fill="#ccc6c4"/>
<rect x="627.4" y="267.37" width="0.8" height="0.8" fill="#b8b0ae"/>
<rect x="643.89" y="259.66" width="0.8" height="0.8" fill="#ccc6c4"/>
<rect x="579.03" y="227.71" width="0.8" height="0.8" fill="#cac6c2"/>
<rect x="641.71" y="252.91" width="0.8" height="0.8" fill="#b4aeac"/>
<rect x="628.77" y="261.96" width="0.8" height="0.8" fill="#8e5a5e"/>
<rect x="597.22" y="250.61" width="0.8" height="0.8" fill="#c4beba"/>
<rect x="617.23" y="240.62" width="0.8" height="0.8" fill="#a89e9c"/>
<rect x="592.73" y="255.41" width="0.8" height="0.8" fill="#b4aeac"/>
<rect x="609.23" y="235.43" width="0.8" height="0.8" fill="#c0b8b6"/>
<rect x="629.63" y="251.78" width="0.8" height="0.8" fill="#b4aeac"/>
<rect x="546.57" y="233.48" width="0.8" height="0.8" fill="#c8c2c0"/>
<rect x="602.78" y="254.59" width="0.8" height="0.8" fill="#cac6c2"/>
<rect x="572.87" y="239.41" width="0.8" height="0.8" fill="#c0b8b6"/>
<rect x="608.68" y="248.58" width="0.8" height="0.8" fill="#a49a98"/>
<rect x="545.71" y="231.01" width="0.8" height="0.8" fill="#9c9290"/>
<rect x="638.93" y="255.64" width="0.8" height="0.8" fill="#c8c2c0"/>
<rect x="608.47" y="243.46" width="0.8" height="0.8" fill="#c4beba"/>
<rect x="559.94" y="244.28" width="0.8" height="0.8" fill="#c0b8b6"/>
<rect x="564.58" y="226.92" width="0.8" height="0.8" fill="#c0b8b6"/>
<rect x="626.85" y="247.72" width="0.8" height="0.8" fill="#9c9290"/>
<rect x="624.41" y="256.65" width="0.8" height="0.8" fill="#8e5a5e"/>
<rect x="607.93" y="249.65" width="0.8" height="0.8" fill="#b4aeaa"/>
<rect x="624.79" y="267.65" width="0.8" height="0.8" fill="#c8c2c0"/>
<rect x="584.93" y="244.09" width="0.8" height="0.8" fill="#a89e9c"/>
<rect x="538.05" y="235.31" width="0.8" height="0.8" fill="#d2ccca"/>
<rect x="545.22" y="235.1" width="0.8" height="0.8" fill="#d2ccca"/>
<rect x="531.25" y="236.33" width="0.8" height="0.8" fill="#c8c2c0"/>
<rect x="605.19" y="254.59" width="0.8" height="0.8" fill="#9a4a50"/>
<rect x="624.87" y="242.91" width="0.8" height="0.8" fill="#d2ccca"/>
<rect x="574.67" y="246.52" width="0.8" height="0.8" fill="#8e5a5e"/>
<rect x="579.94" y="232.36" width="0.8" height="0.8" fill="#a89e9c"/>
<rect x="643.02" y="254.48" width="0.8" height="0.8" fill="#aca6a2"/>
<rect x="606.88" y="257.31" width="0.8" height="0.8" fill="#c0b8b6"/>
<rect x="587.94" y="255.77" width="0.8" height="0.8" fill="#d2ccca"/>
<rect x="555.93" y="237.67" width="0.8" height="0.8" fill="#a49a98"/>
<rect x="639.5" y="255.22" width="0.8" height="0.8" fill="#c4beba"/>
<rect x="602.08" y="240.71" width="0.8" height="0.8" fill="#c4beba"/>
<rect x="639.11" y="260.42" width="0.8" height="0.8" fill="#968a8a"/>
<rect x="583.51" y="253.55" width="0.8" height="0.8" fill="#b4aeac"/>
<rect x="626.66" y="265.9" width="0.8" height="0.8" fill="#aca6a2"/>
<rect x="633.49" y="263.04" width="0.8" height="0.8" fill="#c4beba"/>
<rect x="605.06" y="249.29" width="0.8" height="0.8" fill="#a89e9c"/>
<rect x="582.8" y="240.96" width="0.8" height="0.8" fill="#c0b8b6"/>
<rect x="609.89" y="242.2" width="0.8" height="0.8" fill="#c4beba"/>
<rect x="531.83" y="237.57" width="0.8" height="0.8" fill="#b4aeac"/>
<rect x="619.04" y="260.92" width="0.8" height="0.8" fill="#a49a98"/>
<rect x="566.74" y="240.09" width="0.8" height="0.8" fill="#cac6c2"/>
<rect x="620.17" y="255.78" width="0.8" height="0.8" fill="#c0b8b6"/>
<rect x="623.43" y="266.96" width="0.8" height="0.8" fill="#9c9290"/>
<rect x="591.12" y="234.19" width="0.8" height="0.8" fill="#a49a98"/>
<rect x="636.94" y="258.05" width="0.8" height="0.8" fill="#a89e9c"/>
<rect x="537.32" y="238.76" width="0.8" height="0.8" fill="#8e5a5e"/>
<rect x="632.56" y="264.32" width="0.8" height="0.8" fill="#b4aeaa"/>
<rect x="596.61" y="229.11" width="0.8" height="0.8" fill="#b8b0ae"/>
<rect x="645.41" y="253.44" width="0.8" height="0.8" fill="#cac6c2"/>
<rect x="616.28" y="245.63" width="0.8" height="0.8" fill="#c4beba"/>
<rect x="603.53" y="257.14" width="0.8" height="0.8" fill="#aca6a2"/>
<rect x="548.2" y="237.48" width="0.8" height="0.8" fill="#b4aeac"/>
<rect x="570.1" y="246.59" width="0.8" height="0.8" fill="#c8c2c0"/>
<rect x="641.18" y="256.89" width="0.8" height="0.8" fill="#b4aeaa"/>
<rect x="580.7" y="226.6" width="0.8" height="0.8" fill="#968a8a"/>
<rect x="599.98" y="227.53" width="0.8" height="0.8" fill="#9c9290"/>
<rect x="583.68" y="239.46" width="0.8" height="0.8" fill="#968a8a"/>
<rect x="585.9" y="252.53" width="0.8" height="0.8" fill="#968a8a"/>
<rect x="636.85" y="254.14" width="0.8" height="0.8" fill="#c4beba"/>
<rect x="618.76" y="265.49" width="0.8" height="0.8" fill="#b8b0ae"/>
<rect x="580.46" y="236.25" width="0.8" height="0.8" fill="#968a8a"/>
<rect x="549.28" y="236.92" width="0.8" height="0.8" fill="#cac6c2"/>
<rect x="586.73" y="224.92" width="0.8" height="0.8" fill="#b4aeaa"/>
<rect x="578.88" y="233.68" width="0.8" height="0.8" fill="#c0b8b6"/>
<rect x="541.89" y="239.12" width="0.8" height="0.8" fill="#c0b8b6"/>
<rect x="596.1" y="248.16" width="0.8" height="0.8" fill="#7e3a40"/>
<rect x="613.68" y="262.28" width="0.8" height="0.8" fill="#8e5a5e"/>
<rect x="608.56" y="261.9" width="0.8" height="0.8" fill="#8e5a5e"/>
<rect x="613.23" y="260.45" width="0.8" height="0.8" fill="#968a8a"/>
<rect x="579.47" y="235.33" width="0.8" height="0.8" fill="#a89e9c"/>
<rect x="634.02" y="263.32" width="0.8" height="0.8" fill="#a89e9c"/>
<rect x="606.71" y="239.04" width="0.8" height="0.8" fill="#ccc6c4"/>
<rect x="637.5" y="261.65" width="0.8" height="0.8" fill="#9c9290"/>
<rect x="597.49" y="251.36" width="0.8" height="0.8" fill="#9c9290"/>
<rect x="605.94" y="230.67" width="0.8" height="0.8" fill="#aca6a2"/>
<rect x="626.17" y="247.71" width="0.8" height="0.8" fill="#c4beba"/>
<rect x="634.31" y="263.04" width="0.8" height="0.8" fill="#968a8a"/>
<rect x="596.85" y="238.07" width="0.8" height="0.8" fill="#c4beba"/>
<rect x="588.6" y="238.66" width="0.8" height="0.8" fill="#c4beba"/>
<rect x="618" y="261.33" width="0.8" height="0.8" fill="#ccc6c4"/>
<rect x="623.37" y="266.91" width="0.8" height="0.8" fill="#b8b0ae"/>
<rect x="589.81" y="231.92" width="0.8" height="0.8" fill="#c4beba"/>
<rect x="551.8" y="243.37" width="0.8" height="0.8" fill="#d2ccca"/>
<rect x="613.37" y="239.04" width="0.8" height="0.8" fill="#aca6a2"/>
<rect x="608.06" y="232.23" width="0.8" height="0.8" fill="#b4aeac"/>
<rect x="589.33" y="231.52" width="0.8" height="0.8" fill="#cac6c2"/>
<rect x="584.75" y="252.11" width="0.8" height="0.8" fill="#968a8a"/>
<rect x="608.49" y="237.59" width="0.8" height="0.8" fill="#d2ccca"/>
<rect x="639.74" y="260.18" width="0.8" height="0.8" fill="#ccc6c4"/>
<rect x="570.35" y="225.99" width="0.8" height="0.8" fill="#aca6a2"/>
<rect x="604.62" y="260.39" width="0.8" height="0.8" fill="#a49a98"/>
<rect x="592.94" y="240.19" width="0.8" height="0.8" fill="#a49a98"/>
<rect x="557.8" y="236.85" width="0.8" height="0.8" fill="#a89e9c"/>
<rect x="561.2" y="242.02" width="0.8" height="0.8" fill="#ccc6c4"/>
<rect x="639.24" y="252.3" width="0.8" height="0.8" fill="#ccc6c4"/>
<rect x="586.97" y="244.98" width="0.8" height="0.8" fill="#aca6a2"/>
<rect x="582.25" y="244.59" width="0.8" height="0.8" fill="#a49a98"/>
<rect x="626.2" y="255.77" width="0.8" height="0.8" fill="#c0b8b6"/>
<rect x="613.16" y="258.85" width="0.8" height="0.8" fill="#9c9290"/>
<rect x="624.64" y="254.65" width="0.8" height="0.8" fill="#cac6c2"/>
<rect x="573.08" y="232.97" width="0.8" height="0.8" fill="#c8c2c0"/>
<rect x="627.68" y="243.61" width="0.8" height="0.8" fill="#c4beba"/>
<rect x="600.82" y="252.34" width="0.8" height="0.8" fill="#c0b8b6"/>
<rect x="624.66" y="264.53" width="0.8" height="0.8" fill="#9a4a50"/>
<rect x="642.15" y="255.85" width="0.8" height="0.8" fill="#b4aeaa"/>
<rect x="625.44" y="252.98" width="0.8" height="0.8" fill="#c4beba"/>
<rect x="595.24" y="255.08" width="0.8" height="0.8" fill="#d2ccca"/>
<rect x="635.43" y="260.52" width="0.8" height="0.8" fill="#b4aeaa"/>
<rect x="592.68" y="227.42" width="0.8" height="0.8" fill="#c4beba"/>
<rect x="629.74" y="254.02" width="0.8" height="0.8" fill="#8e5a5e"/>
<rect x="646.08" y="256.21" width="0.8" height="0.8" fill="#b4aeaa"/>
<rect x="566.2" y="230.45" width="0.8" height="0.8" fill="#a89e9c"/>
<rect x="633.79" y="258.72" width="0.8" height="0.8" fill="#8e5a5e"/>
<rect x="624.26" y="261.07" width="0.8" height="0.8" fill="#a89e9c"/>
<rect x="628.21" y="244.59" width="0.8" height="0.8" fill="#cac6c2"/>
<rect x="613.45" y="251.81" width="0.8" height="0.8" fill="#ccc6c4"/>
<rect x="584.22" y="239.44" width="0.8" height="0.8" fill="#c4beba"/>
<rect x="635.02" y="261.37" width="0.8" height="0.8" fill="#968a8a"/>
<rect x="556.02" y="244.45" width="0.8" height="0.8" fill="#d2ccca"/>
<rect x="605.7" y="258.64" width="0.8" height="0.8" fill="#968a8a"/>
<rect x="590.97" y="236.82" width="0.8" height="0.8" fill="#b4aeaa"/>
<rect x="629.27" y="260.94" width="0.8" height="0.8" fill="#a49a98"/>
<rect x="582.33" y="224.85" width="0.8" height="0.8" fill="#cac6c2"/>
<rect x="566.11" y="232.76" width="0.8" height="0.8" fill="#c0b8b6"/>
<rect x="576.65" y="249.67" width="0.8" height="0.8" fill="#8e5a5e"/>
<rect x="588.05" y="237.82" width="0.8" height="0.8" fill="#b8b0ae"/>
<rect x="577.4" y="244.27" width="0.8" height="0.8" fill="#9c9290"/>
<rect x="634.55" y="251.7" width="0.8" height="0.8" fill="#968a8a"/>
<rect x="597.21" y="236.89" width="0.8" height="0.8" fill="#c4beba"/>
<rect x="584.5" y="223.51" width="0.8" height="0.8" fill="#968a8a"/>
<rect x="591.86" y="238.87" width="0.8" height="0.8" fill="#cac6c2"/>
<rect x="609.49" y="251.72" width="0.8" height="0.8" fill="#9a4a50"/>
<rect x="601.51" y="248.85" width="0.8" height="0.8" fill="#ccc6c4"/>
<rect x="618.84" y="255.79" width="0.8" height="0.8" fill="#8e5a5e"/>
<rect x="611.76" y="240.24" width="0.8" height="0.8" fill="#968a8a"/>
<rect x="615.66" y="248.93" width="0.8" height="0.8" fill="#b8b0ae"/>
<rect x="602.17" y="228.4" width="0.8" height="0.8" fill="#aca6a2"/>
<rect x="641.24" y="261.33" width="0.8" height="0.8" fill="#cac6c2"/>
<rect x="593.02" y="243.03" width="0.8" height="0.8" fill="#968a8a"/>
<rect x="555.64" y="235.58" width="0.8" height="0.8" fill="#ccc6c4"/>
<rect x="635.75" y="250.81" width="0.8" height="0.8" fill="#c4beba"/>
<rect x="646.85" y="256.69" width="0.8" height="0.8" fill="#c8c2c0"/>
<rect x="628.78" y="252.43" width="0.8" height="0.8" fill="#c4beba"/>
<rect x="600.56" y="247.4" width="0.8" height="0.8" fill="#ccc6c4"/>
<rect x="610.96" y="245.38" width="0.8" height="0.8" fill="#b4aeac"/>
<rect x="583.82" y="222.09" width="0.8" height="0.8" fill="#968a8a"/>
<rect x="614.84" y="261.71" width="0.8" height="0.8" fill="#b4aeac"/>
<rect x="589.8" y="251.36" width="0.8" height="0.8" fill="#aca6a2"/>
<rect x="587.13" y="239.93" width="0.8" height="0.8" fill="#9c9290"/>
<rect x="583.64" y="230.42" width="0.8" height="0.8" fill="#9c9290"/>
<rect x="588.72" y="227.09" width="0.8" height="0.8" fill="#cac6c2"/>
<rect x="552" y="236.73" width="0.8" height="0.8" fill="#b8b0ae"/>
<rect x="583.12" y="221.61" width="0.8" height="0.8" fill="#a49a98"/>
<rect x="562.95" y="228.08" width="0.8" height="0.8" fill="#b4aeaa"/>
<rect x="570.63" y="240.86" width="0.8" height="0.8" fill="#8e5a5e"/>
<rect x="579.18" y="222.64" width="0.8" height="0.8" fill="#aca6a2"/>
<rect x="583.98" y="237.84" width="0.8" height="0.8" fill="#d2ccca"/>
<rect x="601.25" y="254.91" width="0.8" height="0.8" fill="#9a4a50"/>
<rect x="591.7" y="251.74" width="0.8" height="0.8" fill="#c8c2c0"/>
<rect x="575.17" y="238.73" width="0.8" height="0.8" fill="#968a8a"/>
<rect x="561.92" y="233.17" width="0.8" height="0.8" fill="#a89e9c"/>
<rect x="597.04" y="254.34" width="0.8" height="0.8" fill="#8e5a5e"/>
<rect x="557.67" y="237.43" width="0.8" height="0.8" fill="#8e5a5e"/>
<rect x="585.96" y="254.59" width="0.8" height="0.8" fill="#9a4a50"/>
<rect x="593.59" y="225.75" width="0.8" height="0.8" fill="#b4aeaa"/>
<rect x="585.91" y="226.66" width="0.8" height="0.8" fill="#cac6c2"/>
<rect x="606.24" y="231.98" width="0.8" height="0.8" fill="#b8b0ae"/>
<rect x="556.57" y="237.58" width="0.8" height="0.8" fill="#7e3a40"/>
<rect x="623.02" y="261.08" width="0.8" height="0.8" fill="#a49a98"/>
<rect x="555.57" y="242.07" width="0.8" height="0.8" fill="#c8c2c0"/>
<rect x="612.76" y="251.14" width="0.8" height="0.8" fill="#a89e9c"/>
<rect x="597.21" y="255.12" width="0.8" height="0.8" fill="#d2ccca"/>
<rect x="558.53" y="236.02" width="0.8" height="0.8" fill="#cac6c2"/>
<rect x="632.07" y="260.66" width="0.8" height="0.8" fill="#ccc6c4"/>
<rect x="602.76" y="253.13" width="0.8" height="0.8" fill="#ccc6c4"/>
<rect x="597.65" y="249.71" width="0.8" height="0.8" fill="#a89e9c"/>
<rect x="597.15" y="256.31" width="0.8" height="0.8" fill="#a89e9c"/>
<rect x="575.06" y="244.08" width="0.8" height="0.8" fill="#9a4a50"/>
<rect x="606.01" y="255.52" width="0.8" height="0.8" fill="#c0b8b6"/>
<rect x="561.88" y="230.35" width="0.8" height="0.8" fill="#b8b0ae"/>
<rect x="540.87" y="235.22" width="0.8" height="0.8" fill="#d2ccca"/>
<rect x="629.15" y="262.56" width="0.8" height="0.8" fill="#b4aeaa"/>
<rect x="573.46" y="230.25" width="0.8" height="0.8" fill="#d2ccca"/>
<rect x="617.68" y="264.05" width="0.8" height="0.8" fill="#a49a98"/>
<rect x="612.87" y="234.39" width="0.8" height="0.8" fill="#cac6c2"/>
<rect x="589.37" y="222.76" width="0.8" height="0.8" fill="#b4aeaa"/>
<rect x="609.59" y="261.27" width="0.8" height="0.8" fill="#a49a98"/>
<rect x="630.98" y="259.56" width="0.8" height="0.8" fill="#b8b0ae"/>
<rect x="604.56" y="242.06" width="0.8" height="0.8" fill="#a89e9c"/>
<rect x="592.55" y="254.01" width="0.8" height="0.8" fill="#c4beba"/>
<rect x="566.15" y="238.05" width="0.8" height="0.8" fill="#c4beba"/>
<rect x="600.69" y="228.24" width="0.8" height="0.8" fill="#b4aeaa"/>
<rect x="595.44" y="225.6" width="0.8" height="0.8" fill="#a49a98"/>
<rect x="535.85" y="233.63" width="0.8" height="0.8" fill="#b4aeaa"/>
<rect x="621.77" y="244.44" width="0.8" height="0.8" fill="#aca6a2"/>
<rect x="595.49" y="237.08" width="0.8" height="0.8" fill="#b8b0ae"/>
<rect x="632.13" y="260.12" width="0.8" height="0.8" fill="#b4aeaa"/>
<rect x="578.28" y="229.41" width="0.8" height="0.8" fill="#d2ccca"/>
<rect x="585.01" y="225.62" width="0.8" height="0.8" fill="#cac6c2"/>
<rect x="553.04" y="237.04" width="0.8" height="0.8" fill="#b4aeac"/>
<rect x="552.28" y="229.64" width="0.8" height="0.8" fill="#cac6c2"/>
<rect x="605.69" y="255.09" width="0.8" height="0.8" fill="#aca6a2"/>
<rect x="586.93" y="252.81" width="0.8" height="0.8" fill="#c8c2c0"/>
<rect x="560.13" y="241.64" width="0.8" height="0.8" fill="#ccc6c4"/>
<rect x="588.87" y="240.8" width="0.8" height="0.8" fill="#a49a98"/>
<rect x="609.48" y="244.55" width="0.8" height="0.8" fill="#c0b8b6"/>
<rect x="584.37" y="239.42" width="0.8" height="0.8" fill="#d2ccca"/>
<rect x="597.03" y="258.52" width="0.8" height="0.8" fill="#c0b8b6"/>
<rect x="609.14" y="258.21" width="0.8" height="0.8" fill="#b4aeac"/>
<rect x="621.11" y="257.64" width="0.8" height="0.8" fill="#aca6a2"/>
<rect x="611.6" y="258.44" width="0.8" height="0.8" fill="#c8c2c0"/>
<rect x="622.75" y="266.12" width="0.8" height="0.8" fill="#a49a98"/>
<rect x="585.24" y="234.77" width="0.8" height="0.8" fill="#c0b8b6"/>
<rect x="615.76" y="255.97" width="0.8" height="0.8" fill="#c8c2c0"/>
<rect x="589.95" y="240.22" width="0.8" height="0.8" fill="#b4aeaa"/>
<rect x="556.35" y="239.98" width="0.8" height="0.8" fill="#b4aeac"/>
<rect x="612.97" y="238.12" width="0.8" height="0.8" fill="#c8c2c0"/>
<rect x="628.99" y="265.72" width="0.8" height="0.8" fill="#968a8a"/>
<rect x="555.77" y="236.48" width="0.8" height="0.8" fill="#c0b8b6"/>
<rect x="565.64" y="225.67" width="0.8" height="0.8" fill="#ccc6c4"/>
<rect x="608.08" y="235.57" width="0.8" height="0.8" fill="#d2ccca"/>
<rect x="613.78" y="254.1" width="0.8" height="0.8" fill="#968a8a"/>
<rect x="552.84" y="243.01" width="0.8" height="0.8" fill="#c0b8b6"/>
<rect x="600.05" y="242.03" width="0.8" height="0.8" fill="#c4beba"/>
<rect x="631.37" y="264.82" width="0.8" height="0.8" fill="#a89e9c"/>
<rect x="614.57" y="261.15" width="0.8" height="0.8" fill="#c0b8b6"/>
<rect x="626.51" y="257.71" width="0.8" height="0.8" fill="#d2ccca"/>
<rect x="559.78" y="236" width="0.8" height="0.8" fill="#d2ccca"/>
<rect x="547.58" y="241.76" width="0.8" height="0.8" fill="#a89e9c"/>
<rect x="621.55" y="240.84" width="0.8" height="0.8" fill="#968a8a"/>
<rect x="581.76" y="252.94" width="0.8" height="0.8" fill="#7e3a40"/>
<rect x="613.64" y="259.02" width="0.8" height="0.8" fill="#d2ccca"/>
<rect x="565.85" y="230.03" width="0.8" height="0.8" fill="#cac6c2"/>
<rect x="587.5" y="244.31" width="0.8" height="0.8" fill="#cac6c2"/>
<rect x="600.38" y="252.46" width="0.8" height="0.8" fill="#d2ccca"/>
<rect x="563.87" y="236.59" width="0.8" height="0.8" fill="#c8c2c0"/>
<rect x="602.94" y="250.13" width="0.8" height="0.8" fill="#a49a98"/>
<rect x="647.01" y="256.85" width="0.8" height="0.8" fill="#aca6a2"/>
<rect x="630.98" y="259.82" width="0.8" height="0.8" fill="#c0b8b6"/>
<rect x="570.42" y="245.84" width="0.8" height="0.8" fill="#d2ccca"/>
<rect x="605.61" y="230.17" width="0.8" height="0.8" fill="#b4aeaa"/>
<rect x="569.09" y="233.31" width="0.8" height="0.8" fill="#b4aeac"/>
<rect x="530.39" y="236" width="0.8" height="0.8" fill="#d2ccca"/>
<rect x="589.79" y="255.66" width="0.8" height="0.8" fill="#b4aeac"/>
<rect x="588" y="233.54" width="0.8" height="0.8" fill="#ccc6c4"/>
<rect x="574.31" y="227.47" width="0.8" height="0.8" fill="#b4aeac"/>
<rect x="609.57" y="255.26" width="0.8" height="0.8" fill="#b4aeac"/>
<rect x="614.14" y="259.04" width="0.8" height="0.8" fill="#ccc6c4"/>
<rect x="600.63" y="259.41" width="0.8" height="0.8" fill="#9a4a50"/>
<rect x="565.5" y="237.2" width="0.8" height="0.8" fill="#c8c2c0"/>
<rect x="588.63" y="228.56" width="0.8" height="0.8" fill="#b4aeac"/>
<rect x="593.38" y="247.97" width="0.8" height="0.8" fill="#c8c2c0"/>
<rect x="538.23" y="231.98" width="0.8" height="0.8" fill="#b4aeac"/>
<rect x="568.63" y="227.96" width="0.8" height="0.8" fill="#b4aeaa"/>
<rect x="598.7" y="257.46" width="0.8" height="0.8" fill="#d2ccca"/>
<rect x="624.99" y="245.33" width="0.8" height="0.8" fill="#b8b0ae"/>
<rect x="615.9" y="250.87" width="0.8" height="0.8" fill="#968a8a"/>
<rect x="587.37" y="228.9" width="0.8" height="0.8" fill="#a89e9c"/>
<rect x="576.54" y="249.68" width="0.8" height="0.8" fill="#8e5a5e"/>
<rect x="629.4" y="250" width="0.8" height="0.8" fill="#b4aeaa"/>
<rect x="586.95" y="228.14" width="0.8" height="0.8" fill="#c8c2c0"/>
<rect x="594.26" y="231.71" width="0.8" height="0.8" fill="#cac6c2"/>
<rect x="632.24" y="249.13" width="0.8" height="0.8" fill="#cac6c2"/>
<rect x="625.07" y="246.01" width="0.8" height="0.8" fill="#cac6c2"/>
<rect x="577.45" y="234.76" width="0.8" height="0.8" fill="#ccc6c4"/>
<rect x="564.86" y="245.6" width="0.8" height="0.8" fill="#a49a98"/>
<rect x="576.64" y="233.43" width="0.8" height="0.8" fill="#a49a98"/>
<rect x="571.63" y="234.32" width="0.8" height="0.8" fill="#b8b0ae"/>
<rect x="599.31" y="236.02" width="0.8" height="0.8" fill="#c4beba"/>
<rect x="601.88" y="240.1" width="0.8" height="0.8" fill="#9c9290"/>
<rect x="610.04" y="260.96" width="0.8" height="0.8" fill="#7e3a40"/>
<rect x="576.84" y="228.64" width="0.8" height="0.8" fill="#ccc6c4"/>
<rect x="600.93" y="258.65" width="0.8" height="0.8" fill="#c0b8b6"/>
<rect x="587.64" y="255.37" width="0.8" height="0.8" fill="#8e5a5e"/>
<rect x="623.08" y="258.85" width="0.8" height="0.8" fill="#d2ccca"/>
<rect x="616.37" y="254.96" width="0.8" height="0.8" fill="#d2ccca"/>
<rect x="583.14" y="225.3" width="0.8" height="0.8" fill="#cac6c2"/>
<rect x="621.62" y="250.34" width="0.8" height="0.8" fill="#b4aeac"/>
<rect x="606.99" y="252.32" width="0.8" height="0.8" fill="#968a8a"/>
<rect x="575.13" y="249.41" width="0.8" height="0.8" fill="#b4aeac"/>
<rect x="602.61" y="228.44" width="0.8" height="0.8" fill="#aca6a2"/>
<rect x="636.77" y="255.94" width="0.8" height="0.8" fill="#c4beba"/>
<rect x="597.61" y="258.47" width="0.8" height="0.8" fill="#c8c2c0"/>
<rect x="601.45" y="253.03" width="0.8" height="0.8" fill="#c0b8b6"/>
<rect x="543.69" y="232.25" width="0.8" height="0.8" fill="#c8c2c0"/>
<rect x="551.2" y="242.05" width="0.8" height="0.8" fill="#b4aeac"/>
<rect x="618.95" y="265.92" width="0.8" height="0.8" fill="#a89e9c"/>
<rect x="605.37" y="242.48" width="0.8" height="0.8" fill="#d2ccca"/>
<rect x="610.04" y="240.89" width="0.8" height="0.8" fill="#c4beba"/>
<rect x="599.67" y="233.31" width="0.8" height="0.8" fill="#968a8a"/>
<rect x="589.59" y="228.28" width="0.8" height="0.8" fill="#c0b8b6"/>
<rect x="586.59" y="239.27" width="0.8" height="0.8" fill="#9c9290"/>
<rect x="582.87" y="231.11" width="0.8" height="0.8" fill="#cac6c2"/>
<rect x="591.15" y="236.97" width="0.8" height="0.8" fill="#c4beba"/>
<rect x="601.39" y="236.49" width="0.8" height="0.8" fill="#9c9290"/>
<rect x="567.91" y="246.32" width="0.8" height="0.8" fill="#7e3a40"/>
<rect x="597.3" y="233.44" width="0.8" height="0.8" fill="#c0b8b6"/>
<rect x="617.58" y="244.86" width="0.8" height="0.8" fill="#cac6c2"/>
<rect x="597.72" y="241.13" width="0.8" height="0.8" fill="#9c9290"/>
<rect x="614.39" y="260.96" width="0.8" height="0.8" fill="#b8b0ae"/>
<rect x="618" y="262.7" width="0.8" height="0.8" fill="#b4aeaa"/>
<rect x="560.97" y="239.07" width="0.8" height="0.8" fill="#c0b8b6"/>
<rect x="609.79" y="262.07" width="0.8" height="0.8" fill="#968a8a"/>
<rect x="612.09" y="251.29" width="0.8" height="0.8" fill="#c4beba"/>
<rect x="615" y="253.31" width="0.8" height="0.8" fill="#aca6a2"/>
<rect x="573.31" y="247.93" width="0.8" height="0.8" fill="#9a4a50"/>
<rect x="579.07" y="228.19" width="0.8" height="0.8" fill="#cac6c2"/>
<rect x="551.77" y="231.88" width="0.8" height="0.8" fill="#a89e9c"/>
<rect x="614.1" y="234.67" width="0.8" height="0.8" fill="#c4beba"/>
<rect x="635.45" y="248.1" width="0.8" height="0.8" fill="#b4aeaa"/>
<rect x="579.31" y="237.22" width="0.8" height="0.8" fill="#aca6a2"/>
<rect x="544.52" y="238.81" width="0.8" height="0.8" fill="#b8b0ae"/>
<rect x="608.36" y="233.94" width="0.8" height="0.8" fill="#b4aeaa"/>
<rect x="601.36" y="241.92" width="0.8" height="0.8" fill="#9c9290"/>
<rect x="618.29" y="239.54" width="0.8" height="0.8" fill="#cac6c2"/>
<rect x="595.24" y="244.53" width="0.8" height="0.8" fill="#9c9290"/>
<rect x="579.48" y="252.05" width="0.8" height="0.8" fill="#c0b8b6"/>
<rect x="588.21" y="239.73" width="0.8" height="0.8" fill="#c4beba"/>
<rect x="596.97" y="243.64" width="0.8" height="0.8" fill="#b8b0ae"/>
<rect x="545.12" y="240.4" width="0.8" height="0.8" fill="#6e2a30"/>
<rect x="599.61" y="236.23" width="0.8" height="0.8" fill="#b4aeaa"/>
<rect x="564.71" y="242.76" width="0.8" height="0.8" fill="#a89e9c"/>
<rect x="560.23" y="243.05" width="0.8" height="0.8" fill="#d2ccca"/>
<rect x="590.4" y="229.76" width="0.8" height="0.8" fill="#cac6c2"/>
<rect x="640.99" y="252.28" width="0.8" height="0.8" fill="#cac6c2"/>
<rect x="614.36" y="241.6" width="0.8" height="0.8" fill="#cac6c2"/>
<rect x="575.07" y="246.29" width="0.8" height="0.8" fill="#9c9290"/>
<rect x="641.91" y="254.8" width="0.8" height="0.8" fill="#aca6a2"/>
<rect x="621.13" y="239.03" width="0.8" height="0.8" fill="#b4aeac"/>
<rect x="538.59" y="235.52" width="0.8" height="0.8" fill="#a49a98"/>
<rect x="602.62" y="255.34" width="0.8" height="0.8" fill="#a49a98"/>
<rect x="580.09" y="231.51" width="0.8" height="0.8" fill="#b4aeaa"/>
<rect x="624.09" y="254.65" width="0.8" height="0.8" fill="#cac6c2"/>
<rect x="634.23" y="249.93" width="0.8" height="0.8" fill="#a89e9c"/>
<rect x="616.31" y="236.78" width="0.8" height="0.8" fill="#aca6a2"/>
<rect x="645.5" y="255.39" width="0.8" height="0.8" fill="#c0b8b6"/>
<rect x="592.03" y="234.03" width="0.8" height="0.8" fill="#c8c2c0"/>
<rect x="587.06" y="223.22" width="0.8" height="0.8" fill="#c4beba"/>
<rect x="639.65" y="252.76" width="0.8" height="0.8" fill="#b4aeac"/>
<rect x="629.68" y="248.23" width="0.8" height="0.8" fill="#cac6c2"/>
<rect x="631.67" y="263.78" width="0.8" height="0.8" fill="#b4aeac"/>
<rect x="619.67" y="243.15" width="0.8" height="0.8" fill="#b8b0ae"/>
<rect x="616.47" y="249.55" width="0.8" height="0.8" fill="#aca6a2"/>
<rect x="608.31" y="232.61" width="0.8" height="0.8" fill="#a89e9c"/>
<rect x="640.32" y="251.13" width="0.8" height="0.8" fill="#c8c2c0"/>
<rect x="582.39" y="240.54" width="0.8" height="0.8" fill="#b4aeaa"/>
<rect x="623.26" y="256.2" width="0.8" height="0.8" fill="#b8b0ae"/>
<rect x="591.19" y="255.48" width="0.8" height="0.8" fill="#a89e9c"/>
<rect x="565.62" y="242.45" width="0.8" height="0.8" fill="#8e5a5e"/>
<rect x="600.15" y="252.17" width="0.8" height="0.8" fill="#a49a98"/>
<rect x="545.4" y="234.65" width="0.8" height="0.8" fill="#c8c2c0"/>
<rect x="571.76" y="245.23" width="0.8" height="0.8" fill="#b4aeac"/>
<rect x="635.55" y="253.76" width="0.8" height="0.8" fill="#d2ccca"/>
<rect x="571.66" y="231.32" width="0.8" height="0.8" fill="#b8b0ae"/>
<rect x="581.73" y="224.83" width="0.8" height="0.8" fill="#b4aeaa"/>
<rect x="576.54" y="246.26" width="0.8" height="0.8" fill="#9c9290"/>
<rect x="579.4" y="244.36" width="0.8" height="0.8" fill="#b4aeac"/>
<rect x="588.65" y="233.17" width="0.8" height="0.8" fill="#b4aeaa"/>
<rect x="617.1" y="256.76" width="0.8" height="0.8" fill="#cac6c2"/>
<rect x="600.49" y="229.08" width="0.8" height="0.8" fill="#ccc6c4"/>
<rect x="570.42" y="233.67" width="0.8" height="0.8" fill="#aca6a2"/>
<rect x="623.09" y="263.13" width="0.8" height="0.8" fill="#ccc6c4"/>
<rect x="605.48" y="254.07" width="0.8" height="0.8" fill="#d2ccca"/>
<rect x="565.29" y="230.79" width="0.8" height="0.8" fill="#b8b0ae"/>
<rect x="640.3" y="252.38" width="0.8" height="0.8" fill="#cac6c2"/>
<rect x="571.15" y="231.5" width="0.8" height="0.8" fill="#a49a98"/>
<rect x="555.84" y="236.09" width="0.8" height="0.8" fill="#d2ccca"/>
<rect x="602.6" y="256.93" width="0.8" height="0.8" fill="#8e5a5e"/>
<rect x="562.84" y="242.33" width="0.8" height="0.8" fill="#a49a98"/>
<rect x="601.45" y="253.36" width="0.8" height="0.8" fill="#b8b0ae"/>
<rect x="599.53" y="254.01" width="0.8" height="0.8" fill="#ccc6c4"/>
<rect x="607.84" y="260.4" width="0.8" height="0.8" fill="#a89e9c"/>
<rect x="596.92" y="254.08" width="0.8" height="0.8" fill="#a49a98"/>
<rect x="636.01" y="259.44" width="0.8" height="0.8" fill="#c4beba"/>
<rect x="619.38" y="250.4" width="0.8" height="0.8" fill="#7e3a40"/>
<rect x="608.5" y="237.62" width="0.8" height="0.8" fill="#c0b8b6"/>
<rect x="565.96" y="238.19" width="0.8" height="0.8" fill="#aca6a2"/>
<rect x="632.44" y="261.16" width="0.8" height="0.8" fill="#a89e9c"/>
<rect x="580.96" y="224.63" width="0.8" height="0.8" fill="#cac6c2"/>
<rect x="616.81" y="247.01" width="0.8" height="0.8" fill="#b4aeaa"/>
<rect x="562.78" y="247.29" width="0.8" height="0.8" fill="#6e2a30"/>
<rect x="621.94" y="239.16" width="0.8" height="0.8" fill="#b4aeaa"/>
<rect x="587.93" y="253.58" width="0.8" height="0.8" fill="#b8b0ae"/>
<rect x="575.09" y="231.13" width="0.8" height="0.8" fill="#c4beba"/>
<rect x="582.34" y="242.72" width="0.8" height="0.8" fill="#b4aeac"/>
<rect x="611.92" y="242.08" width="0.8" height="0.8" fill="#aca6a2"/>
<rect x="626.38" y="242.29" width="0.8" height="0.8" fill="#968a8a"/>
<rect x="548.77" y="232.09" width="0.8" height="0.8" fill="#b8b0ae"/>
<rect x="624.26" y="252.3" width="0.8" height="0.8" fill="#b8b0ae"/>
<rect x="602.96" y="256.68" width="0.8" height="0.8" fill="#b8b0ae"/>
<rect x="628.51" y="249.18" width="0.8" height="0.8" fill="#cac6c2"/>
<rect x="625.57" y="248.77" width="0.8" height="0.8" fill="#a89e9c"/>
<rect x="609.77" y="256.82" width="0.8" height="0.8" fill="#a49a98"/>
<rect x="576.06" y="231.9" width="0.8" height="0.8" fill="#b8b0ae"/>
<rect x="546.42" y="236.03" width="0.8" height="0.8" fill="#b8b0ae"/>
<rect x="578.68" y="236.92" width="0.8" height="0.8" fill="#a89e9c"/>
<rect x="622.06" y="245.17" width="0.8" height="0.8" fill="#b8b0ae"/>
<rect x="645.39" y="253.36" width="0.8" height="0.8" fill="#c4beba"/>
<rect x="614.63" y="255.49" width="0.8" height="0.8" fill="#7e3a40"/>
<rect x="623.63" y="265.66" width="0.8" height="0.8" fill="#9a4a50"/>
<rect x="600.41" y="256.3" width="0.8" height="0.8" fill="#c8c2c0"/>
<rect x="597" y="251.23" width="0.8" height="0.8" fill="#cac6c2"/>
<rect x="588.09" y="235.34" width="0.8" height="0.8" fill="#ccc6c4"/>
<rect x="540.88" y="234.85" width="0.8" height="0.8" fill="#ccc6c4"/>
<rect x="617.83" y="252.16" width="0.8" height="0.8" fill="#6e2a30"/>
<rect x="610.76" y="243.71" width="0.8" height="0.8" fill="#b4aeaa"/>
<rect x="568.31" y="233.47" width="0.8" height="0.8" fill="#b4aeaa"/>
<rect x="603.51" y="245.74" width="0.8" height="0.8" fill="#c0b8b6"/>
<rect x="614.81" y="244.41" width="0.8" height="0.8" fill="#b4aeac"/>
<rect x="630.7" y="251.93" width="0.8" height="0.8" fill="#cac6c2"/>
<rect x="631.14" y="253" width="0.8" height="0.8" fill="#cac6c2"/>
<rect x="545.02" y="238.17" width="0.8" height="0.8" fill="#b4aeac"/>
<rect x="596.47" y="235.12" width="0.8" height="0.8" fill="#a49a98"/>
<rect x="606.19" y="245.05" width="0.8" height="0.8" fill="#c4beba"/>
<rect x="618.35" y="238.59" width="0.8" height="0.8" fill="#c8c2c0"/>
<rect x="635.07" y="257.84" width="0.8" height="0.8" fill="#c8c2c0"/>
<rect x="618.4" y="257.18" width="0.8" height="0.8" fill="#b4aeaa"/>
<rect x="611.85" y="249.8" width="0.8" height="0.8" fill="#a89e9c"/>
<rect x="619.51" y="238.49" width="0.8" height="0.8" fill="#ccc6c4"/>
<rect x="595.96" y="243.29" width="0.8" height="0.8" fill="#a89e9c"/>
<rect x="596.31" y="253.58" width="0.8" height="0.8" fill="#d2ccca"/>
<rect x="631.56" y="260.09" width="0.8" height="0.8" fill="#b4aeac"/>
<rect x="587.39" y="249.41" width="0.8" height="0.8" fill="#b8b0ae"/>
<rect x="646.14" y="253.66" width="0.8" height="0.8" fill="#b4aeaa"/>
<rect x="612.54" y="243.9" width="0.8" height="0.8" fill="#a49a98"/>
<rect x="589.74" y="244.47" width="0.8" height="0.8" fill="#c4beba"/>
<rect x="573.73" y="238.23" width="0.8" height="0.8" fill="#a89e9c"/>
<rect x="591.05" y="246.34" width="0.8" height="0.8" fill="#6e2a30"/>
<rect x="635.79" y="248.16" width="0.8" height="0.8" fill="#b4aeac"/>
<rect x="589.08" y="253.64" width="0.8" height="0.8" fill="#c8c2c0"/>
<rect x="564.81" y="237.39" width="0.8" height="0.8" fill="#968a8a"/>
<rect x="561.14" y="238.04" width="0.8" height="0.8" fill="#ccc6c4"/>
<rect x="576.06" y="235.08" width="0.8" height="0.8" fill="#c8c2c0"/>
<rect x="558.32" y="245.84" width="0.8" height="0.8" fill="#b8b0ae"/>
<rect x="556.18" y="234.17" width="0.8" height="0.8" fill="#b8b0ae"/>
<rect x="621" y="253" width="0.8" height="0.8" fill="#b8b0ae"/>
<rect x="615.29" y="250.11" width="0.8" height="0.8" fill="#aca6a2"/>
<rect x="605.94" y="254.8" width="0.8" height="0.8" fill="#b8b0ae"/>
<rect x="572.39" y="241.19" width="0.8" height="0.8" fill="#b4aeaa"/>
<rect x="622.01" y="242.31" width="0.8" height="0.8" fill="#c0b8b6"/>
<rect x="583.74" y="238.67" width="0.8" height="0.8" fill="#c8c2c0"/>
<rect x="611.23" y="263.23" width="0.8" height="0.8" fill="#9a4a50"/>
<rect x="624.25" y="243.21" width="0.8" height="0.8" fill="#cac6c2"/>
<rect x="615.22" y="244.32" width="0.8" height="0.8" fill="#a89e9c"/>
<rect x="576.15" y="242.54" width="0.8" height="0.8" fill="#9c9290"/>
<rect x="571.76" y="232.61" width="0.8" height="0.8" fill="#a89e9c"/>
<rect x="585.01" y="243" width="0.8" height="0.8" fill="#b4aeac"/>
<rect x="554.17" y="234.04" width="0.8" height="0.8" fill="#a89e9c"/>
<rect x="558.74" y="235.37" width="0.8" height="0.8" fill="#9a4a50"/>
<rect x="606.08" y="236.74" width="0.8" height="0.8" fill="#c4beba"/>
<rect x="623.02" y="259.2" width="0.8" height="0.8" fill="#c8c2c0"/>
<rect x="630.02" y="246.55" width="0.8" height="0.8" fill="#ccc6c4"/>
<rect x="615.92" y="256.11" width="0.8" height="0.8" fill="#b8b0ae"/>
<rect x="646.03" y="258.47" width="0.8" height="0.8" fill="#b4aeac"/>
<rect x="570.07" y="235.08" width="0.8" height="0.8" fill="#c8c2c0"/>
<rect x="580.28" y="251.07" width="0.8" height="0.8" fill="#c0b8b6"/>
<rect x="568.4" y="225.75" width="0.8" height="0.8" fill="#b4aeaa"/>
<rect x="597.71" y="246.89" width="0.8" height="0.8" fill="#a89e9c"/>
<rect x="553" y="238.75" width="0.8" height="0.8" fill="#9a4a50"/>
<rect x="596.86" y="256.79" width="0.8" height="0.8" fill="#c8c2c0"/>
<rect x="583.77" y="252.27" width="0.8" height="0.8" fill="#b4aeac"/>
<rect x="638.41" y="254.79" width="0.8" height="0.8" fill="#cac6c2"/>
<rect x="623.3" y="256.03" width="0.8" height="0.8" fill="#b4aeac"/>
<rect x="556.35" y="243.29" width="0.8" height="0.8" fill="#d2ccca"/>
<rect x="627.65" y="247.19" width="0.8" height="0.8" fill="#968a8a"/>
<rect x="530.83" y="236.94" width="0.8" height="0.8" fill="#b8b0ae"/>
<rect x="604.9" y="241.82" width="0.8" height="0.8" fill="#b4aeaa"/>
<rect x="552.56" y="244.01" width="0.8" height="0.8" fill="#968a8a"/>
<rect x="578.12" y="246.03" width="0.8" height="0.8" fill="#c0b8b6"/>
<rect x="618.49" y="259.08" width="0.8" height="0.8" fill="#c4beba"/>
<rect x="622.24" y="244.63" width="0.8" height="0.8" fill="#aca6a2"/>
<rect x="556.06" y="234.51" width="0.8" height="0.8" fill="#a89e9c"/>
<rect x="582.75" y="254.39" width="0.8" height="0.8" fill="#ccc6c4"/>
<rect x="577.14" y="237.4" width="0.8" height="0.8" fill="#968a8a"/>
<rect x="597.39" y="232.12" width="0.8" height="0.8" fill="#968a8a"/>
<rect x="555.08" y="244.15" width="0.8" height="0.8" fill="#b8b0ae"/>
<rect x="600.9" y="233.38" width="0.8" height="0.8" fill="#b4aeac"/>
<rect x="633.64" y="254.37" width="0.8" height="0.8" fill="#c4beba"/>
<rect x="599.59" y="229.83" width="0.8" height="0.8" fill="#c0b8b6"/>
<rect x="615.16" y="250.79" width="0.8" height="0.8" fill="#ccc6c4"/>
<rect x="589.22" y="233.69" width="0.8" height="0.8" fill="#cac6c2"/>
<rect x="563.08" y="230.31" width="0.8" height="0.8" fill="#a49a98"/>
<rect x="545.98" y="238.47" width="0.8" height="0.8" fill="#ccc6c4"/>
<rect x="549.6" y="241.98" width="0.8" height="0.8" fill="#968a8a"/>
<rect x="567.58" y="228.25" width="0.8" height="0.8" fill="#9a4a50"/>
<rect x="596.32" y="253.51" width="0.8" height="0.8" fill="#b4aeaa"/>
<rect x="567.53" y="229.61" width="0.8" height="0.8" fill="#c4beba"/>
<rect x="634.86" y="250.85" width="0.8" height="0.8" fill="#ccc6c4"/>
<rect x="614.1" y="246.33" width="0.8" height="0.8" fill="#b4aeaa"/>
<rect x="605.99" y="244.35" width="0.8" height="0.8" fill="#968a8a"/>
<rect x="588.39" y="246.76" width="0.8" height="0.8" fill="#aca6a2"/>
<rect x="586.24" y="223.35" width="0.8" height="0.8" fill="#d2ccca"/>
<rect x="575.99" y="237.94" width="0.8" height="0.8" fill="#cac6c2"/>
<rect x="561.82" y="234.36" width="0.8" height="0.8" fill="#ccc6c4"/>
<polygon points="524,236 626.3,268.6 626.3,266 524,233.6" fill="#7a1420" opacity="0.75"/>
<line x1="524" y1="236.32" x2="524" y2="233.74" stroke="#7a3038" stroke-width="1.029091147917789"/>
<line x1="525.17" y1="236.69" x2="525.17" y2="232.52" stroke="#7a3038" stroke-width="0.8468828681627951"/>
<line x1="526.29" y1="237.05" x2="526.29" y2="231.94" stroke="#7a3038" stroke-width="0.9837763899745183"/>
<line x1="527.38" y1="237.4" x2="527.38" y2="234.56" stroke="#6a0414" stroke-width="1.028205494437494"/>
<line x1="528.67" y1="237.81" x2="528.67" y2="228.81" stroke="#6a0414" stroke-width="0.8403317707075486"/>
<line x1="529.72" y1="238.14" x2="529.72" y2="232.87" stroke="#7a0818" stroke-width="0.9083094898620723"/>
<line x1="530.84" y1="238.5" x2="530.84" y2="233.14" stroke="#8a0c1c" stroke-width="1.0232657306626027"/>
<line x1="531.49" y1="238.7" x2="531.49" y2="232.28" stroke="#7a3038" stroke-width="0.962021477629225"/>
<line x1="532.43" y1="239" x2="532.43" y2="231.76" stroke="#6a0414" stroke-width="0.7116829888890774"/>
<line x1="533.38" y1="239.3" x2="533.38" y2="236.48" stroke="#7a0818" stroke-width="0.8242704930456815"/>
<line x1="534.18" y1="239.55" x2="534.18" y2="235.25" stroke="#8a0c1c" stroke-width="1.0292188033769143"/>
<line x1="535.34" y1="239.92" x2="535.34" y2="235.81" stroke="#a01626" stroke-width="0.9848003482287382"/>
<line x1="536.57" y1="240.31" x2="536.57" y2="236.71" stroke="#7a3038" stroke-width="0.8135305040747098"/>
<line x1="537.72" y1="240.68" x2="537.72" y2="232.73" stroke="#7a0818" stroke-width="0.9489718243062085"/>
<line x1="538.58" y1="240.95" x2="538.58" y2="234.83" stroke="#6a0414" stroke-width="0.7908582136707998"/>
<line x1="539.7" y1="241.31" x2="539.7" y2="238.94" stroke="#7a3038" stroke-width="0.779930298365778"/>
<line x1="540.34" y1="241.51" x2="540.34" y2="236.05" stroke="#a01626" stroke-width="0.9939730799189823"/>
<line x1="541.42" y1="241.85" x2="541.42" y2="236.99" stroke="#6a0414" stroke-width="0.7233693249449051"/>
<line x1="542.08" y1="242.06" x2="542.08" y2="236.83" stroke="#7a0818" stroke-width="1.180346504666208"/>
<line x1="542.91" y1="242.33" x2="542.91" y2="238.23" stroke="#a01626" stroke-width="0.9895352276924525"/>
<line x1="544.09" y1="242.7" x2="544.09" y2="238.31" stroke="#a01626" stroke-width="0.7998616075724373"/>
<line x1="545.37" y1="243.11" x2="545.37" y2="234.43" stroke="#7a0818" stroke-width="1.1530044228781762"/>
<line x1="546.7" y1="243.53" x2="546.7" y2="241.06" stroke="#6a0414" stroke-width="0.964906491695427"/>
<line x1="547.65" y1="243.83" x2="547.65" y2="239.89" stroke="#a01626" stroke-width="0.9779219036412115"/>
<line x1="548.58" y1="244.13" x2="548.58" y2="239.39" stroke="#7a3038" stroke-width="0.7345559837633704"/>
<line x1="549.78" y1="244.51" x2="549.78" y2="239.39" stroke="#7a3038" stroke-width="1.1854273515318723"/>
<line x1="550.41" y1="244.71" x2="550.41" y2="240.2" stroke="#8a0c1c" stroke-width="0.9045080790307514"/>
<line x1="551.12" y1="244.93" x2="551.12" y2="240.41" stroke="#8a0c1c" stroke-width="1.1821342201549967"/>
<line x1="552.15" y1="245.26" x2="552.15" y2="242.72" stroke="#6a0414" stroke-width="0.7890477362378701"/>
<line x1="552.91" y1="245.5" x2="552.91" y2="241.55" stroke="#6a0414" stroke-width="1.1596918478651124"/>
<line x1="554.02" y1="245.85" x2="554.02" y2="242.65" stroke="#7a0818" stroke-width="0.7959168565905613"/>
<line x1="554.75" y1="246.08" x2="554.75" y2="243.8" stroke="#7a3038" stroke-width="1.00727109960869"/>
<line x1="556.04" y1="246.5" x2="556.04" y2="241.68" stroke="#a01626" stroke-width="0.89412940537444"/>
<line x1="557.31" y1="246.9" x2="557.31" y2="242.79" stroke="#7a0818" stroke-width="0.9538515743571884"/>
<line x1="558.6" y1="247.31" x2="558.6" y2="244.66" stroke="#6a0414" stroke-width="0.8459396919341757"/>
<line x1="559.84" y1="247.7" x2="559.84" y2="242.02" stroke="#7a3038" stroke-width="0.7221074857782201"/>
<line x1="561.15" y1="248.12" x2="561.15" y2="243.28" stroke="#a01626" stroke-width="1.00043791047081"/>
<line x1="562.49" y1="248.54" x2="562.49" y2="244.71" stroke="#7a3038" stroke-width="0.7264752638610397"/>
<line x1="563.34" y1="248.81" x2="563.34" y2="246.32" stroke="#8a0c1c" stroke-width="1.0853022258152292"/>
<line x1="564.21" y1="249.09" x2="564.21" y2="245.75" stroke="#6a0414" stroke-width="0.8103505894601174"/>
<line x1="565.01" y1="249.34" x2="565.01" y2="245.99" stroke="#6a0414" stroke-width="0.7189129295953749"/>
<line x1="566.3" y1="249.75" x2="566.3" y2="245.56" stroke="#7a3038" stroke-width="1.1783469224170897"/>
<line x1="567.1" y1="250" x2="567.1" y2="246.19" stroke="#8a0c1c" stroke-width="0.8231486231403784"/>
<line x1="568.05" y1="250.31" x2="568.05" y2="245.56" stroke="#7a3038" stroke-width="0.9069565421464671"/>
<line x1="569.33" y1="250.71" x2="569.33" y2="245.26" stroke="#8a0c1c" stroke-width="0.8989056759632987"/>
<line x1="570.58" y1="251.11" x2="570.58" y2="245.81" stroke="#8a0c1c" stroke-width="0.9205994200733996"/>
<line x1="571.42" y1="251.38" x2="571.42" y2="244.99" stroke="#7a3038" stroke-width="1.0078433452714788"/>
<line x1="572.71" y1="251.79" x2="572.71" y2="249.23" stroke="#a01626" stroke-width="0.7380277791616803"/>
<line x1="573.45" y1="252.02" x2="573.45" y2="249.1" stroke="#7a0818" stroke-width="0.9048252952875517"/>
<line x1="574.19" y1="252.26" x2="574.19" y2="248.53" stroke="#7a3038" stroke-width="0.7918018151736945"/>
<line x1="575.36" y1="252.63" x2="575.36" y2="247.61" stroke="#8a0c1c" stroke-width="0.7639862203307661"/>
<line x1="576.62" y1="253.03" x2="576.62" y2="245.64" stroke="#a01626" stroke-width="0.7529227974580417"/>
<line x1="577.53" y1="253.32" x2="577.53" y2="245.1" stroke="#7a0818" stroke-width="1.092234307820821"/>
<line x1="578.66" y1="253.67" x2="578.66" y2="251.2" stroke="#7a0818" stroke-width="1.0517830169466988"/>
<line x1="579.81" y1="254.04" x2="579.81" y2="251.58" stroke="#a01626" stroke-width="0.717398815968755"/>
<line x1="580.43" y1="254.24" x2="580.43" y2="250.69" stroke="#7a0818" stroke-width="1.1644551399932332"/>
<line x1="581.79" y1="254.67" x2="581.79" y2="248.77" stroke="#7a3038" stroke-width="1.1648846496116674"/>
<line x1="582.63" y1="254.94" x2="582.63" y2="249.93" stroke="#7a0818" stroke-width="0.7234321323422339"/>
<line x1="583.81" y1="255.31" x2="583.81" y2="251.32" stroke="#7a3038" stroke-width="1.0539849913020836"/>
<line x1="584.64" y1="255.57" x2="584.64" y2="248.3" stroke="#6a0414" stroke-width="1.0778443272327674"/>
<line x1="585.7" y1="255.91" x2="585.7" y2="253.42" stroke="#7a3038" stroke-width="0.7249956768926514"/>
<line x1="586.32" y1="256.11" x2="586.32" y2="250.25" stroke="#8a0c1c" stroke-width="0.9105964230805486"/>
<line x1="587.46" y1="256.47" x2="587.46" y2="252.33" stroke="#6a0414" stroke-width="0.9477569838564963"/>
<line x1="588.75" y1="256.88" x2="588.75" y2="254.74" stroke="#8a0c1c" stroke-width="1.0410689143033556"/>
<line x1="589.46" y1="257.1" x2="589.46" y2="254.27" stroke="#8a0c1c" stroke-width="0.923847084792576"/>
<line x1="590.5" y1="257.43" x2="590.5" y2="248.3" stroke="#7a0818" stroke-width="0.8118216178234587"/>
<line x1="591.25" y1="257.67" x2="591.25" y2="254.96" stroke="#7a3038" stroke-width="0.721570737199741"/>
<line x1="592.63" y1="258.11" x2="592.63" y2="252.78" stroke="#8a0c1c" stroke-width="0.7664274725473232"/>
<line x1="593.32" y1="258.33" x2="593.32" y2="253.56" stroke="#7a3038" stroke-width="1.0900962677808614"/>
<line x1="593.99" y1="258.54" x2="593.99" y2="253.65" stroke="#7a3038" stroke-width="0.9699867348689376"/>
<line x1="595.34" y1="258.97" x2="595.34" y2="255.72" stroke="#8a0c1c" stroke-width="0.9310506051377021"/>
<line x1="596.56" y1="259.36" x2="596.56" y2="256.98" stroke="#a01626" stroke-width="1.0521563004894687"/>
<line x1="597.52" y1="259.66" x2="597.52" y2="254.97" stroke="#8a0c1c" stroke-width="0.9157224654135876"/>
<line x1="598.58" y1="260" x2="598.58" y2="256.75" stroke="#8a0c1c" stroke-width="0.7421719272420808"/>
<line x1="599.42" y1="260.27" x2="599.42" y2="254.93" stroke="#7a3038" stroke-width="0.7134717878918482"/>
<line x1="600.62" y1="260.65" x2="600.62" y2="255.08" stroke="#7a3038" stroke-width="0.8922903829013563"/>
<line x1="601.29" y1="260.86" x2="601.29" y2="253.29" stroke="#a01626" stroke-width="1.1933702178891226"/>
<line x1="602.19" y1="261.15" x2="602.19" y2="251.97" stroke="#7a3038" stroke-width="0.944521190777937"/>
<line x1="603.22" y1="261.47" x2="603.22" y2="257.89" stroke="#6a0414" stroke-width="1.177569180470121"/>
<line x1="604.51" y1="261.88" x2="604.51" y2="257.18" stroke="#a01626" stroke-width="1.0935140254509834"/>
<line x1="605.7" y1="262.26" x2="605.7" y2="256.78" stroke="#a01626" stroke-width="1.045749898298575"/>
<line x1="606.95" y1="262.66" x2="606.95" y2="253.95" stroke="#6a0414" stroke-width="0.9484839781395122"/>
<line x1="607.8" y1="262.93" x2="607.8" y2="256.51" stroke="#7a0818" stroke-width="0.9506587088046932"/>
<line x1="608.85" y1="263.26" x2="608.85" y2="258.58" stroke="#6a0414" stroke-width="1.1636998163128698"/>
<line x1="610.07" y1="263.65" x2="610.07" y2="259.55" stroke="#7a0818" stroke-width="0.741499760845935"/>
<line x1="611.02" y1="263.95" x2="611.02" y2="258.47" stroke="#7a3038" stroke-width="1.1846160323190713"/>
<line x1="612.37" y1="264.38" x2="612.37" y2="261.46" stroke="#a01626" stroke-width="1.119534324238497"/>
<line x1="613.35" y1="264.69" x2="613.35" y2="261.39" stroke="#7a0818" stroke-width="0.9721987199856208"/>
<line x1="614.7" y1="265.12" x2="614.7" y2="260.56" stroke="#6a0414" stroke-width="0.9454865411872115"/>
<line x1="615.93" y1="265.51" x2="615.93" y2="262.27" stroke="#8a0c1c" stroke-width="0.9821950084193275"/>
<line x1="616.6" y1="265.72" x2="616.6" y2="261.19" stroke="#7a3038" stroke-width="0.8532013544168596"/>
<line x1="617.31" y1="265.95" x2="617.31" y2="263.87" stroke="#7a0818" stroke-width="0.7023692371751347"/>
<line x1="618.26" y1="266.25" x2="618.26" y2="261.19" stroke="#7a3038" stroke-width="1.1209140049851776"/>
<line x1="619.18" y1="266.54" x2="619.18" y2="261.37" stroke="#6a0414" stroke-width="0.9387335408094608"/>
<line x1="620.23" y1="266.87" x2="620.23" y2="262.96" stroke="#7a3038" stroke-width="1.0565119111820742"/>
<line x1="621.09" y1="267.15" x2="621.09" y2="258.19" stroke="#7a0818" stroke-width="0.7224630745272228"/>
<line x1="621.82" y1="267.38" x2="621.82" y2="263.71" stroke="#8a0c1c" stroke-width="0.7739884764281808"/>
<line x1="622.48" y1="267.59" x2="622.48" y2="265.57" stroke="#a01626" stroke-width="0.7926630882883188"/>
<line x1="623.46" y1="267.9" x2="623.46" y2="264.32" stroke="#7a0818" stroke-width="1.0465316573006787"/>
<line x1="624.75" y1="268.31" x2="624.75" y2="264.34" stroke="#6a0414" stroke-width="1.0555128745386044"/>
<line x1="625.67" y1="268.6" x2="625.67" y2="263.35" stroke="#7a0818" stroke-width="0.7246633005244962"/>
<line x1="626.5" y1="268.86" x2="626.5" y2="264.79" stroke="#8a0c1c" stroke-width="0.7035633620131665"/>
<line x1="530" y1="232.6" x2="560.4" y2="224.6" stroke="#6a78b8" stroke-width="0.8"/>
<polygon points="490.9,241.5 490.9,205 491.4,202.6 492.4,202.11 492.87,201.07 493.56,201.63 494.03,200.81 494.5,201.69 495.44,200.58 496.19,201.04 496.87,200.18 497.4,200.61 497.95,200.76 498.91,200.25 499.36,202.46 500.19,200.68 500.63,200.32 501.59,200.34 502.07,199.85 502.66,199.36 503.3,199.45 504.16,200.34 504.96,199.04 505.82,199.93 506.32,198.75 507.26,198.65 508.14,198.91 508.74,198.93 509.16,198.59 509.99,200.12 510.52,198.89 511.06,199.23 512.01,199.37 512.45,199.05 513.12,198.28 514.06,198.05 514.95,198.41 515.84,197.46 516.46,197.7 517.39,197.3 517.88,197.18 518.82,197.99 519.27,199.43 519.86,196.9 520.31,197.31 521.14,196.86 521.9,197.34 522.81,196.23 523,196.35 523,235.3" fill="url(#gw3)"/>
<polygon points="560.8,224.2 560.8,190.5 561.4,189 562.5,188.91 562.95,189.15 563.87,189.1 564.77,188.21 565.65,188.04 566.22,188.22 566.95,189.8 567.89,187.6 568.55,187.88 569.18,190.2 570.05,188.21 570.74,187.77 571.38,188.01 572.03,187.29 572.52,187.29 573.29,186.95 574.27,187.65 574.87,187.1 575.74,187.09 576.43,186.35 577.3,187.12 577.82,186.8 578.65,186.02 579.35,186.22 580.18,186.67 580.96,186.41 581.56,185.92 582.34,186.15 582.94,186.19 583.42,185.95 584.38,185.37 584.82,185.51 585.2,185.19 585.2,219.2" fill="url(#gw4)"/>
<line x1="523.6" y1="235.71" x2="523.6" y2="232.42" stroke="#a01424" stroke-width="0.8"/>
<line x1="524.79" y1="235.37" x2="524.79" y2="231.73" stroke="#a01424" stroke-width="0.8"/>
<line x1="525.6" y1="235.13" x2="525.6" y2="232.97" stroke="#a01424" stroke-width="0.8"/>
<line x1="526.43" y1="234.89" x2="526.43" y2="231.21" stroke="#c02030" stroke-width="0.8"/>
<line x1="527.63" y1="234.54" x2="527.63" y2="231.48" stroke="#c02030" stroke-width="0.8"/>
<line x1="528.55" y1="234.27" x2="528.55" y2="232" stroke="#c02030" stroke-width="0.8"/>
<line x1="529.4" y1="234.02" x2="529.4" y2="231.84" stroke="#a01424" stroke-width="0.8"/>
<line x1="530.19" y1="233.79" x2="530.19" y2="232.18" stroke="#c02030" stroke-width="0.8"/>
<line x1="531.11" y1="233.53" x2="531.11" y2="232.1" stroke="#7a0818" stroke-width="0.8"/>
<line x1="532.37" y1="233.16" x2="532.37" y2="231.42" stroke="#c02030" stroke-width="0.8"/>
<line x1="533.42" y1="232.86" x2="533.42" y2="230.05" stroke="#a01424" stroke-width="0.8"/>
<line x1="534.24" y1="232.62" x2="534.24" y2="231.29" stroke="#7a0818" stroke-width="0.8"/>
<line x1="535.03" y1="232.38" x2="535.03" y2="230.91" stroke="#c02030" stroke-width="0.8"/>
<line x1="536.12" y1="232.07" x2="536.12" y2="229.13" stroke="#a01424" stroke-width="0.8"/>
<line x1="537.3" y1="231.73" x2="537.3" y2="230.15" stroke="#c02030" stroke-width="0.8"/>
<line x1="538" y1="231.52" x2="538" y2="229.47" stroke="#a01424" stroke-width="0.8"/>
<line x1="538.87" y1="231.27" x2="538.87" y2="228.06" stroke="#c02030" stroke-width="0.8"/>
<line x1="540.02" y1="230.93" x2="540.02" y2="228.54" stroke="#7a0818" stroke-width="0.8"/>
<line x1="541.1" y1="230.62" x2="541.1" y2="226.97" stroke="#c02030" stroke-width="0.8"/>
<line x1="541.92" y1="230.38" x2="541.92" y2="227.17" stroke="#7a0818" stroke-width="0.8"/>
<line x1="542.81" y1="230.12" x2="542.81" y2="226.78" stroke="#a01424" stroke-width="0.8"/>
<line x1="544.1" y1="229.74" x2="544.1" y2="226.32" stroke="#7a0818" stroke-width="0.8"/>
<line x1="545.03" y1="229.48" x2="545.03" y2="226.81" stroke="#7a0818" stroke-width="0.8"/>
<line x1="545.9" y1="229.22" x2="545.9" y2="227.26" stroke="#c02030" stroke-width="0.8"/>
<line x1="546.94" y1="228.92" x2="546.94" y2="226.92" stroke="#a01424" stroke-width="0.8"/>
<line x1="548.14" y1="228.57" x2="548.14" y2="227.11" stroke="#c02030" stroke-width="0.8"/>
<line x1="548.93" y1="228.34" x2="548.93" y2="225.63" stroke="#7a0818" stroke-width="0.8"/>
<line x1="549.74" y1="228.1" x2="549.74" y2="224.91" stroke="#c02030" stroke-width="0.8"/>
<line x1="550.84" y1="227.78" x2="550.84" y2="225.45" stroke="#7a0818" stroke-width="0.8"/>
<line x1="551.7" y1="227.53" x2="551.7" y2="225.69" stroke="#a01424" stroke-width="0.8"/>
<line x1="552.98" y1="227.16" x2="552.98" y2="224.09" stroke="#a01424" stroke-width="0.8"/>
<line x1="554.24" y1="226.79" x2="554.24" y2="225.19" stroke="#c02030" stroke-width="0.8"/>
<line x1="555.02" y1="226.56" x2="555.02" y2="223.87" stroke="#a01424" stroke-width="0.8"/>
<line x1="555.8" y1="226.34" x2="555.8" y2="223.5" stroke="#c02030" stroke-width="0.8"/>
<line x1="557.02" y1="225.98" x2="557.02" y2="222.65" stroke="#7a0818" stroke-width="0.8"/>
<line x1="557.65" y1="225.8" x2="557.65" y2="222.47" stroke="#a01424" stroke-width="0.8"/>
<line x1="558.84" y1="225.45" x2="558.84" y2="222.55" stroke="#7a0818" stroke-width="0.8"/>
<line x1="559.69" y1="225.21" x2="559.69" y2="221.64" stroke="#a01424" stroke-width="0.8"/>
<polygon points="534.9,233 535.3,180 535.7,178.8 536.1,180 536.6,233" fill="#6a0616"/>
<line x1="535.75" y1="185" x2="535.75" y2="230" stroke="#a04050" stroke-width="0.5"/>
<polygon points="617.4,241.8 618.7,222.8 620.0,241.8" fill="#a01828"/>
<line x1="588.98" y1="86.57" x2="657.42" y2="109.03" stroke="#1e1e1e" stroke-width="1.3"/>
<polygon points="661.6,110.4 655.66,110.87 657.09,106.5" fill="#1e1e1e"/>
<polygon points="584.8,85.2 590.74,84.73 589.31,89.1" fill="#1e1e1e"/>
<line x1="628.44" y1="138.34" x2="657.06" y2="124.06" stroke="#1e1e1e" stroke-width="1.3"/>
<polygon points="661,122.1 657.1,126.61 655.05,122.5" fill="#1e1e1e"/>
<polygon points="624.5,140.3 628.4,135.79 630.45,139.9" fill="#1e1e1e"/>
<line x1="589" y1="162" x2="599.17" y2="163.89" stroke="#1e1e1e" stroke-width="1.3"/>
<polygon points="603.5,164.7 597.67,165.95 598.51,161.43" fill="#1e1e1e"/>
<line x1="565.4" y1="173" x2="541.52" y2="199.91" stroke="#1e1e1e" stroke-width="1.3"/>
<polygon points="538.6,203.2 540.53,197.56 543.97,200.61" fill="#1e1e1e"/>
<line x1="643" y1="225.8" x2="626.5" y2="230.98" stroke="#1e1e1e" stroke-width="1.3"/>
<polygon points="622.3,232.3 626.86,228.46 628.24,232.85" fill="#1e1e1e"/>
<text x="631.4" y="66" font-size="10.3" font-weight="bold" fill="#262626">1 mA HF</text>
<text x="631.2" y="199.3" font-size="10.3" font-weight="bold" fill="#262626">6 mA HF</text>
<text x="586.2" y="158.8" font-size="8.2" text-anchor="end" fill="#262626">HF Onset</text>
<text x="586.2" y="167.6" font-size="8.2" text-anchor="end" fill="#262626">Response</text>
<text x="630.9" y="148" font-size="8.2" fill="#262626">HF induced</text>
<text x="630.9" y="157.1" font-size="8.2" fill="#262626">asynchronous</text>
<text x="630.9" y="166.2" font-size="8.2" fill="#262626">responses</text>
<text x="681.6" y="223.2" font-size="8.2" text-anchor="end" fill="#262626">HF Offset</text>
<text x="681.2" y="232.6" font-size="8.2" text-anchor="end" fill="#262626">Response</text>
<text x="634.3" y="273.1" font-size="8.2" fill="#262626">Reduced</text>
<text x="634.3" y="283" font-size="8.2" fill="#262626">asynchronous</text>
<text x="634.3" y="292.9" font-size="8.2" fill="#262626">responses</text>
</svg>
</body></html>
